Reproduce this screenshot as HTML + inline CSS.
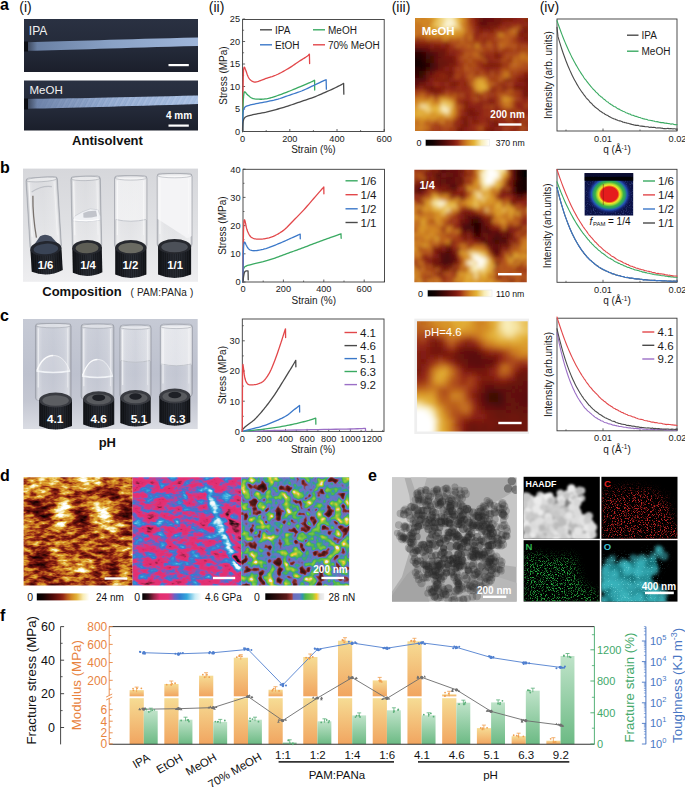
<!DOCTYPE html><html><head><meta charset="utf-8"><style>html,body{margin:0;padding:0;background:#fff;width:685px;height:787px;overflow:hidden}text{font-family:"Liberation Sans",sans-serif}</style></head><body><svg width="685" height="787" viewBox="0 0 685 787" style="display:block;font-family:'Liberation Sans',sans-serif">
<defs><linearGradient id="gOr" x1="0" y1="0" x2="0" y2="1"><stop offset="0" stop-color="#f6dc94"/><stop offset="1" stop-color="#f1a560"/></linearGradient><linearGradient id="gGr" x1="0" y1="0" x2="0" y2="1"><stop offset="0" stop-color="#bfe3c9"/><stop offset="1" stop-color="#6cba84"/></linearGradient><linearGradient id="phbg" x1="0" y1="0" x2="0" y2="1"><stop offset="0" stop-color="#2a3142"/><stop offset="0.6" stop-color="#232938"/><stop offset="1" stop-color="#1b1f2b"/></linearGradient><linearGradient id="fib1" x1="0" y1="0" x2="1" y2="0"><stop offset="0" stop-color="#3a4458"/><stop offset="0.06" stop-color="#6a80a4"/><stop offset="0.5" stop-color="#8aa2c6"/><stop offset="1" stop-color="#9fb6da"/></linearGradient><linearGradient id="fib2" x1="0" y1="0" x2="1" y2="0"><stop offset="0" stop-color="#3a4458"/><stop offset="0.06" stop-color="#6d82a8"/><stop offset="0.5" stop-color="#8ea6cc"/><stop offset="1" stop-color="#a4bce0"/></linearGradient><pattern id="fibtex" width="5" height="9" patternUnits="userSpaceOnUse" patternTransform="rotate(28)"><rect width="5" height="9" fill="none"/><line x1="1" y1="0" x2="1" y2="9" stroke="#dce8ff" stroke-width="0.7" opacity="0.6"/><line x1="3.2" y1="0" x2="3.2" y2="9" stroke="#c8d8f4" stroke-width="0.5" opacity="0.45"/></pattern><linearGradient id="fibmaskg" x1="0" y1="0" x2="1" y2="0"><stop offset="0" stop-color="#fff" stop-opacity="0"/><stop offset="0.2" stop-color="#fff" stop-opacity="0.5"/><stop offset="0.6" stop-color="#fff" stop-opacity="1"/></linearGradient><mask id="fibmask" maskUnits="userSpaceOnUse" x="24" y="90" width="174" height="25"><rect x="30" y="90" width="168" height="25" fill="url(#fibmaskg)"/></mask><linearGradient id="bgB" x1="0" y1="0" x2="0" y2="1"><stop offset="0" stop-color="#d6d7db"/><stop offset="0.5" stop-color="#dfe0e3"/><stop offset="1" stop-color="#eeeef0"/></linearGradient><linearGradient id="bgC" x1="0" y1="0" x2="0" y2="1"><stop offset="0" stop-color="#c6cad5"/><stop offset="0.5" stop-color="#bdc1ce"/><stop offset="0.75" stop-color="#c4c7d2"/><stop offset="1" stop-color="#dadce3"/></linearGradient><linearGradient id="glass" x1="0" y1="0" x2="1" y2="0"><stop offset="0" stop-color="#8c9098" stop-opacity="0.55"/><stop offset="0.08" stop-color="#ffffff" stop-opacity="0.35"/><stop offset="0.2" stop-color="#ffffff" stop-opacity="0.15"/><stop offset="0.5" stop-color="#ffffff" stop-opacity="0.08"/><stop offset="0.8" stop-color="#ffffff" stop-opacity="0.2"/><stop offset="0.93" stop-color="#ffffff" stop-opacity="0.4"/><stop offset="1" stop-color="#80848c" stop-opacity="0.55"/></linearGradient><linearGradient id="cap" x1="0" y1="0" x2="1" y2="0"><stop offset="0" stop-color="#121418"/><stop offset="0.3" stop-color="#22252c"/><stop offset="0.6" stop-color="#2a2e36"/><stop offset="1" stop-color="#15171c"/></linearGradient><pattern id="ribs" width="2.2" height="10" patternUnits="userSpaceOnUse"><rect width="2.2" height="10" fill="none"/><rect x="0" width="0.8" height="10" fill="#000" opacity="0.35"/></pattern><linearGradient id="gel" x1="0" y1="0" x2="1" y2="0"><stop offset="0" stop-color="#f4f4f6" stop-opacity="0.65"/><stop offset="0.5" stop-color="#ffffff" stop-opacity="0.5"/><stop offset="1" stop-color="#f0f0f2" stop-opacity="0.7"/></linearGradient><linearGradient id="gel2" x1="0" y1="0" x2="1" y2="0"><stop offset="0" stop-color="#f4f4f6" stop-opacity="0.35"/><stop offset="0.5" stop-color="#ffffff" stop-opacity="0.2"/><stop offset="1" stop-color="#f0f0f2" stop-opacity="0.4"/></linearGradient><linearGradient id="afmcb" x1="0" y1="0" x2="1" y2="0"><stop offset="0" stop-color="#000000"/><stop offset="0.12" stop-color="#140202"/><stop offset="0.3" stop-color="#4e0a08"/><stop offset="0.44" stop-color="#7d1a10"/><stop offset="0.5" stop-color="#962a16"/><stop offset="0.58" stop-color="#b95c1e"/><stop offset="0.66" stop-color="#d28723"/><stop offset="0.76" stop-color="#e4b237"/><stop offset="0.88" stop-color="#f8ecb4"/><stop offset="1.0" stop-color="#ffffff"/></linearGradient><clipPath id="hc1"><rect x="415" y="18" width="113" height="113"/></clipPath><filter id="hb1" x="-5%" y="-5%" width="110%" height="110%"><feGaussianBlur stdDeviation="2.26"/></filter><clipPath id="hc2"><rect x="414.3" y="169.7" width="112.5" height="112.6"/></clipPath><filter id="hb2" x="-5%" y="-5%" width="110%" height="110%"><feGaussianBlur stdDeviation="2.11"/></filter><clipPath id="hc3"><rect x="417" y="321.2" width="110.7" height="110.2"/></clipPath><filter id="hb3" x="-5%" y="-5%" width="110%" height="110%"><feGaussianBlur stdDeviation="2.54"/></filter><linearGradient id="d2cb" x1="0" y1="0" x2="1" y2="0"><stop offset="0" stop-color="#000000"/><stop offset="0.1" stop-color="#301018"/><stop offset="0.2" stop-color="#962446"/><stop offset="0.3" stop-color="#e22e70"/><stop offset="0.44" stop-color="#e43276"/><stop offset="0.5" stop-color="#b4469c"/><stop offset="0.55" stop-color="#6e60c4"/><stop offset="0.64" stop-color="#327cd0"/><stop offset="0.76" stop-color="#34a8dc"/><stop offset="0.9" stop-color="#c8ecf6"/><stop offset="1.0" stop-color="#fafcfc"/></linearGradient><linearGradient id="d3cb" x1="0" y1="0" x2="1" y2="0"><stop offset="0" stop-color="#000000"/><stop offset="0.2" stop-color="#300e0e"/><stop offset="0.36" stop-color="#5a1a1a"/><stop offset="0.45" stop-color="#a03c3c"/><stop offset="0.48" stop-color="#6e6ebe"/><stop offset="0.58" stop-color="#6878c4"/><stop offset="0.63" stop-color="#3096aa"/><stop offset="0.68" stop-color="#4cb44c"/><stop offset="0.8" stop-color="#8cca3c"/><stop offset="0.87" stop-color="#f2c828"/><stop offset="0.93" stop-color="#e4e4e4"/><stop offset="1.0" stop-color="#f0f0f0"/></linearGradient><clipPath id="hc4"><rect x="23.6" y="477.3" width="109" height="108.3"/></clipPath><filter id="hf4" filterUnits="userSpaceOnUse" x="18.645454545454548" y="472.3772727272727" width="118.9090909090909" height="118.14545454545454" color-interpolation-filters="sRGB"><feGaussianBlur in="SourceGraphic" stdDeviation="2.46" result="b"/><feTurbulence type="fractalNoise" baseFrequency="0.1 0.22" numOctaves="3" seed="11" result="t"/><feColorMatrix in="t" type="matrix" values="1 0 0 0 0 1 0 0 0 0 1 0 0 0 0 0 0 0 0 1" result="tg"/><feComposite in="b" in2="tg" operator="arithmetic" k1="0" k2="1" k3="0.9" k4="-0.45" result="hh"/><feComponentTransfer in="hh"><feFuncR type="table" tableValues="0.000 0.020 0.041 0.061 0.085 0.124 0.164 0.203 0.243 0.282 0.322 0.363 0.405 0.446 0.487 0.537 0.588 0.642 0.695 0.742 0.781 0.819 0.843 0.865 0.887 0.908 0.928 0.949 0.969 0.979 0.986 0.993 1.000"/><feFuncG type="table" tableValues="0.000 0.002 0.004 0.006 0.009 0.014 0.020 0.025 0.031 0.036 0.045 0.059 0.073 0.087 0.101 0.132 0.165 0.241 0.318 0.390 0.456 0.522 0.576 0.628 0.681 0.738 0.798 0.857 0.916 0.942 0.961 0.981 1.000"/><feFuncB type="table" tableValues="0.000 0.002 0.004 0.006 0.008 0.013 0.017 0.021 0.025 0.029 0.034 0.041 0.048 0.055 0.062 0.074 0.086 0.099 0.111 0.121 0.129 0.136 0.159 0.183 0.208 0.302 0.430 0.558 0.685 0.770 0.847 0.923 1.000"/></feComponentTransfer></filter><clipPath id="hc5"><rect x="132.6" y="477.3" width="108.6" height="108.3"/></clipPath><filter id="hf5" filterUnits="userSpaceOnUse" x="125.8125" y="470.53125" width="122.175" height="121.83749999999999" color-interpolation-filters="sRGB"><feGaussianBlur in="SourceGraphic" stdDeviation="1.30" result="b"/><feTurbulence type="fractalNoise" baseFrequency="0.09 0.15" numOctaves="3" seed="21" result="t"/><feColorMatrix in="t" type="matrix" values="1 0 0 0 0 1 0 0 0 0 1 0 0 0 0 0 0 0 0 1" result="tg"/><feComposite in="b" in2="tg" operator="arithmetic" k1="0" k2="1" k3="0.9" k4="-0.45" result="hh"/><feComponentTransfer in="hh"><feFuncR type="table" tableValues="0.000 0.059 0.118 0.176 0.288 0.413 0.538 0.644 0.737 0.830 0.887 0.889 0.890 0.892 0.894 0.804 0.706 0.534 0.399 0.317 0.235 0.197 0.199 0.201 0.203 0.292 0.422 0.551 0.681 0.797 0.858 0.919 0.980"/><feFuncG type="table" tableValues="0.000 0.020 0.039 0.059 0.082 0.107 0.131 0.149 0.161 0.173 0.182 0.185 0.189 0.192 0.196 0.234 0.275 0.338 0.392 0.430 0.468 0.510 0.555 0.600 0.644 0.699 0.759 0.818 0.878 0.929 0.949 0.969 0.988"/><feFuncB type="table" tableValues="0.000 0.029 0.059 0.088 0.139 0.196 0.252 0.305 0.357 0.408 0.441 0.447 0.452 0.457 0.462 0.534 0.612 0.710 0.775 0.792 0.808 0.822 0.834 0.847 0.859 0.878 0.901 0.924 0.946 0.966 0.974 0.981 0.988"/></feComponentTransfer></filter><clipPath id="hc6"><rect x="241.2" y="477.3" width="108" height="108.3"/></clipPath><filter id="hf6" filterUnits="userSpaceOnUse" x="227.7" y="463.7625" width="135.0" height="135.375" color-interpolation-filters="sRGB"><feGaussianBlur in="SourceGraphic" stdDeviation="6.75" result="b"/><feTurbulence type="fractalNoise" baseFrequency="0.12" numOctaves="2" seed="33" result="t"/><feColorMatrix in="t" type="matrix" values="1 0 0 0 0 1 0 0 0 0 1 0 0 0 0 0 0 0 0 1" result="tg"/><feComposite in="b" in2="tg" operator="arithmetic" k1="0" k2="1" k3="1.15" k4="-0.575" result="hh"/><feComponentTransfer in="hh"><feFuncR type="table" tableValues="0.000 0.029 0.059 0.088 0.118 0.147 0.176 0.208 0.240 0.272 0.304 0.336 0.399 0.494 0.589 0.505 0.427 0.419 0.412 0.347 0.210 0.246 0.314 0.379 0.444 0.510 0.620 0.799 0.944 0.916 0.899 0.920 0.941"/><feFuncG type="table" tableValues="0.000 0.009 0.017 0.026 0.034 0.043 0.051 0.060 0.070 0.079 0.088 0.097 0.124 0.170 0.217 0.358 0.439 0.451 0.464 0.503 0.576 0.650 0.711 0.734 0.756 0.779 0.791 0.787 0.793 0.851 0.899 0.920 0.941"/><feFuncB type="table" tableValues="0.000 0.009 0.017 0.026 0.034 0.043 0.051 0.060 0.070 0.079 0.088 0.097 0.124 0.170 0.217 0.554 0.750 0.757 0.765 0.741 0.677 0.473 0.294 0.278 0.261 0.245 0.221 0.186 0.218 0.602 0.899 0.920 0.941"/></feComponentTransfer></filter><clipPath id="temc"><rect x="391.9" y="477.3" width="124.9" height="124.5"/></clipPath><filter id="temblur" x="-10%" y="-10%" width="120%" height="120%"><feGaussianBlur stdDeviation="0.55"/></filter><clipPath id="hdc"><rect x="523.6" y="476.8" width="76.2" height="62.0"/></clipPath><filter id="hdb" x="-10%" y="-10%" width="120%" height="120%"><feGaussianBlur stdDeviation="0.85"/></filter><filter id="spC" filterUnits="userSpaceOnUse" x="520" y="470" width="165" height="140" color-interpolation-filters="sRGB"><feTurbulence type="fractalNoise" baseFrequency="1.3" numOctaves="1" seed="4" result="t"/><feColorMatrix in="t" type="matrix" values="0 0 0 0 0.784 0 0 0 0 0.141 0 0 0 0 0.141 6 0 0 0 -3.1" result="dots"/><feGaussianBlur in="SourceGraphic" stdDeviation="5" result="m"/><feComposite in="dots" in2="m" operator="in"/></filter><clipPath id="cpC"><rect x="601.4" y="476.8" width="76.1" height="62.0"/></clipPath><filter id="spN" filterUnits="userSpaceOnUse" x="520" y="470" width="165" height="140" color-interpolation-filters="sRGB"><feTurbulence type="fractalNoise" baseFrequency="1.3" numOctaves="1" seed="5" result="t"/><feColorMatrix in="t" type="matrix" values="0 0 0 0 0.141 0 0 0 0 0.667 0 0 0 0 0.251 6 0 0 0 -3.1" result="dots"/><feGaussianBlur in="SourceGraphic" stdDeviation="5" result="m"/><feComposite in="dots" in2="m" operator="in"/></filter><clipPath id="cpN"><rect x="523.6" y="540.2" width="76.2" height="61.4"/></clipPath><clipPath id="cpO"><rect x="601.4" y="540.2" width="76.1" height="61.4"/></clipPath><filter id="ob" x="-10%" y="-10%" width="120%" height="120%"><feGaussianBlur stdDeviation="1.6"/></filter><filter id="spO" filterUnits="userSpaceOnUse" x="520" y="470" width="165" height="140" color-interpolation-filters="sRGB"><feTurbulence type="fractalNoise" baseFrequency="1.3" numOctaves="1" seed="8" result="t"/><feColorMatrix in="t" type="matrix" values="0 0 0 0 0.431 0 0 0 0 0.824 0 0 0 0 0.843 5 0 0 0 -3.0" result="dots"/><feGaussianBlur in="SourceGraphic" stdDeviation="4" result="m"/><feComposite in="dots" in2="m" operator="in"/></filter><radialGradient id="saxs" cx="0.5" cy="0.5" r="0.5"><stop offset="0" stop-color="#e51d1d"/><stop offset="0.36" stop-color="#e51d1d"/><stop offset="0.40" stop-color="#f07a18"/><stop offset="0.45" stop-color="#f2e62a"/><stop offset="0.52" stop-color="#a8d834"/><stop offset="0.6" stop-color="#3cb446"/><stop offset="0.68" stop-color="#2a9c6a"/><stop offset="0.76" stop-color="#2456b8"/><stop offset="0.88" stop-color="#142070" stop-opacity="0.6"/><stop offset="1" stop-color="#0b1348" stop-opacity="0"/></radialGradient><clipPath id="saxc"><rect x="584.4" y="173.1" width="49" height="42.6"/></clipPath><filter id="saxn" filterUnits="userSpaceOnUse" x="584" y="173" width="50" height="43"><feTurbulence type="fractalNoise" baseFrequency="0.9" numOctaves="1" seed="4" result="t"/><feColorMatrix in="t" type="matrix" values="0 0 0 0 0.3 0 0 0 0 0.45 0 0 0 0 1 3 0 0 0 -1.5"/></filter></defs>
<style>.hm1 rect{width:4.17px;height:4.17px}.hm2 rect{width:3.92px;height:3.92px}.hm3 rect{width:4.66px;height:4.64px}.hm4 rect{width:5.35px;height:5.32px}.hm5 rect{width:7.19px;height:7.17px}.hm6 rect{width:13.90px;height:13.94px}</style>
<rect width="685" height="787" fill="#fff"/>
<rect x="24" y="19" width="174" height="53" fill="url(#phbg)"/>
<rect x="24" y="80.5" width="174" height="50" fill="url(#phbg)"/>
<path d="M27,42.2 C70,41.5 120,39.3 198,37.6 L198,45.9 C120,47.9 70,49.8 27,50.8 Z" fill="url(#fib1)"/>
<rect x="24" y="41.5" width="4" height="10" fill="#0c0e14"/>
<path d="M27,99 C70,98.6 120,97.6 198,95.6 L198,104 C120,106.5 70,107.8 27,108.8 Z" fill="url(#fib2)"/>
<path d="M30,99 C70,98.6 120,97.6 198,95.6 L198,104 C120,106.5 70,107.8 30,108.8 Z" fill="url(#fibtex)" mask="url(#fibmask)"/>
<rect x="24" y="98.5" width="4" height="11" fill="#0c0e14"/>
<text x="28.8" y="35" font-size="12" fill="#f2f2f2">IPA</text>
<text x="29.5" y="94.2" font-size="11.5" fill="#f2f2f2">MeOH</text>
<rect x="168.5" y="64" width="20.3" height="2.2" fill="#fff"/>
<rect x="168.5" y="124.5" width="20.3" height="2.2" fill="#fff"/>
<text x="179" y="119.3" font-size="10" font-weight="bold" fill="#fff" text-anchor="middle">4 mm</text>
<text x="107.5" y="145.3" font-size="13" font-weight="bold" fill="#111" text-anchor="middle">Antisolvent</text>
<rect x="23" y="168.6" width="175" height="113.2" fill="url(#bgB)"/>
<g transform="rotate(-3.5 44.5 226.1)"><rect x="28.75" y="177.20" width="31.50" height="71.80" rx="3" fill="url(#glass)" stroke="#7e828c" stroke-opacity="0.45" stroke-width="0.8"/><path d="M30.75,247.00 L39.50,236.00 Q44.50,233.00 50.50,237.00 L58.75,247.00 Z" fill="#3c4658" opacity="0.95"/><path d="M34.75,195.20 Q33.25,215.20 35.75,237.20" stroke="#4a4038" stroke-width="1.3" fill="none" opacity="0.7"/><path d="M33.75,191.20 Q44.50,185.20 54.25,187.20" stroke="#a8acb4" stroke-width="1.2" fill="none" opacity="0.6"/><ellipse cx="44.50" cy="179.40" rx="15.35" ry="2.2" fill="#ffffff" fill-opacity="0.35" stroke="#8a8e98" stroke-opacity="0.6" stroke-width="0.7"/><rect x="30.95" y="182.20" width="1.2" height="53.80" fill="#fff" opacity="0.55"/><rect x="56.25" y="182.20" width="1" height="53.80" fill="#fff" opacity="0.4"/><path d="M29.00,248.50 L29.00,271.00 Q44.50,278.00 60.00,271.00 L60.00,248.50 Z" fill="url(#cap)"/><path d="M29.00,248.50 L29.00,271.00 Q44.50,278.00 60.00,271.00 L60.00,248.50 Z" fill="url(#ribs)"/><ellipse cx="44.50" cy="248.50" rx="15.50" ry="7.5" fill="#23262e"/><ellipse cx="44.50" cy="249.00" rx="12.30" ry="5.3" fill="#3a4456"/></g>
<g transform="rotate(-1.2 86.6 226.35)"><rect x="71.85" y="176.20" width="29.50" height="71.80" rx="3" fill="url(#glass)" stroke="#7e828c" stroke-opacity="0.45" stroke-width="0.8"/><path d="M72.65,220.50 L74.85,216.00 Q82.60,211.00 90.60,209.00 L98.35,210.00 L100.55,216.50 L100.55,220.50 Q86.60,223.00 72.65,220.50 Z" fill="#f2f4f7" fill-opacity="0.8" stroke="#a0a4ae" stroke-opacity="0.5" stroke-width="0.6"/><path d="M83.60,213.00 Q88.60,210.50 96.35,211.00 L97.35,216.50 Q88.60,218.50 83.60,217.50 Z" fill="#8a8e98" fill-opacity="0.45"/><path d="M73.85,219.50 Q86.60,222.00 99.35,219.50" stroke="#ffffff" stroke-width="1" fill="none" opacity="0.9"/><ellipse cx="86.60" cy="178.40" rx="14.35" ry="2.2" fill="#ffffff" fill-opacity="0.35" stroke="#8a8e98" stroke-opacity="0.6" stroke-width="0.7"/><rect x="74.05" y="181.20" width="1.2" height="53.80" fill="#fff" opacity="0.55"/><rect x="97.35" y="181.20" width="1" height="53.80" fill="#fff" opacity="0.4"/><path d="M71.85,247.50 L71.85,272.50 Q86.60,279.50 101.35,272.50 L101.35,247.50 Z" fill="url(#cap)"/><path d="M71.85,247.50 L71.85,272.50 Q86.60,279.50 101.35,272.50 L101.35,247.50 Z" fill="url(#ribs)"/><ellipse cx="86.60" cy="247.50" rx="14.75" ry="7.5" fill="#26282e"/><ellipse cx="86.60" cy="248.00" rx="11.55" ry="5.3" fill="#5e5e56"/></g>
<g transform="rotate(0 130.8 227.15)"><rect x="114.55" y="175.70" width="32.50" height="72.30" rx="3" fill="url(#glass)" stroke="#7e828c" stroke-opacity="0.45" stroke-width="0.8"/><path d="M115.15,177.70 L146.45,177.70 L146.45,220.00 Q130.80,223.00 115.15,220.00 Z" fill="url(#gel)"/><path d="M115.55,219.50 Q130.80,223.00 146.05,219.50" stroke="#b8bcc4" stroke-width="0.9" fill="none" opacity="0.9"/><ellipse cx="130.80" cy="177.90" rx="15.85" ry="2.2" fill="#ffffff" fill-opacity="0.35" stroke="#8a8e98" stroke-opacity="0.6" stroke-width="0.7"/><rect x="116.75" y="180.70" width="1.2" height="54.30" fill="#fff" opacity="0.55"/><rect x="143.05" y="180.70" width="1" height="54.30" fill="#fff" opacity="0.4"/><path d="M115.20,247.50 L115.20,274.60 Q130.80,281.60 146.40,274.60 L146.40,247.50 Z" fill="url(#cap)"/><path d="M115.20,247.50 L115.20,274.60 Q130.80,281.60 146.40,274.60 L146.40,247.50 Z" fill="url(#ribs)"/><ellipse cx="130.80" cy="247.50" rx="15.60" ry="7.5" fill="#26282e"/><ellipse cx="130.80" cy="248.00" rx="12.40" ry="5.3" fill="#6a6a62"/></g>
<g transform="rotate(0 174.6 226.0)"><rect x="157.10" y="173.40" width="35.00" height="73.60" rx="3" fill="url(#glass)" stroke="#7e828c" stroke-opacity="0.45" stroke-width="0.8"/><path d="M157.70,175.40 L191.50,175.40 L191.50,236.00 Q187.10,240.00 184.10,236.00 L157.70,219.00 Z" fill="#f4f4f6"/><ellipse cx="174.60" cy="175.60" rx="17.10" ry="2.2" fill="#ffffff" fill-opacity="0.35" stroke="#8a8e98" stroke-opacity="0.6" stroke-width="0.7"/><rect x="159.30" y="178.40" width="1.2" height="55.60" fill="#fff" opacity="0.55"/><rect x="188.10" y="178.40" width="1" height="55.60" fill="#fff" opacity="0.4"/><path d="M158.10,246.50 L158.10,274.60 Q174.60,281.60 191.10,274.60 L191.10,246.50 Z" fill="url(#cap)"/><path d="M158.10,246.50 L158.10,274.60 Q174.60,281.60 191.10,274.60 L191.10,246.50 Z" fill="url(#ribs)"/><ellipse cx="174.60" cy="246.50" rx="16.50" ry="7.5" fill="#26282e"/><ellipse cx="174.60" cy="247.00" rx="13.30" ry="5.3" fill="#4c5058"/></g>
<text x="45.5" y="268.6" font-size="11.3" font-weight="bold" fill="#fff" text-anchor="middle">1/6</text>
<text x="88" y="268.6" font-size="11.3" font-weight="bold" fill="#fff" text-anchor="middle">1/4</text>
<text x="130.4" y="268.6" font-size="11.3" font-weight="bold" fill="#fff" text-anchor="middle">1/2</text>
<text x="175.2" y="268.6" font-size="11.3" font-weight="bold" fill="#fff" text-anchor="middle">1/1</text>
<text x="82" y="296" font-size="13" font-weight="bold" fill="#111" text-anchor="middle">Composition</text>
<text x="162" y="295.5" font-size="10" fill="#222" text-anchor="middle" letter-spacing="0.1">(<tspan dx="3">PAM:PANa</tspan><tspan dx="3">)</tspan></text>
<rect x="23" y="319" width="174.7" height="110" fill="url(#bgC)"/>
<g transform="rotate(0 53.3 376.7)"><rect x="35.45" y="323.40" width="35.70" height="77.10" rx="3" fill="url(#glass)" stroke="#7e828c" stroke-opacity="0.45" stroke-width="0.8"/><path d="M36.45,371.00 C41.45,358.20 47.30,355.00 53.30,355.00 C59.30,355.00 65.15,358.20 70.15,371.00 Q53.30,374.00 36.45,371.00 Z" fill="#ffffff" fill-opacity="0.16"/><path d="M36.95,370.50 C41.45,359.00 47.30,355.50 53.30,355.50" stroke="#ffffff" stroke-width="1.3" fill="none" opacity="0.9"/><path d="M53.30,355.50 C59.30,355.50 65.15,359.00 69.65,370.50" stroke="#ffffff" stroke-width="0.9" fill="none" opacity="0.6"/><path d="M36.45,371.00 Q53.30,374.00 70.15,371.00" stroke="#f4f6fa" stroke-width="1.4" fill="none" opacity="0.9"/><ellipse cx="53.30" cy="325.60" rx="17.45" ry="2.2" fill="#ffffff" fill-opacity="0.35" stroke="#8a8e98" stroke-opacity="0.6" stroke-width="0.7"/><rect x="37.65" y="328.40" width="1.2" height="59.10" fill="#fff" opacity="0.55"/><rect x="67.15" y="328.40" width="1" height="59.10" fill="#fff" opacity="0.4"/><path d="M39.20,400.00 L39.20,426.00 Q55.60,433.00 72.00,426.00 L72.00,400.00 Z" fill="url(#cap)"/><path d="M39.20,400.00 L39.20,426.00 Q55.60,433.00 72.00,426.00 L72.00,400.00 Z" fill="url(#ribs)"/><ellipse cx="55.60" cy="400.00" rx="16.40" ry="7.5" fill="#3a3c42"/><ellipse cx="55.60" cy="400.50" rx="13.20" ry="5.3" fill="#5c5e62"/></g>
<g transform="rotate(0 97.5 376.3)"><rect x="81.00" y="324.00" width="33.00" height="75.20" rx="3" fill="url(#glass)" stroke="#7e828c" stroke-opacity="0.45" stroke-width="0.8"/><path d="M82.00,376.00 C87.00,362.40 91.50,359.00 97.50,359.00 C103.50,359.00 108.00,362.40 113.00,376.00 Q97.50,379.00 82.00,376.00 Z" fill="#ffffff" fill-opacity="0.16"/><path d="M82.50,375.50 C87.00,363.25 91.50,359.50 97.50,359.50" stroke="#ffffff" stroke-width="1.3" fill="none" opacity="0.9"/><path d="M97.50,359.50 C103.50,359.50 108.00,363.25 112.50,375.50" stroke="#ffffff" stroke-width="0.9" fill="none" opacity="0.6"/><path d="M82.00,376.00 Q97.50,379.00 113.00,376.00" stroke="#f4f6fa" stroke-width="1.4" fill="none" opacity="0.9"/><ellipse cx="97.50" cy="326.20" rx="16.10" ry="2.2" fill="#ffffff" fill-opacity="0.35" stroke="#8a8e98" stroke-opacity="0.6" stroke-width="0.7"/><rect x="83.20" y="329.00" width="1.2" height="57.20" fill="#fff" opacity="0.55"/><rect x="110.00" y="329.00" width="1" height="57.20" fill="#fff" opacity="0.4"/><path d="M83.20,398.70 L83.20,424.60 Q98.70,431.60 114.20,424.60 L114.20,398.70 Z" fill="url(#cap)"/><path d="M83.20,398.70 L83.20,424.60 Q98.70,431.60 114.20,424.60 L114.20,398.70 Z" fill="url(#ribs)"/><ellipse cx="98.70" cy="398.70" rx="15.50" ry="7.5" fill="#3a3c42"/><ellipse cx="98.70" cy="399.20" rx="12.30" ry="5.3" fill="#585a5e"/><ellipse cx="98.70" cy="397.70" rx="6.50" ry="3.3" fill="#1e2026"/></g>
<g transform="rotate(0 135.5 376.0)"><rect x="119.85" y="325.00" width="31.30" height="73.00" rx="3" fill="url(#glass)" stroke="#7e828c" stroke-opacity="0.45" stroke-width="0.8"/><path d="M120.45,327.00 L150.55,327.00 L150.55,361.00 Q135.50,364.00 120.45,361.00 Z" fill="url(#gel2)"/><path d="M120.85,360.50 Q135.50,364.00 150.15,360.50" stroke="#b8bcc4" stroke-width="0.9" fill="none" opacity="0.9"/><ellipse cx="135.50" cy="327.20" rx="15.25" ry="2.2" fill="#ffffff" fill-opacity="0.35" stroke="#8a8e98" stroke-opacity="0.6" stroke-width="0.7"/><rect x="122.05" y="330.00" width="1.2" height="55.00" fill="#fff" opacity="0.55"/><rect x="147.15" y="330.00" width="1" height="55.00" fill="#fff" opacity="0.4"/><path d="M120.30,397.50 L120.30,423.00 Q135.50,430.00 150.70,423.00 L150.70,397.50 Z" fill="url(#cap)"/><path d="M120.30,397.50 L120.30,423.00 Q135.50,430.00 150.70,423.00 L150.70,397.50 Z" fill="url(#ribs)"/><ellipse cx="135.50" cy="397.50" rx="15.20" ry="7.5" fill="#3a3c42"/><ellipse cx="135.50" cy="398.00" rx="12.00" ry="5.3" fill="#585a5e"/><ellipse cx="135.50" cy="396.50" rx="6.20" ry="3.3" fill="#1e2026"/></g>
<g transform="rotate(0 176.3 375.25)"><rect x="160.25" y="324.20" width="32.10" height="72.30" rx="3" fill="url(#glass)" stroke="#7e828c" stroke-opacity="0.45" stroke-width="0.8"/><path d="M160.85,326.20 L191.75,326.20 L191.75,364.50 Q176.30,367.50 160.85,364.50 Z" fill="url(#gel)"/><path d="M161.25,364.00 Q176.30,367.50 191.35,364.00" stroke="#b8bcc4" stroke-width="0.9" fill="none" opacity="0.9"/><ellipse cx="176.30" cy="326.40" rx="15.65" ry="2.2" fill="#ffffff" fill-opacity="0.35" stroke="#8a8e98" stroke-opacity="0.6" stroke-width="0.7"/><rect x="162.45" y="329.20" width="1.2" height="54.30" fill="#fff" opacity="0.55"/><rect x="188.35" y="329.20" width="1" height="54.30" fill="#fff" opacity="0.4"/><path d="M159.30,396.00 L159.30,422.30 Q174.80,429.30 190.30,422.30 L190.30,396.00 Z" fill="url(#cap)"/><path d="M159.30,396.00 L159.30,422.30 Q174.80,429.30 190.30,422.30 L190.30,396.00 Z" fill="url(#ribs)"/><ellipse cx="174.80" cy="396.00" rx="15.50" ry="7.5" fill="#3a3c42"/><ellipse cx="174.80" cy="396.50" rx="12.30" ry="5.3" fill="#585a5e"/><ellipse cx="174.80" cy="395.00" rx="6.50" ry="3.3" fill="#1e2026"/></g>
<text x="55.2" y="422.7" font-size="11.8" font-weight="bold" fill="#fff" text-anchor="middle">4.1</text>
<text x="98.7" y="422.7" font-size="11.8" font-weight="bold" fill="#fff" text-anchor="middle">4.6</text>
<text x="139" y="422.7" font-size="11.8" font-weight="bold" fill="#fff" text-anchor="middle">5.1</text>
<text x="177.4" y="422.7" font-size="11.8" font-weight="bold" fill="#fff" text-anchor="middle">6.3</text>
<text x="107.3" y="447" font-size="13" font-weight="bold" fill="#111" text-anchor="middle">pH</text>
<g clip-path="url(#hc1)"><g class="hm1" filter="url(#hb1)" shape-rendering="crispEdges"><rect x="411.2" y="14.2" fill="#cd7e22"/><rect x="415.0" y="14.2" fill="#d18623"/><rect x="418.8" y="14.2" fill="#cd7f22"/><rect x="422.5" y="14.2" fill="#c0691f"/><rect x="426.3" y="14.2" fill="#db9c2d"/><rect x="430.1" y="14.2" fill="#dea430"/><rect x="433.8" y="14.2" fill="#dfa732"/><rect x="437.6" y="14.2" fill="#eece74"/><rect x="441.4" y="14.2" fill="#f4e09a"/><rect x="445.1" y="14.2" fill="#f8ecb6"/><rect x="448.9" y="14.2" fill="#f7e9ad"/><rect x="452.7" y="14.2" fill="#f4df98"/><rect x="456.4" y="14.2" fill="#e1aa33"/><rect x="460.2" y="14.2" fill="#d69228"/><rect x="464.0" y="14.2" fill="#bf661f"/><rect x="467.7" y="14.2" fill="#b2521c"/><rect x="471.5" y="14.2" fill="#8d2514"/><rect x="475.3" y="14.2" fill="#75170f"/><rect x="479.0" y="14.2" fill="#63110c"/><rect x="482.8" y="14.2" fill="#64120c"/><rect x="486.6" y="14.2" fill="#67120c"/><rect x="490.3" y="14.2" fill="#66120c"/><rect x="494.1" y="14.2" fill="#7f1b10"/><rect x="497.9" y="14.2" fill="#831e11"/><rect x="501.6" y="14.2" fill="#5d0f0b"/><rect x="505.4" y="14.2" fill="#6c140d"/><rect x="509.2" y="14.2" fill="#862012"/><rect x="512.9" y="14.2" fill="#861f12"/><rect x="516.7" y="14.2" fill="#902615"/><rect x="520.5" y="14.2" fill="#912715"/><rect x="524.2" y="14.2" fill="#ae4c1b"/><rect x="528.0" y="14.2" fill="#7e1a10"/><rect x="411.2" y="18.0" fill="#c36d20"/><rect x="415.0" y="18.0" fill="#d8962a"/><rect x="418.8" y="18.0" fill="#cf8222"/><rect x="422.5" y="18.0" fill="#d48b25"/><rect x="426.3" y="18.0" fill="#d18523"/><rect x="430.1" y="18.0" fill="#d08423"/><rect x="433.8" y="18.0" fill="#e5b43b"/><rect x="437.6" y="18.0" fill="#edcd71"/><rect x="441.4" y="18.0" fill="#efd17b"/><rect x="445.1" y="18.0" fill="#f8edb8"/><rect x="448.9" y="18.0" fill="#faf1c9"/><rect x="452.7" y="18.0" fill="#f1d788"/><rect x="456.4" y="18.0" fill="#e8bf53"/><rect x="460.2" y="18.0" fill="#da9a2c"/><rect x="464.0" y="18.0" fill="#c47020"/><rect x="467.7" y="18.0" fill="#9f3718"/><rect x="471.5" y="18.0" fill="#932815"/><rect x="475.3" y="18.0" fill="#811d11"/><rect x="479.0" y="18.0" fill="#6e150d"/><rect x="482.8" y="18.0" fill="#5b0e0a"/><rect x="486.6" y="18.0" fill="#6c140d"/><rect x="490.3" y="18.0" fill="#61100b"/><rect x="494.1" y="18.0" fill="#76180f"/><rect x="497.9" y="18.0" fill="#66120c"/><rect x="501.6" y="18.0" fill="#862012"/><rect x="505.4" y="18.0" fill="#801c11"/><rect x="509.2" y="18.0" fill="#75170f"/><rect x="512.9" y="18.0" fill="#851f12"/><rect x="516.7" y="18.0" fill="#8c2414"/><rect x="520.5" y="18.0" fill="#902615"/><rect x="524.2" y="18.0" fill="#7e1b10"/><rect x="528.0" y="18.0" fill="#7d1a10"/><rect x="411.2" y="21.8" fill="#cc7d22"/><rect x="415.0" y="21.8" fill="#c47020"/><rect x="418.8" y="21.8" fill="#ce7f22"/><rect x="422.5" y="21.8" fill="#d68f27"/><rect x="426.3" y="21.8" fill="#c67321"/><rect x="430.1" y="21.8" fill="#dea330"/><rect x="433.8" y="21.8" fill="#ebc765"/><rect x="437.6" y="21.8" fill="#ecc866"/><rect x="441.4" y="21.8" fill="#f2dc92"/><rect x="445.1" y="21.8" fill="#fcf7df"/><rect x="448.9" y="21.8" fill="#fbf5d9"/><rect x="452.7" y="21.8" fill="#faf2cb"/><rect x="456.4" y="21.8" fill="#e9c157"/><rect x="460.2" y="21.8" fill="#d28623"/><rect x="464.0" y="21.8" fill="#c67221"/><rect x="467.7" y="21.8" fill="#a53f19"/><rect x="471.5" y="21.8" fill="#9b3117"/><rect x="475.3" y="21.8" fill="#7d1a10"/><rect x="479.0" y="21.8" fill="#5c0f0a"/><rect x="482.8" y="21.8" fill="#5b0f0a"/><rect x="486.6" y="21.8" fill="#74170e"/><rect x="490.3" y="21.8" fill="#74170f"/><rect x="494.1" y="21.8" fill="#6b140d"/><rect x="497.9" y="21.8" fill="#79190f"/><rect x="501.6" y="21.8" fill="#872012"/><rect x="505.4" y="21.8" fill="#8f2514"/><rect x="509.2" y="21.8" fill="#9b3117"/><rect x="512.9" y="21.8" fill="#942815"/><rect x="516.7" y="21.8" fill="#8e2514"/><rect x="520.5" y="21.8" fill="#8b2313"/><rect x="524.2" y="21.8" fill="#9f3718"/><rect x="528.0" y="21.8" fill="#71160e"/><rect x="411.2" y="25.5" fill="#cc7d22"/><rect x="415.0" y="25.5" fill="#ce7f22"/><rect x="418.8" y="25.5" fill="#bf661f"/><rect x="422.5" y="25.5" fill="#d48c25"/><rect x="426.3" y="25.5" fill="#d18623"/><rect x="430.1" y="25.5" fill="#e0a933"/><rect x="433.8" y="25.5" fill="#e1aa33"/><rect x="437.6" y="25.5" fill="#edcc6f"/><rect x="441.4" y="25.5" fill="#f8ecb6"/><rect x="445.1" y="25.5" fill="#f9eebd"/><rect x="448.9" y="25.5" fill="#f5e29e"/><rect x="452.7" y="25.5" fill="#ebc661"/><rect x="456.4" y="25.5" fill="#f2db90"/><rect x="460.2" y="25.5" fill="#da992b"/><rect x="464.0" y="25.5" fill="#c26b20"/><rect x="467.7" y="25.5" fill="#b4551d"/><rect x="471.5" y="25.5" fill="#952916"/><rect x="475.3" y="25.5" fill="#902615"/><rect x="479.0" y="25.5" fill="#79190f"/><rect x="482.8" y="25.5" fill="#75170f"/><rect x="486.6" y="25.5" fill="#6d150d"/><rect x="490.3" y="25.5" fill="#801c11"/><rect x="494.1" y="25.5" fill="#74170e"/><rect x="497.9" y="25.5" fill="#942915"/><rect x="501.6" y="25.5" fill="#aa471b"/><rect x="505.4" y="25.5" fill="#882113"/><rect x="509.2" y="25.5" fill="#862012"/><rect x="512.9" y="25.5" fill="#ae4c1b"/><rect x="516.7" y="25.5" fill="#bb601e"/><rect x="520.5" y="25.5" fill="#811d11"/><rect x="524.2" y="25.5" fill="#7d1a10"/><rect x="528.0" y="25.5" fill="#982d16"/><rect x="411.2" y="29.3" fill="#c26c20"/><rect x="415.0" y="29.3" fill="#c67221"/><rect x="418.8" y="29.3" fill="#c87621"/><rect x="422.5" y="29.3" fill="#d38924"/><rect x="426.3" y="29.3" fill="#cd7e22"/><rect x="430.1" y="29.3" fill="#d69128"/><rect x="433.8" y="29.3" fill="#d89429"/><rect x="437.6" y="29.3" fill="#d9972a"/><rect x="441.4" y="29.3" fill="#e2ae35"/><rect x="445.1" y="29.3" fill="#e3b036"/><rect x="448.9" y="29.3" fill="#eac45e"/><rect x="452.7" y="29.3" fill="#e0a832"/><rect x="456.4" y="29.3" fill="#d89529"/><rect x="460.2" y="29.3" fill="#dea431"/><rect x="464.0" y="29.3" fill="#c67221"/><rect x="467.7" y="29.3" fill="#b3531d"/><rect x="471.5" y="29.3" fill="#a5401a"/><rect x="475.3" y="29.3" fill="#862012"/><rect x="479.0" y="29.3" fill="#7f1c11"/><rect x="482.8" y="29.3" fill="#862012"/><rect x="486.6" y="29.3" fill="#872112"/><rect x="490.3" y="29.3" fill="#7a1910"/><rect x="494.1" y="29.3" fill="#a13a19"/><rect x="497.9" y="29.3" fill="#962a16"/><rect x="501.6" y="29.3" fill="#982c16"/><rect x="505.4" y="29.3" fill="#a9461a"/><rect x="509.2" y="29.3" fill="#c26c20"/><rect x="512.9" y="29.3" fill="#cb7b22"/><rect x="516.7" y="29.3" fill="#851f12"/><rect x="520.5" y="29.3" fill="#8c2414"/><rect x="524.2" y="29.3" fill="#6c140d"/><rect x="528.0" y="29.3" fill="#882113"/><rect x="411.2" y="33.1" fill="#d18523"/><rect x="415.0" y="33.1" fill="#c46f20"/><rect x="418.8" y="33.1" fill="#c0681f"/><rect x="422.5" y="33.1" fill="#ca7921"/><rect x="426.3" y="33.1" fill="#d08323"/><rect x="430.1" y="33.1" fill="#d18623"/><rect x="433.8" y="33.1" fill="#dc9e2e"/><rect x="437.6" y="33.1" fill="#d38a24"/><rect x="441.4" y="33.1" fill="#d28623"/><rect x="445.1" y="33.1" fill="#d89529"/><rect x="448.9" y="33.1" fill="#da992b"/><rect x="452.7" y="33.1" fill="#da992b"/><rect x="456.4" y="33.1" fill="#d58f27"/><rect x="460.2" y="33.1" fill="#d18623"/><rect x="464.0" y="33.1" fill="#b04f1c"/><rect x="467.7" y="33.1" fill="#c26b20"/><rect x="471.5" y="33.1" fill="#9e3618"/><rect x="475.3" y="33.1" fill="#882113"/><rect x="479.0" y="33.1" fill="#9c3317"/><rect x="482.8" y="33.1" fill="#a6411a"/><rect x="486.6" y="33.1" fill="#9e3618"/><rect x="490.3" y="33.1" fill="#a23b19"/><rect x="494.1" y="33.1" fill="#9d3418"/><rect x="497.9" y="33.1" fill="#d48d26"/><rect x="501.6" y="33.1" fill="#c67221"/><rect x="505.4" y="33.1" fill="#b3531d"/><rect x="509.2" y="33.1" fill="#bc621f"/><rect x="512.9" y="33.1" fill="#b6571d"/><rect x="516.7" y="33.1" fill="#7f1b11"/><rect x="520.5" y="33.1" fill="#8b2313"/><rect x="524.2" y="33.1" fill="#7e1b10"/><rect x="528.0" y="33.1" fill="#992e17"/><rect x="411.2" y="36.8" fill="#be641f"/><rect x="415.0" y="36.8" fill="#882113"/><rect x="418.8" y="36.8" fill="#b1511c"/><rect x="422.5" y="36.8" fill="#982d16"/><rect x="426.3" y="36.8" fill="#bf671f"/><rect x="430.1" y="36.8" fill="#b4551d"/><rect x="433.8" y="36.8" fill="#bb5f1e"/><rect x="437.6" y="36.8" fill="#a5401a"/><rect x="441.4" y="36.8" fill="#ce8022"/><rect x="445.1" y="36.8" fill="#d38924"/><rect x="448.9" y="36.8" fill="#b3531d"/><rect x="452.7" y="36.8" fill="#c77321"/><rect x="456.4" y="36.8" fill="#bc611f"/><rect x="460.2" y="36.8" fill="#c16a20"/><rect x="464.0" y="36.8" fill="#ab481b"/><rect x="467.7" y="36.8" fill="#c97821"/><rect x="471.5" y="36.8" fill="#982d17"/><rect x="475.3" y="36.8" fill="#992e17"/><rect x="479.0" y="36.8" fill="#a03818"/><rect x="482.8" y="36.8" fill="#8f2514"/><rect x="486.6" y="36.8" fill="#9a3017"/><rect x="490.3" y="36.8" fill="#9e3518"/><rect x="494.1" y="36.8" fill="#af4e1c"/><rect x="497.9" y="36.8" fill="#a9451a"/><rect x="501.6" y="36.8" fill="#ba5d1e"/><rect x="505.4" y="36.8" fill="#bb5f1e"/><rect x="509.2" y="36.8" fill="#b04f1c"/><rect x="512.9" y="36.8" fill="#a33d19"/><rect x="516.7" y="36.8" fill="#8a2213"/><rect x="520.5" y="36.8" fill="#8e2514"/><rect x="524.2" y="36.8" fill="#7b1910"/><rect x="528.0" y="36.8" fill="#7f1b11"/><rect x="411.2" y="40.6" fill="#841f12"/><rect x="415.0" y="40.6" fill="#862012"/><rect x="418.8" y="40.6" fill="#7c1a10"/><rect x="422.5" y="40.6" fill="#972b16"/><rect x="426.3" y="40.6" fill="#811c11"/><rect x="430.1" y="40.6" fill="#892213"/><rect x="433.8" y="40.6" fill="#9c3217"/><rect x="437.6" y="40.6" fill="#9f3618"/><rect x="441.4" y="40.6" fill="#952916"/><rect x="445.1" y="40.6" fill="#811d11"/><rect x="448.9" y="40.6" fill="#ab481b"/><rect x="452.7" y="40.6" fill="#b0501c"/><rect x="456.4" y="40.6" fill="#9e3618"/><rect x="460.2" y="40.6" fill="#c16a20"/><rect x="464.0" y="40.6" fill="#ae4d1c"/><rect x="467.7" y="40.6" fill="#a33c19"/><rect x="471.5" y="40.6" fill="#ad4c1b"/><rect x="475.3" y="40.6" fill="#a23b19"/><rect x="479.0" y="40.6" fill="#a33d19"/><rect x="482.8" y="40.6" fill="#882113"/><rect x="486.6" y="40.6" fill="#bd631f"/><rect x="490.3" y="40.6" fill="#a03818"/><rect x="494.1" y="40.6" fill="#992f17"/><rect x="497.9" y="40.6" fill="#bf671f"/><rect x="501.6" y="40.6" fill="#b7591e"/><rect x="505.4" y="40.6" fill="#bd641f"/><rect x="509.2" y="40.6" fill="#ab481b"/><rect x="512.9" y="40.6" fill="#a13a19"/><rect x="516.7" y="40.6" fill="#982d16"/><rect x="520.5" y="40.6" fill="#811c11"/><rect x="524.2" y="40.6" fill="#932815"/><rect x="528.0" y="40.6" fill="#831e12"/><rect x="411.2" y="44.4" fill="#6a140d"/><rect x="415.0" y="44.4" fill="#75170f"/><rect x="418.8" y="44.4" fill="#7a1910"/><rect x="422.5" y="44.4" fill="#75170f"/><rect x="426.3" y="44.4" fill="#73170e"/><rect x="430.1" y="44.4" fill="#8e2514"/><rect x="433.8" y="44.4" fill="#73170e"/><rect x="437.6" y="44.4" fill="#801c11"/><rect x="441.4" y="44.4" fill="#922715"/><rect x="445.1" y="44.4" fill="#811d11"/><rect x="448.9" y="44.4" fill="#9c3317"/><rect x="452.7" y="44.4" fill="#a6411a"/><rect x="456.4" y="44.4" fill="#be651f"/><rect x="460.2" y="44.4" fill="#af4e1c"/><rect x="464.0" y="44.4" fill="#b95c1e"/><rect x="467.7" y="44.4" fill="#c36e20"/><rect x="471.5" y="44.4" fill="#982d17"/><rect x="475.3" y="44.4" fill="#d79328"/><rect x="479.0" y="44.4" fill="#a9451a"/><rect x="482.8" y="44.4" fill="#a6401a"/><rect x="486.6" y="44.4" fill="#bc611f"/><rect x="490.3" y="44.4" fill="#b1511c"/><rect x="494.1" y="44.4" fill="#9b3117"/><rect x="497.9" y="44.4" fill="#c16a20"/><rect x="501.6" y="44.4" fill="#c67221"/><rect x="505.4" y="44.4" fill="#b7591e"/><rect x="509.2" y="44.4" fill="#b6571d"/><rect x="512.9" y="44.4" fill="#bb5f1e"/><rect x="516.7" y="44.4" fill="#9f3718"/><rect x="520.5" y="44.4" fill="#b04f1c"/><rect x="524.2" y="44.4" fill="#ab481b"/><rect x="528.0" y="44.4" fill="#9e3618"/><rect x="411.2" y="48.1" fill="#390706"/><rect x="415.0" y="48.1" fill="#460907"/><rect x="418.8" y="48.1" fill="#400807"/><rect x="422.5" y="48.1" fill="#5c0f0a"/><rect x="426.3" y="48.1" fill="#5b0e0a"/><rect x="430.1" y="48.1" fill="#6d150d"/><rect x="433.8" y="48.1" fill="#6e150e"/><rect x="437.6" y="48.1" fill="#75170f"/><rect x="441.4" y="48.1" fill="#6c140d"/><rect x="445.1" y="48.1" fill="#811d11"/><rect x="448.9" y="48.1" fill="#992f17"/><rect x="452.7" y="48.1" fill="#872012"/><rect x="456.4" y="48.1" fill="#922715"/><rect x="460.2" y="48.1" fill="#a6411a"/><rect x="464.0" y="48.1" fill="#ab481b"/><rect x="467.7" y="48.1" fill="#aa471b"/><rect x="471.5" y="48.1" fill="#b5571d"/><rect x="475.3" y="48.1" fill="#aa471b"/><rect x="479.0" y="48.1" fill="#bd631f"/><rect x="482.8" y="48.1" fill="#a33c19"/><rect x="486.6" y="48.1" fill="#a33c19"/><rect x="490.3" y="48.1" fill="#aa461b"/><rect x="494.1" y="48.1" fill="#972b16"/><rect x="497.9" y="48.1" fill="#b4551d"/><rect x="501.6" y="48.1" fill="#982d16"/><rect x="505.4" y="48.1" fill="#992f17"/><rect x="509.2" y="48.1" fill="#a33d19"/><rect x="512.9" y="48.1" fill="#a9461a"/><rect x="516.7" y="48.1" fill="#972c16"/><rect x="520.5" y="48.1" fill="#ad4b1b"/><rect x="524.2" y="48.1" fill="#942916"/><rect x="528.0" y="48.1" fill="#c0681f"/><rect x="411.2" y="51.9" fill="#2f0605"/><rect x="415.0" y="51.9" fill="#270504"/><rect x="418.8" y="51.9" fill="#260504"/><rect x="422.5" y="51.9" fill="#350605"/><rect x="426.3" y="51.9" fill="#430907"/><rect x="430.1" y="51.9" fill="#480907"/><rect x="433.8" y="51.9" fill="#560d09"/><rect x="437.6" y="51.9" fill="#67120c"/><rect x="441.4" y="51.9" fill="#67130c"/><rect x="445.1" y="51.9" fill="#7d1a10"/><rect x="448.9" y="51.9" fill="#882113"/><rect x="452.7" y="51.9" fill="#851f12"/><rect x="456.4" y="51.9" fill="#9d3418"/><rect x="460.2" y="51.9" fill="#922715"/><rect x="464.0" y="51.9" fill="#ba5e1e"/><rect x="467.7" y="51.9" fill="#b5571d"/><rect x="471.5" y="51.9" fill="#bc611f"/><rect x="475.3" y="51.9" fill="#c47020"/><rect x="479.0" y="51.9" fill="#872012"/><rect x="482.8" y="51.9" fill="#a43e19"/><rect x="486.6" y="51.9" fill="#882113"/><rect x="490.3" y="51.9" fill="#9c3317"/><rect x="494.1" y="51.9" fill="#7f1b10"/><rect x="497.9" y="51.9" fill="#8d2414"/><rect x="501.6" y="51.9" fill="#9d3418"/><rect x="505.4" y="51.9" fill="#ab481b"/><rect x="509.2" y="51.9" fill="#ab491b"/><rect x="512.9" y="51.9" fill="#a7421a"/><rect x="516.7" y="51.9" fill="#b1511c"/><rect x="520.5" y="51.9" fill="#c67321"/><rect x="524.2" y="51.9" fill="#bd631f"/><rect x="528.0" y="51.9" fill="#a53f19"/><rect x="411.2" y="55.7" fill="#270504"/><rect x="415.0" y="55.7" fill="#210403"/><rect x="418.8" y="55.7" fill="#290504"/><rect x="422.5" y="55.7" fill="#250404"/><rect x="426.3" y="55.7" fill="#420807"/><rect x="430.1" y="55.7" fill="#3e0806"/><rect x="433.8" y="55.7" fill="#60100b"/><rect x="437.6" y="55.7" fill="#5e0f0b"/><rect x="441.4" y="55.7" fill="#71160e"/><rect x="445.1" y="55.7" fill="#7a1910"/><rect x="448.9" y="55.7" fill="#6d150d"/><rect x="452.7" y="55.7" fill="#821d11"/><rect x="456.4" y="55.7" fill="#942915"/><rect x="460.2" y="55.7" fill="#b5571d"/><rect x="464.0" y="55.7" fill="#b95d1e"/><rect x="467.7" y="55.7" fill="#a13a18"/><rect x="471.5" y="55.7" fill="#ba5d1e"/><rect x="475.3" y="55.7" fill="#b95b1e"/><rect x="479.0" y="55.7" fill="#c16a20"/><rect x="482.8" y="55.7" fill="#811d11"/><rect x="486.6" y="55.7" fill="#892213"/><rect x="490.3" y="55.7" fill="#9f3718"/><rect x="494.1" y="55.7" fill="#79190f"/><rect x="497.9" y="55.7" fill="#7f1c11"/><rect x="501.6" y="55.7" fill="#a23b19"/><rect x="505.4" y="55.7" fill="#b4551d"/><rect x="509.2" y="55.7" fill="#a53f19"/><rect x="512.9" y="55.7" fill="#bf661f"/><rect x="516.7" y="55.7" fill="#bf671f"/><rect x="520.5" y="55.7" fill="#d28723"/><rect x="524.2" y="55.7" fill="#c26c20"/><rect x="528.0" y="55.7" fill="#cd7e22"/><rect x="411.2" y="59.4" fill="#100202"/><rect x="415.0" y="59.4" fill="#140202"/><rect x="418.8" y="59.4" fill="#170202"/><rect x="422.5" y="59.4" fill="#300605"/><rect x="426.3" y="59.4" fill="#3b0706"/><rect x="430.1" y="59.4" fill="#3f0806"/><rect x="433.8" y="59.4" fill="#61100b"/><rect x="437.6" y="59.4" fill="#6e150d"/><rect x="441.4" y="59.4" fill="#6b140d"/><rect x="445.1" y="59.4" fill="#6f150e"/><rect x="448.9" y="59.4" fill="#77180f"/><rect x="452.7" y="59.4" fill="#71160e"/><rect x="456.4" y="59.4" fill="#992e17"/><rect x="460.2" y="59.4" fill="#a8441a"/><rect x="464.0" y="59.4" fill="#a23b19"/><rect x="467.7" y="59.4" fill="#bd631f"/><rect x="471.5" y="59.4" fill="#9d3418"/><rect x="475.3" y="59.4" fill="#a43e19"/><rect x="479.0" y="59.4" fill="#9b3117"/><rect x="482.8" y="59.4" fill="#b5571d"/><rect x="486.6" y="59.4" fill="#78180f"/><rect x="490.3" y="59.4" fill="#922715"/><rect x="494.1" y="59.4" fill="#9a3017"/><rect x="497.9" y="59.4" fill="#9c3217"/><rect x="501.6" y="59.4" fill="#b5561d"/><rect x="505.4" y="59.4" fill="#9f3718"/><rect x="509.2" y="59.4" fill="#952a16"/><rect x="512.9" y="59.4" fill="#c67221"/><rect x="516.7" y="59.4" fill="#b2521c"/><rect x="520.5" y="59.4" fill="#bf671f"/><rect x="524.2" y="59.4" fill="#b6571d"/><rect x="528.0" y="59.4" fill="#cf8122"/><rect x="411.2" y="63.2" fill="#160202"/><rect x="415.0" y="63.2" fill="#0b0101"/><rect x="418.8" y="63.2" fill="#180302"/><rect x="422.5" y="63.2" fill="#1a0303"/><rect x="426.3" y="63.2" fill="#290504"/><rect x="430.1" y="63.2" fill="#400807"/><rect x="433.8" y="63.2" fill="#4f0a08"/><rect x="437.6" y="63.2" fill="#65120c"/><rect x="441.4" y="63.2" fill="#69130d"/><rect x="445.1" y="63.2" fill="#67130c"/><rect x="448.9" y="63.2" fill="#7e1b10"/><rect x="452.7" y="63.2" fill="#74170f"/><rect x="456.4" y="63.2" fill="#8d2414"/><rect x="460.2" y="63.2" fill="#9c3317"/><rect x="464.0" y="63.2" fill="#b6571d"/><rect x="467.7" y="63.2" fill="#9c3217"/><rect x="471.5" y="63.2" fill="#bc611f"/><rect x="475.3" y="63.2" fill="#9f3718"/><rect x="479.0" y="63.2" fill="#902615"/><rect x="482.8" y="63.2" fill="#7e1b10"/><rect x="486.6" y="63.2" fill="#872112"/><rect x="490.3" y="63.2" fill="#7c1a10"/><rect x="494.1" y="63.2" fill="#74170e"/><rect x="497.9" y="63.2" fill="#7f1b11"/><rect x="501.6" y="63.2" fill="#962b16"/><rect x="505.4" y="63.2" fill="#9f3618"/><rect x="509.2" y="63.2" fill="#bd631f"/><rect x="512.9" y="63.2" fill="#c26b20"/><rect x="516.7" y="63.2" fill="#bc621f"/><rect x="520.5" y="63.2" fill="#b6581d"/><rect x="524.2" y="63.2" fill="#aa471b"/><rect x="528.0" y="63.2" fill="#b1511c"/><rect x="411.2" y="67.0" fill="#220403"/><rect x="415.0" y="67.0" fill="#2e0605"/><rect x="418.8" y="67.0" fill="#240404"/><rect x="422.5" y="67.0" fill="#220403"/><rect x="426.3" y="67.0" fill="#390706"/><rect x="430.1" y="67.0" fill="#480907"/><rect x="433.8" y="67.0" fill="#570d09"/><rect x="437.6" y="67.0" fill="#6a130d"/><rect x="441.4" y="67.0" fill="#74170f"/><rect x="445.1" y="67.0" fill="#8f2514"/><rect x="448.9" y="67.0" fill="#7b1910"/><rect x="452.7" y="67.0" fill="#972c16"/><rect x="456.4" y="67.0" fill="#a9461a"/><rect x="460.2" y="67.0" fill="#9b3217"/><rect x="464.0" y="67.0" fill="#bb601e"/><rect x="467.7" y="67.0" fill="#b4551d"/><rect x="471.5" y="67.0" fill="#a43e19"/><rect x="475.3" y="67.0" fill="#ab471b"/><rect x="479.0" y="67.0" fill="#9e3618"/><rect x="482.8" y="67.0" fill="#902614"/><rect x="486.6" y="67.0" fill="#872012"/><rect x="490.3" y="67.0" fill="#892213"/><rect x="494.1" y="67.0" fill="#972b16"/><rect x="497.9" y="67.0" fill="#982e17"/><rect x="501.6" y="67.0" fill="#b85a1e"/><rect x="505.4" y="67.0" fill="#a23b19"/><rect x="509.2" y="67.0" fill="#b6581d"/><rect x="512.9" y="67.0" fill="#b6581d"/><rect x="516.7" y="67.0" fill="#ac4a1b"/><rect x="520.5" y="67.0" fill="#ac491b"/><rect x="524.2" y="67.0" fill="#b04f1c"/><rect x="528.0" y="67.0" fill="#9d3418"/><rect x="411.2" y="70.7" fill="#250404"/><rect x="415.0" y="70.7" fill="#2c0504"/><rect x="418.8" y="70.7" fill="#350705"/><rect x="422.5" y="70.7" fill="#3a0706"/><rect x="426.3" y="70.7" fill="#67120c"/><rect x="430.1" y="70.7" fill="#5d0f0b"/><rect x="433.8" y="70.7" fill="#7c1a10"/><rect x="437.6" y="70.7" fill="#8c2414"/><rect x="441.4" y="70.7" fill="#7c1a10"/><rect x="445.1" y="70.7" fill="#75170f"/><rect x="448.9" y="70.7" fill="#72160e"/><rect x="452.7" y="70.7" fill="#892213"/><rect x="456.4" y="70.7" fill="#a03918"/><rect x="460.2" y="70.7" fill="#9f3618"/><rect x="464.0" y="70.7" fill="#a8431a"/><rect x="467.7" y="70.7" fill="#a7431a"/><rect x="471.5" y="70.7" fill="#ba5e1e"/><rect x="475.3" y="70.7" fill="#932815"/><rect x="479.0" y="70.7" fill="#b1511c"/><rect x="482.8" y="70.7" fill="#a43e19"/><rect x="486.6" y="70.7" fill="#851f12"/><rect x="490.3" y="70.7" fill="#b6571d"/><rect x="494.1" y="70.7" fill="#8b2313"/><rect x="497.9" y="70.7" fill="#ab481b"/><rect x="501.6" y="70.7" fill="#bb5f1e"/><rect x="505.4" y="70.7" fill="#cb7b22"/><rect x="509.2" y="70.7" fill="#9e3618"/><rect x="512.9" y="70.7" fill="#aa461b"/><rect x="516.7" y="70.7" fill="#a33c19"/><rect x="520.5" y="70.7" fill="#9b3017"/><rect x="524.2" y="70.7" fill="#831e11"/><rect x="528.0" y="70.7" fill="#8d2414"/><rect x="411.2" y="74.5" fill="#500b08"/><rect x="415.0" y="74.5" fill="#2d0505"/><rect x="418.8" y="74.5" fill="#350705"/><rect x="422.5" y="74.5" fill="#490907"/><rect x="426.3" y="74.5" fill="#67130c"/><rect x="430.1" y="74.5" fill="#75170f"/><rect x="433.8" y="74.5" fill="#8e2514"/><rect x="437.6" y="74.5" fill="#7d1a10"/><rect x="441.4" y="74.5" fill="#9a3017"/><rect x="445.1" y="74.5" fill="#912715"/><rect x="448.9" y="74.5" fill="#72160e"/><rect x="452.7" y="74.5" fill="#a13a18"/><rect x="456.4" y="74.5" fill="#b4541d"/><rect x="460.2" y="74.5" fill="#8f2614"/><rect x="464.0" y="74.5" fill="#a8431a"/><rect x="467.7" y="74.5" fill="#c46f20"/><rect x="471.5" y="74.5" fill="#a8431a"/><rect x="475.3" y="74.5" fill="#a9451a"/><rect x="479.0" y="74.5" fill="#b3541d"/><rect x="482.8" y="74.5" fill="#b2521c"/><rect x="486.6" y="74.5" fill="#a33c19"/><rect x="490.3" y="74.5" fill="#ac4a1b"/><rect x="494.1" y="74.5" fill="#ad4b1b"/><rect x="497.9" y="74.5" fill="#ac491b"/><rect x="501.6" y="74.5" fill="#cc7c22"/><rect x="505.4" y="74.5" fill="#cd7f22"/><rect x="509.2" y="74.5" fill="#b2521c"/><rect x="512.9" y="74.5" fill="#a03918"/><rect x="516.7" y="74.5" fill="#8b2313"/><rect x="520.5" y="74.5" fill="#962a16"/><rect x="524.2" y="74.5" fill="#79190f"/><rect x="528.0" y="74.5" fill="#922715"/><rect x="411.2" y="78.3" fill="#4b0a08"/><rect x="415.0" y="78.3" fill="#570d0a"/><rect x="418.8" y="78.3" fill="#530c09"/><rect x="422.5" y="78.3" fill="#4b0a08"/><rect x="426.3" y="78.3" fill="#69130d"/><rect x="430.1" y="78.3" fill="#892213"/><rect x="433.8" y="78.3" fill="#77180f"/><rect x="437.6" y="78.3" fill="#841f12"/><rect x="441.4" y="78.3" fill="#7f1b10"/><rect x="445.1" y="78.3" fill="#72160e"/><rect x="448.9" y="78.3" fill="#8f2514"/><rect x="452.7" y="78.3" fill="#942916"/><rect x="456.4" y="78.3" fill="#922815"/><rect x="460.2" y="78.3" fill="#932815"/><rect x="464.0" y="78.3" fill="#9b3117"/><rect x="467.7" y="78.3" fill="#af4e1c"/><rect x="471.5" y="78.3" fill="#b7581d"/><rect x="475.3" y="78.3" fill="#d8962a"/><rect x="479.0" y="78.3" fill="#dda230"/><rect x="482.8" y="78.3" fill="#d38a25"/><rect x="486.6" y="78.3" fill="#ab481b"/><rect x="490.3" y="78.3" fill="#a33c19"/><rect x="494.1" y="78.3" fill="#9b3217"/><rect x="497.9" y="78.3" fill="#be641f"/><rect x="501.6" y="78.3" fill="#a8441a"/><rect x="505.4" y="78.3" fill="#7d1a10"/><rect x="509.2" y="78.3" fill="#8d2514"/><rect x="512.9" y="78.3" fill="#982d16"/><rect x="516.7" y="78.3" fill="#801c11"/><rect x="520.5" y="78.3" fill="#7f1b10"/><rect x="524.2" y="78.3" fill="#73170e"/><rect x="528.0" y="78.3" fill="#5c0f0a"/><rect x="411.2" y="82.0" fill="#570d09"/><rect x="415.0" y="82.0" fill="#5c0f0a"/><rect x="418.8" y="82.0" fill="#6b140d"/><rect x="422.5" y="82.0" fill="#77180f"/><rect x="426.3" y="82.0" fill="#872113"/><rect x="430.1" y="82.0" fill="#851f12"/><rect x="433.8" y="82.0" fill="#a23b19"/><rect x="437.6" y="82.0" fill="#932815"/><rect x="441.4" y="82.0" fill="#8a2213"/><rect x="445.1" y="82.0" fill="#9d3418"/><rect x="448.9" y="82.0" fill="#801c11"/><rect x="452.7" y="82.0" fill="#6b140d"/><rect x="456.4" y="82.0" fill="#831e11"/><rect x="460.2" y="82.0" fill="#9c3317"/><rect x="464.0" y="82.0" fill="#7a190f"/><rect x="467.7" y="82.0" fill="#b3531d"/><rect x="471.5" y="82.0" fill="#cc7c22"/><rect x="475.3" y="82.0" fill="#dc9e2e"/><rect x="479.0" y="82.0" fill="#e4b237"/><rect x="482.8" y="82.0" fill="#db9e2d"/><rect x="486.6" y="82.0" fill="#bf661f"/><rect x="490.3" y="82.0" fill="#c0681f"/><rect x="494.1" y="82.0" fill="#ad4b1b"/><rect x="497.9" y="82.0" fill="#8e2514"/><rect x="501.6" y="82.0" fill="#962a16"/><rect x="505.4" y="82.0" fill="#a7421a"/><rect x="509.2" y="82.0" fill="#ae4c1c"/><rect x="512.9" y="82.0" fill="#8d2414"/><rect x="516.7" y="82.0" fill="#841f12"/><rect x="520.5" y="82.0" fill="#962a16"/><rect x="524.2" y="82.0" fill="#7a190f"/><rect x="528.0" y="82.0" fill="#77180f"/><rect x="411.2" y="85.8" fill="#65120c"/><rect x="415.0" y="85.8" fill="#70160e"/><rect x="418.8" y="85.8" fill="#942916"/><rect x="422.5" y="85.8" fill="#67120c"/><rect x="426.3" y="85.8" fill="#7a190f"/><rect x="430.1" y="85.8" fill="#6b140d"/><rect x="433.8" y="85.8" fill="#801c11"/><rect x="437.6" y="85.8" fill="#8d2414"/><rect x="441.4" y="85.8" fill="#7d1a10"/><rect x="445.1" y="85.8" fill="#8b2313"/><rect x="448.9" y="85.8" fill="#8c2314"/><rect x="452.7" y="85.8" fill="#892213"/><rect x="456.4" y="85.8" fill="#9f3718"/><rect x="460.2" y="85.8" fill="#972b16"/><rect x="464.0" y="85.8" fill="#902614"/><rect x="467.7" y="85.8" fill="#982d17"/><rect x="471.5" y="85.8" fill="#b4551d"/><rect x="475.3" y="85.8" fill="#dda230"/><rect x="479.0" y="85.8" fill="#e1aa33"/><rect x="482.8" y="85.8" fill="#e5b53d"/><rect x="486.6" y="85.8" fill="#c87521"/><rect x="490.3" y="85.8" fill="#982c16"/><rect x="494.1" y="85.8" fill="#912715"/><rect x="497.9" y="85.8" fill="#b1501c"/><rect x="501.6" y="85.8" fill="#7c1a10"/><rect x="505.4" y="85.8" fill="#8e2514"/><rect x="509.2" y="85.8" fill="#9b3117"/><rect x="512.9" y="85.8" fill="#77180f"/><rect x="516.7" y="85.8" fill="#74170e"/><rect x="520.5" y="85.8" fill="#70160e"/><rect x="524.2" y="85.8" fill="#7b1910"/><rect x="528.0" y="85.8" fill="#75170f"/><rect x="411.2" y="89.6" fill="#a33c19"/><rect x="415.0" y="89.6" fill="#a7421a"/><rect x="418.8" y="89.6" fill="#9d3418"/><rect x="422.5" y="89.6" fill="#a9451a"/><rect x="426.3" y="89.6" fill="#872012"/><rect x="430.1" y="89.6" fill="#77180f"/><rect x="433.8" y="89.6" fill="#71160e"/><rect x="437.6" y="89.6" fill="#75170f"/><rect x="441.4" y="89.6" fill="#892213"/><rect x="445.1" y="89.6" fill="#a6411a"/><rect x="448.9" y="89.6" fill="#9b3217"/><rect x="452.7" y="89.6" fill="#902615"/><rect x="456.4" y="89.6" fill="#892213"/><rect x="460.2" y="89.6" fill="#932815"/><rect x="464.0" y="89.6" fill="#992e17"/><rect x="467.7" y="89.6" fill="#9f3718"/><rect x="471.5" y="89.6" fill="#a33c19"/><rect x="475.3" y="89.6" fill="#c57020"/><rect x="479.0" y="89.6" fill="#d89429"/><rect x="482.8" y="89.6" fill="#a43e19"/><rect x="486.6" y="89.6" fill="#a8441a"/><rect x="490.3" y="89.6" fill="#821d11"/><rect x="494.1" y="89.6" fill="#a6411a"/><rect x="497.9" y="89.6" fill="#9f3718"/><rect x="501.6" y="89.6" fill="#922815"/><rect x="505.4" y="89.6" fill="#b5561d"/><rect x="509.2" y="89.6" fill="#c36d20"/><rect x="512.9" y="89.6" fill="#a13918"/><rect x="516.7" y="89.6" fill="#a53f19"/><rect x="520.5" y="89.6" fill="#8b2313"/><rect x="524.2" y="89.6" fill="#6e150d"/><rect x="528.0" y="89.6" fill="#922715"/><rect x="411.2" y="93.3" fill="#af4e1c"/><rect x="415.0" y="93.3" fill="#a23b19"/><rect x="418.8" y="93.3" fill="#c16a20"/><rect x="422.5" y="93.3" fill="#b7591e"/><rect x="426.3" y="93.3" fill="#a13918"/><rect x="430.1" y="93.3" fill="#a7421a"/><rect x="433.8" y="93.3" fill="#862012"/><rect x="437.6" y="93.3" fill="#a43e19"/><rect x="441.4" y="93.3" fill="#982e17"/><rect x="445.1" y="93.3" fill="#b75a1e"/><rect x="448.9" y="93.3" fill="#9e3618"/><rect x="452.7" y="93.3" fill="#bd641f"/><rect x="456.4" y="93.3" fill="#a43f19"/><rect x="460.2" y="93.3" fill="#b1511c"/><rect x="464.0" y="93.3" fill="#8e2514"/><rect x="467.7" y="93.3" fill="#962a16"/><rect x="471.5" y="93.3" fill="#b1501c"/><rect x="475.3" y="93.3" fill="#821d11"/><rect x="479.0" y="93.3" fill="#9c3217"/><rect x="482.8" y="93.3" fill="#b3541d"/><rect x="486.6" y="93.3" fill="#a23b19"/><rect x="490.3" y="93.3" fill="#a8441a"/><rect x="494.1" y="93.3" fill="#9d3418"/><rect x="497.9" y="93.3" fill="#ba5e1e"/><rect x="501.6" y="93.3" fill="#b95c1e"/><rect x="505.4" y="93.3" fill="#b3531d"/><rect x="509.2" y="93.3" fill="#a13918"/><rect x="512.9" y="93.3" fill="#a33c19"/><rect x="516.7" y="93.3" fill="#962a16"/><rect x="520.5" y="93.3" fill="#8c2414"/><rect x="524.2" y="93.3" fill="#65120c"/><rect x="528.0" y="93.3" fill="#78180f"/><rect x="411.2" y="97.1" fill="#c0691f"/><rect x="415.0" y="97.1" fill="#cf8122"/><rect x="418.8" y="97.1" fill="#ca7921"/><rect x="422.5" y="97.1" fill="#cc7d22"/><rect x="426.3" y="97.1" fill="#bc621f"/><rect x="430.1" y="97.1" fill="#d69027"/><rect x="433.8" y="97.1" fill="#a5401a"/><rect x="437.6" y="97.1" fill="#d38924"/><rect x="441.4" y="97.1" fill="#da9b2c"/><rect x="445.1" y="97.1" fill="#d58f27"/><rect x="448.9" y="97.1" fill="#c77521"/><rect x="452.7" y="97.1" fill="#c0681f"/><rect x="456.4" y="97.1" fill="#9a2f17"/><rect x="460.2" y="97.1" fill="#9f3718"/><rect x="464.0" y="97.1" fill="#942915"/><rect x="467.7" y="97.1" fill="#9c3217"/><rect x="471.5" y="97.1" fill="#a6411a"/><rect x="475.3" y="97.1" fill="#b6581d"/><rect x="479.0" y="97.1" fill="#962a16"/><rect x="482.8" y="97.1" fill="#a8441a"/><rect x="486.6" y="97.1" fill="#892213"/><rect x="490.3" y="97.1" fill="#892213"/><rect x="494.1" y="97.1" fill="#982d16"/><rect x="497.9" y="97.1" fill="#ab491b"/><rect x="501.6" y="97.1" fill="#d8962a"/><rect x="505.4" y="97.1" fill="#da9a2c"/><rect x="509.2" y="97.1" fill="#d08423"/><rect x="512.9" y="97.1" fill="#af4e1c"/><rect x="516.7" y="97.1" fill="#a6421a"/><rect x="520.5" y="97.1" fill="#922715"/><rect x="524.2" y="97.1" fill="#872112"/><rect x="528.0" y="97.1" fill="#a03918"/><rect x="411.2" y="100.9" fill="#d18523"/><rect x="415.0" y="100.9" fill="#cd7e22"/><rect x="418.8" y="100.9" fill="#e2ac34"/><rect x="422.5" y="100.9" fill="#da9b2c"/><rect x="426.3" y="100.9" fill="#e6b741"/><rect x="430.1" y="100.9" fill="#d58e26"/><rect x="433.8" y="100.9" fill="#cc7d22"/><rect x="437.6" y="100.9" fill="#d48d26"/><rect x="441.4" y="100.9" fill="#ebc764"/><rect x="445.1" y="100.9" fill="#eac45d"/><rect x="448.9" y="100.9" fill="#e5b43c"/><rect x="452.7" y="100.9" fill="#cc7c22"/><rect x="456.4" y="100.9" fill="#992e17"/><rect x="460.2" y="100.9" fill="#8c2414"/><rect x="464.0" y="100.9" fill="#75170f"/><rect x="467.7" y="100.9" fill="#8a2213"/><rect x="471.5" y="100.9" fill="#992f17"/><rect x="475.3" y="100.9" fill="#922715"/><rect x="479.0" y="100.9" fill="#872012"/><rect x="482.8" y="100.9" fill="#892213"/><rect x="486.6" y="100.9" fill="#902614"/><rect x="490.3" y="100.9" fill="#7a190f"/><rect x="494.1" y="100.9" fill="#992f17"/><rect x="497.9" y="100.9" fill="#b3531d"/><rect x="501.6" y="100.9" fill="#c67221"/><rect x="505.4" y="100.9" fill="#ca7a21"/><rect x="509.2" y="100.9" fill="#bb601e"/><rect x="512.9" y="100.9" fill="#962a16"/><rect x="516.7" y="100.9" fill="#8b2313"/><rect x="520.5" y="100.9" fill="#9d3518"/><rect x="524.2" y="100.9" fill="#932815"/><rect x="528.0" y="100.9" fill="#aa471b"/><rect x="411.2" y="104.6" fill="#d48d26"/><rect x="415.0" y="104.6" fill="#d9972a"/><rect x="418.8" y="104.6" fill="#f4e19d"/><rect x="422.5" y="104.6" fill="#f9eebd"/><rect x="426.3" y="104.6" fill="#ecca6b"/><rect x="430.1" y="104.6" fill="#dda22f"/><rect x="433.8" y="104.6" fill="#e5b43b"/><rect x="437.6" y="104.6" fill="#e5b53e"/><rect x="441.4" y="104.6" fill="#f7ebb1"/><rect x="445.1" y="104.6" fill="#ecca6c"/><rect x="448.9" y="104.6" fill="#ebc866"/><rect x="452.7" y="104.6" fill="#c77421"/><rect x="456.4" y="104.6" fill="#ba5e1e"/><rect x="460.2" y="104.6" fill="#b2531d"/><rect x="464.0" y="104.6" fill="#862012"/><rect x="467.7" y="104.6" fill="#932815"/><rect x="471.5" y="104.6" fill="#851f12"/><rect x="475.3" y="104.6" fill="#8a2213"/><rect x="479.0" y="104.6" fill="#862012"/><rect x="482.8" y="104.6" fill="#ac491b"/><rect x="486.6" y="104.6" fill="#9a2f17"/><rect x="490.3" y="104.6" fill="#b3541d"/><rect x="494.1" y="104.6" fill="#8d2414"/><rect x="497.9" y="104.6" fill="#a9451a"/><rect x="501.6" y="104.6" fill="#be641f"/><rect x="505.4" y="104.6" fill="#ce8022"/><rect x="509.2" y="104.6" fill="#c87621"/><rect x="512.9" y="104.6" fill="#9c3217"/><rect x="516.7" y="104.6" fill="#8e2514"/><rect x="520.5" y="104.6" fill="#821d11"/><rect x="524.2" y="104.6" fill="#ae4d1c"/><rect x="528.0" y="104.6" fill="#992f17"/><rect x="411.2" y="108.4" fill="#d48d26"/><rect x="415.0" y="108.4" fill="#e1ac34"/><rect x="418.8" y="108.4" fill="#dda230"/><rect x="422.5" y="108.4" fill="#e7bb4b"/><rect x="426.3" y="108.4" fill="#f1d788"/><rect x="430.1" y="108.4" fill="#e6b843"/><rect x="433.8" y="108.4" fill="#e5b53f"/><rect x="437.6" y="108.4" fill="#e8bd4f"/><rect x="441.4" y="108.4" fill="#f9edba"/><rect x="445.1" y="108.4" fill="#fbf3d0"/><rect x="448.9" y="108.4" fill="#e1ac34"/><rect x="452.7" y="108.4" fill="#d58e26"/><rect x="456.4" y="108.4" fill="#ac491b"/><rect x="460.2" y="108.4" fill="#942815"/><rect x="464.0" y="108.4" fill="#7c1a10"/><rect x="467.7" y="108.4" fill="#7a190f"/><rect x="471.5" y="108.4" fill="#78180f"/><rect x="475.3" y="108.4" fill="#8e2514"/><rect x="479.0" y="108.4" fill="#8b2313"/><rect x="482.8" y="108.4" fill="#932815"/><rect x="486.6" y="108.4" fill="#922715"/><rect x="490.3" y="108.4" fill="#9a3017"/><rect x="494.1" y="108.4" fill="#892213"/><rect x="497.9" y="108.4" fill="#912715"/><rect x="501.6" y="108.4" fill="#ac491b"/><rect x="505.4" y="108.4" fill="#992f17"/><rect x="509.2" y="108.4" fill="#952916"/><rect x="512.9" y="108.4" fill="#a23c19"/><rect x="516.7" y="108.4" fill="#962a16"/><rect x="520.5" y="108.4" fill="#912715"/><rect x="524.2" y="108.4" fill="#932815"/><rect x="528.0" y="108.4" fill="#7e1a10"/><rect x="411.2" y="112.2" fill="#d8962a"/><rect x="415.0" y="112.2" fill="#e4b237"/><rect x="418.8" y="112.2" fill="#e6b946"/><rect x="422.5" y="112.2" fill="#dc9e2e"/><rect x="426.3" y="112.2" fill="#e3ae35"/><rect x="430.1" y="112.2" fill="#d58f27"/><rect x="433.8" y="112.2" fill="#da9a2c"/><rect x="437.6" y="112.2" fill="#e3b036"/><rect x="441.4" y="112.2" fill="#e1aa33"/><rect x="445.1" y="112.2" fill="#efd27b"/><rect x="448.9" y="112.2" fill="#dda12f"/><rect x="452.7" y="112.2" fill="#d28723"/><rect x="456.4" y="112.2" fill="#b1501c"/><rect x="460.2" y="112.2" fill="#9b3117"/><rect x="464.0" y="112.2" fill="#892213"/><rect x="467.7" y="112.2" fill="#68130c"/><rect x="471.5" y="112.2" fill="#821d11"/><rect x="475.3" y="112.2" fill="#71160e"/><rect x="479.0" y="112.2" fill="#8c2414"/><rect x="482.8" y="112.2" fill="#9d3418"/><rect x="486.6" y="112.2" fill="#9d3418"/><rect x="490.3" y="112.2" fill="#9f3718"/><rect x="494.1" y="112.2" fill="#862012"/><rect x="497.9" y="112.2" fill="#922815"/><rect x="501.6" y="112.2" fill="#922715"/><rect x="505.4" y="112.2" fill="#a5401a"/><rect x="509.2" y="112.2" fill="#aa471b"/><rect x="512.9" y="112.2" fill="#8b2313"/><rect x="516.7" y="112.2" fill="#c46f20"/><rect x="520.5" y="112.2" fill="#8e2514"/><rect x="524.2" y="112.2" fill="#882113"/><rect x="528.0" y="112.2" fill="#972b16"/><rect x="411.2" y="115.9" fill="#d79329"/><rect x="415.0" y="115.9" fill="#d8962a"/><rect x="418.8" y="115.9" fill="#d48b25"/><rect x="422.5" y="115.9" fill="#e1aa33"/><rect x="426.3" y="115.9" fill="#d48c25"/><rect x="430.1" y="115.9" fill="#d9992b"/><rect x="433.8" y="115.9" fill="#d8952a"/><rect x="437.6" y="115.9" fill="#c57120"/><rect x="441.4" y="115.9" fill="#cf8122"/><rect x="445.1" y="115.9" fill="#ce8022"/><rect x="448.9" y="115.9" fill="#d18523"/><rect x="452.7" y="115.9" fill="#ba5f1e"/><rect x="456.4" y="115.9" fill="#a03818"/><rect x="460.2" y="115.9" fill="#78180f"/><rect x="464.0" y="115.9" fill="#7e1b10"/><rect x="467.7" y="115.9" fill="#8f2514"/><rect x="471.5" y="115.9" fill="#73170e"/><rect x="475.3" y="115.9" fill="#8c2314"/><rect x="479.0" y="115.9" fill="#972b16"/><rect x="482.8" y="115.9" fill="#8f2614"/><rect x="486.6" y="115.9" fill="#892213"/><rect x="490.3" y="115.9" fill="#a33c19"/><rect x="494.1" y="115.9" fill="#9b3117"/><rect x="497.9" y="115.9" fill="#972b16"/><rect x="501.6" y="115.9" fill="#831e11"/><rect x="505.4" y="115.9" fill="#b3541d"/><rect x="509.2" y="115.9" fill="#982c16"/><rect x="512.9" y="115.9" fill="#892213"/><rect x="516.7" y="115.9" fill="#8c2314"/><rect x="520.5" y="115.9" fill="#892113"/><rect x="524.2" y="115.9" fill="#b04e1c"/><rect x="528.0" y="115.9" fill="#932815"/><rect x="411.2" y="119.7" fill="#ce8022"/><rect x="415.0" y="119.7" fill="#b7591e"/><rect x="418.8" y="119.7" fill="#d58e26"/><rect x="422.5" y="119.7" fill="#c0681f"/><rect x="426.3" y="119.7" fill="#b85a1e"/><rect x="430.1" y="119.7" fill="#c46f20"/><rect x="433.8" y="119.7" fill="#ad4a1b"/><rect x="437.6" y="119.7" fill="#c47020"/><rect x="441.4" y="119.7" fill="#cb7b22"/><rect x="445.1" y="119.7" fill="#a6411a"/><rect x="448.9" y="119.7" fill="#b7591e"/><rect x="452.7" y="119.7" fill="#8f2514"/><rect x="456.4" y="119.7" fill="#902614"/><rect x="460.2" y="119.7" fill="#8d2414"/><rect x="464.0" y="119.7" fill="#69130d"/><rect x="467.7" y="119.7" fill="#972b16"/><rect x="471.5" y="119.7" fill="#821d11"/><rect x="475.3" y="119.7" fill="#7e1b10"/><rect x="479.0" y="119.7" fill="#912715"/><rect x="482.8" y="119.7" fill="#9a3017"/><rect x="486.6" y="119.7" fill="#76180f"/><rect x="490.3" y="119.7" fill="#841e12"/><rect x="494.1" y="119.7" fill="#72160e"/><rect x="497.9" y="119.7" fill="#9a2f17"/><rect x="501.6" y="119.7" fill="#902614"/><rect x="505.4" y="119.7" fill="#8c2313"/><rect x="509.2" y="119.7" fill="#a33d19"/><rect x="512.9" y="119.7" fill="#801c11"/><rect x="516.7" y="119.7" fill="#8c2414"/><rect x="520.5" y="119.7" fill="#ad4b1b"/><rect x="524.2" y="119.7" fill="#8f2514"/><rect x="528.0" y="119.7" fill="#a54019"/><rect x="411.2" y="123.5" fill="#d08323"/><rect x="415.0" y="123.5" fill="#c77421"/><rect x="418.8" y="123.5" fill="#cb7a22"/><rect x="422.5" y="123.5" fill="#c97721"/><rect x="426.3" y="123.5" fill="#bb5f1e"/><rect x="430.1" y="123.5" fill="#a9451a"/><rect x="433.8" y="123.5" fill="#a23b19"/><rect x="437.6" y="123.5" fill="#962a16"/><rect x="441.4" y="123.5" fill="#b2521c"/><rect x="445.1" y="123.5" fill="#b75a1e"/><rect x="448.9" y="123.5" fill="#b85a1e"/><rect x="452.7" y="123.5" fill="#841f12"/><rect x="456.4" y="123.5" fill="#9a3017"/><rect x="460.2" y="123.5" fill="#811d11"/><rect x="464.0" y="123.5" fill="#6c140d"/><rect x="467.7" y="123.5" fill="#841e12"/><rect x="471.5" y="123.5" fill="#982d17"/><rect x="475.3" y="123.5" fill="#9d3418"/><rect x="479.0" y="123.5" fill="#a23b19"/><rect x="482.8" y="123.5" fill="#a03818"/><rect x="486.6" y="123.5" fill="#972c16"/><rect x="490.3" y="123.5" fill="#851f12"/><rect x="494.1" y="123.5" fill="#6c140d"/><rect x="497.9" y="123.5" fill="#801c11"/><rect x="501.6" y="123.5" fill="#972b16"/><rect x="505.4" y="123.5" fill="#902615"/><rect x="509.2" y="123.5" fill="#a43e19"/><rect x="512.9" y="123.5" fill="#a54019"/><rect x="516.7" y="123.5" fill="#982d17"/><rect x="520.5" y="123.5" fill="#b3541d"/><rect x="524.2" y="123.5" fill="#882113"/><rect x="528.0" y="123.5" fill="#a43f19"/><rect x="411.2" y="127.2" fill="#ca7921"/><rect x="415.0" y="127.2" fill="#c77521"/><rect x="418.8" y="127.2" fill="#d48b25"/><rect x="422.5" y="127.2" fill="#c26b20"/><rect x="426.3" y="127.2" fill="#c97721"/><rect x="430.1" y="127.2" fill="#a33d19"/><rect x="433.8" y="127.2" fill="#ad4b1b"/><rect x="437.6" y="127.2" fill="#9e3518"/><rect x="441.4" y="127.2" fill="#a9461a"/><rect x="445.1" y="127.2" fill="#a9451a"/><rect x="448.9" y="127.2" fill="#992f17"/><rect x="452.7" y="127.2" fill="#a9451a"/><rect x="456.4" y="127.2" fill="#7e1a10"/><rect x="460.2" y="127.2" fill="#77180f"/><rect x="464.0" y="127.2" fill="#8d2414"/><rect x="467.7" y="127.2" fill="#942916"/><rect x="471.5" y="127.2" fill="#9a2f17"/><rect x="475.3" y="127.2" fill="#9d3518"/><rect x="479.0" y="127.2" fill="#bb601e"/><rect x="482.8" y="127.2" fill="#821d11"/><rect x="486.6" y="127.2" fill="#821d11"/><rect x="490.3" y="127.2" fill="#7a190f"/><rect x="494.1" y="127.2" fill="#952a16"/><rect x="497.9" y="127.2" fill="#922715"/><rect x="501.6" y="127.2" fill="#a6411a"/><rect x="505.4" y="127.2" fill="#aa461a"/><rect x="509.2" y="127.2" fill="#9a2f17"/><rect x="512.9" y="127.2" fill="#912715"/><rect x="516.7" y="127.2" fill="#8d2414"/><rect x="520.5" y="127.2" fill="#bb5f1e"/><rect x="524.2" y="127.2" fill="#a8441a"/><rect x="528.0" y="127.2" fill="#a33c19"/><rect x="411.2" y="131.0" fill="#c16a20"/><rect x="415.0" y="131.0" fill="#c36e20"/><rect x="418.8" y="131.0" fill="#c0681f"/><rect x="422.5" y="131.0" fill="#bb5f1e"/><rect x="426.3" y="131.0" fill="#8f2614"/><rect x="430.1" y="131.0" fill="#a7421a"/><rect x="433.8" y="131.0" fill="#992f17"/><rect x="437.6" y="131.0" fill="#a23b19"/><rect x="441.4" y="131.0" fill="#a33d19"/><rect x="445.1" y="131.0" fill="#af4e1c"/><rect x="448.9" y="131.0" fill="#9d3418"/><rect x="452.7" y="131.0" fill="#9d3418"/><rect x="456.4" y="131.0" fill="#63110c"/><rect x="460.2" y="131.0" fill="#6a140d"/><rect x="464.0" y="131.0" fill="#8b2313"/><rect x="467.7" y="131.0" fill="#6a140d"/><rect x="471.5" y="131.0" fill="#7d1a10"/><rect x="475.3" y="131.0" fill="#942915"/><rect x="479.0" y="131.0" fill="#7e1b10"/><rect x="482.8" y="131.0" fill="#902615"/><rect x="486.6" y="131.0" fill="#6d150d"/><rect x="490.3" y="131.0" fill="#64110c"/><rect x="494.1" y="131.0" fill="#6b140d"/><rect x="497.9" y="131.0" fill="#6b140d"/><rect x="501.6" y="131.0" fill="#862012"/><rect x="505.4" y="131.0" fill="#872112"/><rect x="509.2" y="131.0" fill="#932815"/><rect x="512.9" y="131.0" fill="#7f1b10"/><rect x="516.7" y="131.0" fill="#b3531d"/><rect x="520.5" y="131.0" fill="#8a2213"/><rect x="524.2" y="131.0" fill="#8a2213"/><rect x="528.0" y="131.0" fill="#922715"/></g></g>
<text x="421.7" y="34.9" font-size="11.4" font-weight="bold" fill="#fff">MeOH</text>
<text x="507.6" y="118.2" font-size="10" font-weight="bold" fill="#fff" text-anchor="middle">200 nm</text>
<rect x="498.5" y="123.3" width="23" height="2.4" fill="#fff"/>
<rect x="425.3" y="139.5" width="64" height="6.5" fill="url(#afmcb)" stroke="#e8e8e8" stroke-width="0.6"/>
<text x="419" y="146.3" font-size="9" text-anchor="middle" fill="#111">0</text>
<text x="495.7" y="146.3" font-size="8.7" fill="#111">370 nm</text>
<g clip-path="url(#hc2)"><g class="hm2" filter="url(#hb2)" shape-rendering="crispEdges"><rect x="410.8" y="166.2" fill="#a23b19"/><rect x="414.3" y="166.2" fill="#902615"/><rect x="417.8" y="166.2" fill="#912715"/><rect x="421.3" y="166.2" fill="#5f100b"/><rect x="424.8" y="166.2" fill="#b95b1e"/><rect x="428.4" y="166.2" fill="#992f17"/><rect x="431.9" y="166.2" fill="#6b140d"/><rect x="435.4" y="166.2" fill="#79180f"/><rect x="438.9" y="166.2" fill="#68130c"/><rect x="442.4" y="166.2" fill="#540c09"/><rect x="445.9" y="166.2" fill="#72160e"/><rect x="449.5" y="166.2" fill="#5a0e0a"/><rect x="453.0" y="166.2" fill="#5e0f0b"/><rect x="456.5" y="166.2" fill="#5b0e0a"/><rect x="460.0" y="166.2" fill="#7d1a10"/><rect x="463.5" y="166.2" fill="#7e1b10"/><rect x="467.0" y="166.2" fill="#a03918"/><rect x="470.6" y="166.2" fill="#992f17"/><rect x="474.1" y="166.2" fill="#c67221"/><rect x="477.6" y="166.2" fill="#cd7f22"/><rect x="481.1" y="166.2" fill="#f2dc91"/><rect x="484.6" y="166.2" fill="#f9efbe"/><rect x="488.1" y="166.2" fill="#fdf9e9"/><rect x="491.6" y="166.2" fill="#fefdf6"/><rect x="495.2" y="166.2" fill="#f7e9ae"/><rect x="498.7" y="166.2" fill="#faf2cc"/><rect x="502.2" y="166.2" fill="#f9efbe"/><rect x="505.7" y="166.2" fill="#a6411a"/><rect x="509.2" y="166.2" fill="#65120c"/><rect x="512.7" y="166.2" fill="#330605"/><rect x="516.3" y="166.2" fill="#350705"/><rect x="519.8" y="166.2" fill="#100202"/><rect x="523.3" y="166.2" fill="#180302"/><rect x="526.8" y="166.2" fill="#150202"/><rect x="410.8" y="169.7" fill="#a43e19"/><rect x="414.3" y="169.7" fill="#a7431a"/><rect x="417.8" y="169.7" fill="#992f17"/><rect x="421.3" y="169.7" fill="#ad4b1b"/><rect x="424.8" y="169.7" fill="#71160e"/><rect x="428.4" y="169.7" fill="#74170f"/><rect x="431.9" y="169.7" fill="#77180f"/><rect x="435.4" y="169.7" fill="#912715"/><rect x="438.9" y="169.7" fill="#530c09"/><rect x="442.4" y="169.7" fill="#4a0908"/><rect x="445.9" y="169.7" fill="#530c09"/><rect x="449.5" y="169.7" fill="#74170e"/><rect x="453.0" y="169.7" fill="#60100b"/><rect x="456.5" y="169.7" fill="#882113"/><rect x="460.0" y="169.7" fill="#4e0a08"/><rect x="463.5" y="169.7" fill="#9c3317"/><rect x="467.0" y="169.7" fill="#ac4a1b"/><rect x="470.6" y="169.7" fill="#851f12"/><rect x="474.1" y="169.7" fill="#c87621"/><rect x="477.6" y="169.7" fill="#e9c157"/><rect x="481.1" y="169.7" fill="#f1d888"/><rect x="484.6" y="169.7" fill="#fffefc"/><rect x="488.1" y="169.7" fill="#ffffff"/><rect x="491.6" y="169.7" fill="#ffffff"/><rect x="495.2" y="169.7" fill="#fcf7df"/><rect x="498.7" y="169.7" fill="#f2db8f"/><rect x="502.2" y="169.7" fill="#efd17a"/><rect x="505.7" y="169.7" fill="#c97821"/><rect x="509.2" y="169.7" fill="#882113"/><rect x="512.7" y="169.7" fill="#500b08"/><rect x="516.3" y="169.7" fill="#310605"/><rect x="519.8" y="169.7" fill="#040000"/><rect x="523.3" y="169.7" fill="#000000"/><rect x="526.8" y="169.7" fill="#000000"/><rect x="410.8" y="173.2" fill="#ba5e1e"/><rect x="414.3" y="173.2" fill="#9e3618"/><rect x="417.8" y="173.2" fill="#c0671f"/><rect x="421.3" y="173.2" fill="#942915"/><rect x="424.8" y="173.2" fill="#78180f"/><rect x="428.4" y="173.2" fill="#882113"/><rect x="431.9" y="173.2" fill="#70160e"/><rect x="435.4" y="173.2" fill="#500b08"/><rect x="438.9" y="173.2" fill="#510b09"/><rect x="442.4" y="173.2" fill="#841e12"/><rect x="445.9" y="173.2" fill="#65120c"/><rect x="449.5" y="173.2" fill="#68130c"/><rect x="453.0" y="173.2" fill="#5e100b"/><rect x="456.5" y="173.2" fill="#5d0f0b"/><rect x="460.0" y="173.2" fill="#882113"/><rect x="463.5" y="173.2" fill="#7e1b10"/><rect x="467.0" y="173.2" fill="#801c11"/><rect x="470.6" y="173.2" fill="#a9451a"/><rect x="474.1" y="173.2" fill="#b85a1e"/><rect x="477.6" y="173.2" fill="#e3af35"/><rect x="481.1" y="173.2" fill="#fbf5d7"/><rect x="484.6" y="173.2" fill="#fbf4d4"/><rect x="488.1" y="173.2" fill="#ffffff"/><rect x="491.6" y="173.2" fill="#fffefd"/><rect x="495.2" y="173.2" fill="#fefdf7"/><rect x="498.7" y="173.2" fill="#f1d788"/><rect x="502.2" y="173.2" fill="#e4b338"/><rect x="505.7" y="173.2" fill="#ca7a21"/><rect x="509.2" y="173.2" fill="#7e1b10"/><rect x="512.7" y="173.2" fill="#420807"/><rect x="516.3" y="173.2" fill="#170202"/><rect x="519.8" y="173.2" fill="#070101"/><rect x="523.3" y="173.2" fill="#000000"/><rect x="526.8" y="173.2" fill="#0b0101"/><rect x="410.8" y="176.7" fill="#9a3017"/><rect x="414.3" y="176.7" fill="#a8441a"/><rect x="417.8" y="176.7" fill="#a03918"/><rect x="421.3" y="176.7" fill="#c67321"/><rect x="424.8" y="176.7" fill="#8c2414"/><rect x="428.4" y="176.7" fill="#72160e"/><rect x="431.9" y="176.7" fill="#a03818"/><rect x="435.4" y="176.7" fill="#560d09"/><rect x="438.9" y="176.7" fill="#77180f"/><rect x="442.4" y="176.7" fill="#4b0a08"/><rect x="445.9" y="176.7" fill="#62110b"/><rect x="449.5" y="176.7" fill="#360705"/><rect x="453.0" y="176.7" fill="#73170e"/><rect x="456.5" y="176.7" fill="#67120c"/><rect x="460.0" y="176.7" fill="#62110b"/><rect x="463.5" y="176.7" fill="#af4e1c"/><rect x="467.0" y="176.7" fill="#ad4b1b"/><rect x="470.6" y="176.7" fill="#b5561d"/><rect x="474.1" y="176.7" fill="#c0691f"/><rect x="477.6" y="176.7" fill="#e3af36"/><rect x="481.1" y="176.7" fill="#f7e8ac"/><rect x="484.6" y="176.7" fill="#ffffff"/><rect x="488.1" y="176.7" fill="#ffffff"/><rect x="491.6" y="176.7" fill="#fefbf0"/><rect x="495.2" y="176.7" fill="#faf1c6"/><rect x="498.7" y="176.7" fill="#ecca6b"/><rect x="502.2" y="176.7" fill="#cd7f22"/><rect x="505.7" y="176.7" fill="#ae4c1b"/><rect x="509.2" y="176.7" fill="#7a190f"/><rect x="512.7" y="176.7" fill="#570d0a"/><rect x="516.3" y="176.7" fill="#3b0706"/><rect x="519.8" y="176.7" fill="#070101"/><rect x="523.3" y="176.7" fill="#110202"/><rect x="526.8" y="176.7" fill="#090101"/><rect x="410.8" y="180.3" fill="#b5561d"/><rect x="414.3" y="180.3" fill="#7e1b10"/><rect x="417.8" y="180.3" fill="#8c2314"/><rect x="421.3" y="180.3" fill="#6b140d"/><rect x="424.8" y="180.3" fill="#6d140d"/><rect x="428.4" y="180.3" fill="#7f1b11"/><rect x="431.9" y="180.3" fill="#6e150e"/><rect x="435.4" y="180.3" fill="#76180f"/><rect x="438.9" y="180.3" fill="#470907"/><rect x="442.4" y="180.3" fill="#6b140d"/><rect x="445.9" y="180.3" fill="#470907"/><rect x="449.5" y="180.3" fill="#7b1910"/><rect x="453.0" y="180.3" fill="#590e0a"/><rect x="456.5" y="180.3" fill="#801c11"/><rect x="460.0" y="180.3" fill="#5b0e0a"/><rect x="463.5" y="180.3" fill="#952916"/><rect x="467.0" y="180.3" fill="#8b2313"/><rect x="470.6" y="180.3" fill="#b0501c"/><rect x="474.1" y="180.3" fill="#d38a24"/><rect x="477.6" y="180.3" fill="#e0a933"/><rect x="481.1" y="180.3" fill="#f8ebb1"/><rect x="484.6" y="180.3" fill="#fefdf7"/><rect x="488.1" y="180.3" fill="#ffffff"/><rect x="491.6" y="180.3" fill="#fbf4d3"/><rect x="495.2" y="180.3" fill="#e6b845"/><rect x="498.7" y="180.3" fill="#da9b2c"/><rect x="502.2" y="180.3" fill="#ca7821"/><rect x="505.7" y="180.3" fill="#6d150d"/><rect x="509.2" y="180.3" fill="#7a1910"/><rect x="512.7" y="180.3" fill="#3c0706"/><rect x="516.3" y="180.3" fill="#1a0303"/><rect x="519.8" y="180.3" fill="#1d0303"/><rect x="523.3" y="180.3" fill="#130202"/><rect x="526.8" y="180.3" fill="#100202"/><rect x="410.8" y="183.8" fill="#5e0f0b"/><rect x="414.3" y="183.8" fill="#77180f"/><rect x="417.8" y="183.8" fill="#79190f"/><rect x="421.3" y="183.8" fill="#63110c"/><rect x="424.8" y="183.8" fill="#922815"/><rect x="428.4" y="183.8" fill="#892213"/><rect x="431.9" y="183.8" fill="#550c09"/><rect x="435.4" y="183.8" fill="#7a1910"/><rect x="438.9" y="183.8" fill="#540c09"/><rect x="442.4" y="183.8" fill="#7a190f"/><rect x="445.9" y="183.8" fill="#6b140d"/><rect x="449.5" y="183.8" fill="#430907"/><rect x="453.0" y="183.8" fill="#4d0a08"/><rect x="456.5" y="183.8" fill="#6d150d"/><rect x="460.0" y="183.8" fill="#76180f"/><rect x="463.5" y="183.8" fill="#ba5d1e"/><rect x="467.0" y="183.8" fill="#be651f"/><rect x="470.6" y="183.8" fill="#bf661f"/><rect x="474.1" y="183.8" fill="#dc9f2e"/><rect x="477.6" y="183.8" fill="#c97721"/><rect x="481.1" y="183.8" fill="#f1d888"/><rect x="484.6" y="183.8" fill="#faf2cb"/><rect x="488.1" y="183.8" fill="#f4e19c"/><rect x="491.6" y="183.8" fill="#e7bc4d"/><rect x="495.2" y="183.8" fill="#e7bc4c"/><rect x="498.7" y="183.8" fill="#e6b843"/><rect x="502.2" y="183.8" fill="#b4551d"/><rect x="505.7" y="183.8" fill="#6a130d"/><rect x="509.2" y="183.8" fill="#78180f"/><rect x="512.7" y="183.8" fill="#150202"/><rect x="516.3" y="183.8" fill="#290504"/><rect x="519.8" y="183.8" fill="#0c0101"/><rect x="523.3" y="183.8" fill="#1d0303"/><rect x="526.8" y="183.8" fill="#080101"/><rect x="410.8" y="187.3" fill="#872012"/><rect x="414.3" y="187.3" fill="#6f150e"/><rect x="417.8" y="187.3" fill="#490907"/><rect x="421.3" y="187.3" fill="#4a0908"/><rect x="424.8" y="187.3" fill="#74170f"/><rect x="428.4" y="187.3" fill="#a8431a"/><rect x="431.9" y="187.3" fill="#912715"/><rect x="435.4" y="187.3" fill="#8d2414"/><rect x="438.9" y="187.3" fill="#7a1910"/><rect x="442.4" y="187.3" fill="#821d11"/><rect x="445.9" y="187.3" fill="#6f150e"/><rect x="449.5" y="187.3" fill="#69130d"/><rect x="453.0" y="187.3" fill="#530c09"/><rect x="456.5" y="187.3" fill="#8d2414"/><rect x="460.0" y="187.3" fill="#a6411a"/><rect x="463.5" y="187.3" fill="#7b1910"/><rect x="467.0" y="187.3" fill="#dc9f2e"/><rect x="470.6" y="187.3" fill="#d69128"/><rect x="474.1" y="187.3" fill="#d48b25"/><rect x="477.6" y="187.3" fill="#ca7821"/><rect x="481.1" y="187.3" fill="#eecf75"/><rect x="484.6" y="187.3" fill="#efd17a"/><rect x="488.1" y="187.3" fill="#e0a832"/><rect x="491.6" y="187.3" fill="#c46f20"/><rect x="495.2" y="187.3" fill="#dda12f"/><rect x="498.7" y="187.3" fill="#a6411a"/><rect x="502.2" y="187.3" fill="#862012"/><rect x="505.7" y="187.3" fill="#b6581d"/><rect x="509.2" y="187.3" fill="#7f1b10"/><rect x="512.7" y="187.3" fill="#4d0a08"/><rect x="516.3" y="187.3" fill="#1e0303"/><rect x="519.8" y="187.3" fill="#270504"/><rect x="523.3" y="187.3" fill="#000000"/><rect x="526.8" y="187.3" fill="#1c0303"/><rect x="410.8" y="190.8" fill="#5e100b"/><rect x="414.3" y="190.8" fill="#530c09"/><rect x="417.8" y="190.8" fill="#4f0a08"/><rect x="421.3" y="190.8" fill="#831e12"/><rect x="424.8" y="190.8" fill="#8a2213"/><rect x="428.4" y="190.8" fill="#a03818"/><rect x="431.9" y="190.8" fill="#bf671f"/><rect x="435.4" y="190.8" fill="#992e17"/><rect x="438.9" y="190.8" fill="#862012"/><rect x="442.4" y="190.8" fill="#6c140d"/><rect x="445.9" y="190.8" fill="#7c1a10"/><rect x="449.5" y="190.8" fill="#8e2514"/><rect x="453.0" y="190.8" fill="#78180f"/><rect x="456.5" y="190.8" fill="#912715"/><rect x="460.0" y="190.8" fill="#74170f"/><rect x="463.5" y="190.8" fill="#9a3017"/><rect x="467.0" y="190.8" fill="#af4d1c"/><rect x="470.6" y="190.8" fill="#bd631f"/><rect x="474.1" y="190.8" fill="#f0d481"/><rect x="477.6" y="190.8" fill="#ebc663"/><rect x="481.1" y="190.8" fill="#dc9f2e"/><rect x="484.6" y="190.8" fill="#da992b"/><rect x="488.1" y="190.8" fill="#db9d2d"/><rect x="491.6" y="190.8" fill="#b85b1e"/><rect x="495.2" y="190.8" fill="#c97721"/><rect x="498.7" y="190.8" fill="#862012"/><rect x="502.2" y="190.8" fill="#801c11"/><rect x="505.7" y="190.8" fill="#5c0f0a"/><rect x="509.2" y="190.8" fill="#500b08"/><rect x="512.7" y="190.8" fill="#2d0505"/><rect x="516.3" y="190.8" fill="#1a0303"/><rect x="519.8" y="190.8" fill="#1e0303"/><rect x="523.3" y="190.8" fill="#210403"/><rect x="526.8" y="190.8" fill="#2a0504"/><rect x="410.8" y="194.3" fill="#7e1a10"/><rect x="414.3" y="194.3" fill="#a13a19"/><rect x="417.8" y="194.3" fill="#922815"/><rect x="421.3" y="194.3" fill="#851f12"/><rect x="424.8" y="194.3" fill="#b4551d"/><rect x="428.4" y="194.3" fill="#ab481b"/><rect x="431.9" y="194.3" fill="#dfa631"/><rect x="435.4" y="194.3" fill="#da992b"/><rect x="438.9" y="194.3" fill="#b7591e"/><rect x="442.4" y="194.3" fill="#d38924"/><rect x="445.9" y="194.3" fill="#c77521"/><rect x="449.5" y="194.3" fill="#69130d"/><rect x="453.0" y="194.3" fill="#8b2313"/><rect x="456.5" y="194.3" fill="#8f2514"/><rect x="460.0" y="194.3" fill="#72160e"/><rect x="463.5" y="194.3" fill="#962a16"/><rect x="467.0" y="194.3" fill="#b6581d"/><rect x="470.6" y="194.3" fill="#dfa531"/><rect x="474.1" y="194.3" fill="#e5b43c"/><rect x="477.6" y="194.3" fill="#faf2ce"/><rect x="481.1" y="194.3" fill="#dfa732"/><rect x="484.6" y="194.3" fill="#ebc765"/><rect x="488.1" y="194.3" fill="#da9a2c"/><rect x="491.6" y="194.3" fill="#d48b25"/><rect x="495.2" y="194.3" fill="#a5401a"/><rect x="498.7" y="194.3" fill="#7d1a10"/><rect x="502.2" y="194.3" fill="#841e12"/><rect x="505.7" y="194.3" fill="#942915"/><rect x="509.2" y="194.3" fill="#932815"/><rect x="512.7" y="194.3" fill="#6c140d"/><rect x="516.3" y="194.3" fill="#5f100b"/><rect x="519.8" y="194.3" fill="#3e0806"/><rect x="523.3" y="194.3" fill="#6b140d"/><rect x="526.8" y="194.3" fill="#68130c"/><rect x="410.8" y="197.8" fill="#882113"/><rect x="414.3" y="197.8" fill="#932815"/><rect x="417.8" y="197.8" fill="#7f1b10"/><rect x="421.3" y="197.8" fill="#c77421"/><rect x="424.8" y="197.8" fill="#c57120"/><rect x="428.4" y="197.8" fill="#d28823"/><rect x="431.9" y="197.8" fill="#e4b33a"/><rect x="435.4" y="197.8" fill="#ecc866"/><rect x="438.9" y="197.8" fill="#e3af36"/><rect x="442.4" y="197.8" fill="#d48c25"/><rect x="445.9" y="197.8" fill="#c77421"/><rect x="449.5" y="197.8" fill="#ab481b"/><rect x="453.0" y="197.8" fill="#ca7921"/><rect x="456.5" y="197.8" fill="#da9a2c"/><rect x="460.0" y="197.8" fill="#841e12"/><rect x="463.5" y="197.8" fill="#be641f"/><rect x="467.0" y="197.8" fill="#d79228"/><rect x="470.6" y="197.8" fill="#d69027"/><rect x="474.1" y="197.8" fill="#e9c054"/><rect x="477.6" y="197.8" fill="#da9b2c"/><rect x="481.1" y="197.8" fill="#efd37d"/><rect x="484.6" y="197.8" fill="#d9972a"/><rect x="488.1" y="197.8" fill="#da9b2c"/><rect x="491.6" y="197.8" fill="#db9c2d"/><rect x="495.2" y="197.8" fill="#c16b20"/><rect x="498.7" y="197.8" fill="#922815"/><rect x="502.2" y="197.8" fill="#a33d19"/><rect x="505.7" y="197.8" fill="#b4551d"/><rect x="509.2" y="197.8" fill="#8c2414"/><rect x="512.7" y="197.8" fill="#851f12"/><rect x="516.3" y="197.8" fill="#5f100b"/><rect x="519.8" y="197.8" fill="#72160e"/><rect x="523.3" y="197.8" fill="#7c1a10"/><rect x="526.8" y="197.8" fill="#6f150e"/><rect x="410.8" y="201.4" fill="#d58d26"/><rect x="414.3" y="201.4" fill="#aa471b"/><rect x="417.8" y="201.4" fill="#982d16"/><rect x="421.3" y="201.4" fill="#962a16"/><rect x="424.8" y="201.4" fill="#dda02f"/><rect x="428.4" y="201.4" fill="#dda12f"/><rect x="431.9" y="201.4" fill="#f4e29e"/><rect x="435.4" y="201.4" fill="#f7eaaf"/><rect x="438.9" y="201.4" fill="#fcf8e3"/><rect x="442.4" y="201.4" fill="#faf1c7"/><rect x="445.9" y="201.4" fill="#e6b742"/><rect x="449.5" y="201.4" fill="#e3af36"/><rect x="453.0" y="201.4" fill="#e0a933"/><rect x="456.5" y="201.4" fill="#a7421a"/><rect x="460.0" y="201.4" fill="#d38824"/><rect x="463.5" y="201.4" fill="#d38824"/><rect x="467.0" y="201.4" fill="#dda12f"/><rect x="470.6" y="201.4" fill="#dfa531"/><rect x="474.1" y="201.4" fill="#e9c055"/><rect x="477.6" y="201.4" fill="#d79329"/><rect x="481.1" y="201.4" fill="#e0aa33"/><rect x="484.6" y="201.4" fill="#d79228"/><rect x="488.1" y="201.4" fill="#db9c2d"/><rect x="491.6" y="201.4" fill="#d18523"/><rect x="495.2" y="201.4" fill="#d79228"/><rect x="498.7" y="201.4" fill="#dda12f"/><rect x="502.2" y="201.4" fill="#ac491b"/><rect x="505.7" y="201.4" fill="#d08423"/><rect x="509.2" y="201.4" fill="#7f1b10"/><rect x="512.7" y="201.4" fill="#6f150e"/><rect x="516.3" y="201.4" fill="#932815"/><rect x="519.8" y="201.4" fill="#8f2514"/><rect x="523.3" y="201.4" fill="#982c16"/><rect x="526.8" y="201.4" fill="#69130d"/><rect x="410.8" y="204.9" fill="#c16a20"/><rect x="414.3" y="204.9" fill="#c46f20"/><rect x="417.8" y="204.9" fill="#d79429"/><rect x="421.3" y="204.9" fill="#c87621"/><rect x="424.8" y="204.9" fill="#db9b2d"/><rect x="428.4" y="204.9" fill="#d58e26"/><rect x="431.9" y="204.9" fill="#e8bf52"/><rect x="435.4" y="204.9" fill="#eece73"/><rect x="438.9" y="204.9" fill="#f9f0c3"/><rect x="442.4" y="204.9" fill="#e9c158"/><rect x="445.9" y="204.9" fill="#e5b640"/><rect x="449.5" y="204.9" fill="#ebc560"/><rect x="453.0" y="204.9" fill="#ebc662"/><rect x="456.5" y="204.9" fill="#cd7e22"/><rect x="460.0" y="204.9" fill="#ba5e1e"/><rect x="463.5" y="204.9" fill="#a6411a"/><rect x="467.0" y="204.9" fill="#d48b25"/><rect x="470.6" y="204.9" fill="#d9972a"/><rect x="474.1" y="204.9" fill="#eac35b"/><rect x="477.6" y="204.9" fill="#db9c2d"/><rect x="481.1" y="204.9" fill="#c87621"/><rect x="484.6" y="204.9" fill="#d08423"/><rect x="488.1" y="204.9" fill="#c97821"/><rect x="491.6" y="204.9" fill="#c57020"/><rect x="495.2" y="204.9" fill="#e6b741"/><rect x="498.7" y="204.9" fill="#e0a933"/><rect x="502.2" y="204.9" fill="#c16920"/><rect x="505.7" y="204.9" fill="#e4b339"/><rect x="509.2" y="204.9" fill="#cb7a22"/><rect x="512.7" y="204.9" fill="#a23b19"/><rect x="516.3" y="204.9" fill="#b75a1e"/><rect x="519.8" y="204.9" fill="#a33d19"/><rect x="523.3" y="204.9" fill="#8e2514"/><rect x="526.8" y="204.9" fill="#75170f"/><rect x="410.8" y="208.4" fill="#cc7d22"/><rect x="414.3" y="208.4" fill="#d18523"/><rect x="417.8" y="208.4" fill="#912715"/><rect x="421.3" y="208.4" fill="#d69228"/><rect x="424.8" y="208.4" fill="#db9c2d"/><rect x="428.4" y="208.4" fill="#d58e26"/><rect x="431.9" y="208.4" fill="#e2ae35"/><rect x="435.4" y="208.4" fill="#e4b33a"/><rect x="438.9" y="208.4" fill="#e2ad35"/><rect x="442.4" y="208.4" fill="#e7bb4a"/><rect x="445.9" y="208.4" fill="#f5e3a0"/><rect x="449.5" y="208.4" fill="#ce8122"/><rect x="453.0" y="208.4" fill="#d69027"/><rect x="456.5" y="208.4" fill="#c16920"/><rect x="460.0" y="208.4" fill="#912715"/><rect x="463.5" y="208.4" fill="#8b2313"/><rect x="467.0" y="208.4" fill="#78180f"/><rect x="470.6" y="208.4" fill="#912715"/><rect x="474.1" y="208.4" fill="#b3531d"/><rect x="477.6" y="208.4" fill="#c0681f"/><rect x="481.1" y="208.4" fill="#ad4b1b"/><rect x="484.6" y="208.4" fill="#edcd71"/><rect x="488.1" y="208.4" fill="#c77421"/><rect x="491.6" y="208.4" fill="#d79329"/><rect x="495.2" y="208.4" fill="#d79228"/><rect x="498.7" y="208.4" fill="#d69128"/><rect x="502.2" y="208.4" fill="#e8bc4e"/><rect x="505.7" y="208.4" fill="#d08423"/><rect x="509.2" y="208.4" fill="#dea430"/><rect x="512.7" y="208.4" fill="#d58e26"/><rect x="516.3" y="208.4" fill="#9a3017"/><rect x="519.8" y="208.4" fill="#c36d20"/><rect x="523.3" y="208.4" fill="#982d16"/><rect x="526.8" y="208.4" fill="#db9d2d"/><rect x="410.8" y="211.9" fill="#c87621"/><rect x="414.3" y="211.9" fill="#be651f"/><rect x="417.8" y="211.9" fill="#a8431a"/><rect x="421.3" y="211.9" fill="#b85a1e"/><rect x="424.8" y="211.9" fill="#c67221"/><rect x="428.4" y="211.9" fill="#c0681f"/><rect x="431.9" y="211.9" fill="#c0681f"/><rect x="435.4" y="211.9" fill="#d08323"/><rect x="438.9" y="211.9" fill="#d9982b"/><rect x="442.4" y="211.9" fill="#ecc866"/><rect x="445.9" y="211.9" fill="#c16a20"/><rect x="449.5" y="211.9" fill="#cc7d22"/><rect x="453.0" y="211.9" fill="#b04e1c"/><rect x="456.5" y="211.9" fill="#841e12"/><rect x="460.0" y="211.9" fill="#72160e"/><rect x="463.5" y="211.9" fill="#6a140d"/><rect x="467.0" y="211.9" fill="#872012"/><rect x="470.6" y="211.9" fill="#74170e"/><rect x="474.1" y="211.9" fill="#73160e"/><rect x="477.6" y="211.9" fill="#9a2f17"/><rect x="481.1" y="211.9" fill="#a43d19"/><rect x="484.6" y="211.9" fill="#ac491b"/><rect x="488.1" y="211.9" fill="#ca7921"/><rect x="491.6" y="211.9" fill="#c0691f"/><rect x="495.2" y="211.9" fill="#dda22f"/><rect x="498.7" y="211.9" fill="#dfa531"/><rect x="502.2" y="211.9" fill="#d58e26"/><rect x="505.7" y="211.9" fill="#c26c20"/><rect x="509.2" y="211.9" fill="#e0a832"/><rect x="512.7" y="211.9" fill="#c26c20"/><rect x="516.3" y="211.9" fill="#e2ad35"/><rect x="519.8" y="211.9" fill="#972c16"/><rect x="523.3" y="211.9" fill="#bb5f1e"/><rect x="526.8" y="211.9" fill="#9c3217"/><rect x="410.8" y="215.4" fill="#d48b25"/><rect x="414.3" y="215.4" fill="#db9c2d"/><rect x="417.8" y="215.4" fill="#c46f20"/><rect x="421.3" y="215.4" fill="#d08423"/><rect x="424.8" y="215.4" fill="#d08423"/><rect x="428.4" y="215.4" fill="#ca7a21"/><rect x="431.9" y="215.4" fill="#d18623"/><rect x="435.4" y="215.4" fill="#d79328"/><rect x="438.9" y="215.4" fill="#d79228"/><rect x="442.4" y="215.4" fill="#d18523"/><rect x="445.9" y="215.4" fill="#c46e20"/><rect x="449.5" y="215.4" fill="#a8431a"/><rect x="453.0" y="215.4" fill="#9d3418"/><rect x="456.5" y="215.4" fill="#892213"/><rect x="460.0" y="215.4" fill="#8e2514"/><rect x="463.5" y="215.4" fill="#64120c"/><rect x="467.0" y="215.4" fill="#460907"/><rect x="470.6" y="215.4" fill="#66120c"/><rect x="474.1" y="215.4" fill="#4b0a08"/><rect x="477.6" y="215.4" fill="#560d09"/><rect x="481.1" y="215.4" fill="#73170e"/><rect x="484.6" y="215.4" fill="#9e3518"/><rect x="488.1" y="215.4" fill="#73170e"/><rect x="491.6" y="215.4" fill="#a9451a"/><rect x="495.2" y="215.4" fill="#d28723"/><rect x="498.7" y="215.4" fill="#cf8222"/><rect x="502.2" y="215.4" fill="#c67321"/><rect x="505.7" y="215.4" fill="#c77321"/><rect x="509.2" y="215.4" fill="#da9a2c"/><rect x="512.7" y="215.4" fill="#ad4c1b"/><rect x="516.3" y="215.4" fill="#bb601e"/><rect x="519.8" y="215.4" fill="#b4561d"/><rect x="523.3" y="215.4" fill="#912715"/><rect x="526.8" y="215.4" fill="#aa471b"/><rect x="410.8" y="219.0" fill="#c67221"/><rect x="414.3" y="219.0" fill="#c77421"/><rect x="417.8" y="219.0" fill="#c36d20"/><rect x="421.3" y="219.0" fill="#e0a933"/><rect x="424.8" y="219.0" fill="#cb7b22"/><rect x="428.4" y="219.0" fill="#bd621f"/><rect x="431.9" y="219.0" fill="#a53f19"/><rect x="435.4" y="219.0" fill="#da9a2c"/><rect x="438.9" y="219.0" fill="#cc7c22"/><rect x="442.4" y="219.0" fill="#bb601e"/><rect x="445.9" y="219.0" fill="#aa461b"/><rect x="449.5" y="219.0" fill="#8a2213"/><rect x="453.0" y="219.0" fill="#a7431a"/><rect x="456.5" y="219.0" fill="#912715"/><rect x="460.0" y="219.0" fill="#570d0a"/><rect x="463.5" y="219.0" fill="#78180f"/><rect x="467.0" y="219.0" fill="#5f100b"/><rect x="470.6" y="219.0" fill="#320605"/><rect x="474.1" y="219.0" fill="#370706"/><rect x="477.6" y="219.0" fill="#420807"/><rect x="481.1" y="219.0" fill="#61100b"/><rect x="484.6" y="219.0" fill="#74170e"/><rect x="488.1" y="219.0" fill="#6f150e"/><rect x="491.6" y="219.0" fill="#cd7f22"/><rect x="495.2" y="219.0" fill="#c57020"/><rect x="498.7" y="219.0" fill="#d8962a"/><rect x="502.2" y="219.0" fill="#d9972a"/><rect x="505.7" y="219.0" fill="#be641f"/><rect x="509.2" y="219.0" fill="#c0671f"/><rect x="512.7" y="219.0" fill="#bd631f"/><rect x="516.3" y="219.0" fill="#b3541d"/><rect x="519.8" y="219.0" fill="#932815"/><rect x="523.3" y="219.0" fill="#862012"/><rect x="526.8" y="219.0" fill="#972c16"/><rect x="410.8" y="222.5" fill="#bc621f"/><rect x="414.3" y="222.5" fill="#c77521"/><rect x="417.8" y="222.5" fill="#b75a1e"/><rect x="421.3" y="222.5" fill="#dea330"/><rect x="424.8" y="222.5" fill="#c97721"/><rect x="428.4" y="222.5" fill="#c26b20"/><rect x="431.9" y="222.5" fill="#c26b20"/><rect x="435.4" y="222.5" fill="#c57020"/><rect x="438.9" y="222.5" fill="#da9b2c"/><rect x="442.4" y="222.5" fill="#be651f"/><rect x="445.9" y="222.5" fill="#902614"/><rect x="449.5" y="222.5" fill="#ad4b1b"/><rect x="453.0" y="222.5" fill="#8a2313"/><rect x="456.5" y="222.5" fill="#902615"/><rect x="460.0" y="222.5" fill="#64110c"/><rect x="463.5" y="222.5" fill="#4f0a08"/><rect x="467.0" y="222.5" fill="#400807"/><rect x="470.6" y="222.5" fill="#2e0605"/><rect x="474.1" y="222.5" fill="#120202"/><rect x="477.6" y="222.5" fill="#2d0505"/><rect x="481.1" y="222.5" fill="#4b0a08"/><rect x="484.6" y="222.5" fill="#7c1a10"/><rect x="488.1" y="222.5" fill="#76180f"/><rect x="491.6" y="222.5" fill="#8b2313"/><rect x="495.2" y="222.5" fill="#b3531d"/><rect x="498.7" y="222.5" fill="#b95c1e"/><rect x="502.2" y="222.5" fill="#ce8022"/><rect x="505.7" y="222.5" fill="#b85b1e"/><rect x="509.2" y="222.5" fill="#a33c19"/><rect x="512.7" y="222.5" fill="#bd641f"/><rect x="516.3" y="222.5" fill="#bd621f"/><rect x="519.8" y="222.5" fill="#862012"/><rect x="523.3" y="222.5" fill="#952a16"/><rect x="526.8" y="222.5" fill="#6c140d"/><rect x="410.8" y="226.0" fill="#c16920"/><rect x="414.3" y="226.0" fill="#bd631f"/><rect x="417.8" y="226.0" fill="#d58d26"/><rect x="421.3" y="226.0" fill="#d79328"/><rect x="424.8" y="226.0" fill="#d79228"/><rect x="428.4" y="226.0" fill="#cf8122"/><rect x="431.9" y="226.0" fill="#d28723"/><rect x="435.4" y="226.0" fill="#ca7821"/><rect x="438.9" y="226.0" fill="#b6581d"/><rect x="442.4" y="226.0" fill="#9c3317"/><rect x="445.9" y="226.0" fill="#cd7e22"/><rect x="449.5" y="226.0" fill="#c87621"/><rect x="453.0" y="226.0" fill="#8e2514"/><rect x="456.5" y="226.0" fill="#962b16"/><rect x="460.0" y="226.0" fill="#570d09"/><rect x="463.5" y="226.0" fill="#420807"/><rect x="467.0" y="226.0" fill="#460907"/><rect x="470.6" y="226.0" fill="#570d0a"/><rect x="474.1" y="226.0" fill="#1c0303"/><rect x="477.6" y="226.0" fill="#230404"/><rect x="481.1" y="226.0" fill="#61100b"/><rect x="484.6" y="226.0" fill="#310605"/><rect x="488.1" y="226.0" fill="#78180f"/><rect x="491.6" y="226.0" fill="#872012"/><rect x="495.2" y="226.0" fill="#811c11"/><rect x="498.7" y="226.0" fill="#8f2614"/><rect x="502.2" y="226.0" fill="#ca7921"/><rect x="505.7" y="226.0" fill="#73170e"/><rect x="509.2" y="226.0" fill="#862012"/><rect x="512.7" y="226.0" fill="#892213"/><rect x="516.3" y="226.0" fill="#7f1b10"/><rect x="519.8" y="226.0" fill="#72160e"/><rect x="523.3" y="226.0" fill="#ba5e1e"/><rect x="526.8" y="226.0" fill="#972b16"/><rect x="410.8" y="229.5" fill="#9c3217"/><rect x="414.3" y="229.5" fill="#bb5f1e"/><rect x="417.8" y="229.5" fill="#d58e26"/><rect x="421.3" y="229.5" fill="#d9972a"/><rect x="424.8" y="229.5" fill="#ba5e1e"/><rect x="428.4" y="229.5" fill="#cf8222"/><rect x="431.9" y="229.5" fill="#d28823"/><rect x="435.4" y="229.5" fill="#d28723"/><rect x="438.9" y="229.5" fill="#cd7f22"/><rect x="442.4" y="229.5" fill="#922715"/><rect x="445.9" y="229.5" fill="#d69128"/><rect x="449.5" y="229.5" fill="#af4e1c"/><rect x="453.0" y="229.5" fill="#c77421"/><rect x="456.5" y="229.5" fill="#d08423"/><rect x="460.0" y="229.5" fill="#7a190f"/><rect x="463.5" y="229.5" fill="#520b09"/><rect x="467.0" y="229.5" fill="#67130c"/><rect x="470.6" y="229.5" fill="#400807"/><rect x="474.1" y="229.5" fill="#2f0605"/><rect x="477.6" y="229.5" fill="#220403"/><rect x="481.1" y="229.5" fill="#60100b"/><rect x="484.6" y="229.5" fill="#450907"/><rect x="488.1" y="229.5" fill="#420807"/><rect x="491.6" y="229.5" fill="#60100b"/><rect x="495.2" y="229.5" fill="#570d0a"/><rect x="498.7" y="229.5" fill="#74170f"/><rect x="502.2" y="229.5" fill="#6b140d"/><rect x="505.7" y="229.5" fill="#62110b"/><rect x="509.2" y="229.5" fill="#8d2414"/><rect x="512.7" y="229.5" fill="#78180f"/><rect x="516.3" y="229.5" fill="#a13a19"/><rect x="519.8" y="229.5" fill="#b5561d"/><rect x="523.3" y="229.5" fill="#8c2414"/><rect x="526.8" y="229.5" fill="#841e12"/><rect x="410.8" y="233.0" fill="#ca7921"/><rect x="414.3" y="233.0" fill="#d58e26"/><rect x="417.8" y="233.0" fill="#c97821"/><rect x="421.3" y="233.0" fill="#cf8222"/><rect x="424.8" y="233.0" fill="#ce8022"/><rect x="428.4" y="233.0" fill="#d38b25"/><rect x="431.9" y="233.0" fill="#d79228"/><rect x="435.4" y="233.0" fill="#be641f"/><rect x="438.9" y="233.0" fill="#bc611f"/><rect x="442.4" y="233.0" fill="#bd641f"/><rect x="445.9" y="233.0" fill="#a13a18"/><rect x="449.5" y="233.0" fill="#ac491b"/><rect x="453.0" y="233.0" fill="#ae4c1b"/><rect x="456.5" y="233.0" fill="#962a16"/><rect x="460.0" y="233.0" fill="#7c1a10"/><rect x="463.5" y="233.0" fill="#6a140d"/><rect x="467.0" y="233.0" fill="#8f2614"/><rect x="470.6" y="233.0" fill="#69130d"/><rect x="474.1" y="233.0" fill="#340605"/><rect x="477.6" y="233.0" fill="#340605"/><rect x="481.1" y="233.0" fill="#6c140d"/><rect x="484.6" y="233.0" fill="#6b140d"/><rect x="488.1" y="233.0" fill="#570d0a"/><rect x="491.6" y="233.0" fill="#72160e"/><rect x="495.2" y="233.0" fill="#410807"/><rect x="498.7" y="233.0" fill="#61110b"/><rect x="502.2" y="233.0" fill="#75170f"/><rect x="505.7" y="233.0" fill="#480907"/><rect x="509.2" y="233.0" fill="#69130d"/><rect x="512.7" y="233.0" fill="#9a3017"/><rect x="516.3" y="233.0" fill="#b0501c"/><rect x="519.8" y="233.0" fill="#8c2314"/><rect x="523.3" y="233.0" fill="#a53f19"/><rect x="526.8" y="233.0" fill="#c26b20"/><rect x="410.8" y="236.6" fill="#c36d20"/><rect x="414.3" y="236.6" fill="#ae4c1b"/><rect x="417.8" y="236.6" fill="#c97821"/><rect x="421.3" y="236.6" fill="#c46f20"/><rect x="424.8" y="236.6" fill="#dda02f"/><rect x="428.4" y="236.6" fill="#ce8122"/><rect x="431.9" y="236.6" fill="#ba5e1e"/><rect x="435.4" y="236.6" fill="#e4b237"/><rect x="438.9" y="236.6" fill="#b1501c"/><rect x="442.4" y="236.6" fill="#bd631f"/><rect x="445.9" y="236.6" fill="#ba5d1e"/><rect x="449.5" y="236.6" fill="#b6581d"/><rect x="453.0" y="236.6" fill="#a43e19"/><rect x="456.5" y="236.6" fill="#ad4b1b"/><rect x="460.0" y="236.6" fill="#972c16"/><rect x="463.5" y="236.6" fill="#70150e"/><rect x="467.0" y="236.6" fill="#7c1a10"/><rect x="470.6" y="236.6" fill="#6f150e"/><rect x="474.1" y="236.6" fill="#63110c"/><rect x="477.6" y="236.6" fill="#5f100b"/><rect x="481.1" y="236.6" fill="#4a0908"/><rect x="484.6" y="236.6" fill="#6d150d"/><rect x="488.1" y="236.6" fill="#71160e"/><rect x="491.6" y="236.6" fill="#270504"/><rect x="495.2" y="236.6" fill="#550c09"/><rect x="498.7" y="236.6" fill="#4b0a08"/><rect x="502.2" y="236.6" fill="#2e0605"/><rect x="505.7" y="236.6" fill="#75170f"/><rect x="509.2" y="236.6" fill="#6f150e"/><rect x="512.7" y="236.6" fill="#831e12"/><rect x="516.3" y="236.6" fill="#8b2313"/><rect x="519.8" y="236.6" fill="#bf671f"/><rect x="523.3" y="236.6" fill="#c46f20"/><rect x="526.8" y="236.6" fill="#ae4c1b"/><rect x="410.8" y="240.1" fill="#d79429"/><rect x="414.3" y="240.1" fill="#cc7d22"/><rect x="417.8" y="240.1" fill="#d18523"/><rect x="421.3" y="240.1" fill="#bf661f"/><rect x="424.8" y="240.1" fill="#cb7a22"/><rect x="428.4" y="240.1" fill="#b85b1e"/><rect x="431.9" y="240.1" fill="#c77421"/><rect x="435.4" y="240.1" fill="#c87521"/><rect x="438.9" y="240.1" fill="#b3541d"/><rect x="442.4" y="240.1" fill="#bd631f"/><rect x="445.9" y="240.1" fill="#d38924"/><rect x="449.5" y="240.1" fill="#67120c"/><rect x="453.0" y="240.1" fill="#9b3117"/><rect x="456.5" y="240.1" fill="#932815"/><rect x="460.0" y="240.1" fill="#9c3217"/><rect x="463.5" y="240.1" fill="#862012"/><rect x="467.0" y="240.1" fill="#a6401a"/><rect x="470.6" y="240.1" fill="#942815"/><rect x="474.1" y="240.1" fill="#7d1a10"/><rect x="477.6" y="240.1" fill="#77180f"/><rect x="481.1" y="240.1" fill="#61110b"/><rect x="484.6" y="240.1" fill="#310605"/><rect x="488.1" y="240.1" fill="#6a140d"/><rect x="491.6" y="240.1" fill="#4a0908"/><rect x="495.2" y="240.1" fill="#3f0806"/><rect x="498.7" y="240.1" fill="#5f100b"/><rect x="502.2" y="240.1" fill="#570d0a"/><rect x="505.7" y="240.1" fill="#470907"/><rect x="509.2" y="240.1" fill="#9b3117"/><rect x="512.7" y="240.1" fill="#71160e"/><rect x="516.3" y="240.1" fill="#a33c19"/><rect x="519.8" y="240.1" fill="#b5561d"/><rect x="523.3" y="240.1" fill="#cf8222"/><rect x="526.8" y="240.1" fill="#cb7b22"/><rect x="410.8" y="243.6" fill="#d38924"/><rect x="414.3" y="243.6" fill="#c36c20"/><rect x="417.8" y="243.6" fill="#c87621"/><rect x="421.3" y="243.6" fill="#da9b2c"/><rect x="424.8" y="243.6" fill="#dea431"/><rect x="428.4" y="243.6" fill="#c87521"/><rect x="431.9" y="243.6" fill="#a03918"/><rect x="435.4" y="243.6" fill="#bc611f"/><rect x="438.9" y="243.6" fill="#8a2213"/><rect x="442.4" y="243.6" fill="#7f1b10"/><rect x="445.9" y="243.6" fill="#7d1a10"/><rect x="449.5" y="243.6" fill="#962a16"/><rect x="453.0" y="243.6" fill="#992e17"/><rect x="456.5" y="243.6" fill="#bb601e"/><rect x="460.0" y="243.6" fill="#cd7e22"/><rect x="463.5" y="243.6" fill="#c77521"/><rect x="467.0" y="243.6" fill="#8a2213"/><rect x="470.6" y="243.6" fill="#9a3017"/><rect x="474.1" y="243.6" fill="#bf671f"/><rect x="477.6" y="243.6" fill="#a8441a"/><rect x="481.1" y="243.6" fill="#c26c20"/><rect x="484.6" y="243.6" fill="#72160e"/><rect x="488.1" y="243.6" fill="#5c0f0a"/><rect x="491.6" y="243.6" fill="#68130c"/><rect x="495.2" y="243.6" fill="#6b140d"/><rect x="498.7" y="243.6" fill="#5a0e0a"/><rect x="502.2" y="243.6" fill="#76180f"/><rect x="505.7" y="243.6" fill="#66120c"/><rect x="509.2" y="243.6" fill="#7b1910"/><rect x="512.7" y="243.6" fill="#c26c20"/><rect x="516.3" y="243.6" fill="#902615"/><rect x="519.8" y="243.6" fill="#ce8022"/><rect x="523.3" y="243.6" fill="#cb7b22"/><rect x="526.8" y="243.6" fill="#cc7c22"/><rect x="410.8" y="247.1" fill="#d9982b"/><rect x="414.3" y="247.1" fill="#d69127"/><rect x="417.8" y="247.1" fill="#9d3418"/><rect x="421.3" y="247.1" fill="#b3541d"/><rect x="424.8" y="247.1" fill="#b1501c"/><rect x="428.4" y="247.1" fill="#c46e20"/><rect x="431.9" y="247.1" fill="#811c11"/><rect x="435.4" y="247.1" fill="#7a190f"/><rect x="438.9" y="247.1" fill="#74170e"/><rect x="442.4" y="247.1" fill="#912715"/><rect x="445.9" y="247.1" fill="#530c09"/><rect x="449.5" y="247.1" fill="#5a0e0a"/><rect x="453.0" y="247.1" fill="#942916"/><rect x="456.5" y="247.1" fill="#6b140d"/><rect x="460.0" y="247.1" fill="#be641f"/><rect x="463.5" y="247.1" fill="#c16a20"/><rect x="467.0" y="247.1" fill="#ba5e1e"/><rect x="470.6" y="247.1" fill="#d69027"/><rect x="474.1" y="247.1" fill="#ce8122"/><rect x="477.6" y="247.1" fill="#d69027"/><rect x="481.1" y="247.1" fill="#c46e20"/><rect x="484.6" y="247.1" fill="#ba5d1e"/><rect x="488.1" y="247.1" fill="#71160e"/><rect x="491.6" y="247.1" fill="#62110b"/><rect x="495.2" y="247.1" fill="#540c09"/><rect x="498.7" y="247.1" fill="#68130c"/><rect x="502.2" y="247.1" fill="#912715"/><rect x="505.7" y="247.1" fill="#62110b"/><rect x="509.2" y="247.1" fill="#b1511c"/><rect x="512.7" y="247.1" fill="#a43e19"/><rect x="516.3" y="247.1" fill="#bf661f"/><rect x="519.8" y="247.1" fill="#c97821"/><rect x="523.3" y="247.1" fill="#d38b25"/><rect x="526.8" y="247.1" fill="#c87621"/><rect x="410.8" y="250.6" fill="#bf661f"/><rect x="414.3" y="250.6" fill="#cd7f22"/><rect x="417.8" y="250.6" fill="#c67221"/><rect x="421.3" y="250.6" fill="#bb601e"/><rect x="424.8" y="250.6" fill="#b85b1e"/><rect x="428.4" y="250.6" fill="#b6581d"/><rect x="431.9" y="250.6" fill="#8d2514"/><rect x="435.4" y="250.6" fill="#7a1910"/><rect x="438.9" y="250.6" fill="#4f0a08"/><rect x="442.4" y="250.6" fill="#5d0f0b"/><rect x="445.9" y="250.6" fill="#390706"/><rect x="449.5" y="250.6" fill="#74170e"/><rect x="453.0" y="250.6" fill="#64110c"/><rect x="456.5" y="250.6" fill="#b4551d"/><rect x="460.0" y="250.6" fill="#e3af35"/><rect x="463.5" y="250.6" fill="#c97821"/><rect x="467.0" y="250.6" fill="#edcb6d"/><rect x="470.6" y="250.6" fill="#eece73"/><rect x="474.1" y="250.6" fill="#eac35d"/><rect x="477.6" y="250.6" fill="#e5b43c"/><rect x="481.1" y="250.6" fill="#e5b53e"/><rect x="484.6" y="250.6" fill="#d79429"/><rect x="488.1" y="250.6" fill="#982d16"/><rect x="491.6" y="250.6" fill="#540c09"/><rect x="495.2" y="250.6" fill="#590e0a"/><rect x="498.7" y="250.6" fill="#72160e"/><rect x="502.2" y="250.6" fill="#aa461a"/><rect x="505.7" y="250.6" fill="#a23b19"/><rect x="509.2" y="250.6" fill="#b5571d"/><rect x="512.7" y="250.6" fill="#d28623"/><rect x="516.3" y="250.6" fill="#bf661f"/><rect x="519.8" y="250.6" fill="#c57120"/><rect x="523.3" y="250.6" fill="#c57120"/><rect x="526.8" y="250.6" fill="#9f3718"/><rect x="410.8" y="254.1" fill="#c67321"/><rect x="414.3" y="254.1" fill="#c77321"/><rect x="417.8" y="254.1" fill="#cf8222"/><rect x="421.3" y="254.1" fill="#962a16"/><rect x="424.8" y="254.1" fill="#902615"/><rect x="428.4" y="254.1" fill="#a9451a"/><rect x="431.9" y="254.1" fill="#831e12"/><rect x="435.4" y="254.1" fill="#882113"/><rect x="438.9" y="254.1" fill="#4a0908"/><rect x="442.4" y="254.1" fill="#560d09"/><rect x="445.9" y="254.1" fill="#430807"/><rect x="449.5" y="254.1" fill="#5f100b"/><rect x="453.0" y="254.1" fill="#62110b"/><rect x="456.5" y="254.1" fill="#972c16"/><rect x="460.0" y="254.1" fill="#c97721"/><rect x="463.5" y="254.1" fill="#db9c2d"/><rect x="467.0" y="254.1" fill="#d28723"/><rect x="470.6" y="254.1" fill="#faf2cd"/><rect x="474.1" y="254.1" fill="#fdfaea"/><rect x="477.6" y="254.1" fill="#f9efbe"/><rect x="481.1" y="254.1" fill="#f0d37f"/><rect x="484.6" y="254.1" fill="#dfa631"/><rect x="488.1" y="254.1" fill="#c16a20"/><rect x="491.6" y="254.1" fill="#801c11"/><rect x="495.2" y="254.1" fill="#5f100b"/><rect x="498.7" y="254.1" fill="#8e2514"/><rect x="502.2" y="254.1" fill="#9b3117"/><rect x="505.7" y="254.1" fill="#d79328"/><rect x="509.2" y="254.1" fill="#952916"/><rect x="512.7" y="254.1" fill="#e3af35"/><rect x="516.3" y="254.1" fill="#dea330"/><rect x="519.8" y="254.1" fill="#ce8122"/><rect x="523.3" y="254.1" fill="#dfa632"/><rect x="526.8" y="254.1" fill="#cb7b22"/><rect x="410.8" y="257.7" fill="#c97821"/><rect x="414.3" y="257.7" fill="#a43e19"/><rect x="417.8" y="257.7" fill="#b7591e"/><rect x="421.3" y="257.7" fill="#922715"/><rect x="424.8" y="257.7" fill="#76180f"/><rect x="428.4" y="257.7" fill="#821d11"/><rect x="431.9" y="257.7" fill="#69130d"/><rect x="435.4" y="257.7" fill="#70160e"/><rect x="438.9" y="257.7" fill="#70150e"/><rect x="442.4" y="257.7" fill="#490908"/><rect x="445.9" y="257.7" fill="#4c0a08"/><rect x="449.5" y="257.7" fill="#580d0a"/><rect x="453.0" y="257.7" fill="#470907"/><rect x="456.5" y="257.7" fill="#8d2414"/><rect x="460.0" y="257.7" fill="#b2521c"/><rect x="463.5" y="257.7" fill="#d48c25"/><rect x="467.0" y="257.7" fill="#dda230"/><rect x="470.6" y="257.7" fill="#e8be50"/><rect x="474.1" y="257.7" fill="#fefdf8"/><rect x="477.6" y="257.7" fill="#ffffff"/><rect x="481.1" y="257.7" fill="#ffffff"/><rect x="484.6" y="257.7" fill="#f8edb7"/><rect x="488.1" y="257.7" fill="#dfa631"/><rect x="491.6" y="257.7" fill="#ae4c1b"/><rect x="495.2" y="257.7" fill="#b2531c"/><rect x="498.7" y="257.7" fill="#922815"/><rect x="502.2" y="257.7" fill="#b5561d"/><rect x="505.7" y="257.7" fill="#c57120"/><rect x="509.2" y="257.7" fill="#e2ad35"/><rect x="512.7" y="257.7" fill="#c67221"/><rect x="516.3" y="257.7" fill="#a9451a"/><rect x="519.8" y="257.7" fill="#db9c2d"/><rect x="523.3" y="257.7" fill="#b95d1e"/><rect x="526.8" y="257.7" fill="#c77421"/><rect x="410.8" y="261.2" fill="#ab491b"/><rect x="414.3" y="261.2" fill="#9d3418"/><rect x="417.8" y="261.2" fill="#cd7f22"/><rect x="421.3" y="261.2" fill="#ba5d1e"/><rect x="424.8" y="261.2" fill="#8d2414"/><rect x="428.4" y="261.2" fill="#8d2414"/><rect x="431.9" y="261.2" fill="#70160e"/><rect x="435.4" y="261.2" fill="#76180f"/><rect x="438.9" y="261.2" fill="#550c09"/><rect x="442.4" y="261.2" fill="#450907"/><rect x="445.9" y="261.2" fill="#470907"/><rect x="449.5" y="261.2" fill="#540c09"/><rect x="453.0" y="261.2" fill="#75170f"/><rect x="456.5" y="261.2" fill="#77180f"/><rect x="460.0" y="261.2" fill="#b4551d"/><rect x="463.5" y="261.2" fill="#da9b2c"/><rect x="467.0" y="261.2" fill="#fbf4d4"/><rect x="470.6" y="261.2" fill="#fcf7e0"/><rect x="474.1" y="261.2" fill="#edcc6f"/><rect x="477.6" y="261.2" fill="#ffffff"/><rect x="481.1" y="261.2" fill="#fcf7de"/><rect x="484.6" y="261.2" fill="#f3dd93"/><rect x="488.1" y="261.2" fill="#e5b63f"/><rect x="491.6" y="261.2" fill="#c46f20"/><rect x="495.2" y="261.2" fill="#6e150d"/><rect x="498.7" y="261.2" fill="#ad4b1b"/><rect x="502.2" y="261.2" fill="#b04f1c"/><rect x="505.7" y="261.2" fill="#bf661f"/><rect x="509.2" y="261.2" fill="#d48c25"/><rect x="512.7" y="261.2" fill="#a6421a"/><rect x="516.3" y="261.2" fill="#d58f27"/><rect x="519.8" y="261.2" fill="#9d3418"/><rect x="523.3" y="261.2" fill="#c57120"/><rect x="526.8" y="261.2" fill="#cb7c22"/><rect x="410.8" y="264.7" fill="#dc9e2e"/><rect x="414.3" y="264.7" fill="#a6421a"/><rect x="417.8" y="264.7" fill="#8b2313"/><rect x="421.3" y="264.7" fill="#c0671f"/><rect x="424.8" y="264.7" fill="#932815"/><rect x="428.4" y="264.7" fill="#bd631f"/><rect x="431.9" y="264.7" fill="#76180f"/><rect x="435.4" y="264.7" fill="#67120c"/><rect x="438.9" y="264.7" fill="#8a2213"/><rect x="442.4" y="264.7" fill="#6a130d"/><rect x="445.9" y="264.7" fill="#7c1a10"/><rect x="449.5" y="264.7" fill="#530c09"/><rect x="453.0" y="264.7" fill="#ab481b"/><rect x="456.5" y="264.7" fill="#8e2514"/><rect x="460.0" y="264.7" fill="#ce8022"/><rect x="463.5" y="264.7" fill="#c77521"/><rect x="467.0" y="264.7" fill="#d69128"/><rect x="470.6" y="264.7" fill="#f2dc91"/><rect x="474.1" y="264.7" fill="#fbf5d8"/><rect x="477.6" y="264.7" fill="#ffffff"/><rect x="481.1" y="264.7" fill="#faf1c9"/><rect x="484.6" y="264.7" fill="#efd37d"/><rect x="488.1" y="264.7" fill="#db9c2d"/><rect x="491.6" y="264.7" fill="#e7ba48"/><rect x="495.2" y="264.7" fill="#992e17"/><rect x="498.7" y="264.7" fill="#c87521"/><rect x="502.2" y="264.7" fill="#ad4b1b"/><rect x="505.7" y="264.7" fill="#bc611f"/><rect x="509.2" y="264.7" fill="#ac4a1b"/><rect x="512.7" y="264.7" fill="#d28723"/><rect x="516.3" y="264.7" fill="#9f3718"/><rect x="519.8" y="264.7" fill="#9e3618"/><rect x="523.3" y="264.7" fill="#bb601e"/><rect x="526.8" y="264.7" fill="#a33c19"/><rect x="410.8" y="268.2" fill="#cb7c22"/><rect x="414.3" y="268.2" fill="#d08423"/><rect x="417.8" y="268.2" fill="#ac491b"/><rect x="421.3" y="268.2" fill="#c97721"/><rect x="424.8" y="268.2" fill="#9f3818"/><rect x="428.4" y="268.2" fill="#a43e19"/><rect x="431.9" y="268.2" fill="#992e17"/><rect x="435.4" y="268.2" fill="#bd631f"/><rect x="438.9" y="268.2" fill="#861f12"/><rect x="442.4" y="268.2" fill="#6e150d"/><rect x="445.9" y="268.2" fill="#6f150e"/><rect x="449.5" y="268.2" fill="#aa471b"/><rect x="453.0" y="268.2" fill="#74170e"/><rect x="456.5" y="268.2" fill="#a6411a"/><rect x="460.0" y="268.2" fill="#c0691f"/><rect x="463.5" y="268.2" fill="#aa471b"/><rect x="467.0" y="268.2" fill="#dfa631"/><rect x="470.6" y="268.2" fill="#f7eab0"/><rect x="474.1" y="268.2" fill="#f6e5a5"/><rect x="477.6" y="268.2" fill="#eac45e"/><rect x="481.1" y="268.2" fill="#f3dd93"/><rect x="484.6" y="268.2" fill="#e5b43b"/><rect x="488.1" y="268.2" fill="#e7ba47"/><rect x="491.6" y="268.2" fill="#ad4c1b"/><rect x="495.2" y="268.2" fill="#ab471b"/><rect x="498.7" y="268.2" fill="#b2521c"/><rect x="502.2" y="268.2" fill="#ae4c1b"/><rect x="505.7" y="268.2" fill="#b6581d"/><rect x="509.2" y="268.2" fill="#b3531d"/><rect x="512.7" y="268.2" fill="#a53f19"/><rect x="516.3" y="268.2" fill="#8f2514"/><rect x="519.8" y="268.2" fill="#aa471b"/><rect x="523.3" y="268.2" fill="#952916"/><rect x="526.8" y="268.2" fill="#9d3518"/><rect x="410.8" y="271.7" fill="#ba5e1e"/><rect x="414.3" y="271.7" fill="#ce8122"/><rect x="417.8" y="271.7" fill="#d38a24"/><rect x="421.3" y="271.7" fill="#a9451a"/><rect x="424.8" y="271.7" fill="#c16b20"/><rect x="428.4" y="271.7" fill="#c47020"/><rect x="431.9" y="271.7" fill="#aa471b"/><rect x="435.4" y="271.7" fill="#7b1910"/><rect x="438.9" y="271.7" fill="#6c140d"/><rect x="442.4" y="271.7" fill="#b2521c"/><rect x="445.9" y="271.7" fill="#b85b1e"/><rect x="449.5" y="271.7" fill="#af4e1c"/><rect x="453.0" y="271.7" fill="#992f17"/><rect x="456.5" y="271.7" fill="#d8962a"/><rect x="460.0" y="271.7" fill="#dea330"/><rect x="463.5" y="271.7" fill="#d8962a"/><rect x="467.0" y="271.7" fill="#dea431"/><rect x="470.6" y="271.7" fill="#d28623"/><rect x="474.1" y="271.7" fill="#f1d889"/><rect x="477.6" y="271.7" fill="#d79328"/><rect x="481.1" y="271.7" fill="#e9c055"/><rect x="484.6" y="271.7" fill="#e0a933"/><rect x="488.1" y="271.7" fill="#ce8122"/><rect x="491.6" y="271.7" fill="#d8972a"/><rect x="495.2" y="271.7" fill="#af4e1c"/><rect x="498.7" y="271.7" fill="#bf661f"/><rect x="502.2" y="271.7" fill="#c16b20"/><rect x="505.7" y="271.7" fill="#b6581d"/><rect x="509.2" y="271.7" fill="#a53f19"/><rect x="512.7" y="271.7" fill="#ca7921"/><rect x="516.3" y="271.7" fill="#bb601e"/><rect x="519.8" y="271.7" fill="#ac4a1b"/><rect x="523.3" y="271.7" fill="#ad4b1b"/><rect x="526.8" y="271.7" fill="#b5561d"/><rect x="410.8" y="275.3" fill="#e5b43c"/><rect x="414.3" y="275.3" fill="#cb7a22"/><rect x="417.8" y="275.3" fill="#c36e20"/><rect x="421.3" y="275.3" fill="#ae4d1c"/><rect x="424.8" y="275.3" fill="#a43e19"/><rect x="428.4" y="275.3" fill="#8c2314"/><rect x="431.9" y="275.3" fill="#bc601f"/><rect x="435.4" y="275.3" fill="#b2521c"/><rect x="438.9" y="275.3" fill="#942916"/><rect x="442.4" y="275.3" fill="#892213"/><rect x="445.9" y="275.3" fill="#aa471b"/><rect x="449.5" y="275.3" fill="#ac4a1b"/><rect x="453.0" y="275.3" fill="#a13a19"/><rect x="456.5" y="275.3" fill="#d08423"/><rect x="460.0" y="275.3" fill="#d58e26"/><rect x="463.5" y="275.3" fill="#d9982b"/><rect x="467.0" y="275.3" fill="#e7bb4a"/><rect x="470.6" y="275.3" fill="#dc9f2e"/><rect x="474.1" y="275.3" fill="#f2da8e"/><rect x="477.6" y="275.3" fill="#d79429"/><rect x="481.1" y="275.3" fill="#e2ae35"/><rect x="484.6" y="275.3" fill="#dca02f"/><rect x="488.1" y="275.3" fill="#c67321"/><rect x="491.6" y="275.3" fill="#c77421"/><rect x="495.2" y="275.3" fill="#972c16"/><rect x="498.7" y="275.3" fill="#8b2313"/><rect x="502.2" y="275.3" fill="#a9461a"/><rect x="505.7" y="275.3" fill="#9a2f17"/><rect x="509.2" y="275.3" fill="#bb5f1e"/><rect x="512.7" y="275.3" fill="#ad4b1b"/><rect x="516.3" y="275.3" fill="#bc601f"/><rect x="519.8" y="275.3" fill="#b5561d"/><rect x="523.3" y="275.3" fill="#b2521c"/><rect x="526.8" y="275.3" fill="#af4e1c"/><rect x="410.8" y="278.8" fill="#c26c20"/><rect x="414.3" y="278.8" fill="#c16920"/><rect x="417.8" y="278.8" fill="#e3af36"/><rect x="421.3" y="278.8" fill="#9e3518"/><rect x="424.8" y="278.8" fill="#bf661f"/><rect x="428.4" y="278.8" fill="#d18523"/><rect x="431.9" y="278.8" fill="#c16a20"/><rect x="435.4" y="278.8" fill="#d18523"/><rect x="438.9" y="278.8" fill="#bf671f"/><rect x="442.4" y="278.8" fill="#932815"/><rect x="445.9" y="278.8" fill="#af4e1c"/><rect x="449.5" y="278.8" fill="#9a3017"/><rect x="453.0" y="278.8" fill="#d58e26"/><rect x="456.5" y="278.8" fill="#dfa531"/><rect x="460.0" y="278.8" fill="#ce7f22"/><rect x="463.5" y="278.8" fill="#dfa732"/><rect x="467.0" y="278.8" fill="#da9a2c"/><rect x="470.6" y="278.8" fill="#d28723"/><rect x="474.1" y="278.8" fill="#dea330"/><rect x="477.6" y="278.8" fill="#ce7f22"/><rect x="481.1" y="278.8" fill="#d58f27"/><rect x="484.6" y="278.8" fill="#d79328"/><rect x="488.1" y="278.8" fill="#d68f27"/><rect x="491.6" y="278.8" fill="#d69027"/><rect x="495.2" y="278.8" fill="#b0501c"/><rect x="498.7" y="278.8" fill="#b85b1e"/><rect x="502.2" y="278.8" fill="#b95c1e"/><rect x="505.7" y="278.8" fill="#ba5e1e"/><rect x="509.2" y="278.8" fill="#68130c"/><rect x="512.7" y="278.8" fill="#962a16"/><rect x="516.3" y="278.8" fill="#be641f"/><rect x="519.8" y="278.8" fill="#8e2514"/><rect x="523.3" y="278.8" fill="#b2521c"/><rect x="526.8" y="278.8" fill="#bf661f"/><rect x="410.8" y="282.3" fill="#9c3317"/><rect x="414.3" y="282.3" fill="#c57020"/><rect x="417.8" y="282.3" fill="#cc7d22"/><rect x="421.3" y="282.3" fill="#c57120"/><rect x="424.8" y="282.3" fill="#9c3317"/><rect x="428.4" y="282.3" fill="#c36d20"/><rect x="431.9" y="282.3" fill="#a8441a"/><rect x="435.4" y="282.3" fill="#c46e20"/><rect x="438.9" y="282.3" fill="#bb5f1e"/><rect x="442.4" y="282.3" fill="#a23b19"/><rect x="445.9" y="282.3" fill="#b95c1e"/><rect x="449.5" y="282.3" fill="#a9451a"/><rect x="453.0" y="282.3" fill="#b3541d"/><rect x="456.5" y="282.3" fill="#a8441a"/><rect x="460.0" y="282.3" fill="#d08423"/><rect x="463.5" y="282.3" fill="#e2ad35"/><rect x="467.0" y="282.3" fill="#e0a732"/><rect x="470.6" y="282.3" fill="#e2ad34"/><rect x="474.1" y="282.3" fill="#dca02e"/><rect x="477.6" y="282.3" fill="#db9d2d"/><rect x="481.1" y="282.3" fill="#e4b137"/><rect x="484.6" y="282.3" fill="#ba5e1e"/><rect x="488.1" y="282.3" fill="#e4b136"/><rect x="491.6" y="282.3" fill="#be651f"/><rect x="495.2" y="282.3" fill="#da9b2c"/><rect x="498.7" y="282.3" fill="#c97821"/><rect x="502.2" y="282.3" fill="#a23b19"/><rect x="505.7" y="282.3" fill="#bd621f"/><rect x="509.2" y="282.3" fill="#b1501c"/><rect x="512.7" y="282.3" fill="#b6581d"/><rect x="516.3" y="282.3" fill="#bd631f"/><rect x="519.8" y="282.3" fill="#9c3317"/><rect x="523.3" y="282.3" fill="#9a3017"/><rect x="526.8" y="282.3" fill="#9f3718"/></g></g>
<text x="419.5" y="189.2" font-size="11" font-weight="bold" fill="#fff">1/4</text>
<rect x="498" y="273" width="23.6" height="2.4" fill="#fff"/>
<rect x="427.4" y="290" width="64.6" height="6.8" fill="url(#afmcb)" stroke="#e8e8e8" stroke-width="0.6"/>
<text x="420.6" y="297" font-size="9" text-anchor="middle" fill="#111">0</text>
<text x="496" y="297" font-size="8.7" fill="#111">110 nm</text>
<rect x="414.3" y="318.6" width="114.7" height="115.4" fill="#efefef"/>
<g clip-path="url(#hc3)"><g class="hm3" filter="url(#hb3)" shape-rendering="crispEdges"><rect x="412.7" y="317.0" fill="#c97821"/><rect x="417.0" y="317.0" fill="#b7581d"/><rect x="421.3" y="317.0" fill="#c46f20"/><rect x="425.5" y="317.0" fill="#c57020"/><rect x="429.8" y="317.0" fill="#cb7b22"/><rect x="434.0" y="317.0" fill="#d28823"/><rect x="438.3" y="317.0" fill="#d18523"/><rect x="442.5" y="317.0" fill="#d79429"/><rect x="446.8" y="317.0" fill="#d8962a"/><rect x="451.1" y="317.0" fill="#e4b338"/><rect x="455.3" y="317.0" fill="#e1ab34"/><rect x="459.6" y="317.0" fill="#e2ae35"/><rect x="463.8" y="317.0" fill="#e1ac34"/><rect x="468.1" y="317.0" fill="#db9e2d"/><rect x="472.4" y="317.0" fill="#d48c25"/><rect x="476.6" y="317.0" fill="#d08323"/><rect x="480.9" y="317.0" fill="#d28823"/><rect x="485.1" y="317.0" fill="#d58d26"/><rect x="489.4" y="317.0" fill="#dea330"/><rect x="493.6" y="317.0" fill="#e4b237"/><rect x="497.9" y="317.0" fill="#edcb6e"/><rect x="502.2" y="317.0" fill="#f7e8ac"/><rect x="506.4" y="317.0" fill="#f8ebb2"/><rect x="510.7" y="317.0" fill="#f4df99"/><rect x="514.9" y="317.0" fill="#efd37d"/><rect x="519.2" y="317.0" fill="#ecc968"/><rect x="523.4" y="317.0" fill="#ecca6a"/><rect x="527.7" y="317.0" fill="#e8bc4d"/><rect x="412.7" y="321.2" fill="#c16a20"/><rect x="417.0" y="321.2" fill="#c57120"/><rect x="421.3" y="321.2" fill="#c0681f"/><rect x="425.5" y="321.2" fill="#c77421"/><rect x="429.8" y="321.2" fill="#d28723"/><rect x="434.0" y="321.2" fill="#d58f27"/><rect x="438.3" y="321.2" fill="#d79329"/><rect x="442.5" y="321.2" fill="#da9a2c"/><rect x="446.8" y="321.2" fill="#d48d26"/><rect x="451.1" y="321.2" fill="#e0a832"/><rect x="455.3" y="321.2" fill="#dfa732"/><rect x="459.6" y="321.2" fill="#e0aa33"/><rect x="463.8" y="321.2" fill="#e4b237"/><rect x="468.1" y="321.2" fill="#dfa732"/><rect x="472.4" y="321.2" fill="#d69127"/><rect x="476.6" y="321.2" fill="#cd7f22"/><rect x="480.9" y="321.2" fill="#d08423"/><rect x="485.1" y="321.2" fill="#d58d26"/><rect x="489.4" y="321.2" fill="#dfa531"/><rect x="493.6" y="321.2" fill="#e6b844"/><rect x="497.9" y="321.2" fill="#eed077"/><rect x="502.2" y="321.2" fill="#f8ecb5"/><rect x="506.4" y="321.2" fill="#f9edba"/><rect x="510.7" y="321.2" fill="#f6e7a9"/><rect x="514.9" y="321.2" fill="#f3df97"/><rect x="519.2" y="321.2" fill="#edcd72"/><rect x="523.4" y="321.2" fill="#e9c054"/><rect x="527.7" y="321.2" fill="#e7ba49"/><rect x="412.7" y="325.4" fill="#c16a20"/><rect x="417.0" y="325.4" fill="#b5571d"/><rect x="421.3" y="325.4" fill="#c36e20"/><rect x="425.5" y="325.4" fill="#c67321"/><rect x="429.8" y="325.4" fill="#c46f20"/><rect x="434.0" y="325.4" fill="#d08423"/><rect x="438.3" y="325.4" fill="#d28723"/><rect x="442.5" y="325.4" fill="#d8962a"/><rect x="446.8" y="325.4" fill="#d58e26"/><rect x="451.1" y="325.4" fill="#da9b2c"/><rect x="455.3" y="325.4" fill="#e1aa34"/><rect x="459.6" y="325.4" fill="#e4b137"/><rect x="463.8" y="325.4" fill="#db9d2d"/><rect x="468.1" y="325.4" fill="#da9a2c"/><rect x="472.4" y="325.4" fill="#d69128"/><rect x="476.6" y="325.4" fill="#cf8222"/><rect x="480.9" y="325.4" fill="#d58f26"/><rect x="485.1" y="325.4" fill="#d38a24"/><rect x="489.4" y="325.4" fill="#dda230"/><rect x="493.6" y="325.4" fill="#e3b036"/><rect x="497.9" y="325.4" fill="#f1d88a"/><rect x="502.2" y="325.4" fill="#f7e8ab"/><rect x="506.4" y="325.4" fill="#f9eebb"/><rect x="510.7" y="325.4" fill="#f5e4a3"/><rect x="514.9" y="325.4" fill="#f6e6a8"/><rect x="519.2" y="325.4" fill="#eecf75"/><rect x="523.4" y="325.4" fill="#eac55f"/><rect x="527.7" y="325.4" fill="#eac45f"/><rect x="412.7" y="329.7" fill="#bb5f1e"/><rect x="417.0" y="329.7" fill="#b6581d"/><rect x="421.3" y="329.7" fill="#b6571d"/><rect x="425.5" y="329.7" fill="#b6581d"/><rect x="429.8" y="329.7" fill="#c16920"/><rect x="434.0" y="329.7" fill="#ba5d1e"/><rect x="438.3" y="329.7" fill="#c46e20"/><rect x="442.5" y="329.7" fill="#cd7f22"/><rect x="446.8" y="329.7" fill="#d58f27"/><rect x="451.1" y="329.7" fill="#d9982b"/><rect x="455.3" y="329.7" fill="#d69027"/><rect x="459.6" y="329.7" fill="#d48c25"/><rect x="463.8" y="329.7" fill="#d58f27"/><rect x="468.1" y="329.7" fill="#d58f27"/><rect x="472.4" y="329.7" fill="#d28823"/><rect x="476.6" y="329.7" fill="#d18423"/><rect x="480.9" y="329.7" fill="#d38924"/><rect x="485.1" y="329.7" fill="#d9992b"/><rect x="489.4" y="329.7" fill="#dfa631"/><rect x="493.6" y="329.7" fill="#e8bf53"/><rect x="497.9" y="329.7" fill="#ecca6c"/><rect x="502.2" y="329.7" fill="#f4e29e"/><rect x="506.4" y="329.7" fill="#f7e9ad"/><rect x="510.7" y="329.7" fill="#f6e7a9"/><rect x="514.9" y="329.7" fill="#f0d583"/><rect x="519.2" y="329.7" fill="#efd37e"/><rect x="523.4" y="329.7" fill="#eac45e"/><rect x="527.7" y="329.7" fill="#eac259"/><rect x="412.7" y="333.9" fill="#a23b19"/><rect x="417.0" y="333.9" fill="#ac491b"/><rect x="421.3" y="333.9" fill="#a8441a"/><rect x="425.5" y="333.9" fill="#a9451a"/><rect x="429.8" y="333.9" fill="#952916"/><rect x="434.0" y="333.9" fill="#a7421a"/><rect x="438.3" y="333.9" fill="#b2521c"/><rect x="442.5" y="333.9" fill="#b95c1e"/><rect x="446.8" y="333.9" fill="#c77521"/><rect x="451.1" y="333.9" fill="#cd7e22"/><rect x="455.3" y="333.9" fill="#cc7c22"/><rect x="459.6" y="333.9" fill="#c67221"/><rect x="463.8" y="333.9" fill="#c57120"/><rect x="468.1" y="333.9" fill="#bd621f"/><rect x="472.4" y="333.9" fill="#c57120"/><rect x="476.6" y="333.9" fill="#cb7b22"/><rect x="480.9" y="333.9" fill="#d89429"/><rect x="485.1" y="333.9" fill="#dc9f2e"/><rect x="489.4" y="333.9" fill="#e4b237"/><rect x="493.6" y="333.9" fill="#e4b339"/><rect x="497.9" y="333.9" fill="#ebc560"/><rect x="502.2" y="333.9" fill="#edcc6e"/><rect x="506.4" y="333.9" fill="#f3dc93"/><rect x="510.7" y="333.9" fill="#efd37d"/><rect x="514.9" y="333.9" fill="#eac25a"/><rect x="519.2" y="333.9" fill="#e6b640"/><rect x="523.4" y="333.9" fill="#e5b640"/><rect x="527.7" y="333.9" fill="#e2ae35"/><rect x="412.7" y="338.2" fill="#9a2f17"/><rect x="417.0" y="338.2" fill="#a23c19"/><rect x="421.3" y="338.2" fill="#a9451a"/><rect x="425.5" y="338.2" fill="#902615"/><rect x="429.8" y="338.2" fill="#841e12"/><rect x="434.0" y="338.2" fill="#7d1a10"/><rect x="438.3" y="338.2" fill="#882113"/><rect x="442.5" y="338.2" fill="#ab481b"/><rect x="446.8" y="338.2" fill="#c16a20"/><rect x="451.1" y="338.2" fill="#c26c20"/><rect x="455.3" y="338.2" fill="#b85b1e"/><rect x="459.6" y="338.2" fill="#a43e19"/><rect x="463.8" y="338.2" fill="#992e17"/><rect x="468.1" y="338.2" fill="#942916"/><rect x="472.4" y="338.2" fill="#a9451a"/><rect x="476.6" y="338.2" fill="#be651f"/><rect x="480.9" y="338.2" fill="#ca7921"/><rect x="485.1" y="338.2" fill="#d69027"/><rect x="489.4" y="338.2" fill="#db9d2d"/><rect x="493.6" y="338.2" fill="#e0aa33"/><rect x="497.9" y="338.2" fill="#e6b741"/><rect x="502.2" y="338.2" fill="#e4b33a"/><rect x="506.4" y="338.2" fill="#e5b640"/><rect x="510.7" y="338.2" fill="#e7ba48"/><rect x="514.9" y="338.2" fill="#e5b43c"/><rect x="519.2" y="338.2" fill="#e5b640"/><rect x="523.4" y="338.2" fill="#dca02f"/><rect x="527.7" y="338.2" fill="#e3af35"/><rect x="412.7" y="342.4" fill="#902615"/><rect x="417.0" y="342.4" fill="#952916"/><rect x="421.3" y="342.4" fill="#942916"/><rect x="425.5" y="342.4" fill="#8a2213"/><rect x="429.8" y="342.4" fill="#7c1a10"/><rect x="434.0" y="342.4" fill="#73170e"/><rect x="438.3" y="342.4" fill="#831e11"/><rect x="442.5" y="342.4" fill="#942916"/><rect x="446.8" y="342.4" fill="#af4e1c"/><rect x="451.1" y="342.4" fill="#b6571d"/><rect x="455.3" y="342.4" fill="#992e17"/><rect x="459.6" y="342.4" fill="#8f2614"/><rect x="463.8" y="342.4" fill="#7e1a10"/><rect x="468.1" y="342.4" fill="#872112"/><rect x="472.4" y="342.4" fill="#8b2313"/><rect x="476.6" y="342.4" fill="#9f3718"/><rect x="480.9" y="342.4" fill="#b95c1e"/><rect x="485.1" y="342.4" fill="#c97721"/><rect x="489.4" y="342.4" fill="#cd7e22"/><rect x="493.6" y="342.4" fill="#d58d26"/><rect x="497.9" y="342.4" fill="#d69027"/><rect x="502.2" y="342.4" fill="#db9d2d"/><rect x="506.4" y="342.4" fill="#d89529"/><rect x="510.7" y="342.4" fill="#dda230"/><rect x="514.9" y="342.4" fill="#db9d2d"/><rect x="519.2" y="342.4" fill="#db9d2d"/><rect x="523.4" y="342.4" fill="#dc9f2e"/><rect x="527.7" y="342.4" fill="#db9c2d"/><rect x="412.7" y="346.6" fill="#8b2313"/><rect x="417.0" y="346.6" fill="#912715"/><rect x="421.3" y="346.6" fill="#892213"/><rect x="425.5" y="346.6" fill="#821d11"/><rect x="429.8" y="346.6" fill="#7b1910"/><rect x="434.0" y="346.6" fill="#70160e"/><rect x="438.3" y="346.6" fill="#75170f"/><rect x="442.5" y="346.6" fill="#862012"/><rect x="446.8" y="346.6" fill="#932815"/><rect x="451.1" y="346.6" fill="#9d3418"/><rect x="455.3" y="346.6" fill="#7b1910"/><rect x="459.6" y="346.6" fill="#73170e"/><rect x="463.8" y="346.6" fill="#68130c"/><rect x="468.1" y="346.6" fill="#6d140d"/><rect x="472.4" y="346.6" fill="#70150e"/><rect x="476.6" y="346.6" fill="#7b1910"/><rect x="480.9" y="346.6" fill="#972b16"/><rect x="485.1" y="346.6" fill="#a33d19"/><rect x="489.4" y="346.6" fill="#ad4a1b"/><rect x="493.6" y="346.6" fill="#b3541d"/><rect x="497.9" y="346.6" fill="#ba5d1e"/><rect x="502.2" y="346.6" fill="#c0681f"/><rect x="506.4" y="346.6" fill="#c57020"/><rect x="510.7" y="346.6" fill="#d08323"/><rect x="514.9" y="346.6" fill="#d08423"/><rect x="519.2" y="346.6" fill="#d8962a"/><rect x="523.4" y="346.6" fill="#d79329"/><rect x="527.7" y="346.6" fill="#dc9e2e"/><rect x="412.7" y="350.9" fill="#8a2313"/><rect x="417.0" y="350.9" fill="#7b1910"/><rect x="421.3" y="350.9" fill="#841e12"/><rect x="425.5" y="350.9" fill="#7d1a10"/><rect x="429.8" y="350.9" fill="#74170e"/><rect x="434.0" y="350.9" fill="#76180f"/><rect x="438.3" y="350.9" fill="#73170e"/><rect x="442.5" y="350.9" fill="#75170f"/><rect x="446.8" y="350.9" fill="#831e11"/><rect x="451.1" y="350.9" fill="#7e1b10"/><rect x="455.3" y="350.9" fill="#72160e"/><rect x="459.6" y="350.9" fill="#61100b"/><rect x="463.8" y="350.9" fill="#61100b"/><rect x="468.1" y="350.9" fill="#5e0f0b"/><rect x="472.4" y="350.9" fill="#580d0a"/><rect x="476.6" y="350.9" fill="#64120c"/><rect x="480.9" y="350.9" fill="#78180f"/><rect x="485.1" y="350.9" fill="#831e11"/><rect x="489.4" y="350.9" fill="#8f2614"/><rect x="493.6" y="350.9" fill="#8b2313"/><rect x="497.9" y="350.9" fill="#902615"/><rect x="502.2" y="350.9" fill="#a03818"/><rect x="506.4" y="350.9" fill="#b4541d"/><rect x="510.7" y="350.9" fill="#ca7921"/><rect x="514.9" y="350.9" fill="#cb7b22"/><rect x="519.2" y="350.9" fill="#d38824"/><rect x="523.4" y="350.9" fill="#d58d26"/><rect x="527.7" y="350.9" fill="#d38924"/><rect x="412.7" y="355.1" fill="#8b2313"/><rect x="417.0" y="355.1" fill="#7d1a10"/><rect x="421.3" y="355.1" fill="#841e12"/><rect x="425.5" y="355.1" fill="#821d11"/><rect x="429.8" y="355.1" fill="#851f12"/><rect x="434.0" y="355.1" fill="#7d1a10"/><rect x="438.3" y="355.1" fill="#8c2313"/><rect x="442.5" y="355.1" fill="#821d11"/><rect x="446.8" y="355.1" fill="#7f1b10"/><rect x="451.1" y="355.1" fill="#73170e"/><rect x="455.3" y="355.1" fill="#6a140d"/><rect x="459.6" y="355.1" fill="#66120c"/><rect x="463.8" y="355.1" fill="#61100b"/><rect x="468.1" y="355.1" fill="#5a0e0a"/><rect x="472.4" y="355.1" fill="#590e0a"/><rect x="476.6" y="355.1" fill="#5c0f0a"/><rect x="480.9" y="355.1" fill="#65120c"/><rect x="485.1" y="355.1" fill="#71160e"/><rect x="489.4" y="355.1" fill="#72160e"/><rect x="493.6" y="355.1" fill="#75170f"/><rect x="497.9" y="355.1" fill="#882113"/><rect x="502.2" y="355.1" fill="#9e3518"/><rect x="506.4" y="355.1" fill="#a9451a"/><rect x="510.7" y="355.1" fill="#b3541d"/><rect x="514.9" y="355.1" fill="#c16920"/><rect x="519.2" y="355.1" fill="#ca7921"/><rect x="523.4" y="355.1" fill="#c36e20"/><rect x="527.7" y="355.1" fill="#c36d20"/><rect x="412.7" y="359.3" fill="#7c1a10"/><rect x="417.0" y="359.3" fill="#821d11"/><rect x="421.3" y="359.3" fill="#77180f"/><rect x="425.5" y="359.3" fill="#882113"/><rect x="429.8" y="359.3" fill="#982d16"/><rect x="434.0" y="359.3" fill="#992e17"/><rect x="438.3" y="359.3" fill="#ab481b"/><rect x="442.5" y="359.3" fill="#a33d19"/><rect x="446.8" y="359.3" fill="#932815"/><rect x="451.1" y="359.3" fill="#882113"/><rect x="455.3" y="359.3" fill="#72160e"/><rect x="459.6" y="359.3" fill="#6a130d"/><rect x="463.8" y="359.3" fill="#6a130d"/><rect x="468.1" y="359.3" fill="#580d0a"/><rect x="472.4" y="359.3" fill="#5f100b"/><rect x="476.6" y="359.3" fill="#580d0a"/><rect x="480.9" y="359.3" fill="#62110b"/><rect x="485.1" y="359.3" fill="#64110c"/><rect x="489.4" y="359.3" fill="#61110b"/><rect x="493.6" y="359.3" fill="#76170f"/><rect x="497.9" y="359.3" fill="#8f2514"/><rect x="502.2" y="359.3" fill="#9c3317"/><rect x="506.4" y="359.3" fill="#a5401a"/><rect x="510.7" y="359.3" fill="#af4e1c"/><rect x="514.9" y="359.3" fill="#a8441a"/><rect x="519.2" y="359.3" fill="#a13a19"/><rect x="523.4" y="359.3" fill="#a6411a"/><rect x="527.7" y="359.3" fill="#ae4d1c"/><rect x="412.7" y="363.6" fill="#7a190f"/><rect x="417.0" y="363.6" fill="#7f1c11"/><rect x="421.3" y="363.6" fill="#882113"/><rect x="425.5" y="363.6" fill="#8f2614"/><rect x="429.8" y="363.6" fill="#a13918"/><rect x="434.0" y="363.6" fill="#b85b1e"/><rect x="438.3" y="363.6" fill="#c77521"/><rect x="442.5" y="363.6" fill="#ca7a21"/><rect x="446.8" y="363.6" fill="#bd641f"/><rect x="451.1" y="363.6" fill="#aa461a"/><rect x="455.3" y="363.6" fill="#8c2313"/><rect x="459.6" y="363.6" fill="#7a1910"/><rect x="463.8" y="363.6" fill="#6a140d"/><rect x="468.1" y="363.6" fill="#64110c"/><rect x="472.4" y="363.6" fill="#5d0f0b"/><rect x="476.6" y="363.6" fill="#5d0f0a"/><rect x="480.9" y="363.6" fill="#63110c"/><rect x="485.1" y="363.6" fill="#65120c"/><rect x="489.4" y="363.6" fill="#6f150e"/><rect x="493.6" y="363.6" fill="#8c2314"/><rect x="497.9" y="363.6" fill="#a53f19"/><rect x="502.2" y="363.6" fill="#c46f20"/><rect x="506.4" y="363.6" fill="#bc611f"/><rect x="510.7" y="363.6" fill="#a6411a"/><rect x="514.9" y="363.6" fill="#9d3418"/><rect x="519.2" y="363.6" fill="#902615"/><rect x="523.4" y="363.6" fill="#882113"/><rect x="527.7" y="363.6" fill="#912715"/><rect x="412.7" y="367.8" fill="#7a190f"/><rect x="417.0" y="367.8" fill="#70160e"/><rect x="421.3" y="367.8" fill="#882113"/><rect x="425.5" y="367.8" fill="#972b16"/><rect x="429.8" y="367.8" fill="#c0691f"/><rect x="434.0" y="367.8" fill="#d18523"/><rect x="438.3" y="367.8" fill="#d9972a"/><rect x="442.5" y="367.8" fill="#dea430"/><rect x="446.8" y="367.8" fill="#cf8222"/><rect x="451.1" y="367.8" fill="#bf651f"/><rect x="455.3" y="367.8" fill="#a8441a"/><rect x="459.6" y="367.8" fill="#882113"/><rect x="463.8" y="367.8" fill="#78180f"/><rect x="468.1" y="367.8" fill="#73160e"/><rect x="472.4" y="367.8" fill="#74170e"/><rect x="476.6" y="367.8" fill="#6d150d"/><rect x="480.9" y="367.8" fill="#74170e"/><rect x="485.1" y="367.8" fill="#77180f"/><rect x="489.4" y="367.8" fill="#8c2313"/><rect x="493.6" y="367.8" fill="#962b16"/><rect x="497.9" y="367.8" fill="#b1511c"/><rect x="502.2" y="367.8" fill="#c57020"/><rect x="506.4" y="367.8" fill="#b95d1e"/><rect x="510.7" y="367.8" fill="#a33c19"/><rect x="514.9" y="367.8" fill="#892213"/><rect x="519.2" y="367.8" fill="#7e1b10"/><rect x="523.4" y="367.8" fill="#73170e"/><rect x="527.7" y="367.8" fill="#76180f"/><rect x="412.7" y="372.1" fill="#77180f"/><rect x="417.0" y="372.1" fill="#7e1a10"/><rect x="421.3" y="372.1" fill="#932815"/><rect x="425.5" y="372.1" fill="#a03918"/><rect x="429.8" y="372.1" fill="#c26c20"/><rect x="434.0" y="372.1" fill="#d79329"/><rect x="438.3" y="372.1" fill="#e3b036"/><rect x="442.5" y="372.1" fill="#e0a832"/><rect x="446.8" y="372.1" fill="#d38824"/><rect x="451.1" y="372.1" fill="#c36e20"/><rect x="455.3" y="372.1" fill="#a9451a"/><rect x="459.6" y="372.1" fill="#962a16"/><rect x="463.8" y="372.1" fill="#841f12"/><rect x="468.1" y="372.1" fill="#8d2414"/><rect x="472.4" y="372.1" fill="#821d11"/><rect x="476.6" y="372.1" fill="#7a1910"/><rect x="480.9" y="372.1" fill="#77180f"/><rect x="485.1" y="372.1" fill="#7a1910"/><rect x="489.4" y="372.1" fill="#892213"/><rect x="493.6" y="372.1" fill="#962a16"/><rect x="497.9" y="372.1" fill="#b3541d"/><rect x="502.2" y="372.1" fill="#b95d1e"/><rect x="506.4" y="372.1" fill="#b1511c"/><rect x="510.7" y="372.1" fill="#952916"/><rect x="514.9" y="372.1" fill="#7a1910"/><rect x="519.2" y="372.1" fill="#67130c"/><rect x="523.4" y="372.1" fill="#6c140d"/><rect x="527.7" y="372.1" fill="#70150e"/><rect x="412.7" y="376.3" fill="#8e2514"/><rect x="417.0" y="376.3" fill="#8f2514"/><rect x="421.3" y="376.3" fill="#922715"/><rect x="425.5" y="376.3" fill="#aa461b"/><rect x="429.8" y="376.3" fill="#c57020"/><rect x="434.0" y="376.3" fill="#dca02e"/><rect x="438.3" y="376.3" fill="#dfa632"/><rect x="442.5" y="376.3" fill="#d9982b"/><rect x="446.8" y="376.3" fill="#c87621"/><rect x="451.1" y="376.3" fill="#b85b1e"/><rect x="455.3" y="376.3" fill="#ad4a1b"/><rect x="459.6" y="376.3" fill="#9c3317"/><rect x="463.8" y="376.3" fill="#952a16"/><rect x="468.1" y="376.3" fill="#a53f19"/><rect x="472.4" y="376.3" fill="#9d3418"/><rect x="476.6" y="376.3" fill="#892213"/><rect x="480.9" y="376.3" fill="#7d1a10"/><rect x="485.1" y="376.3" fill="#7f1b10"/><rect x="489.4" y="376.3" fill="#811d11"/><rect x="493.6" y="376.3" fill="#8c2414"/><rect x="497.9" y="376.3" fill="#8f2514"/><rect x="502.2" y="376.3" fill="#9d3418"/><rect x="506.4" y="376.3" fill="#8d2414"/><rect x="510.7" y="376.3" fill="#862012"/><rect x="514.9" y="376.3" fill="#68130c"/><rect x="519.2" y="376.3" fill="#6c140d"/><rect x="523.4" y="376.3" fill="#6b140d"/><rect x="527.7" y="376.3" fill="#66120c"/><rect x="412.7" y="380.5" fill="#9e3618"/><rect x="417.0" y="380.5" fill="#9f3718"/><rect x="421.3" y="380.5" fill="#a53f19"/><rect x="425.5" y="380.5" fill="#b0501c"/><rect x="429.8" y="380.5" fill="#c67221"/><rect x="434.0" y="380.5" fill="#d69027"/><rect x="438.3" y="380.5" fill="#d8952a"/><rect x="442.5" y="380.5" fill="#ce8122"/><rect x="446.8" y="380.5" fill="#be651f"/><rect x="451.1" y="380.5" fill="#af4d1c"/><rect x="455.3" y="380.5" fill="#a9451a"/><rect x="459.6" y="380.5" fill="#9b3117"/><rect x="463.8" y="380.5" fill="#9e3618"/><rect x="468.1" y="380.5" fill="#ac491b"/><rect x="472.4" y="380.5" fill="#9a2f17"/><rect x="476.6" y="380.5" fill="#831e11"/><rect x="480.9" y="380.5" fill="#76180f"/><rect x="485.1" y="380.5" fill="#73170e"/><rect x="489.4" y="380.5" fill="#6d150d"/><rect x="493.6" y="380.5" fill="#77180f"/><rect x="497.9" y="380.5" fill="#6f150e"/><rect x="502.2" y="380.5" fill="#79190f"/><rect x="506.4" y="380.5" fill="#6d150d"/><rect x="510.7" y="380.5" fill="#69130d"/><rect x="514.9" y="380.5" fill="#6c140d"/><rect x="519.2" y="380.5" fill="#64120c"/><rect x="523.4" y="380.5" fill="#62110b"/><rect x="527.7" y="380.5" fill="#63110c"/><rect x="412.7" y="384.8" fill="#b4551d"/><rect x="417.0" y="384.8" fill="#b1511c"/><rect x="421.3" y="384.8" fill="#b5561d"/><rect x="425.5" y="384.8" fill="#c16a20"/><rect x="429.8" y="384.8" fill="#c36d20"/><rect x="434.0" y="384.8" fill="#c77421"/><rect x="438.3" y="384.8" fill="#c36e20"/><rect x="442.5" y="384.8" fill="#c26b20"/><rect x="446.8" y="384.8" fill="#ba5d1e"/><rect x="451.1" y="384.8" fill="#b7591e"/><rect x="455.3" y="384.8" fill="#b04f1c"/><rect x="459.6" y="384.8" fill="#ac491b"/><rect x="463.8" y="384.8" fill="#ac4a1b"/><rect x="468.1" y="384.8" fill="#a13a19"/><rect x="472.4" y="384.8" fill="#982d17"/><rect x="476.6" y="384.8" fill="#801c11"/><rect x="480.9" y="384.8" fill="#6a130d"/><rect x="485.1" y="384.8" fill="#62110b"/><rect x="489.4" y="384.8" fill="#5e0f0b"/><rect x="493.6" y="384.8" fill="#65120c"/><rect x="497.9" y="384.8" fill="#6c140d"/><rect x="502.2" y="384.8" fill="#64120c"/><rect x="506.4" y="384.8" fill="#67120c"/><rect x="510.7" y="384.8" fill="#5d0f0a"/><rect x="514.9" y="384.8" fill="#65120c"/><rect x="519.2" y="384.8" fill="#62110b"/><rect x="523.4" y="384.8" fill="#5e0f0b"/><rect x="527.7" y="384.8" fill="#65120c"/><rect x="412.7" y="389.0" fill="#c16920"/><rect x="417.0" y="389.0" fill="#c77421"/><rect x="421.3" y="389.0" fill="#ca7921"/><rect x="425.5" y="389.0" fill="#c97821"/><rect x="429.8" y="389.0" fill="#d38924"/><rect x="434.0" y="389.0" fill="#cb7b22"/><rect x="438.3" y="389.0" fill="#b4551d"/><rect x="442.5" y="389.0" fill="#ac491b"/><rect x="446.8" y="389.0" fill="#b95c1e"/><rect x="451.1" y="389.0" fill="#bf661f"/><rect x="455.3" y="389.0" fill="#c0691f"/><rect x="459.6" y="389.0" fill="#bd621f"/><rect x="463.8" y="389.0" fill="#ab481b"/><rect x="468.1" y="389.0" fill="#992e17"/><rect x="472.4" y="389.0" fill="#8c2314"/><rect x="476.6" y="389.0" fill="#76180f"/><rect x="480.9" y="389.0" fill="#6a130d"/><rect x="485.1" y="389.0" fill="#590e0a"/><rect x="489.4" y="389.0" fill="#4d0a08"/><rect x="493.6" y="389.0" fill="#4e0a08"/><rect x="497.9" y="389.0" fill="#560d09"/><rect x="502.2" y="389.0" fill="#5d0f0b"/><rect x="506.4" y="389.0" fill="#5c0f0a"/><rect x="510.7" y="389.0" fill="#66120c"/><rect x="514.9" y="389.0" fill="#61110b"/><rect x="519.2" y="389.0" fill="#65120c"/><rect x="523.4" y="389.0" fill="#5f100b"/><rect x="527.7" y="389.0" fill="#61100b"/><rect x="412.7" y="393.3" fill="#d8962a"/><rect x="417.0" y="393.3" fill="#dda02f"/><rect x="421.3" y="393.3" fill="#da9b2c"/><rect x="425.5" y="393.3" fill="#db9d2d"/><rect x="429.8" y="393.3" fill="#db9d2d"/><rect x="434.0" y="393.3" fill="#cc7d22"/><rect x="438.3" y="393.3" fill="#ba5e1e"/><rect x="442.5" y="393.3" fill="#b1511c"/><rect x="446.8" y="393.3" fill="#bc611f"/><rect x="451.1" y="393.3" fill="#d08423"/><rect x="455.3" y="393.3" fill="#cf8322"/><rect x="459.6" y="393.3" fill="#c77421"/><rect x="463.8" y="393.3" fill="#af4e1c"/><rect x="468.1" y="393.3" fill="#9c3217"/><rect x="472.4" y="393.3" fill="#7e1b10"/><rect x="476.6" y="393.3" fill="#6e150e"/><rect x="480.9" y="393.3" fill="#5c0f0a"/><rect x="485.1" y="393.3" fill="#4c0a08"/><rect x="489.4" y="393.3" fill="#3d0806"/><rect x="493.6" y="393.3" fill="#3c0806"/><rect x="497.9" y="393.3" fill="#450907"/><rect x="502.2" y="393.3" fill="#580d0a"/><rect x="506.4" y="393.3" fill="#65120c"/><rect x="510.7" y="393.3" fill="#63110c"/><rect x="514.9" y="393.3" fill="#60100b"/><rect x="519.2" y="393.3" fill="#5f100b"/><rect x="523.4" y="393.3" fill="#580d0a"/><rect x="527.7" y="393.3" fill="#5b0e0a"/><rect x="412.7" y="397.5" fill="#e4b33a"/><rect x="417.0" y="397.5" fill="#e7ba49"/><rect x="421.3" y="397.5" fill="#e6b844"/><rect x="425.5" y="397.5" fill="#e2ae35"/><rect x="429.8" y="397.5" fill="#e2ae35"/><rect x="434.0" y="397.5" fill="#d79228"/><rect x="438.3" y="397.5" fill="#be641f"/><rect x="442.5" y="397.5" fill="#b95c1e"/><rect x="446.8" y="397.5" fill="#bd621f"/><rect x="451.1" y="397.5" fill="#c87721"/><rect x="455.3" y="397.5" fill="#c67221"/><rect x="459.6" y="397.5" fill="#cb7a22"/><rect x="463.8" y="397.5" fill="#b3541d"/><rect x="468.1" y="397.5" fill="#a6411a"/><rect x="472.4" y="397.5" fill="#892213"/><rect x="476.6" y="397.5" fill="#71160e"/><rect x="480.9" y="397.5" fill="#5d0f0b"/><rect x="485.1" y="397.5" fill="#4e0a08"/><rect x="489.4" y="397.5" fill="#3b0706"/><rect x="493.6" y="397.5" fill="#3d0806"/><rect x="497.9" y="397.5" fill="#470907"/><rect x="502.2" y="397.5" fill="#500b08"/><rect x="506.4" y="397.5" fill="#65120c"/><rect x="510.7" y="397.5" fill="#64120c"/><rect x="514.9" y="397.5" fill="#60100b"/><rect x="519.2" y="397.5" fill="#62110b"/><rect x="523.4" y="397.5" fill="#580d0a"/><rect x="527.7" y="397.5" fill="#5c0f0a"/><rect x="412.7" y="401.7" fill="#f6e5a5"/><rect x="417.0" y="401.7" fill="#f5e4a2"/><rect x="421.3" y="401.7" fill="#edcd71"/><rect x="425.5" y="401.7" fill="#e6b945"/><rect x="429.8" y="401.7" fill="#e3af36"/><rect x="434.0" y="401.7" fill="#db9c2d"/><rect x="438.3" y="401.7" fill="#c97721"/><rect x="442.5" y="401.7" fill="#be651f"/><rect x="446.8" y="401.7" fill="#be641f"/><rect x="451.1" y="401.7" fill="#b95c1e"/><rect x="455.3" y="401.7" fill="#c0681f"/><rect x="459.6" y="401.7" fill="#c46f20"/><rect x="463.8" y="401.7" fill="#c16a20"/><rect x="468.1" y="401.7" fill="#b3531d"/><rect x="472.4" y="401.7" fill="#902615"/><rect x="476.6" y="401.7" fill="#7a190f"/><rect x="480.9" y="401.7" fill="#63110c"/><rect x="485.1" y="401.7" fill="#5a0e0a"/><rect x="489.4" y="401.7" fill="#560d09"/><rect x="493.6" y="401.7" fill="#480907"/><rect x="497.9" y="401.7" fill="#490908"/><rect x="502.2" y="401.7" fill="#5a0e0a"/><rect x="506.4" y="401.7" fill="#63110c"/><rect x="510.7" y="401.7" fill="#67130c"/><rect x="514.9" y="401.7" fill="#66120c"/><rect x="519.2" y="401.7" fill="#5c0f0a"/><rect x="523.4" y="401.7" fill="#5b0f0a"/><rect x="527.7" y="401.7" fill="#64120c"/><rect x="412.7" y="406.0" fill="#faf1c9"/><rect x="417.0" y="406.0" fill="#fcf7de"/><rect x="421.3" y="406.0" fill="#faf2cd"/><rect x="425.5" y="406.0" fill="#f9eebc"/><rect x="429.8" y="406.0" fill="#f0d582"/><rect x="434.0" y="406.0" fill="#e4b33a"/><rect x="438.3" y="406.0" fill="#d9972a"/><rect x="442.5" y="406.0" fill="#c67221"/><rect x="446.8" y="406.0" fill="#be651f"/><rect x="451.1" y="406.0" fill="#b6581d"/><rect x="455.3" y="406.0" fill="#b95d1e"/><rect x="459.6" y="406.0" fill="#c57120"/><rect x="463.8" y="406.0" fill="#c67221"/><rect x="468.1" y="406.0" fill="#ba5e1e"/><rect x="472.4" y="406.0" fill="#982d16"/><rect x="476.6" y="406.0" fill="#7c1a10"/><rect x="480.9" y="406.0" fill="#71160e"/><rect x="485.1" y="406.0" fill="#60100b"/><rect x="489.4" y="406.0" fill="#62110b"/><rect x="493.6" y="406.0" fill="#5d0f0b"/><rect x="497.9" y="406.0" fill="#5d0f0b"/><rect x="502.2" y="406.0" fill="#5c0f0a"/><rect x="506.4" y="406.0" fill="#65120c"/><rect x="510.7" y="406.0" fill="#67130c"/><rect x="514.9" y="406.0" fill="#5d0f0a"/><rect x="519.2" y="406.0" fill="#68130c"/><rect x="523.4" y="406.0" fill="#69130d"/><rect x="527.7" y="406.0" fill="#64120c"/><rect x="412.7" y="410.2" fill="#ffffff"/><rect x="417.0" y="410.2" fill="#ffffff"/><rect x="421.3" y="410.2" fill="#ffffff"/><rect x="425.5" y="410.2" fill="#fcf8e2"/><rect x="429.8" y="410.2" fill="#f9eebb"/><rect x="434.0" y="410.2" fill="#ecc969"/><rect x="438.3" y="410.2" fill="#dfa531"/><rect x="442.5" y="410.2" fill="#ca7a21"/><rect x="446.8" y="410.2" fill="#c57020"/><rect x="451.1" y="410.2" fill="#b3531d"/><rect x="455.3" y="410.2" fill="#b3531d"/><rect x="459.6" y="410.2" fill="#b85b1e"/><rect x="463.8" y="410.2" fill="#c16b20"/><rect x="468.1" y="410.2" fill="#b2511c"/><rect x="472.4" y="410.2" fill="#922815"/><rect x="476.6" y="410.2" fill="#851f12"/><rect x="480.9" y="410.2" fill="#801c11"/><rect x="485.1" y="410.2" fill="#71160e"/><rect x="489.4" y="410.2" fill="#71160e"/><rect x="493.6" y="410.2" fill="#6a140d"/><rect x="497.9" y="410.2" fill="#66120c"/><rect x="502.2" y="410.2" fill="#6d150d"/><rect x="506.4" y="410.2" fill="#63110c"/><rect x="510.7" y="410.2" fill="#6b140d"/><rect x="514.9" y="410.2" fill="#65120c"/><rect x="519.2" y="410.2" fill="#69130d"/><rect x="523.4" y="410.2" fill="#62110b"/><rect x="527.7" y="410.2" fill="#64110c"/><rect x="412.7" y="414.4" fill="#ffffff"/><rect x="417.0" y="414.4" fill="#ffffff"/><rect x="421.3" y="414.4" fill="#ffffff"/><rect x="425.5" y="414.4" fill="#ffffff"/><rect x="429.8" y="414.4" fill="#fcf7e0"/><rect x="434.0" y="414.4" fill="#efd27d"/><rect x="438.3" y="414.4" fill="#e1ab34"/><rect x="442.5" y="414.4" fill="#d69228"/><rect x="446.8" y="414.4" fill="#c57120"/><rect x="451.1" y="414.4" fill="#b7591e"/><rect x="455.3" y="414.4" fill="#ac4a1b"/><rect x="459.6" y="414.4" fill="#a54019"/><rect x="463.8" y="414.4" fill="#a03818"/><rect x="468.1" y="414.4" fill="#9e3518"/><rect x="472.4" y="414.4" fill="#8b2313"/><rect x="476.6" y="414.4" fill="#892213"/><rect x="480.9" y="414.4" fill="#872012"/><rect x="485.1" y="414.4" fill="#7b1910"/><rect x="489.4" y="414.4" fill="#6d150d"/><rect x="493.6" y="414.4" fill="#6d150d"/><rect x="497.9" y="414.4" fill="#64120c"/><rect x="502.2" y="414.4" fill="#69130d"/><rect x="506.4" y="414.4" fill="#6d150d"/><rect x="510.7" y="414.4" fill="#70160e"/><rect x="514.9" y="414.4" fill="#6e150d"/><rect x="519.2" y="414.4" fill="#67120c"/><rect x="523.4" y="414.4" fill="#6c140d"/><rect x="527.7" y="414.4" fill="#67130c"/><rect x="412.7" y="418.7" fill="#ffffff"/><rect x="417.0" y="418.7" fill="#ffffff"/><rect x="421.3" y="418.7" fill="#ffffff"/><rect x="425.5" y="418.7" fill="#ffffff"/><rect x="429.8" y="418.7" fill="#fffefc"/><rect x="434.0" y="418.7" fill="#f8edb9"/><rect x="438.3" y="418.7" fill="#e6b641"/><rect x="442.5" y="418.7" fill="#d9972b"/><rect x="446.8" y="418.7" fill="#d38924"/><rect x="451.1" y="418.7" fill="#c57120"/><rect x="455.3" y="418.7" fill="#a7421a"/><rect x="459.6" y="418.7" fill="#962a16"/><rect x="463.8" y="418.7" fill="#7f1c11"/><rect x="468.1" y="418.7" fill="#7b1910"/><rect x="472.4" y="418.7" fill="#7b1910"/><rect x="476.6" y="418.7" fill="#7b1910"/><rect x="480.9" y="418.7" fill="#7f1b11"/><rect x="485.1" y="418.7" fill="#76180f"/><rect x="489.4" y="418.7" fill="#74170f"/><rect x="493.6" y="418.7" fill="#73160e"/><rect x="497.9" y="418.7" fill="#71160e"/><rect x="502.2" y="418.7" fill="#6e150d"/><rect x="506.4" y="418.7" fill="#67130c"/><rect x="510.7" y="418.7" fill="#74170e"/><rect x="514.9" y="418.7" fill="#6c140d"/><rect x="519.2" y="418.7" fill="#6c140d"/><rect x="523.4" y="418.7" fill="#70160e"/><rect x="527.7" y="418.7" fill="#64120c"/><rect x="412.7" y="422.9" fill="#ffffff"/><rect x="417.0" y="422.9" fill="#ffffff"/><rect x="421.3" y="422.9" fill="#ffffff"/><rect x="425.5" y="422.9" fill="#ffffff"/><rect x="429.8" y="422.9" fill="#ffffff"/><rect x="434.0" y="422.9" fill="#f2da8e"/><rect x="438.3" y="422.9" fill="#e5b53d"/><rect x="442.5" y="422.9" fill="#db9e2d"/><rect x="446.8" y="422.9" fill="#d38924"/><rect x="451.1" y="422.9" fill="#bd631f"/><rect x="455.3" y="422.9" fill="#a03918"/><rect x="459.6" y="422.9" fill="#902615"/><rect x="463.8" y="422.9" fill="#7b1910"/><rect x="468.1" y="422.9" fill="#71160e"/><rect x="472.4" y="422.9" fill="#68130c"/><rect x="476.6" y="422.9" fill="#79180f"/><rect x="480.9" y="422.9" fill="#69130d"/><rect x="485.1" y="422.9" fill="#71160e"/><rect x="489.4" y="422.9" fill="#78180f"/><rect x="493.6" y="422.9" fill="#6e150d"/><rect x="497.9" y="422.9" fill="#6f150e"/><rect x="502.2" y="422.9" fill="#6a130d"/><rect x="506.4" y="422.9" fill="#74170e"/><rect x="510.7" y="422.9" fill="#69130d"/><rect x="514.9" y="422.9" fill="#6f150e"/><rect x="519.2" y="422.9" fill="#6f150e"/><rect x="523.4" y="422.9" fill="#6a140d"/><rect x="527.7" y="422.9" fill="#72160e"/><rect x="412.7" y="427.2" fill="#ffffff"/><rect x="417.0" y="427.2" fill="#ffffff"/><rect x="421.3" y="427.2" fill="#ffffff"/><rect x="425.5" y="427.2" fill="#ffffff"/><rect x="429.8" y="427.2" fill="#ffffff"/><rect x="434.0" y="427.2" fill="#f7eaaf"/><rect x="438.3" y="427.2" fill="#e5b53d"/><rect x="442.5" y="427.2" fill="#da9b2c"/><rect x="446.8" y="427.2" fill="#d28823"/><rect x="451.1" y="427.2" fill="#c26b20"/><rect x="455.3" y="427.2" fill="#ad4b1b"/><rect x="459.6" y="427.2" fill="#8a2213"/><rect x="463.8" y="427.2" fill="#78180f"/><rect x="468.1" y="427.2" fill="#6d150d"/><rect x="472.4" y="427.2" fill="#69130d"/><rect x="476.6" y="427.2" fill="#71160e"/><rect x="480.9" y="427.2" fill="#6a140d"/><rect x="485.1" y="427.2" fill="#6e150d"/><rect x="489.4" y="427.2" fill="#74170e"/><rect x="493.6" y="427.2" fill="#69130d"/><rect x="497.9" y="427.2" fill="#6e150d"/><rect x="502.2" y="427.2" fill="#68130c"/><rect x="506.4" y="427.2" fill="#6d150d"/><rect x="510.7" y="427.2" fill="#69130d"/><rect x="514.9" y="427.2" fill="#6d150d"/><rect x="519.2" y="427.2" fill="#6d140d"/><rect x="523.4" y="427.2" fill="#6f150e"/><rect x="527.7" y="427.2" fill="#75170f"/><rect x="412.7" y="431.4" fill="#ffffff"/><rect x="417.0" y="431.4" fill="#ffffff"/><rect x="421.3" y="431.4" fill="#ffffff"/><rect x="425.5" y="431.4" fill="#ffffff"/><rect x="429.8" y="431.4" fill="#fefbf0"/><rect x="434.0" y="431.4" fill="#f1d787"/><rect x="438.3" y="431.4" fill="#e5b640"/><rect x="442.5" y="431.4" fill="#dfa531"/><rect x="446.8" y="431.4" fill="#d48c25"/><rect x="451.1" y="431.4" fill="#c16920"/><rect x="455.3" y="431.4" fill="#b2511c"/><rect x="459.6" y="431.4" fill="#892213"/><rect x="463.8" y="431.4" fill="#75170f"/><rect x="468.1" y="431.4" fill="#6a130d"/><rect x="472.4" y="431.4" fill="#69130d"/><rect x="476.6" y="431.4" fill="#6c140d"/><rect x="480.9" y="431.4" fill="#76180f"/><rect x="485.1" y="431.4" fill="#6d150d"/><rect x="489.4" y="431.4" fill="#6a130d"/><rect x="493.6" y="431.4" fill="#6b140d"/><rect x="497.9" y="431.4" fill="#6d150d"/><rect x="502.2" y="431.4" fill="#68130c"/><rect x="506.4" y="431.4" fill="#6f150e"/><rect x="510.7" y="431.4" fill="#72160e"/><rect x="514.9" y="431.4" fill="#70160e"/><rect x="519.2" y="431.4" fill="#71160e"/><rect x="523.4" y="431.4" fill="#69130d"/><rect x="527.7" y="431.4" fill="#68130c"/></g></g>
<text x="424.6" y="335.8" font-size="11.4" fill="#fff">pH=4.6</text>
<rect x="498.3" y="421.8" width="23.3" height="2.4" fill="#fff"/>
<g clip-path="url(#hc4)"><g class="hm4" filter="url(#hf4)" shape-rendering="crispEdges"><rect x="18.6" y="472.4" fill="#9e9e9e"/><rect x="23.6" y="472.4" fill="#9d9d9d"/><rect x="28.6" y="472.4" fill="#a1a1a1"/><rect x="33.5" y="472.4" fill="#a9a9a9"/><rect x="38.5" y="472.4" fill="#acacac"/><rect x="43.4" y="472.4" fill="#a6a6a6"/><rect x="48.4" y="472.4" fill="#a0a0a0"/><rect x="53.3" y="472.4" fill="#a4a4a4"/><rect x="58.3" y="472.4" fill="#a9a9a9"/><rect x="63.2" y="472.4" fill="#a5a5a5"/><rect x="68.2" y="472.4" fill="#a0a0a0"/><rect x="73.1" y="472.4" fill="#a7a7a7"/><rect x="78.1" y="472.4" fill="#b8b8b8"/><rect x="83.1" y="472.4" fill="#c6c6c6"/><rect x="88.0" y="472.4" fill="#cbcbcb"/><rect x="93.0" y="472.4" fill="#cacaca"/><rect x="97.9" y="472.4" fill="#c5c5c5"/><rect x="102.9" y="472.4" fill="#b6b6b6"/><rect x="107.8" y="472.4" fill="#9a9a9a"/><rect x="112.8" y="472.4" fill="#848484"/><rect x="117.7" y="472.4" fill="#878787"/><rect x="122.7" y="472.4" fill="#999999"/><rect x="127.6" y="472.4" fill="#a3a3a3"/><rect x="132.6" y="472.4" fill="#a1a1a1"/><rect x="18.6" y="477.3" fill="#a1a1a1"/><rect x="23.6" y="477.3" fill="#a0a0a0"/><rect x="28.6" y="477.3" fill="#a6a6a6"/><rect x="33.5" y="477.3" fill="#aeaeae"/><rect x="38.5" y="477.3" fill="#afafaf"/><rect x="43.4" y="477.3" fill="#a9a9a9"/><rect x="48.4" y="477.3" fill="#a5a5a5"/><rect x="53.3" y="477.3" fill="#aaaaaa"/><rect x="58.3" y="477.3" fill="#afafaf"/><rect x="63.2" y="477.3" fill="#ababab"/><rect x="68.2" y="477.3" fill="#a4a4a4"/><rect x="73.1" y="477.3" fill="#ababab"/><rect x="78.1" y="477.3" fill="#bdbdbd"/><rect x="83.1" y="477.3" fill="#cdcdcd"/><rect x="88.0" y="477.3" fill="#d2d2d2"/><rect x="93.0" y="477.3" fill="#d2d2d2"/><rect x="97.9" y="477.3" fill="#cecece"/><rect x="102.9" y="477.3" fill="#bfbfbf"/><rect x="107.8" y="477.3" fill="#a1a1a1"/><rect x="112.8" y="477.3" fill="#8a8a8a"/><rect x="117.7" y="477.3" fill="#8b8b8b"/><rect x="122.7" y="477.3" fill="#9c9c9c"/><rect x="127.6" y="477.3" fill="#a6a6a6"/><rect x="132.6" y="477.3" fill="#a5a5a5"/><rect x="18.6" y="482.2" fill="#b2b2b2"/><rect x="23.6" y="482.2" fill="#b2b2b2"/><rect x="28.6" y="482.2" fill="#c2c2c2"/><rect x="33.5" y="482.2" fill="#d2d2d2"/><rect x="38.5" y="482.2" fill="#cacaca"/><rect x="43.4" y="482.2" fill="#bbbbbb"/><rect x="48.4" y="482.2" fill="#afafaf"/><rect x="53.3" y="482.2" fill="#adadad"/><rect x="58.3" y="482.2" fill="#afafaf"/><rect x="63.2" y="482.2" fill="#aeaeae"/><rect x="68.2" y="482.2" fill="#adadad"/><rect x="73.1" y="482.2" fill="#b4b4b4"/><rect x="78.1" y="482.2" fill="#c1c1c1"/><rect x="83.1" y="482.2" fill="#cacaca"/><rect x="88.0" y="482.2" fill="#cacaca"/><rect x="93.0" y="482.2" fill="#c6c6c6"/><rect x="97.9" y="482.2" fill="#bdbdbd"/><rect x="102.9" y="482.2" fill="#afafaf"/><rect x="107.8" y="482.2" fill="#9b9b9b"/><rect x="112.8" y="482.2" fill="#8e8e8e"/><rect x="117.7" y="482.2" fill="#989898"/><rect x="122.7" y="482.2" fill="#acacac"/><rect x="127.6" y="482.2" fill="#b7b7b7"/><rect x="132.6" y="482.2" fill="#b5b5b5"/><rect x="18.6" y="487.1" fill="#adadad"/><rect x="23.6" y="487.1" fill="#adadad"/><rect x="28.6" y="487.1" fill="#c5c5c5"/><rect x="33.5" y="487.1" fill="#dddddd"/><rect x="38.5" y="487.1" fill="#d1d1d1"/><rect x="43.4" y="487.1" fill="#b9b9b9"/><rect x="48.4" y="487.1" fill="#a0a0a0"/><rect x="53.3" y="487.1" fill="#929292"/><rect x="58.3" y="487.1" fill="#8f8f8f"/><rect x="63.2" y="487.1" fill="#949494"/><rect x="68.2" y="487.1" fill="#9c9c9c"/><rect x="73.1" y="487.1" fill="#a1a1a1"/><rect x="78.1" y="487.1" fill="#a2a2a2"/><rect x="83.1" y="487.1" fill="#9f9f9f"/><rect x="88.0" y="487.1" fill="#989898"/><rect x="93.0" y="487.1" fill="#8d8d8d"/><rect x="97.9" y="487.1" fill="#7d7d7d"/><rect x="102.9" y="487.1" fill="#717171"/><rect x="107.8" y="487.1" fill="#6e6e6e"/><rect x="112.8" y="487.1" fill="#777777"/><rect x="117.7" y="487.1" fill="#8e8e8e"/><rect x="122.7" y="487.1" fill="#a6a6a6"/><rect x="127.6" y="487.1" fill="#b2b2b2"/><rect x="132.6" y="487.1" fill="#b0b0b0"/><rect x="18.6" y="492.1" fill="#929292"/><rect x="23.6" y="492.1" fill="#919191"/><rect x="28.6" y="492.1" fill="#9d9d9d"/><rect x="33.5" y="492.1" fill="#afafaf"/><rect x="38.5" y="492.1" fill="#b0b0b0"/><rect x="43.4" y="492.1" fill="#9e9e9e"/><rect x="48.4" y="492.1" fill="#888888"/><rect x="53.3" y="492.1" fill="#7c7c7c"/><rect x="58.3" y="492.1" fill="#7c7c7c"/><rect x="63.2" y="492.1" fill="#828282"/><rect x="68.2" y="492.1" fill="#888888"/><rect x="73.1" y="492.1" fill="#858585"/><rect x="78.1" y="492.1" fill="#7b7b7b"/><rect x="83.1" y="492.1" fill="#757575"/><rect x="88.0" y="492.1" fill="#737373"/><rect x="93.0" y="492.1" fill="#6c6c6c"/><rect x="97.9" y="492.1" fill="#5a5a5a"/><rect x="102.9" y="492.1" fill="#4f4f4f"/><rect x="107.8" y="492.1" fill="#555555"/><rect x="112.8" y="492.1" fill="#686868"/><rect x="117.7" y="492.1" fill="#7f7f7f"/><rect x="122.7" y="492.1" fill="#919191"/><rect x="127.6" y="492.1" fill="#999999"/><rect x="132.6" y="492.1" fill="#979797"/><rect x="18.6" y="497.0" fill="#888888"/><rect x="23.6" y="497.0" fill="#868686"/><rect x="28.6" y="497.0" fill="#858585"/><rect x="33.5" y="497.0" fill="#868686"/><rect x="38.5" y="497.0" fill="#8a8a8a"/><rect x="43.4" y="497.0" fill="#8c8c8c"/><rect x="48.4" y="497.0" fill="#909090"/><rect x="53.3" y="497.0" fill="#9f9f9f"/><rect x="58.3" y="497.0" fill="#afafaf"/><rect x="63.2" y="497.0" fill="#afafaf"/><rect x="68.2" y="497.0" fill="#a2a2a2"/><rect x="73.1" y="497.0" fill="#8e8e8e"/><rect x="78.1" y="497.0" fill="#7e7e7e"/><rect x="83.1" y="497.0" fill="#828282"/><rect x="88.0" y="497.0" fill="#9c9c9c"/><rect x="93.0" y="497.0" fill="#ababab"/><rect x="97.9" y="497.0" fill="#9f9f9f"/><rect x="102.9" y="497.0" fill="#8f8f8f"/><rect x="107.8" y="497.0" fill="#8d8d8d"/><rect x="112.8" y="497.0" fill="#919191"/><rect x="117.7" y="497.0" fill="#939393"/><rect x="122.7" y="497.0" fill="#919191"/><rect x="127.6" y="497.0" fill="#8f8f8f"/><rect x="132.6" y="497.0" fill="#8f8f8f"/><rect x="18.6" y="501.9" fill="#727272"/><rect x="23.6" y="501.9" fill="#707070"/><rect x="28.6" y="501.9" fill="#606060"/><rect x="33.5" y="501.9" fill="#4d4d4d"/><rect x="38.5" y="501.9" fill="#4f4f4f"/><rect x="43.4" y="501.9" fill="#636363"/><rect x="48.4" y="501.9" fill="#848484"/><rect x="53.3" y="501.9" fill="#bababa"/><rect x="58.3" y="501.9" fill="#e6e6e6"/><rect x="63.2" y="501.9" fill="#d9d9d9"/><rect x="68.2" y="501.9" fill="#afafaf"/><rect x="73.1" y="501.9" fill="#868686"/><rect x="78.1" y="501.9" fill="#717171"/><rect x="83.1" y="501.9" fill="#838383"/><rect x="88.0" y="501.9" fill="#bcbcbc"/><rect x="93.0" y="501.9" fill="#e6e6e6"/><rect x="97.9" y="501.9" fill="#e0e0e0"/><rect x="102.9" y="501.9" fill="#c9c9c9"/><rect x="107.8" y="501.9" fill="#b7b7b7"/><rect x="112.8" y="501.9" fill="#a4a4a4"/><rect x="117.7" y="501.9" fill="#8b8b8b"/><rect x="122.7" y="501.9" fill="#767676"/><rect x="127.6" y="501.9" fill="#6e6e6e"/><rect x="132.6" y="501.9" fill="#707070"/><rect x="18.6" y="506.8" fill="#7e7e7e"/><rect x="23.6" y="506.8" fill="#7b7b7b"/><rect x="28.6" y="506.8" fill="#696969"/><rect x="33.5" y="506.8" fill="#4f4f4f"/><rect x="38.5" y="506.8" fill="#494949"/><rect x="43.4" y="506.8" fill="#565656"/><rect x="48.4" y="506.8" fill="#7a7a7a"/><rect x="53.3" y="506.8" fill="#cbcbcb"/><rect x="58.3" y="506.8" fill="#ffffff"/><rect x="63.2" y="506.8" fill="#fdfdfd"/><rect x="68.2" y="506.8" fill="#bababa"/><rect x="73.1" y="506.8" fill="#7f7f7f"/><rect x="78.1" y="506.8" fill="#646464"/><rect x="83.1" y="506.8" fill="#797979"/><rect x="88.0" y="506.8" fill="#bababa"/><rect x="93.0" y="506.8" fill="#f0f0f0"/><rect x="97.9" y="506.8" fill="#f6f6f6"/><rect x="102.9" y="506.8" fill="#e3e3e3"/><rect x="107.8" y="506.8" fill="#c7c7c7"/><rect x="112.8" y="506.8" fill="#a1a1a1"/><rect x="117.7" y="506.8" fill="#767676"/><rect x="122.7" y="506.8" fill="#5e5e5e"/><rect x="127.6" y="506.8" fill="#5a5a5a"/><rect x="132.6" y="506.8" fill="#5d5d5d"/><rect x="18.6" y="511.8" fill="#858585"/><rect x="23.6" y="511.8" fill="#848484"/><rect x="28.6" y="511.8" fill="#797979"/><rect x="33.5" y="511.8" fill="#676767"/><rect x="38.5" y="511.8" fill="#565656"/><rect x="43.4" y="511.8" fill="#4c4c4c"/><rect x="48.4" y="511.8" fill="#5f5f5f"/><rect x="53.3" y="511.8" fill="#aaaaaa"/><rect x="58.3" y="511.8" fill="#f1f1f1"/><rect x="63.2" y="511.8" fill="#e4e4e4"/><rect x="68.2" y="511.8" fill="#9e9e9e"/><rect x="73.1" y="511.8" fill="#5d5d5d"/><rect x="78.1" y="511.8" fill="#424242"/><rect x="83.1" y="511.8" fill="#545454"/><rect x="88.0" y="511.8" fill="#8c8c8c"/><rect x="93.0" y="511.8" fill="#c0c0c0"/><rect x="97.9" y="511.8" fill="#d2d2d2"/><rect x="102.9" y="511.8" fill="#cbcbcb"/><rect x="107.8" y="511.8" fill="#b1b1b1"/><rect x="112.8" y="511.8" fill="#858585"/><rect x="117.7" y="511.8" fill="#4f4f4f"/><rect x="122.7" y="511.8" fill="#3b3b3b"/><rect x="127.6" y="511.8" fill="#414141"/><rect x="132.6" y="511.8" fill="#474747"/><rect x="18.6" y="516.7" fill="#a7a7a7"/><rect x="23.6" y="516.7" fill="#a8a8a8"/><rect x="28.6" y="516.7" fill="#a3a3a3"/><rect x="33.5" y="516.7" fill="#979797"/><rect x="38.5" y="516.7" fill="#838383"/><rect x="43.4" y="516.7" fill="#6e6e6e"/><rect x="48.4" y="516.7" fill="#747474"/><rect x="53.3" y="516.7" fill="#aeaeae"/><rect x="58.3" y="516.7" fill="#e3e3e3"/><rect x="63.2" y="516.7" fill="#d7d7d7"/><rect x="68.2" y="516.7" fill="#9a9a9a"/><rect x="73.1" y="516.7" fill="#616161"/><rect x="78.1" y="516.7" fill="#4d4d4d"/><rect x="83.1" y="516.7" fill="#606060"/><rect x="88.0" y="516.7" fill="#8f8f8f"/><rect x="93.0" y="516.7" fill="#b9b9b9"/><rect x="97.9" y="516.7" fill="#cccccc"/><rect x="102.9" y="516.7" fill="#cfcfcf"/><rect x="107.8" y="516.7" fill="#c7c7c7"/><rect x="112.8" y="516.7" fill="#ababab"/><rect x="117.7" y="516.7" fill="#7e7e7e"/><rect x="122.7" y="516.7" fill="#646464"/><rect x="127.6" y="516.7" fill="#616161"/><rect x="132.6" y="516.7" fill="#676767"/><rect x="18.6" y="521.6" fill="#b0b0b0"/><rect x="23.6" y="521.6" fill="#b0b0b0"/><rect x="28.6" y="521.6" fill="#adadad"/><rect x="33.5" y="521.6" fill="#a4a4a4"/><rect x="38.5" y="521.6" fill="#939393"/><rect x="43.4" y="521.6" fill="#818181"/><rect x="48.4" y="521.6" fill="#878787"/><rect x="53.3" y="521.6" fill="#c2c2c2"/><rect x="58.3" y="521.6" fill="#e6e6e6"/><rect x="63.2" y="521.6" fill="#c0c0c0"/><rect x="68.2" y="521.6" fill="#8b8b8b"/><rect x="73.1" y="521.6" fill="#626262"/><rect x="78.1" y="521.6" fill="#585858"/><rect x="83.1" y="521.6" fill="#6d6d6d"/><rect x="88.0" y="521.6" fill="#929292"/><rect x="93.0" y="521.6" fill="#b0b0b0"/><rect x="97.9" y="521.6" fill="#bdbdbd"/><rect x="102.9" y="521.6" fill="#cfcfcf"/><rect x="107.8" y="521.6" fill="#dcdcdc"/><rect x="112.8" y="521.6" fill="#cdcdcd"/><rect x="117.7" y="521.6" fill="#acacac"/><rect x="122.7" y="521.6" fill="#8a8a8a"/><rect x="127.6" y="521.6" fill="#7c7c7c"/><rect x="132.6" y="521.6" fill="#7f7f7f"/><rect x="18.6" y="526.5" fill="#adadad"/><rect x="23.6" y="526.5" fill="#adadad"/><rect x="28.6" y="526.5" fill="#aaaaaa"/><rect x="33.5" y="526.5" fill="#a2a2a2"/><rect x="38.5" y="526.5" fill="#969696"/><rect x="43.4" y="526.5" fill="#8b8b8b"/><rect x="48.4" y="526.5" fill="#909090"/><rect x="53.3" y="526.5" fill="#b9b9b9"/><rect x="58.3" y="526.5" fill="#cfcfcf"/><rect x="63.2" y="526.5" fill="#b0b0b0"/><rect x="68.2" y="526.5" fill="#8b8b8b"/><rect x="73.1" y="526.5" fill="#757575"/><rect x="78.1" y="526.5" fill="#747474"/><rect x="83.1" y="526.5" fill="#828282"/><rect x="88.0" y="526.5" fill="#969696"/><rect x="93.0" y="526.5" fill="#a6a6a6"/><rect x="97.9" y="526.5" fill="#b1b1b1"/><rect x="102.9" y="526.5" fill="#c7c7c7"/><rect x="107.8" y="526.5" fill="#d7d7d7"/><rect x="112.8" y="526.5" fill="#c9c9c9"/><rect x="117.7" y="526.5" fill="#b1b1b1"/><rect x="122.7" y="526.5" fill="#979797"/><rect x="127.6" y="526.5" fill="#8a8a8a"/><rect x="132.6" y="526.5" fill="#8c8c8c"/><rect x="18.6" y="531.5" fill="#8e8e8e"/><rect x="23.6" y="531.5" fill="#8f8f8f"/><rect x="28.6" y="531.5" fill="#8b8b8b"/><rect x="33.5" y="531.5" fill="#838383"/><rect x="38.5" y="531.5" fill="#7a7a7a"/><rect x="43.4" y="531.5" fill="#757575"/><rect x="48.4" y="531.5" fill="#797979"/><rect x="53.3" y="531.5" fill="#878787"/><rect x="58.3" y="531.5" fill="#939393"/><rect x="63.2" y="531.5" fill="#8f8f8f"/><rect x="68.2" y="531.5" fill="#838383"/><rect x="73.1" y="531.5" fill="#7e7e7e"/><rect x="78.1" y="531.5" fill="#7f7f7f"/><rect x="83.1" y="531.5" fill="#808080"/><rect x="88.0" y="531.5" fill="#7f7f7f"/><rect x="93.0" y="531.5" fill="#818181"/><rect x="97.9" y="531.5" fill="#8b8b8b"/><rect x="102.9" y="531.5" fill="#989898"/><rect x="107.8" y="531.5" fill="#999999"/><rect x="112.8" y="531.5" fill="#8e8e8e"/><rect x="117.7" y="531.5" fill="#828282"/><rect x="122.7" y="531.5" fill="#7a7a7a"/><rect x="127.6" y="531.5" fill="#777777"/><rect x="132.6" y="531.5" fill="#787878"/><rect x="18.6" y="536.4" fill="#8e8e8e"/><rect x="23.6" y="536.4" fill="#8e8e8e"/><rect x="28.6" y="536.4" fill="#8b8b8b"/><rect x="33.5" y="536.4" fill="#848484"/><rect x="38.5" y="536.4" fill="#7f7f7f"/><rect x="43.4" y="536.4" fill="#7e7e7e"/><rect x="48.4" y="536.4" fill="#818181"/><rect x="53.3" y="536.4" fill="#868686"/><rect x="58.3" y="536.4" fill="#898989"/><rect x="63.2" y="536.4" fill="#8c8c8c"/><rect x="68.2" y="536.4" fill="#8e8e8e"/><rect x="73.1" y="536.4" fill="#919191"/><rect x="78.1" y="536.4" fill="#919191"/><rect x="83.1" y="536.4" fill="#8b8b8b"/><rect x="88.0" y="536.4" fill="#818181"/><rect x="93.0" y="536.4" fill="#7c7c7c"/><rect x="97.9" y="536.4" fill="#838383"/><rect x="102.9" y="536.4" fill="#888888"/><rect x="107.8" y="536.4" fill="#848484"/><rect x="112.8" y="536.4" fill="#7c7c7c"/><rect x="117.7" y="536.4" fill="#7c7c7c"/><rect x="122.7" y="536.4" fill="#818181"/><rect x="127.6" y="536.4" fill="#848484"/><rect x="132.6" y="536.4" fill="#838383"/><rect x="18.6" y="541.3" fill="#929292"/><rect x="23.6" y="541.3" fill="#939393"/><rect x="28.6" y="541.3" fill="#8f8f8f"/><rect x="33.5" y="541.3" fill="#888888"/><rect x="38.5" y="541.3" fill="#858585"/><rect x="43.4" y="541.3" fill="#8a8a8a"/><rect x="48.4" y="541.3" fill="#8f8f8f"/><rect x="53.3" y="541.3" fill="#8f8f8f"/><rect x="58.3" y="541.3" fill="#8b8b8b"/><rect x="63.2" y="541.3" fill="#898989"/><rect x="68.2" y="541.3" fill="#8a8a8a"/><rect x="73.1" y="541.3" fill="#8a8a8a"/><rect x="78.1" y="541.3" fill="#898989"/><rect x="83.1" y="541.3" fill="#878787"/><rect x="88.0" y="541.3" fill="#828282"/><rect x="93.0" y="541.3" fill="#7d7d7d"/><rect x="97.9" y="541.3" fill="#7b7b7b"/><rect x="102.9" y="541.3" fill="#7b7b7b"/><rect x="107.8" y="541.3" fill="#7e7e7e"/><rect x="112.8" y="541.3" fill="#848484"/><rect x="117.7" y="541.3" fill="#8c8c8c"/><rect x="122.7" y="541.3" fill="#939393"/><rect x="127.6" y="541.3" fill="#969696"/><rect x="132.6" y="541.3" fill="#969696"/><rect x="18.6" y="546.2" fill="#b6b6b6"/><rect x="23.6" y="546.2" fill="#b6b6b6"/><rect x="28.6" y="546.2" fill="#afafaf"/><rect x="33.5" y="546.2" fill="#a1a1a1"/><rect x="38.5" y="546.2" fill="#9e9e9e"/><rect x="43.4" y="546.2" fill="#acacac"/><rect x="48.4" y="546.2" fill="#bbbbbb"/><rect x="53.3" y="546.2" fill="#bfbfbf"/><rect x="58.3" y="546.2" fill="#b9b9b9"/><rect x="63.2" y="546.2" fill="#b0b0b0"/><rect x="68.2" y="546.2" fill="#a7a7a7"/><rect x="73.1" y="546.2" fill="#a3a3a3"/><rect x="78.1" y="546.2" fill="#a4a4a4"/><rect x="83.1" y="546.2" fill="#a7a7a7"/><rect x="88.0" y="546.2" fill="#aaaaaa"/><rect x="93.0" y="546.2" fill="#a5a5a5"/><rect x="97.9" y="546.2" fill="#9a9a9a"/><rect x="102.9" y="546.2" fill="#959595"/><rect x="107.8" y="546.2" fill="#a1a1a1"/><rect x="112.8" y="546.2" fill="#b4b4b4"/><rect x="117.7" y="546.2" fill="#c0c0c0"/><rect x="122.7" y="546.2" fill="#c5c5c5"/><rect x="127.6" y="546.2" fill="#c6c6c6"/><rect x="132.6" y="546.2" fill="#c6c6c6"/><rect x="18.6" y="551.1" fill="#808080"/><rect x="23.6" y="551.1" fill="#818181"/><rect x="28.6" y="551.1" fill="#717171"/><rect x="33.5" y="551.1" fill="#535353"/><rect x="38.5" y="551.1" fill="#494949"/><rect x="43.4" y="551.1" fill="#666666"/><rect x="48.4" y="551.1" fill="#8a8a8a"/><rect x="53.3" y="551.1" fill="#9b9b9b"/><rect x="58.3" y="551.1" fill="#9b9b9b"/><rect x="63.2" y="551.1" fill="#8d8d8d"/><rect x="68.2" y="551.1" fill="#7d7d7d"/><rect x="73.1" y="551.1" fill="#787878"/><rect x="78.1" y="551.1" fill="#7d7d7d"/><rect x="83.1" y="551.1" fill="#848484"/><rect x="88.0" y="551.1" fill="#868686"/><rect x="93.0" y="551.1" fill="#7d7d7d"/><rect x="97.9" y="551.1" fill="#6d6d6d"/><rect x="102.9" y="551.1" fill="#666666"/><rect x="107.8" y="551.1" fill="#737373"/><rect x="112.8" y="551.1" fill="#898989"/><rect x="117.7" y="551.1" fill="#959595"/><rect x="122.7" y="551.1" fill="#999999"/><rect x="127.6" y="551.1" fill="#999999"/><rect x="132.6" y="551.1" fill="#999999"/><rect x="18.6" y="556.1" fill="#828282"/><rect x="23.6" y="556.1" fill="#848484"/><rect x="28.6" y="556.1" fill="#6e6e6e"/><rect x="33.5" y="556.1" fill="#444444"/><rect x="38.5" y="556.1" fill="#343434"/><rect x="43.4" y="556.1" fill="#5a5a5a"/><rect x="48.4" y="556.1" fill="#8a8a8a"/><rect x="53.3" y="556.1" fill="#a7a7a7"/><rect x="58.3" y="556.1" fill="#aeaeae"/><rect x="63.2" y="556.1" fill="#a3a3a3"/><rect x="68.2" y="556.1" fill="#939393"/><rect x="73.1" y="556.1" fill="#8f8f8f"/><rect x="78.1" y="556.1" fill="#9b9b9b"/><rect x="83.1" y="556.1" fill="#a1a1a1"/><rect x="88.0" y="556.1" fill="#9a9a9a"/><rect x="93.0" y="556.1" fill="#8b8b8b"/><rect x="97.9" y="556.1" fill="#797979"/><rect x="102.9" y="556.1" fill="#707070"/><rect x="107.8" y="556.1" fill="#797979"/><rect x="112.8" y="556.1" fill="#8b8b8b"/><rect x="117.7" y="556.1" fill="#989898"/><rect x="122.7" y="556.1" fill="#9d9d9d"/><rect x="127.6" y="556.1" fill="#9e9e9e"/><rect x="132.6" y="556.1" fill="#9e9e9e"/><rect x="18.6" y="561.0" fill="#7f7f7f"/><rect x="23.6" y="561.0" fill="#808080"/><rect x="28.6" y="561.0" fill="#6f6f6f"/><rect x="33.5" y="561.0" fill="#4b4b4b"/><rect x="38.5" y="561.0" fill="#3c3c3c"/><rect x="43.4" y="561.0" fill="#575757"/><rect x="48.4" y="561.0" fill="#7d7d7d"/><rect x="53.3" y="561.0" fill="#979797"/><rect x="58.3" y="561.0" fill="#a3a3a3"/><rect x="63.2" y="561.0" fill="#a4a4a4"/><rect x="68.2" y="561.0" fill="#a9a9a9"/><rect x="73.1" y="561.0" fill="#a6a6a6"/><rect x="78.1" y="561.0" fill="#bdbdbd"/><rect x="83.1" y="561.0" fill="#c3c3c3"/><rect x="88.0" y="561.0" fill="#9d9d9d"/><rect x="93.0" y="561.0" fill="#858585"/><rect x="97.9" y="561.0" fill="#727272"/><rect x="102.9" y="561.0" fill="#686868"/><rect x="107.8" y="561.0" fill="#6c6c6c"/><rect x="112.8" y="561.0" fill="#787878"/><rect x="117.7" y="561.0" fill="#878787"/><rect x="122.7" y="561.0" fill="#939393"/><rect x="127.6" y="561.0" fill="#989898"/><rect x="132.6" y="561.0" fill="#979797"/><rect x="18.6" y="565.9" fill="#8e8e8e"/><rect x="23.6" y="565.9" fill="#8f8f8f"/><rect x="28.6" y="565.9" fill="#858585"/><rect x="33.5" y="565.9" fill="#707070"/><rect x="38.5" y="565.9" fill="#646464"/><rect x="43.4" y="565.9" fill="#6c6c6c"/><rect x="48.4" y="565.9" fill="#7e7e7e"/><rect x="53.3" y="565.9" fill="#909090"/><rect x="58.3" y="565.9" fill="#9d9d9d"/><rect x="63.2" y="565.9" fill="#aaaaaa"/><rect x="68.2" y="565.9" fill="#c4c4c4"/><rect x="73.1" y="565.9" fill="#c1c1c1"/><rect x="78.1" y="565.9" fill="#d3d3d3"/><rect x="83.1" y="565.9" fill="#d4d4d4"/><rect x="88.0" y="565.9" fill="#a6a6a6"/><rect x="93.0" y="565.9" fill="#898989"/><rect x="97.9" y="565.9" fill="#777777"/><rect x="102.9" y="565.9" fill="#6e6e6e"/><rect x="107.8" y="565.9" fill="#707070"/><rect x="112.8" y="565.9" fill="#7a7a7a"/><rect x="117.7" y="565.9" fill="#8a8a8a"/><rect x="122.7" y="565.9" fill="#999999"/><rect x="127.6" y="565.9" fill="#9f9f9f"/><rect x="132.6" y="565.9" fill="#9e9e9e"/><rect x="18.6" y="570.8" fill="#969696"/><rect x="23.6" y="570.8" fill="#979797"/><rect x="28.6" y="570.8" fill="#929292"/><rect x="33.5" y="570.8" fill="#868686"/><rect x="38.5" y="570.8" fill="#7c7c7c"/><rect x="43.4" y="570.8" fill="#797979"/><rect x="48.4" y="570.8" fill="#7d7d7d"/><rect x="53.3" y="570.8" fill="#878787"/><rect x="58.3" y="570.8" fill="#939393"/><rect x="63.2" y="570.8" fill="#9e9e9e"/><rect x="68.2" y="570.8" fill="#ababab"/><rect x="73.1" y="570.8" fill="#b3b3b3"/><rect x="78.1" y="570.8" fill="#bcbcbc"/><rect x="83.1" y="570.8" fill="#b8b8b8"/><rect x="88.0" y="570.8" fill="#a1a1a1"/><rect x="93.0" y="570.8" fill="#898989"/><rect x="97.9" y="570.8" fill="#797979"/><rect x="102.9" y="570.8" fill="#747474"/><rect x="107.8" y="570.8" fill="#7c7c7c"/><rect x="112.8" y="570.8" fill="#8a8a8a"/><rect x="117.7" y="570.8" fill="#959595"/><rect x="122.7" y="570.8" fill="#9c9c9c"/><rect x="127.6" y="570.8" fill="#9e9e9e"/><rect x="132.6" y="570.8" fill="#9e9e9e"/><rect x="18.6" y="575.8" fill="#929292"/><rect x="23.6" y="575.8" fill="#939393"/><rect x="28.6" y="575.8" fill="#909090"/><rect x="33.5" y="575.8" fill="#898989"/><rect x="38.5" y="575.8" fill="#7f7f7f"/><rect x="43.4" y="575.8" fill="#777777"/><rect x="48.4" y="575.8" fill="#747474"/><rect x="53.3" y="575.8" fill="#7a7a7a"/><rect x="58.3" y="575.8" fill="#848484"/><rect x="63.2" y="575.8" fill="#8c8c8c"/><rect x="68.2" y="575.8" fill="#939393"/><rect x="73.1" y="575.8" fill="#9d9d9d"/><rect x="78.1" y="575.8" fill="#a5a5a5"/><rect x="83.1" y="575.8" fill="#a3a3a3"/><rect x="88.0" y="575.8" fill="#939393"/><rect x="93.0" y="575.8" fill="#808080"/><rect x="97.9" y="575.8" fill="#727272"/><rect x="102.9" y="575.8" fill="#727272"/><rect x="107.8" y="575.8" fill="#858585"/><rect x="112.8" y="575.8" fill="#999999"/><rect x="117.7" y="575.8" fill="#9d9d9d"/><rect x="122.7" y="575.8" fill="#969696"/><rect x="127.6" y="575.8" fill="#919191"/><rect x="132.6" y="575.8" fill="#929292"/><rect x="18.6" y="580.7" fill="#979797"/><rect x="23.6" y="580.7" fill="#989898"/><rect x="28.6" y="580.7" fill="#959595"/><rect x="33.5" y="580.7" fill="#909090"/><rect x="38.5" y="580.7" fill="#868686"/><rect x="43.4" y="580.7" fill="#7d7d7d"/><rect x="48.4" y="580.7" fill="#787878"/><rect x="53.3" y="580.7" fill="#7c7c7c"/><rect x="58.3" y="580.7" fill="#848484"/><rect x="63.2" y="580.7" fill="#8b8b8b"/><rect x="68.2" y="580.7" fill="#919191"/><rect x="73.1" y="580.7" fill="#999999"/><rect x="78.1" y="580.7" fill="#a2a2a2"/><rect x="83.1" y="580.7" fill="#a1a1a1"/><rect x="88.0" y="580.7" fill="#949494"/><rect x="93.0" y="580.7" fill="#838383"/><rect x="97.9" y="580.7" fill="#767676"/><rect x="102.9" y="580.7" fill="#797979"/><rect x="107.8" y="580.7" fill="#909090"/><rect x="112.8" y="580.7" fill="#a8a8a8"/><rect x="117.7" y="580.7" fill="#a9a9a9"/><rect x="122.7" y="580.7" fill="#9b9b9b"/><rect x="127.6" y="580.7" fill="#929292"/><rect x="132.6" y="580.7" fill="#949494"/><rect x="18.6" y="585.6" fill="#949494"/><rect x="23.6" y="585.6" fill="#959595"/><rect x="28.6" y="585.6" fill="#929292"/><rect x="33.5" y="585.6" fill="#8c8c8c"/><rect x="38.5" y="585.6" fill="#838383"/><rect x="43.4" y="585.6" fill="#797979"/><rect x="48.4" y="585.6" fill="#757575"/><rect x="53.3" y="585.6" fill="#797979"/><rect x="58.3" y="585.6" fill="#828282"/><rect x="63.2" y="585.6" fill="#888888"/><rect x="68.2" y="585.6" fill="#8f8f8f"/><rect x="73.1" y="585.6" fill="#989898"/><rect x="78.1" y="585.6" fill="#a0a0a0"/><rect x="83.1" y="585.6" fill="#9f9f9f"/><rect x="88.0" y="585.6" fill="#929292"/><rect x="93.0" y="585.6" fill="#808080"/><rect x="97.9" y="585.6" fill="#737373"/><rect x="102.9" y="585.6" fill="#757575"/><rect x="107.8" y="585.6" fill="#8c8c8c"/><rect x="112.8" y="585.6" fill="#a3a3a3"/><rect x="117.7" y="585.6" fill="#a4a4a4"/><rect x="122.7" y="585.6" fill="#989898"/><rect x="127.6" y="585.6" fill="#909090"/><rect x="132.6" y="585.6" fill="#919191"/></g></g>
<rect x="104.6" y="577.3" width="22.6" height="2.4" fill="#fff"/>
<g clip-path="url(#hc5)"><g class="hm5" filter="url(#hf5)" shape-rendering="crispEdges"><rect x="125.8" y="470.5" fill="#737373"/><rect x="132.6" y="470.5" fill="#737373"/><rect x="139.4" y="470.5" fill="#757575"/><rect x="146.2" y="470.5" fill="#787878"/><rect x="153.0" y="470.5" fill="#7c7c7c"/><rect x="159.8" y="470.5" fill="#7e7e7e"/><rect x="166.5" y="470.5" fill="#7d7d7d"/><rect x="173.3" y="470.5" fill="#787878"/><rect x="180.1" y="470.5" fill="#787878"/><rect x="186.9" y="470.5" fill="#7d7d7d"/><rect x="193.7" y="470.5" fill="#818181"/><rect x="200.5" y="470.5" fill="#838383"/><rect x="207.3" y="470.5" fill="#828282"/><rect x="214.0" y="470.5" fill="#7d7d7d"/><rect x="220.8" y="470.5" fill="#7c7c7c"/><rect x="227.6" y="470.5" fill="#7e7e7e"/><rect x="234.4" y="470.5" fill="#808080"/><rect x="241.2" y="470.5" fill="#808080"/><rect x="125.8" y="477.3" fill="#737373"/><rect x="132.6" y="477.3" fill="#737373"/><rect x="139.4" y="477.3" fill="#757575"/><rect x="146.2" y="477.3" fill="#787878"/><rect x="153.0" y="477.3" fill="#7c7c7c"/><rect x="159.8" y="477.3" fill="#7e7e7e"/><rect x="166.5" y="477.3" fill="#7d7d7d"/><rect x="173.3" y="477.3" fill="#787878"/><rect x="180.1" y="477.3" fill="#787878"/><rect x="186.9" y="477.3" fill="#7d7d7d"/><rect x="193.7" y="477.3" fill="#818181"/><rect x="200.5" y="477.3" fill="#838383"/><rect x="207.3" y="477.3" fill="#828282"/><rect x="214.0" y="477.3" fill="#7d7d7d"/><rect x="220.8" y="477.3" fill="#7c7c7c"/><rect x="227.6" y="477.3" fill="#7e7e7e"/><rect x="234.4" y="477.3" fill="#808080"/><rect x="241.2" y="477.3" fill="#808080"/><rect x="125.8" y="484.1" fill="#767676"/><rect x="132.6" y="484.1" fill="#767676"/><rect x="139.4" y="484.1" fill="#777777"/><rect x="146.2" y="484.1" fill="#787878"/><rect x="153.0" y="484.1" fill="#7b7b7b"/><rect x="159.8" y="484.1" fill="#7e7e7e"/><rect x="166.5" y="484.1" fill="#7e7e7e"/><rect x="173.3" y="484.1" fill="#7b7b7b"/><rect x="180.1" y="484.1" fill="#7a7a7a"/><rect x="186.9" y="484.1" fill="#7c7c7c"/><rect x="193.7" y="484.1" fill="#7f7f7f"/><rect x="200.5" y="484.1" fill="#828282"/><rect x="207.3" y="484.1" fill="#828282"/><rect x="214.0" y="484.1" fill="#808080"/><rect x="220.8" y="484.1" fill="#7f7f7f"/><rect x="227.6" y="484.1" fill="#7e7e7e"/><rect x="234.4" y="484.1" fill="#7e7e7e"/><rect x="241.2" y="484.1" fill="#7e7e7e"/><rect x="125.8" y="490.8" fill="#7c7c7c"/><rect x="132.6" y="490.8" fill="#7c7c7c"/><rect x="139.4" y="490.8" fill="#7b7b7b"/><rect x="146.2" y="490.8" fill="#787878"/><rect x="153.0" y="490.8" fill="#797979"/><rect x="159.8" y="490.8" fill="#7d7d7d"/><rect x="166.5" y="490.8" fill="#808080"/><rect x="173.3" y="490.8" fill="#808080"/><rect x="180.1" y="490.8" fill="#7f7f7f"/><rect x="186.9" y="490.8" fill="#7a7a7a"/><rect x="193.7" y="490.8" fill="#7a7a7a"/><rect x="200.5" y="490.8" fill="#7f7f7f"/><rect x="207.3" y="490.8" fill="#838383"/><rect x="214.0" y="490.8" fill="#868686"/><rect x="220.8" y="490.8" fill="#858585"/><rect x="227.6" y="490.8" fill="#7f7f7f"/><rect x="234.4" y="490.8" fill="#7c7c7c"/><rect x="241.2" y="490.8" fill="#7c7c7c"/><rect x="125.8" y="497.6" fill="#818181"/><rect x="132.6" y="497.6" fill="#818181"/><rect x="139.4" y="497.6" fill="#7e7e7e"/><rect x="146.2" y="497.6" fill="#777777"/><rect x="153.0" y="497.6" fill="#777777"/><rect x="159.8" y="497.6" fill="#7c7c7c"/><rect x="166.5" y="497.6" fill="#808080"/><rect x="173.3" y="497.6" fill="#848484"/><rect x="180.1" y="497.6" fill="#838383"/><rect x="186.9" y="497.6" fill="#7b7b7b"/><rect x="193.7" y="497.6" fill="#797979"/><rect x="200.5" y="497.6" fill="#7d7d7d"/><rect x="207.3" y="497.6" fill="#848484"/><rect x="214.0" y="497.6" fill="#8c8c8c"/><rect x="220.8" y="497.6" fill="#8a8a8a"/><rect x="227.6" y="497.6" fill="#7d7d7d"/><rect x="234.4" y="497.6" fill="#777777"/><rect x="241.2" y="497.6" fill="#777777"/><rect x="125.8" y="504.4" fill="#838383"/><rect x="132.6" y="504.4" fill="#838383"/><rect x="139.4" y="504.4" fill="#7f7f7f"/><rect x="146.2" y="504.4" fill="#767676"/><rect x="153.0" y="504.4" fill="#747474"/><rect x="159.8" y="504.4" fill="#797979"/><rect x="166.5" y="504.4" fill="#7f7f7f"/><rect x="173.3" y="504.4" fill="#878787"/><rect x="180.1" y="504.4" fill="#868686"/><rect x="186.9" y="504.4" fill="#7d7d7d"/><rect x="193.7" y="504.4" fill="#7b7b7b"/><rect x="200.5" y="504.4" fill="#7e7e7e"/><rect x="207.3" y="504.4" fill="#868686"/><rect x="214.0" y="504.4" fill="#939393"/><rect x="220.8" y="504.4" fill="#8f8f8f"/><rect x="227.6" y="504.4" fill="#7a7a7a"/><rect x="234.4" y="504.4" fill="#6f6f6f"/><rect x="241.2" y="504.4" fill="#6f6f6f"/><rect x="125.8" y="511.1" fill="#838383"/><rect x="132.6" y="511.1" fill="#838383"/><rect x="139.4" y="511.1" fill="#7f7f7f"/><rect x="146.2" y="511.1" fill="#757575"/><rect x="153.0" y="511.1" fill="#747474"/><rect x="159.8" y="511.1" fill="#7a7a7a"/><rect x="166.5" y="511.1" fill="#808080"/><rect x="173.3" y="511.1" fill="#858585"/><rect x="180.1" y="511.1" fill="#858585"/><rect x="186.9" y="511.1" fill="#7f7f7f"/><rect x="193.7" y="511.1" fill="#7c7c7c"/><rect x="200.5" y="511.1" fill="#7e7e7e"/><rect x="207.3" y="511.1" fill="#868686"/><rect x="214.0" y="511.1" fill="#969696"/><rect x="220.8" y="511.1" fill="#919191"/><rect x="227.6" y="511.1" fill="#777777"/><rect x="234.4" y="511.1" fill="#6a6a6a"/><rect x="241.2" y="511.1" fill="#6a6a6a"/><rect x="125.8" y="517.9" fill="#818181"/><rect x="132.6" y="517.9" fill="#818181"/><rect x="139.4" y="517.9" fill="#7d7d7d"/><rect x="146.2" y="517.9" fill="#767676"/><rect x="153.0" y="517.9" fill="#767676"/><rect x="159.8" y="517.9" fill="#7e7e7e"/><rect x="166.5" y="517.9" fill="#818181"/><rect x="173.3" y="517.9" fill="#808080"/><rect x="180.1" y="517.9" fill="#7f7f7f"/><rect x="186.9" y="517.9" fill="#7e7e7e"/><rect x="193.7" y="517.9" fill="#7e7e7e"/><rect x="200.5" y="517.9" fill="#7c7c7c"/><rect x="207.3" y="517.9" fill="#848484"/><rect x="214.0" y="517.9" fill="#959595"/><rect x="220.8" y="517.9" fill="#909090"/><rect x="227.6" y="517.9" fill="#757575"/><rect x="234.4" y="517.9" fill="#676767"/><rect x="241.2" y="517.9" fill="#676767"/><rect x="125.8" y="524.7" fill="#818181"/><rect x="132.6" y="524.7" fill="#818181"/><rect x="139.4" y="524.7" fill="#7e7e7e"/><rect x="146.2" y="524.7" fill="#787878"/><rect x="153.0" y="524.7" fill="#787878"/><rect x="159.8" y="524.7" fill="#808080"/><rect x="166.5" y="524.7" fill="#828282"/><rect x="173.3" y="524.7" fill="#7f7f7f"/><rect x="180.1" y="524.7" fill="#7d7d7d"/><rect x="186.9" y="524.7" fill="#7e7e7e"/><rect x="193.7" y="524.7" fill="#7e7e7e"/><rect x="200.5" y="524.7" fill="#7c7c7c"/><rect x="207.3" y="524.7" fill="#848484"/><rect x="214.0" y="524.7" fill="#959595"/><rect x="220.8" y="524.7" fill="#8f8f8f"/><rect x="227.6" y="524.7" fill="#757575"/><rect x="234.4" y="524.7" fill="#676767"/><rect x="241.2" y="524.7" fill="#676767"/><rect x="125.8" y="531.5" fill="#838383"/><rect x="132.6" y="531.5" fill="#838383"/><rect x="139.4" y="531.5" fill="#818181"/><rect x="146.2" y="531.5" fill="#7b7b7b"/><rect x="153.0" y="531.5" fill="#7b7b7b"/><rect x="159.8" y="531.5" fill="#7f7f7f"/><rect x="166.5" y="531.5" fill="#818181"/><rect x="173.3" y="531.5" fill="#828282"/><rect x="180.1" y="531.5" fill="#808080"/><rect x="186.9" y="531.5" fill="#7d7d7d"/><rect x="193.7" y="531.5" fill="#7c7c7c"/><rect x="200.5" y="531.5" fill="#7e7e7e"/><rect x="207.3" y="531.5" fill="#858585"/><rect x="214.0" y="531.5" fill="#939393"/><rect x="220.8" y="531.5" fill="#8e8e8e"/><rect x="227.6" y="531.5" fill="#767676"/><rect x="234.4" y="531.5" fill="#6a6a6a"/><rect x="241.2" y="531.5" fill="#6a6a6a"/><rect x="125.8" y="538.2" fill="#828282"/><rect x="132.6" y="538.2" fill="#828282"/><rect x="139.4" y="538.2" fill="#808080"/><rect x="146.2" y="538.2" fill="#7b7b7b"/><rect x="153.0" y="538.2" fill="#7a7a7a"/><rect x="159.8" y="538.2" fill="#7e7e7e"/><rect x="166.5" y="538.2" fill="#808080"/><rect x="173.3" y="538.2" fill="#828282"/><rect x="180.1" y="538.2" fill="#828282"/><rect x="186.9" y="538.2" fill="#7f7f7f"/><rect x="193.7" y="538.2" fill="#7d7d7d"/><rect x="200.5" y="538.2" fill="#7e7e7e"/><rect x="207.3" y="538.2" fill="#848484"/><rect x="214.0" y="538.2" fill="#8e8e8e"/><rect x="220.8" y="538.2" fill="#8b8b8b"/><rect x="227.6" y="538.2" fill="#797979"/><rect x="234.4" y="538.2" fill="#707070"/><rect x="241.2" y="538.2" fill="#707070"/><rect x="125.8" y="545.0" fill="#7d7d7d"/><rect x="132.6" y="545.0" fill="#7d7d7d"/><rect x="139.4" y="545.0" fill="#7b7b7b"/><rect x="146.2" y="545.0" fill="#777777"/><rect x="153.0" y="545.0" fill="#777777"/><rect x="159.8" y="545.0" fill="#7d7d7d"/><rect x="166.5" y="545.0" fill="#808080"/><rect x="173.3" y="545.0" fill="#808080"/><rect x="180.1" y="545.0" fill="#818181"/><rect x="186.9" y="545.0" fill="#828282"/><rect x="193.7" y="545.0" fill="#808080"/><rect x="200.5" y="545.0" fill="#7d7d7d"/><rect x="207.3" y="545.0" fill="#7f7f7f"/><rect x="214.0" y="545.0" fill="#868686"/><rect x="220.8" y="545.0" fill="#868686"/><rect x="227.6" y="545.0" fill="#7e7e7e"/><rect x="234.4" y="545.0" fill="#7a7a7a"/><rect x="241.2" y="545.0" fill="#7a7a7a"/><rect x="125.8" y="551.8" fill="#7c7c7c"/><rect x="132.6" y="551.8" fill="#7c7c7c"/><rect x="139.4" y="551.8" fill="#7a7a7a"/><rect x="146.2" y="551.8" fill="#757575"/><rect x="153.0" y="551.8" fill="#767676"/><rect x="159.8" y="551.8" fill="#7c7c7c"/><rect x="166.5" y="551.8" fill="#7f7f7f"/><rect x="173.3" y="551.8" fill="#808080"/><rect x="180.1" y="551.8" fill="#818181"/><rect x="186.9" y="551.8" fill="#838383"/><rect x="193.7" y="551.8" fill="#818181"/><rect x="200.5" y="551.8" fill="#7d7d7d"/><rect x="207.3" y="551.8" fill="#7d7d7d"/><rect x="214.0" y="551.8" fill="#818181"/><rect x="220.8" y="551.8" fill="#828282"/><rect x="227.6" y="551.8" fill="#808080"/><rect x="234.4" y="551.8" fill="#7e7e7e"/><rect x="241.2" y="551.8" fill="#7e7e7e"/><rect x="125.8" y="558.5" fill="#7e7e7e"/><rect x="132.6" y="558.5" fill="#7e7e7e"/><rect x="139.4" y="558.5" fill="#7c7c7c"/><rect x="146.2" y="558.5" fill="#777777"/><rect x="153.0" y="558.5" fill="#767676"/><rect x="159.8" y="558.5" fill="#7a7a7a"/><rect x="166.5" y="558.5" fill="#7e7e7e"/><rect x="173.3" y="558.5" fill="#818181"/><rect x="180.1" y="558.5" fill="#838383"/><rect x="186.9" y="558.5" fill="#818181"/><rect x="193.7" y="558.5" fill="#7f7f7f"/><rect x="200.5" y="558.5" fill="#7c7c7c"/><rect x="207.3" y="558.5" fill="#7c7c7c"/><rect x="214.0" y="558.5" fill="#7f7f7f"/><rect x="220.8" y="558.5" fill="#808080"/><rect x="227.6" y="558.5" fill="#7d7d7d"/><rect x="234.4" y="558.5" fill="#7c7c7c"/><rect x="241.2" y="558.5" fill="#7c7c7c"/><rect x="125.8" y="565.3" fill="#7e7e7e"/><rect x="132.6" y="565.3" fill="#7e7e7e"/><rect x="139.4" y="565.3" fill="#7d7d7d"/><rect x="146.2" y="565.3" fill="#797979"/><rect x="153.0" y="565.3" fill="#797979"/><rect x="159.8" y="565.3" fill="#7c7c7c"/><rect x="166.5" y="565.3" fill="#7e7e7e"/><rect x="173.3" y="565.3" fill="#818181"/><rect x="180.1" y="565.3" fill="#818181"/><rect x="186.9" y="565.3" fill="#808080"/><rect x="193.7" y="565.3" fill="#7f7f7f"/><rect x="200.5" y="565.3" fill="#7d7d7d"/><rect x="207.3" y="565.3" fill="#7c7c7c"/><rect x="214.0" y="565.3" fill="#7e7e7e"/><rect x="220.8" y="565.3" fill="#7e7e7e"/><rect x="227.6" y="565.3" fill="#7c7c7c"/><rect x="234.4" y="565.3" fill="#7c7c7c"/><rect x="241.2" y="565.3" fill="#7c7c7c"/><rect x="125.8" y="572.1" fill="#7c7c7c"/><rect x="132.6" y="572.1" fill="#7c7c7c"/><rect x="139.4" y="572.1" fill="#7c7c7c"/><rect x="146.2" y="572.1" fill="#7d7d7d"/><rect x="153.0" y="572.1" fill="#7e7e7e"/><rect x="159.8" y="572.1" fill="#818181"/><rect x="166.5" y="572.1" fill="#818181"/><rect x="173.3" y="572.1" fill="#7e7e7e"/><rect x="180.1" y="572.1" fill="#7e7e7e"/><rect x="186.9" y="572.1" fill="#7f7f7f"/><rect x="193.7" y="572.1" fill="#7f7f7f"/><rect x="200.5" y="572.1" fill="#7f7f7f"/><rect x="207.3" y="572.1" fill="#7e7e7e"/><rect x="214.0" y="572.1" fill="#7c7c7c"/><rect x="220.8" y="572.1" fill="#7c7c7c"/><rect x="227.6" y="572.1" fill="#7e7e7e"/><rect x="234.4" y="572.1" fill="#7e7e7e"/><rect x="241.2" y="572.1" fill="#7e7e7e"/><rect x="125.8" y="578.8" fill="#7a7a7a"/><rect x="132.6" y="578.8" fill="#7a7a7a"/><rect x="139.4" y="578.8" fill="#7c7c7c"/><rect x="146.2" y="578.8" fill="#7e7e7e"/><rect x="153.0" y="578.8" fill="#818181"/><rect x="159.8" y="578.8" fill="#838383"/><rect x="166.5" y="578.8" fill="#828282"/><rect x="173.3" y="578.8" fill="#7d7d7d"/><rect x="180.1" y="578.8" fill="#7c7c7c"/><rect x="186.9" y="578.8" fill="#7e7e7e"/><rect x="193.7" y="578.8" fill="#808080"/><rect x="200.5" y="578.8" fill="#808080"/><rect x="207.3" y="578.8" fill="#7e7e7e"/><rect x="214.0" y="578.8" fill="#7c7c7c"/><rect x="220.8" y="578.8" fill="#7c7c7c"/><rect x="227.6" y="578.8" fill="#7e7e7e"/><rect x="234.4" y="578.8" fill="#808080"/><rect x="241.2" y="578.8" fill="#808080"/><rect x="125.8" y="585.6" fill="#7a7a7a"/><rect x="132.6" y="585.6" fill="#7a7a7a"/><rect x="139.4" y="585.6" fill="#7c7c7c"/><rect x="146.2" y="585.6" fill="#7e7e7e"/><rect x="153.0" y="585.6" fill="#818181"/><rect x="159.8" y="585.6" fill="#838383"/><rect x="166.5" y="585.6" fill="#828282"/><rect x="173.3" y="585.6" fill="#7d7d7d"/><rect x="180.1" y="585.6" fill="#7c7c7c"/><rect x="186.9" y="585.6" fill="#7e7e7e"/><rect x="193.7" y="585.6" fill="#808080"/><rect x="200.5" y="585.6" fill="#808080"/><rect x="207.3" y="585.6" fill="#7e7e7e"/><rect x="214.0" y="585.6" fill="#7c7c7c"/><rect x="220.8" y="585.6" fill="#7c7c7c"/><rect x="227.6" y="585.6" fill="#7e7e7e"/><rect x="234.4" y="585.6" fill="#808080"/><rect x="241.2" y="585.6" fill="#808080"/><path d="M207,488 C211,500 214,512 219,522 C224,533 226,545 231,553 C234,560 237,566 240,572" stroke="#b0b0b0" stroke-width="8" fill="none"/><path d="M208,492 C212,502 215,513 220,523 C225,534 227,545 232,554 C235,560 237,566 240,572" stroke="#e8e8e8" stroke-width="4" fill="none"/><path d="M183,490 l3,9 M201,489 l2,5 M176,519 l3,6 M160,480 l2,8" stroke="#c8c8c8" stroke-width="2.5" fill="none"/><path d="M226,512 C231,522 235,532 241,540 M233,555 l8,10" stroke="#303030" stroke-width="4" fill="none"/></g></g>
<rect x="213" y="576.8" width="22.2" height="2.4" fill="#fff"/>
<g clip-path="url(#hc6)"><g class="hm6" filter="url(#hf6)" shape-rendering="crispEdges"><rect x="227.7" y="463.8" fill="#999999"/><rect x="241.2" y="463.8" fill="#999999"/><rect x="254.7" y="463.8" fill="#999999"/><rect x="268.2" y="463.8" fill="#999999"/><rect x="281.7" y="463.8" fill="#999999"/><rect x="295.2" y="463.8" fill="#999999"/><rect x="308.7" y="463.8" fill="#999999"/><rect x="322.2" y="463.8" fill="#999999"/><rect x="335.7" y="463.8" fill="#999999"/><rect x="349.2" y="463.8" fill="#999999"/><rect x="227.7" y="477.3" fill="#999999"/><rect x="241.2" y="477.3" fill="#999999"/><rect x="254.7" y="477.3" fill="#999999"/><rect x="268.2" y="477.3" fill="#999999"/><rect x="281.7" y="477.3" fill="#999999"/><rect x="295.2" y="477.3" fill="#999999"/><rect x="308.7" y="477.3" fill="#999999"/><rect x="322.2" y="477.3" fill="#999999"/><rect x="335.7" y="477.3" fill="#999999"/><rect x="349.2" y="477.3" fill="#999999"/><rect x="227.7" y="490.8" fill="#999999"/><rect x="241.2" y="490.8" fill="#999999"/><rect x="254.7" y="490.8" fill="#999999"/><rect x="268.2" y="490.8" fill="#999999"/><rect x="281.7" y="490.8" fill="#999999"/><rect x="295.2" y="490.8" fill="#999999"/><rect x="308.7" y="490.8" fill="#999999"/><rect x="322.2" y="490.8" fill="#999999"/><rect x="335.7" y="490.8" fill="#999999"/><rect x="349.2" y="490.8" fill="#999999"/><rect x="227.7" y="504.4" fill="#999999"/><rect x="241.2" y="504.4" fill="#999999"/><rect x="254.7" y="504.4" fill="#999999"/><rect x="268.2" y="504.4" fill="#999999"/><rect x="281.7" y="504.4" fill="#999999"/><rect x="295.2" y="504.4" fill="#999999"/><rect x="308.7" y="504.4" fill="#999999"/><rect x="322.2" y="504.4" fill="#999999"/><rect x="335.7" y="504.4" fill="#999999"/><rect x="349.2" y="504.4" fill="#999999"/><rect x="227.7" y="517.9" fill="#999999"/><rect x="241.2" y="517.9" fill="#999999"/><rect x="254.7" y="517.9" fill="#999999"/><rect x="268.2" y="517.9" fill="#999999"/><rect x="281.7" y="517.9" fill="#999999"/><rect x="295.2" y="517.9" fill="#999999"/><rect x="308.7" y="517.9" fill="#999999"/><rect x="322.2" y="517.9" fill="#999999"/><rect x="335.7" y="517.9" fill="#999999"/><rect x="349.2" y="517.9" fill="#999999"/><rect x="227.7" y="531.5" fill="#999999"/><rect x="241.2" y="531.5" fill="#999999"/><rect x="254.7" y="531.5" fill="#999999"/><rect x="268.2" y="531.5" fill="#999999"/><rect x="281.7" y="531.5" fill="#999999"/><rect x="295.2" y="531.5" fill="#999999"/><rect x="308.7" y="531.5" fill="#999999"/><rect x="322.2" y="531.5" fill="#999999"/><rect x="335.7" y="531.5" fill="#999999"/><rect x="349.2" y="531.5" fill="#999999"/><rect x="227.7" y="545.0" fill="#999999"/><rect x="241.2" y="545.0" fill="#999999"/><rect x="254.7" y="545.0" fill="#999999"/><rect x="268.2" y="545.0" fill="#999999"/><rect x="281.7" y="545.0" fill="#999999"/><rect x="295.2" y="545.0" fill="#999999"/><rect x="308.7" y="545.0" fill="#999999"/><rect x="322.2" y="545.0" fill="#999999"/><rect x="335.7" y="545.0" fill="#999999"/><rect x="349.2" y="545.0" fill="#999999"/><rect x="227.7" y="558.5" fill="#999999"/><rect x="241.2" y="558.5" fill="#999999"/><rect x="254.7" y="558.5" fill="#999999"/><rect x="268.2" y="558.5" fill="#999999"/><rect x="281.7" y="558.5" fill="#999999"/><rect x="295.2" y="558.5" fill="#999999"/><rect x="308.7" y="558.5" fill="#999999"/><rect x="322.2" y="558.5" fill="#999999"/><rect x="335.7" y="558.5" fill="#999999"/><rect x="349.2" y="558.5" fill="#999999"/><rect x="227.7" y="572.1" fill="#999999"/><rect x="241.2" y="572.1" fill="#999999"/><rect x="254.7" y="572.1" fill="#999999"/><rect x="268.2" y="572.1" fill="#999999"/><rect x="281.7" y="572.1" fill="#999999"/><rect x="295.2" y="572.1" fill="#999999"/><rect x="308.7" y="572.1" fill="#999999"/><rect x="322.2" y="572.1" fill="#999999"/><rect x="335.7" y="572.1" fill="#999999"/><rect x="349.2" y="572.1" fill="#999999"/><rect x="227.7" y="585.6" fill="#999999"/><rect x="241.2" y="585.6" fill="#999999"/><rect x="254.7" y="585.6" fill="#999999"/><rect x="268.2" y="585.6" fill="#999999"/><rect x="281.7" y="585.6" fill="#999999"/><rect x="295.2" y="585.6" fill="#999999"/><rect x="308.7" y="585.6" fill="#999999"/><rect x="322.2" y="585.6" fill="#999999"/><rect x="335.7" y="585.6" fill="#999999"/><rect x="349.2" y="585.6" fill="#999999"/></g></g>
<rect x="321.4" y="576.8" width="22.6" height="2.4" fill="#fff"/>
<text x="330.5" y="573.2" font-size="10" font-weight="bold" fill="#fff" text-anchor="middle">200 nm</text>
<rect x="36.8" y="593.4" width="52.5" height="7" fill="url(#afmcb)"/>
<text x="30.2" y="601" font-size="10.5" text-anchor="middle" fill="#111">0</text>
<text x="96" y="600.8" font-size="10" fill="#111">24 nm</text>
<rect x="142.3" y="593.3" width="58.6" height="6.6" fill="url(#d2cb)"/>
<text x="137.2" y="601" font-size="10.5" text-anchor="middle" fill="#111">0</text>
<text x="205" y="600.8" font-size="10" fill="#111">4.6 GPa</text>
<rect x="265.3" y="593.3" width="58.9" height="6.6" fill="url(#d3cb)"/>
<text x="256.8" y="601" font-size="10.5" text-anchor="middle" fill="#111">0</text>
<text x="328.5" y="600.8" font-size="10" fill="#111">28 nN</text>
<g clip-path="url(#temc)"><rect x="391.9" y="477.3" width="124.9" height="124.5" fill="#aeaeae"/><path d="M391.9,477.3 L404.4,477.3 L409.4,496.0 L411.9,520.9 L409.4,552.0 L401.9,576.9 L391.9,591.8 Z" fill="#cbcbcb"/><path d="M426.9,477.3 L410.6,477.3 L415.6,492.2 L418.1,508.4 Z" fill="#c2c2c2"/><path d="M516.8,489.8 L504.3,497.2 L485.6,507.2 L473.1,519.6 L469.3,539.5 L479.3,552.0 L498.1,564.5 L516.8,566.9 Z" fill="#c6c6c6"/><path d="M391.9,595.6 L406.9,574.4 L416.9,564.5 L423.1,583.1 L429.4,601.8 L391.9,601.8 Z" fill="#a4a4a4"/><path d="M460.6,601.8 L479.3,583.1 L498.1,576.9 L516.8,583.1 L516.8,601.8 Z" fill="#b8b8b8"/><g fill="#2a2a2a" filter="url(#temblur)"><circle cx="415.5" cy="499.6" r="3.7" fill-opacity="0.26"/><circle cx="420.7" cy="560.8" r="3.5" fill-opacity="0.34"/><circle cx="405.2" cy="509.4" r="3.8" fill-opacity="0.26"/><circle cx="448.6" cy="535.6" r="4.3" fill-opacity="0.42"/><circle cx="424.2" cy="500.7" r="4.1" fill-opacity="0.26"/><circle cx="500.8" cy="528.1" r="3.6" fill-opacity="0.26"/><circle cx="490.9" cy="559.7" r="4.2" fill-opacity="0.26"/><circle cx="417.0" cy="494.0" r="4.2" fill-opacity="0.26"/><circle cx="444.2" cy="517.6" r="3.6" fill-opacity="0.42"/><circle cx="482.9" cy="552.0" r="4.1" fill-opacity="0.34"/><circle cx="458.9" cy="546.8" r="4.3" fill-opacity="0.42"/><circle cx="427.2" cy="505.0" r="4.3" fill-opacity="0.26"/><circle cx="491.9" cy="569.8" r="4.3" fill-opacity="0.26"/><circle cx="454.4" cy="533.2" r="4.1" fill-opacity="0.42"/><circle cx="468.9" cy="531.6" r="3.7" fill-opacity="0.42"/><circle cx="404.7" cy="527.7" r="4.2" fill-opacity="0.26"/><circle cx="418.2" cy="500.8" r="3.5" fill-opacity="0.26"/><circle cx="477.8" cy="515.9" r="4.1" fill-opacity="0.34"/><circle cx="478.8" cy="574.7" r="4.0" fill-opacity="0.34"/><circle cx="449.1" cy="501.3" r="4.3" fill-opacity="0.34"/><circle cx="410.1" cy="542.2" r="3.5" fill-opacity="0.34"/><circle cx="502.9" cy="534.7" r="4.2" fill-opacity="0.26"/><circle cx="499.3" cy="544.0" r="4.2" fill-opacity="0.26"/><circle cx="428.5" cy="496.0" r="3.6" fill-opacity="0.26"/><circle cx="489.0" cy="562.1" r="3.9" fill-opacity="0.34"/><circle cx="452.5" cy="563.8" r="3.6" fill-opacity="0.42"/><circle cx="478.8" cy="527.7" r="3.4" fill-opacity="0.34"/><circle cx="495.4" cy="537.7" r="4.3" fill-opacity="0.26"/><circle cx="454.9" cy="487.1" r="3.5" fill-opacity="0.26"/><circle cx="490.5" cy="505.0" r="3.6" fill-opacity="0.26"/><circle cx="443.0" cy="509.9" r="3.7" fill-opacity="0.34"/><circle cx="491.0" cy="535.7" r="4.4" fill-opacity="0.34"/><circle cx="404.2" cy="514.0" r="4.3" fill-opacity="0.26"/><circle cx="446.3" cy="573.1" r="3.8" fill-opacity="0.34"/><circle cx="442.6" cy="587.6" r="3.7" fill-opacity="0.26"/><circle cx="460.2" cy="547.6" r="3.4" fill-opacity="0.42"/><circle cx="464.2" cy="519.9" r="3.8" fill-opacity="0.42"/><circle cx="473.5" cy="563.4" r="3.6" fill-opacity="0.34"/><circle cx="428.8" cy="499.7" r="4.0" fill-opacity="0.26"/><circle cx="438.0" cy="493.5" r="3.7" fill-opacity="0.26"/><circle cx="468.1" cy="536.9" r="3.9" fill-opacity="0.42"/><circle cx="463.8" cy="599.4" r="3.8" fill-opacity="0.26"/><circle cx="467.2" cy="509.3" r="4.2" fill-opacity="0.34"/><circle cx="492.6" cy="559.7" r="4.4" fill-opacity="0.26"/><circle cx="415.5" cy="572.6" r="3.7" fill-opacity="0.26"/><circle cx="416.8" cy="509.6" r="4.3" fill-opacity="0.26"/><circle cx="451.7" cy="531.5" r="4.3" fill-opacity="0.42"/><circle cx="477.6" cy="589.7" r="4.2" fill-opacity="0.26"/><circle cx="435.6" cy="512.6" r="3.7" fill-opacity="0.34"/><circle cx="435.2" cy="575.3" r="3.9" fill-opacity="0.34"/><circle cx="453.7" cy="575.0" r="3.6" fill-opacity="0.34"/><circle cx="500.1" cy="569.5" r="3.5" fill-opacity="0.26"/><circle cx="444.9" cy="591.4" r="3.7" fill-opacity="0.26"/><circle cx="459.7" cy="490.0" r="3.5" fill-opacity="0.26"/><circle cx="461.6" cy="562.0" r="3.5" fill-opacity="0.42"/><circle cx="477.0" cy="537.1" r="4.2" fill-opacity="0.42"/><circle cx="494.9" cy="512.9" r="3.6" fill-opacity="0.26"/><circle cx="443.4" cy="593.7" r="4.1" fill-opacity="0.26"/><circle cx="485.2" cy="577.4" r="4.2" fill-opacity="0.26"/><circle cx="490.7" cy="580.3" r="4.2" fill-opacity="0.26"/><circle cx="482.0" cy="565.5" r="3.9" fill-opacity="0.34"/><circle cx="429.7" cy="544.4" r="3.6" fill-opacity="0.42"/><circle cx="441.1" cy="554.9" r="4.1" fill-opacity="0.42"/><circle cx="459.8" cy="588.0" r="4.3" fill-opacity="0.26"/><circle cx="464.3" cy="541.6" r="3.4" fill-opacity="0.42"/><circle cx="432.4" cy="531.0" r="4.0" fill-opacity="0.42"/><circle cx="450.6" cy="560.2" r="3.8" fill-opacity="0.42"/><circle cx="467.3" cy="528.1" r="4.4" fill-opacity="0.42"/><circle cx="429.6" cy="589.1" r="3.7" fill-opacity="0.26"/><circle cx="462.3" cy="515.2" r="3.8" fill-opacity="0.34"/><circle cx="407.8" cy="512.1" r="3.9" fill-opacity="0.26"/><circle cx="457.1" cy="535.9" r="4.3" fill-opacity="0.42"/><circle cx="418.6" cy="574.8" r="4.3" fill-opacity="0.26"/><circle cx="494.3" cy="568.1" r="3.9" fill-opacity="0.26"/><circle cx="482.7" cy="558.0" r="3.8" fill-opacity="0.34"/><circle cx="430.4" cy="538.8" r="4.4" fill-opacity="0.42"/><circle cx="440.7" cy="597.3" r="3.7" fill-opacity="0.26"/><circle cx="418.5" cy="550.6" r="3.7" fill-opacity="0.34"/><circle cx="437.1" cy="583.8" r="3.7" fill-opacity="0.26"/><circle cx="425.6" cy="550.9" r="3.6" fill-opacity="0.34"/><circle cx="407.0" cy="538.6" r="4.0" fill-opacity="0.26"/><circle cx="456.8" cy="562.8" r="3.7" fill-opacity="0.42"/><circle cx="503.4" cy="520.2" r="3.4" fill-opacity="0.26"/><circle cx="418.2" cy="495.3" r="4.0" fill-opacity="0.26"/><circle cx="411.8" cy="534.0" r="3.7" fill-opacity="0.34"/><circle cx="491.2" cy="513.4" r="3.6" fill-opacity="0.26"/><circle cx="427.9" cy="501.0" r="4.1" fill-opacity="0.26"/><circle cx="457.2" cy="563.9" r="3.5" fill-opacity="0.42"/><circle cx="492.0" cy="544.9" r="4.4" fill-opacity="0.34"/><circle cx="467.1" cy="508.9" r="4.1" fill-opacity="0.34"/><circle cx="409.0" cy="547.9" r="4.2" fill-opacity="0.26"/><circle cx="463.0" cy="514.9" r="4.1" fill-opacity="0.34"/><circle cx="405.6" cy="526.4" r="3.8" fill-opacity="0.26"/><circle cx="440.9" cy="595.4" r="3.6" fill-opacity="0.26"/><circle cx="452.1" cy="510.8" r="3.9" fill-opacity="0.34"/><circle cx="478.4" cy="517.4" r="3.5" fill-opacity="0.34"/><circle cx="485.3" cy="530.7" r="4.2" fill-opacity="0.34"/><circle cx="433.7" cy="574.5" r="3.5" fill-opacity="0.34"/><circle cx="436.1" cy="517.4" r="3.8" fill-opacity="0.34"/><circle cx="419.0" cy="513.8" r="4.4" fill-opacity="0.26"/><circle cx="402.1" cy="539.0" r="4.3" fill-opacity="0.26"/><circle cx="449.7" cy="532.8" r="3.9" fill-opacity="0.42"/><circle cx="479.5" cy="551.8" r="3.6" fill-opacity="0.34"/><circle cx="452.0" cy="600.1" r="3.6" fill-opacity="0.26"/><circle cx="459.5" cy="497.4" r="3.9" fill-opacity="0.26"/><circle cx="489.9" cy="559.5" r="4.2" fill-opacity="0.34"/><circle cx="459.0" cy="590.5" r="4.2" fill-opacity="0.26"/><circle cx="472.1" cy="551.2" r="4.2" fill-opacity="0.42"/><circle cx="413.3" cy="523.3" r="4.0" fill-opacity="0.26"/><circle cx="457.2" cy="498.0" r="3.7" fill-opacity="0.26"/><circle cx="414.6" cy="558.0" r="3.6" fill-opacity="0.34"/><circle cx="436.9" cy="581.5" r="4.3" fill-opacity="0.34"/><circle cx="459.1" cy="584.9" r="4.1" fill-opacity="0.26"/><circle cx="423.8" cy="510.9" r="4.2" fill-opacity="0.34"/><circle cx="433.1" cy="523.1" r="3.8" fill-opacity="0.42"/><circle cx="411.6" cy="542.7" r="4.1" fill-opacity="0.34"/><circle cx="444.1" cy="589.5" r="3.5" fill-opacity="0.26"/><circle cx="444.7" cy="521.1" r="3.5" fill-opacity="0.42"/><circle cx="452.5" cy="511.5" r="4.4" fill-opacity="0.34"/><circle cx="481.2" cy="520.3" r="4.2" fill-opacity="0.34"/><circle cx="502.8" cy="509.0" r="4.0" fill-opacity="0.26"/><circle cx="421.5" cy="583.0" r="4.2" fill-opacity="0.26"/><circle cx="468.4" cy="569.8" r="4.1" fill-opacity="0.34"/><circle cx="468.9" cy="571.7" r="3.9" fill-opacity="0.34"/><circle cx="414.3" cy="527.7" r="3.6" fill-opacity="0.34"/><circle cx="501.6" cy="561.9" r="4.0" fill-opacity="0.26"/><circle cx="438.4" cy="568.8" r="3.8" fill-opacity="0.34"/><circle cx="491.4" cy="570.7" r="3.7" fill-opacity="0.26"/><circle cx="441.5" cy="516.7" r="3.8" fill-opacity="0.42"/><circle cx="440.0" cy="542.7" r="3.5" fill-opacity="0.42"/><circle cx="403.7" cy="510.5" r="3.5" fill-opacity="0.26"/><circle cx="503.2" cy="514.8" r="4.4" fill-opacity="0.26"/><circle cx="410.4" cy="549.1" r="4.1" fill-opacity="0.34"/><circle cx="454.1" cy="577.4" r="3.8" fill-opacity="0.34"/><circle cx="489.4" cy="576.7" r="4.2" fill-opacity="0.26"/><circle cx="402.2" cy="536.4" r="4.2" fill-opacity="0.26"/><circle cx="483.2" cy="507.6" r="3.7" fill-opacity="0.26"/><circle cx="459.4" cy="524.8" r="3.5" fill-opacity="0.42"/><circle cx="426.3" cy="569.7" r="3.9" fill-opacity="0.34"/><circle cx="455.6" cy="492.2" r="3.4" fill-opacity="0.26"/><circle cx="453.4" cy="558.6" r="4.1" fill-opacity="0.42"/><circle cx="447.9" cy="489.8" r="3.4" fill-opacity="0.26"/><circle cx="485.0" cy="579.4" r="3.5" fill-opacity="0.26"/><circle cx="501.8" cy="540.0" r="3.9" fill-opacity="0.26"/><circle cx="458.1" cy="583.0" r="3.8" fill-opacity="0.34"/><circle cx="427.3" cy="577.3" r="4.2" fill-opacity="0.26"/><circle cx="468.7" cy="511.4" r="4.4" fill-opacity="0.34"/><circle cx="473.3" cy="549.6" r="3.4" fill-opacity="0.42"/><circle cx="476.3" cy="556.8" r="4.3" fill-opacity="0.34"/><circle cx="428.1" cy="549.0" r="4.1" fill-opacity="0.42"/><circle cx="467.0" cy="584.3" r="3.8" fill-opacity="0.26"/><circle cx="441.1" cy="522.8" r="4.1" fill-opacity="0.42"/><circle cx="473.1" cy="591.0" r="3.6" fill-opacity="0.26"/><circle cx="507.0" cy="536.3" r="3.7" fill-opacity="0.26"/><circle cx="440.3" cy="504.0" r="3.7" fill-opacity="0.34"/><circle cx="487.6" cy="522.1" r="4.3" fill-opacity="0.34"/><circle cx="475.2" cy="527.5" r="3.8" fill-opacity="0.34"/><circle cx="464.7" cy="552.5" r="3.7" fill-opacity="0.42"/><circle cx="432.3" cy="573.9" r="4.3" fill-opacity="0.34"/><circle cx="435.0" cy="522.0" r="4.4" fill-opacity="0.42"/><circle cx="490.5" cy="574.8" r="3.6" fill-opacity="0.26"/><circle cx="450.5" cy="507.6" r="4.1" fill-opacity="0.34"/><circle cx="490.8" cy="528.8" r="4.2" fill-opacity="0.34"/><circle cx="478.6" cy="512.0" r="4.1" fill-opacity="0.34"/><circle cx="406.1" cy="539.7" r="3.9" fill-opacity="0.26"/><circle cx="485.0" cy="571.8" r="4.0" fill-opacity="0.26"/><circle cx="469.3" cy="585.5" r="3.5" fill-opacity="0.26"/><circle cx="491.6" cy="539.9" r="4.1" fill-opacity="0.34"/><circle cx="417.9" cy="526.3" r="3.9" fill-opacity="0.34"/><circle cx="421.9" cy="510.5" r="3.6" fill-opacity="0.26"/><circle cx="417.8" cy="548.6" r="4.0" fill-opacity="0.34"/><circle cx="423.6" cy="564.3" r="3.5" fill-opacity="0.34"/><circle cx="450.0" cy="523.7" r="4.1" fill-opacity="0.42"/><circle cx="426.3" cy="490.4" r="3.7" fill-opacity="0.26"/><circle cx="434.7" cy="588.2" r="3.9" fill-opacity="0.26"/><circle cx="414.3" cy="507.3" r="3.8" fill-opacity="0.26"/><circle cx="400.0" cy="536.2" r="3.9" fill-opacity="0.26"/><circle cx="502.4" cy="539.6" r="4.0" fill-opacity="0.26"/><circle cx="497.0" cy="544.6" r="4.4" fill-opacity="0.26"/><circle cx="502.7" cy="526.0" r="4.1" fill-opacity="0.26"/><circle cx="412.0" cy="506.8" r="4.3" fill-opacity="0.26"/><circle cx="427.9" cy="593.2" r="3.6" fill-opacity="0.26"/><circle cx="451.9" cy="500.5" r="4.1" fill-opacity="0.34"/><circle cx="475.8" cy="515.7" r="3.6" fill-opacity="0.34"/><circle cx="467.2" cy="565.5" r="3.4" fill-opacity="0.34"/><circle cx="435.2" cy="570.4" r="4.3" fill-opacity="0.34"/><circle cx="502.4" cy="513.2" r="4.2" fill-opacity="0.26"/><circle cx="482.5" cy="528.5" r="4.2" fill-opacity="0.34"/><circle cx="445.7" cy="498.2" r="4.0" fill-opacity="0.26"/><circle cx="403.8" cy="514.7" r="3.8" fill-opacity="0.26"/><circle cx="406.2" cy="527.7" r="3.9" fill-opacity="0.26"/><circle cx="454.5" cy="514.6" r="4.2" fill-opacity="0.34"/><circle cx="455.6" cy="591.4" r="4.0" fill-opacity="0.26"/><circle cx="415.7" cy="550.3" r="3.9" fill-opacity="0.34"/><circle cx="492.1" cy="574.1" r="3.7" fill-opacity="0.26"/><circle cx="428.4" cy="528.9" r="4.0" fill-opacity="0.42"/><circle cx="467.6" cy="588.4" r="3.7" fill-opacity="0.26"/><circle cx="431.9" cy="556.2" r="3.6" fill-opacity="0.42"/><circle cx="494.6" cy="519.3" r="4.1" fill-opacity="0.26"/><circle cx="483.3" cy="505.9" r="3.7" fill-opacity="0.26"/><circle cx="443.6" cy="548.6" r="3.5" fill-opacity="0.42"/><circle cx="424.6" cy="519.0" r="4.1" fill-opacity="0.34"/><circle cx="428.8" cy="569.1" r="3.9" fill-opacity="0.34"/><circle cx="485.5" cy="571.0" r="3.6" fill-opacity="0.26"/><circle cx="490.1" cy="527.4" r="4.2" fill-opacity="0.34"/><circle cx="457.9" cy="577.6" r="3.9" fill-opacity="0.34"/><circle cx="403.7" cy="537.4" r="3.5" fill-opacity="0.26"/><circle cx="489.3" cy="581.9" r="3.5" fill-opacity="0.26"/><circle cx="487.2" cy="534.3" r="4.1" fill-opacity="0.34"/><circle cx="473.2" cy="512.6" r="4.2" fill-opacity="0.34"/><circle cx="445.8" cy="594.3" r="3.6" fill-opacity="0.26"/><circle cx="500.3" cy="508.9" r="4.3" fill-opacity="0.26"/><circle cx="484.9" cy="589.2" r="4.1" fill-opacity="0.26"/><circle cx="476.2" cy="573.4" r="4.3" fill-opacity="0.34"/><circle cx="429.0" cy="519.8" r="3.5" fill-opacity="0.34"/><circle cx="498.0" cy="507.2" r="4.1" fill-opacity="0.26"/><circle cx="473.7" cy="569.4" r="3.9" fill-opacity="0.34"/><circle cx="492.8" cy="533.3" r="4.1" fill-opacity="0.34"/><circle cx="398.8" cy="525.1" r="3.8" fill-opacity="0.26"/><circle cx="490.3" cy="533.4" r="3.7" fill-opacity="0.34"/><circle cx="435.3" cy="596.1" r="3.4" fill-opacity="0.26"/><circle cx="400.4" cy="513.6" r="3.8" fill-opacity="0.26"/><circle cx="485.9" cy="509.0" r="3.8" fill-opacity="0.26"/><circle cx="494.3" cy="505.7" r="3.6" fill-opacity="0.26"/><circle cx="496.0" cy="568.0" r="4.4" fill-opacity="0.26"/><circle cx="495.4" cy="561.8" r="3.5" fill-opacity="0.26"/><circle cx="489.6" cy="519.5" r="3.5" fill-opacity="0.26"/><circle cx="482.0" cy="515.5" r="3.5" fill-opacity="0.34"/><circle cx="484.2" cy="541.4" r="4.3" fill-opacity="0.34"/><circle cx="435.3" cy="587.0" r="4.0" fill-opacity="0.26"/><circle cx="432.1" cy="561.4" r="3.8" fill-opacity="0.34"/><circle cx="438.8" cy="505.1" r="4.0" fill-opacity="0.34"/><circle cx="445.1" cy="523.9" r="3.4" fill-opacity="0.42"/><circle cx="505.5" cy="510.8" r="4.4" fill-opacity="0.26"/><circle cx="488.8" cy="528.1" r="3.4" fill-opacity="0.34"/><circle cx="446.8" cy="488.3" r="3.7" fill-opacity="0.26"/><circle cx="439.1" cy="497.3" r="4.2" fill-opacity="0.26"/><circle cx="492.7" cy="540.0" r="4.1" fill-opacity="0.34"/><circle cx="458.8" cy="584.0" r="3.5" fill-opacity="0.26"/><circle cx="488.9" cy="513.6" r="3.6" fill-opacity="0.26"/><circle cx="410.2" cy="536.0" r="4.0" fill-opacity="0.34"/><circle cx="428.8" cy="543.2" r="3.5" fill-opacity="0.42"/><circle cx="469.7" cy="534.8" r="3.5" fill-opacity="0.42"/><circle cx="458.7" cy="554.2" r="3.8" fill-opacity="0.42"/><circle cx="456.4" cy="546.3" r="3.9" fill-opacity="0.42"/><circle cx="437.7" cy="560.9" r="4.2" fill-opacity="0.42"/><circle cx="456.5" cy="539.5" r="4.1" fill-opacity="0.42"/><circle cx="431.6" cy="592.5" r="3.9" fill-opacity="0.26"/><circle cx="433.2" cy="591.4" r="3.7" fill-opacity="0.26"/><circle cx="467.2" cy="519.9" r="4.3" fill-opacity="0.42"/><circle cx="461.7" cy="559.5" r="4.1" fill-opacity="0.42"/><circle cx="490.1" cy="545.3" r="4.1" fill-opacity="0.34"/><circle cx="470.4" cy="590.2" r="3.8" fill-opacity="0.26"/><circle cx="443.5" cy="547.8" r="3.5" fill-opacity="0.42"/><circle cx="484.3" cy="554.0" r="3.7" fill-opacity="0.34"/><circle cx="470.4" cy="585.7" r="4.2" fill-opacity="0.26"/><circle cx="497.4" cy="538.8" r="4.4" fill-opacity="0.26"/><circle cx="413.9" cy="553.0" r="4.3" fill-opacity="0.34"/><circle cx="411.3" cy="544.2" r="3.4" fill-opacity="0.34"/><circle cx="441.5" cy="572.1" r="4.2" fill-opacity="0.34"/><circle cx="488.6" cy="545.5" r="3.4" fill-opacity="0.34"/><circle cx="477.8" cy="571.8" r="3.8" fill-opacity="0.34"/><circle cx="458.0" cy="554.5" r="4.1" fill-opacity="0.42"/><circle cx="495.1" cy="561.2" r="3.6" fill-opacity="0.26"/><circle cx="434.5" cy="527.2" r="3.7" fill-opacity="0.42"/><circle cx="416.8" cy="551.1" r="3.7" fill-opacity="0.34"/><circle cx="432.8" cy="543.8" r="4.2" fill-opacity="0.42"/><circle cx="497.5" cy="542.3" r="4.3" fill-opacity="0.26"/><circle cx="439.0" cy="498.1" r="4.0" fill-opacity="0.26"/><circle cx="461.1" cy="494.4" r="4.1" fill-opacity="0.26"/><circle cx="483.8" cy="555.5" r="4.3" fill-opacity="0.34"/><circle cx="481.4" cy="539.4" r="3.8" fill-opacity="0.34"/><circle cx="427.6" cy="574.5" r="3.5" fill-opacity="0.34"/><circle cx="450.1" cy="519.4" r="3.9" fill-opacity="0.42"/><circle cx="446.8" cy="512.0" r="3.6" fill-opacity="0.34"/><circle cx="433.4" cy="493.3" r="3.6" fill-opacity="0.26"/><circle cx="460.0" cy="511.3" r="3.6" fill-opacity="0.34"/><circle cx="492.7" cy="532.7" r="4.1" fill-opacity="0.34"/><circle cx="461.7" cy="521.5" r="4.3" fill-opacity="0.42"/><circle cx="397.3" cy="533.1" r="3.4" fill-opacity="0.26"/><circle cx="488.6" cy="550.5" r="4.1" fill-opacity="0.34"/><circle cx="483.5" cy="520.3" r="4.0" fill-opacity="0.34"/><circle cx="446.1" cy="567.8" r="4.2" fill-opacity="0.42"/><circle cx="427.2" cy="526.1" r="3.9" fill-opacity="0.34"/><circle cx="414.8" cy="507.7" r="3.9" fill-opacity="0.26"/><circle cx="478.9" cy="516.6" r="4.0" fill-opacity="0.34"/><circle cx="420.9" cy="490.9" r="3.8" fill-opacity="0.26"/><circle cx="438.9" cy="565.6" r="3.5" fill-opacity="0.42"/><circle cx="461.6" cy="547.5" r="4.4" fill-opacity="0.42"/><circle cx="429.0" cy="572.5" r="4.2" fill-opacity="0.34"/><circle cx="485.0" cy="512.4" r="4.2" fill-opacity="0.26"/><circle cx="488.9" cy="567.2" r="3.9" fill-opacity="0.26"/><circle cx="472.8" cy="543.2" r="4.3" fill-opacity="0.42"/><circle cx="410.0" cy="528.6" r="4.4" fill-opacity="0.26"/><circle cx="415.2" cy="563.0" r="3.4" fill-opacity="0.34"/><circle cx="418.3" cy="526.7" r="3.9" fill-opacity="0.34"/><circle cx="475.2" cy="550.0" r="3.6" fill-opacity="0.42"/><circle cx="435.8" cy="555.1" r="3.7" fill-opacity="0.42"/><circle cx="439.6" cy="521.6" r="4.2" fill-opacity="0.42"/><circle cx="488.8" cy="536.2" r="3.6" fill-opacity="0.34"/><circle cx="458.6" cy="580.8" r="4.0" fill-opacity="0.34"/><circle cx="449.1" cy="592.4" r="3.5" fill-opacity="0.26"/><circle cx="502.4" cy="513.7" r="4.1" fill-opacity="0.26"/><circle cx="475.6" cy="551.1" r="3.8" fill-opacity="0.42"/><circle cx="478.8" cy="554.7" r="4.1" fill-opacity="0.34"/><circle cx="435.4" cy="545.5" r="4.2" fill-opacity="0.42"/><circle cx="431.9" cy="589.2" r="3.6" fill-opacity="0.26"/><circle cx="501.5" cy="565.0" r="3.6" fill-opacity="0.26"/><circle cx="424.3" cy="515.9" r="3.7" fill-opacity="0.34"/><circle cx="450.0" cy="507.9" r="4.1" fill-opacity="0.34"/><circle cx="491.0" cy="558.4" r="3.9" fill-opacity="0.34"/><circle cx="409.7" cy="532.7" r="3.5" fill-opacity="0.26"/><circle cx="461.1" cy="555.0" r="4.0" fill-opacity="0.42"/><circle cx="444.2" cy="552.2" r="3.5" fill-opacity="0.42"/><circle cx="470.4" cy="556.6" r="3.6" fill-opacity="0.42"/><circle cx="462.7" cy="599.7" r="4.3" fill-opacity="0.26"/><circle cx="426.4" cy="565.9" r="4.0" fill-opacity="0.34"/><circle cx="437.6" cy="566.2" r="3.6" fill-opacity="0.34"/><circle cx="421.2" cy="519.1" r="4.2" fill-opacity="0.34"/><circle cx="430.2" cy="496.6" r="4.2" fill-opacity="0.26"/><circle cx="410.9" cy="507.2" r="4.3" fill-opacity="0.26"/><circle cx="471.6" cy="533.4" r="3.8" fill-opacity="0.42"/><circle cx="436.0" cy="575.9" r="3.6" fill-opacity="0.34"/><circle cx="484.5" cy="526.4" r="3.8" fill-opacity="0.34"/><circle cx="438.1" cy="588.7" r="4.1" fill-opacity="0.26"/><circle cx="457.1" cy="573.7" r="3.6" fill-opacity="0.34"/><circle cx="498.4" cy="512.5" r="3.6" fill-opacity="0.26"/><circle cx="425.5" cy="489.8" r="3.7" fill-opacity="0.26"/><circle cx="458.1" cy="505.1" r="3.8" fill-opacity="0.34"/><circle cx="485.2" cy="517.9" r="4.1" fill-opacity="0.34"/><circle cx="438.1" cy="532.8" r="3.9" fill-opacity="0.42"/><circle cx="504.4" cy="525.1" r="4.0" fill-opacity="0.26"/><circle cx="489.2" cy="502.5" r="3.9" fill-opacity="0.26"/><circle cx="435.4" cy="504.1" r="3.7" fill-opacity="0.34"/><circle cx="488.2" cy="546.9" r="4.4" fill-opacity="0.34"/><circle cx="467.4" cy="542.1" r="3.6" fill-opacity="0.42"/><circle cx="450.6" cy="499.1" r="4.0" fill-opacity="0.26"/><circle cx="418.6" cy="579.7" r="3.6" fill-opacity="0.26"/><circle cx="440.0" cy="543.2" r="3.7" fill-opacity="0.42"/><circle cx="455.3" cy="568.2" r="3.9" fill-opacity="0.42"/><circle cx="476.8" cy="525.3" r="3.9" fill-opacity="0.34"/><circle cx="423.8" cy="544.7" r="3.8" fill-opacity="0.34"/><circle cx="479.5" cy="577.0" r="3.5" fill-opacity="0.26"/><circle cx="432.9" cy="565.9" r="3.8" fill-opacity="0.34"/><circle cx="432.8" cy="511.6" r="3.9" fill-opacity="0.34"/><circle cx="448.5" cy="532.4" r="4.0" fill-opacity="0.42"/><circle cx="498.4" cy="546.0" r="3.5" fill-opacity="0.26"/><circle cx="486.5" cy="533.3" r="4.2" fill-opacity="0.34"/><circle cx="439.1" cy="563.9" r="4.0" fill-opacity="0.42"/><circle cx="489.2" cy="524.3" r="3.7" fill-opacity="0.34"/><circle cx="412.5" cy="536.6" r="3.9" fill-opacity="0.34"/><circle cx="437.1" cy="566.6" r="4.3" fill-opacity="0.34"/><circle cx="476.9" cy="596.1" r="4.2" fill-opacity="0.26"/><circle cx="431.8" cy="521.9" r="4.1" fill-opacity="0.34"/><circle cx="455.9" cy="558.3" r="3.7" fill-opacity="0.42"/><circle cx="443.2" cy="490.4" r="4.2" fill-opacity="0.26"/><circle cx="427.3" cy="510.4" r="4.3" fill-opacity="0.34"/><circle cx="462.5" cy="589.1" r="3.6" fill-opacity="0.26"/><circle cx="459.8" cy="566.7" r="3.9" fill-opacity="0.42"/><circle cx="493.7" cy="557.5" r="4.0" fill-opacity="0.26"/><circle cx="472.5" cy="526.1" r="4.2" fill-opacity="0.42"/><circle cx="482.8" cy="586.6" r="4.0" fill-opacity="0.26"/><circle cx="505.9" cy="536.0" r="3.7" fill-opacity="0.26"/><circle cx="423.1" cy="577.7" r="4.3" fill-opacity="0.26"/><circle cx="448.3" cy="565.4" r="3.9" fill-opacity="0.42"/><circle cx="438.4" cy="577.1" r="3.6" fill-opacity="0.34"/><circle cx="464.8" cy="575.5" r="3.7" fill-opacity="0.34"/><circle cx="503.4" cy="514.7" r="3.8" fill-opacity="0.26"/><circle cx="410.6" cy="518.2" r="4.3" fill-opacity="0.26"/><circle cx="453.2" cy="536.7" r="4.0" fill-opacity="0.42"/><circle cx="442.5" cy="552.6" r="4.1" fill-opacity="0.42"/><circle cx="417.1" cy="536.7" r="3.6" fill-opacity="0.34"/><circle cx="451.2" cy="504.1" r="4.3" fill-opacity="0.34"/><circle cx="461.7" cy="586.7" r="3.7" fill-opacity="0.26"/><circle cx="474.8" cy="574.8" r="4.1" fill-opacity="0.34"/><circle cx="434.5" cy="596.4" r="4.1" fill-opacity="0.26"/><circle cx="420.0" cy="501.6" r="4.2" fill-opacity="0.26"/><circle cx="418.1" cy="510.4" r="3.9" fill-opacity="0.26"/><circle cx="420.7" cy="499.6" r="3.8" fill-opacity="0.26"/><circle cx="431.1" cy="517.6" r="4.2" fill-opacity="0.34"/><circle cx="401.4" cy="533.1" r="4.2" fill-opacity="0.26"/><circle cx="476.2" cy="553.7" r="3.7" fill-opacity="0.42"/><circle cx="435.1" cy="528.3" r="3.8" fill-opacity="0.42"/><circle cx="484.8" cy="506.2" r="3.8" fill-opacity="0.26"/><circle cx="479.2" cy="545.4" r="3.7" fill-opacity="0.34"/><circle cx="501.4" cy="546.0" r="3.5" fill-opacity="0.26"/><circle cx="405.0" cy="538.2" r="3.5" fill-opacity="0.26"/><circle cx="498.1" cy="539.5" r="4.4" fill-opacity="0.26"/><circle cx="506.1" cy="534.9" r="3.7" fill-opacity="0.26"/><circle cx="434.8" cy="596.5" r="4.2" fill-opacity="0.26"/><circle cx="451.1" cy="572.4" r="4.2" fill-opacity="0.34"/><circle cx="453.5" cy="495.4" r="4.3" fill-opacity="0.26"/><circle cx="456.3" cy="566.9" r="3.6" fill-opacity="0.42"/><circle cx="454.2" cy="516.3" r="3.6" fill-opacity="0.42"/><circle cx="492.4" cy="524.4" r="4.4" fill-opacity="0.26"/><circle cx="426.0" cy="522.3" r="4.2" fill-opacity="0.34"/><circle cx="437.3" cy="589.2" r="3.6" fill-opacity="0.26"/><circle cx="475.5" cy="541.7" r="4.4" fill-opacity="0.42"/><circle cx="416.1" cy="515.5" r="4.2" fill-opacity="0.26"/><circle cx="500.9" cy="570.7" r="3.9" fill-opacity="0.26"/><circle cx="473.4" cy="517.7" r="3.6" fill-opacity="0.34"/><circle cx="442.0" cy="563.8" r="4.1" fill-opacity="0.42"/><circle cx="490.1" cy="514.6" r="4.2" fill-opacity="0.26"/><circle cx="438.8" cy="538.9" r="4.1" fill-opacity="0.42"/><circle cx="430.2" cy="567.9" r="3.4" fill-opacity="0.34"/><circle cx="448.3" cy="600.2" r="4.0" fill-opacity="0.26"/><circle cx="413.1" cy="520.1" r="3.6" fill-opacity="0.26"/><circle cx="480.7" cy="585.8" r="3.7" fill-opacity="0.26"/><circle cx="489.3" cy="561.5" r="4.1" fill-opacity="0.34"/><circle cx="448.5" cy="588.1" r="4.2" fill-opacity="0.26"/><circle cx="452.6" cy="514.7" r="3.6" fill-opacity="0.42"/><circle cx="474.3" cy="583.8" r="3.7" fill-opacity="0.26"/><circle cx="440.7" cy="503.2" r="3.5" fill-opacity="0.34"/><circle cx="428.4" cy="566.9" r="3.8" fill-opacity="0.34"/><circle cx="443.4" cy="576.2" r="4.0" fill-opacity="0.34"/><circle cx="479.8" cy="540.6" r="3.4" fill-opacity="0.34"/><circle cx="480.7" cy="511.4" r="4.2" fill-opacity="0.34"/><circle cx="460.2" cy="519.0" r="3.9" fill-opacity="0.42"/><circle cx="453.8" cy="596.6" r="3.5" fill-opacity="0.26"/><circle cx="421.2" cy="545.0" r="3.6" fill-opacity="0.34"/><circle cx="460.6" cy="511.0" r="3.4" fill-opacity="0.34"/><circle cx="494.1" cy="509.1" r="3.7" fill-opacity="0.26"/><circle cx="490.1" cy="564.0" r="4.2" fill-opacity="0.26"/><circle cx="460.6" cy="504.6" r="4.2" fill-opacity="0.34"/><circle cx="459.4" cy="601.1" r="4.3" fill-opacity="0.26"/><circle cx="432.4" cy="592.0" r="4.2" fill-opacity="0.26"/><circle cx="482.8" cy="525.3" r="4.2" fill-opacity="0.34"/><circle cx="480.2" cy="526.2" r="3.8" fill-opacity="0.34"/><circle cx="472.8" cy="524.7" r="4.1" fill-opacity="0.42"/><circle cx="421.0" cy="493.1" r="3.5" fill-opacity="0.26"/><circle cx="458.0" cy="523.7" r="4.1" fill-opacity="0.42"/><circle cx="437.6" cy="584.5" r="4.3" fill-opacity="0.26"/><circle cx="472.3" cy="586.5" r="4.0" fill-opacity="0.26"/><circle cx="472.1" cy="565.5" r="3.5" fill-opacity="0.34"/><circle cx="449.8" cy="523.2" r="3.7" fill-opacity="0.42"/><circle cx="424.5" cy="547.2" r="3.6" fill-opacity="0.34"/><circle cx="501.4" cy="534.7" r="3.7" fill-opacity="0.26"/><circle cx="472.4" cy="596.7" r="3.9" fill-opacity="0.26"/><circle cx="487.1" cy="500.6" r="3.5" fill-opacity="0.26"/><circle cx="448.4" cy="554.9" r="4.1" fill-opacity="0.42"/><circle cx="437.7" cy="501.6" r="4.3" fill-opacity="0.26"/><circle cx="481.8" cy="531.0" r="4.1" fill-opacity="0.34"/><circle cx="445.7" cy="594.7" r="4.0" fill-opacity="0.26"/><circle cx="499.7" cy="560.8" r="4.0" fill-opacity="0.26"/><circle cx="480.3" cy="508.7" r="3.8" fill-opacity="0.26"/><circle cx="478.7" cy="517.8" r="3.8" fill-opacity="0.34"/><circle cx="485.3" cy="558.1" r="4.1" fill-opacity="0.34"/><circle cx="481.9" cy="554.7" r="3.8" fill-opacity="0.34"/><circle cx="452.0" cy="572.1" r="3.5" fill-opacity="0.34"/><circle cx="456.6" cy="534.4" r="3.6" fill-opacity="0.42"/><circle cx="472.2" cy="578.6" r="3.9" fill-opacity="0.34"/><circle cx="485.8" cy="582.4" r="4.3" fill-opacity="0.26"/><circle cx="480.7" cy="545.0" r="3.5" fill-opacity="0.34"/><circle cx="428.2" cy="502.2" r="4.1" fill-opacity="0.26"/><circle cx="480.0" cy="567.2" r="4.3" fill-opacity="0.34"/><circle cx="483.0" cy="512.8" r="3.8" fill-opacity="0.26"/><circle cx="443.8" cy="558.8" r="3.6" fill-opacity="0.42"/><circle cx="473.5" cy="556.6" r="3.9" fill-opacity="0.42"/><circle cx="485.7" cy="551.9" r="4.1" fill-opacity="0.34"/><circle cx="504.7" cy="516.1" r="4.0" fill-opacity="0.26"/><circle cx="436.7" cy="491.1" r="3.8" fill-opacity="0.26"/><circle cx="479.2" cy="523.7" r="3.8" fill-opacity="0.34"/><circle cx="464.5" cy="490.9" r="3.8" fill-opacity="0.26"/><circle cx="471.9" cy="537.2" r="3.5" fill-opacity="0.42"/><circle cx="409.7" cy="515.4" r="4.0" fill-opacity="0.26"/><circle cx="498.6" cy="569.2" r="3.7" fill-opacity="0.26"/><circle cx="402.8" cy="538.3" r="3.6" fill-opacity="0.26"/><circle cx="496.2" cy="573.2" r="3.9" fill-opacity="0.26"/><circle cx="447.2" cy="505.4" r="4.3" fill-opacity="0.34"/><circle cx="502.3" cy="504.2" r="3.8" fill-opacity="0.26"/><circle cx="487.9" cy="566.7" r="4.1" fill-opacity="0.26"/><circle cx="426.0" cy="493.0" r="4.2" fill-opacity="0.26"/><circle cx="468.1" cy="537.4" r="3.4" fill-opacity="0.42"/><circle cx="447.5" cy="514.7" r="4.2" fill-opacity="0.34"/><circle cx="487.4" cy="564.5" r="4.1" fill-opacity="0.34"/><circle cx="490.1" cy="503.7" r="3.6" fill-opacity="0.26"/><circle cx="496.8" cy="532.5" r="3.8" fill-opacity="0.26"/><circle cx="436.1" cy="535.9" r="3.9" fill-opacity="0.42"/><circle cx="425.1" cy="577.7" r="3.8" fill-opacity="0.26"/><circle cx="432.2" cy="563.6" r="3.4" fill-opacity="0.34"/><circle cx="460.9" cy="517.2" r="4.1" fill-opacity="0.42"/><circle cx="424.3" cy="564.2" r="4.4" fill-opacity="0.34"/><circle cx="444.4" cy="558.4" r="3.7" fill-opacity="0.42"/><circle cx="416.6" cy="564.0" r="3.8" fill-opacity="0.34"/><circle cx="476.1" cy="584.4" r="3.7" fill-opacity="0.26"/><circle cx="479.2" cy="582.2" r="3.8" fill-opacity="0.26"/><circle cx="418.8" cy="499.7" r="3.6" fill-opacity="0.26"/><circle cx="437.0" cy="489.6" r="3.5" fill-opacity="0.26"/><circle cx="456.5" cy="581.3" r="3.8" fill-opacity="0.34"/><circle cx="432.9" cy="517.1" r="3.4" fill-opacity="0.34"/><circle cx="454.7" cy="504.1" r="3.6" fill-opacity="0.34"/><circle cx="434.7" cy="580.8" r="3.6" fill-opacity="0.26"/><circle cx="461.4" cy="524.4" r="4.1" fill-opacity="0.42"/><circle cx="415.2" cy="523.1" r="3.5" fill-opacity="0.34"/><circle cx="485.9" cy="514.9" r="3.7" fill-opacity="0.26"/><circle cx="486.8" cy="578.5" r="4.2" fill-opacity="0.26"/><circle cx="457.8" cy="584.9" r="3.6" fill-opacity="0.26"/><circle cx="422.6" cy="499.1" r="3.8" fill-opacity="0.26"/><circle cx="449.2" cy="511.6" r="3.8" fill-opacity="0.34"/><circle cx="409.1" cy="511.0" r="3.8" fill-opacity="0.26"/><circle cx="421.1" cy="525.7" r="3.4" fill-opacity="0.34"/><circle cx="446.4" cy="572.5" r="3.5" fill-opacity="0.34"/><circle cx="445.5" cy="521.8" r="3.5" fill-opacity="0.42"/><circle cx="436.9" cy="489.4" r="3.9" fill-opacity="0.26"/><circle cx="483.0" cy="516.2" r="3.4" fill-opacity="0.34"/><circle cx="453.2" cy="528.1" r="3.8" fill-opacity="0.42"/><circle cx="440.4" cy="577.9" r="4.1" fill-opacity="0.34"/><circle cx="490.7" cy="528.8" r="4.3" fill-opacity="0.34"/><circle cx="463.3" cy="528.6" r="4.4" fill-opacity="0.42"/><circle cx="447.7" cy="564.0" r="4.0" fill-opacity="0.42"/><circle cx="418.3" cy="497.8" r="4.0" fill-opacity="0.26"/><circle cx="491.5" cy="545.3" r="4.3" fill-opacity="0.34"/><circle cx="493.1" cy="562.9" r="4.4" fill-opacity="0.26"/><circle cx="465.7" cy="493.9" r="4.1" fill-opacity="0.26"/><circle cx="458.4" cy="561.2" r="4.0" fill-opacity="0.42"/><circle cx="495.9" cy="526.7" r="3.9" fill-opacity="0.26"/><circle cx="504.2" cy="506.4" r="4.1" fill-opacity="0.26"/><circle cx="434.2" cy="590.8" r="4.4" fill-opacity="0.26"/><circle cx="441.3" cy="579.8" r="4.0" fill-opacity="0.34"/><circle cx="445.6" cy="488.3" r="3.6" fill-opacity="0.26"/><circle cx="433.9" cy="491.5" r="4.1" fill-opacity="0.26"/><circle cx="437.3" cy="584.5" r="4.3" fill-opacity="0.26"/><circle cx="481.6" cy="522.8" r="4.2" fill-opacity="0.34"/><circle cx="492.5" cy="566.6" r="3.8" fill-opacity="0.26"/><circle cx="442.2" cy="501.8" r="4.0" fill-opacity="0.34"/><circle cx="439.6" cy="527.5" r="3.7" fill-opacity="0.42"/><circle cx="425.2" cy="556.4" r="3.8" fill-opacity="0.34"/><circle cx="463.8" cy="542.9" r="4.0" fill-opacity="0.42"/><circle cx="489.2" cy="529.0" r="3.6" fill-opacity="0.34"/><circle cx="432.0" cy="515.0" r="3.8" fill-opacity="0.34"/><circle cx="413.6" cy="542.1" r="3.7" fill-opacity="0.34"/><circle cx="445.8" cy="540.7" r="4.0" fill-opacity="0.42"/><circle cx="496.2" cy="556.6" r="4.2" fill-opacity="0.26"/><circle cx="447.7" cy="538.1" r="3.8" fill-opacity="0.42"/><circle cx="460.1" cy="538.7" r="3.6" fill-opacity="0.42"/><circle cx="457.4" cy="589.9" r="4.4" fill-opacity="0.26"/><circle cx="440.3" cy="502.1" r="3.4" fill-opacity="0.34"/><circle cx="457.2" cy="589.7" r="3.6" fill-opacity="0.26"/><circle cx="472.2" cy="555.2" r="4.3" fill-opacity="0.42"/><circle cx="468.2" cy="570.3" r="3.4" fill-opacity="0.34"/><circle cx="473.8" cy="522.9" r="4.3" fill-opacity="0.34"/><circle cx="463.6" cy="539.8" r="3.6" fill-opacity="0.42"/><circle cx="430.5" cy="505.9" r="3.5" fill-opacity="0.34"/><circle cx="439.6" cy="573.5" r="4.2" fill-opacity="0.34"/><circle cx="439.1" cy="591.2" r="3.5" fill-opacity="0.26"/><circle cx="507.2" cy="531.1" r="3.8" fill-opacity="0.26"/><circle cx="467.4" cy="598.5" r="3.6" fill-opacity="0.26"/><circle cx="474.6" cy="588.0" r="4.2" fill-opacity="0.26"/><circle cx="426.4" cy="564.7" r="4.1" fill-opacity="0.34"/><circle cx="491.9" cy="578.0" r="3.5" fill-opacity="0.26"/><circle cx="466.3" cy="578.9" r="4.3" fill-opacity="0.34"/><circle cx="464.7" cy="509.7" r="4.3" fill-opacity="0.34"/><circle cx="444.1" cy="496.7" r="3.5" fill-opacity="0.26"/><circle cx="423.1" cy="552.3" r="3.7" fill-opacity="0.34"/><circle cx="419.1" cy="524.2" r="3.6" fill-opacity="0.34"/><circle cx="453.8" cy="563.2" r="3.7" fill-opacity="0.42"/><circle cx="462.4" cy="560.8" r="4.1" fill-opacity="0.42"/><circle cx="437.7" cy="597.9" r="4.4" fill-opacity="0.26"/><circle cx="448.4" cy="522.2" r="4.3" fill-opacity="0.42"/><circle cx="449.5" cy="560.2" r="4.1" fill-opacity="0.42"/><circle cx="422.6" cy="544.8" r="4.0" fill-opacity="0.34"/><circle cx="440.0" cy="565.6" r="4.3" fill-opacity="0.42"/><circle cx="416.6" cy="531.0" r="3.5" fill-opacity="0.34"/><circle cx="452.8" cy="558.9" r="3.6" fill-opacity="0.42"/><circle cx="416.7" cy="576.1" r="3.4" fill-opacity="0.26"/><circle cx="465.4" cy="539.8" r="3.4" fill-opacity="0.42"/><circle cx="425.8" cy="505.3" r="3.9" fill-opacity="0.26"/><circle cx="443.0" cy="593.8" r="3.4" fill-opacity="0.26"/><circle cx="458.2" cy="536.2" r="3.9" fill-opacity="0.42"/><circle cx="403.8" cy="537.2" r="3.8" fill-opacity="0.26"/><circle cx="459.7" cy="565.0" r="4.3" fill-opacity="0.42"/><circle cx="457.4" cy="520.8" r="4.2" fill-opacity="0.42"/><circle cx="413.3" cy="532.4" r="3.8" fill-opacity="0.34"/><circle cx="473.4" cy="557.7" r="3.5" fill-opacity="0.42"/><circle cx="483.3" cy="541.3" r="3.9" fill-opacity="0.34"/><circle cx="417.9" cy="492.6" r="3.8" fill-opacity="0.26"/><circle cx="433.0" cy="571.4" r="3.9" fill-opacity="0.34"/><circle cx="446.9" cy="493.4" r="3.9" fill-opacity="0.26"/><circle cx="450.4" cy="546.4" r="4.4" fill-opacity="0.42"/><circle cx="431.7" cy="509.9" r="3.8" fill-opacity="0.34"/><circle cx="448.4" cy="588.7" r="4.0" fill-opacity="0.26"/><circle cx="431.9" cy="534.8" r="3.8" fill-opacity="0.42"/><circle cx="443.7" cy="538.8" r="4.0" fill-opacity="0.42"/><circle cx="429.6" cy="550.5" r="3.4" fill-opacity="0.42"/><circle cx="417.8" cy="569.6" r="3.7" fill-opacity="0.26"/><circle cx="503.0" cy="544.5" r="4.1" fill-opacity="0.26"/><circle cx="473.9" cy="525.2" r="3.9" fill-opacity="0.34"/><circle cx="421.3" cy="510.8" r="3.7" fill-opacity="0.26"/><circle cx="413.1" cy="560.7" r="3.5" fill-opacity="0.26"/><circle cx="469.1" cy="522.6" r="3.9" fill-opacity="0.42"/><circle cx="422.0" cy="515.0" r="3.4" fill-opacity="0.34"/><circle cx="420.0" cy="520.2" r="3.6" fill-opacity="0.34"/><circle cx="428.9" cy="523.4" r="4.2" fill-opacity="0.34"/><circle cx="461.7" cy="498.3" r="4.3" fill-opacity="0.26"/><circle cx="466.5" cy="540.6" r="3.5" fill-opacity="0.42"/><circle cx="490.4" cy="552.6" r="4.3" fill-opacity="0.34"/><circle cx="417.7" cy="516.4" r="4.0" fill-opacity="0.26"/><circle cx="417.5" cy="561.1" r="3.8" fill-opacity="0.34"/><circle cx="411.9" cy="538.7" r="3.8" fill-opacity="0.34"/><circle cx="478.0" cy="554.9" r="3.4" fill-opacity="0.34"/><circle cx="417.7" cy="514.3" r="3.7" fill-opacity="0.26"/><circle cx="456.7" cy="560.6" r="3.6" fill-opacity="0.42"/><circle cx="463.8" cy="566.1" r="3.5" fill-opacity="0.42"/><circle cx="486.5" cy="524.4" r="3.6" fill-opacity="0.34"/><circle cx="502.4" cy="503.2" r="4.3" fill-opacity="0.26"/><circle cx="467.6" cy="546.9" r="4.1" fill-opacity="0.42"/><circle cx="474.5" cy="545.5" r="3.5" fill-opacity="0.42"/><circle cx="435.8" cy="571.6" r="4.1" fill-opacity="0.34"/><circle cx="478.5" cy="555.9" r="4.4" fill-opacity="0.34"/><circle cx="494.8" cy="511.9" r="4.2" fill-opacity="0.26"/><circle cx="462.9" cy="506.8" r="4.2" fill-opacity="0.34"/><circle cx="457.8" cy="567.1" r="4.1" fill-opacity="0.42"/><circle cx="454.2" cy="600.0" r="3.9" fill-opacity="0.26"/><circle cx="441.1" cy="521.3" r="3.9" fill-opacity="0.42"/><circle cx="454.8" cy="490.9" r="3.7" fill-opacity="0.26"/><circle cx="450.5" cy="506.0" r="3.9" fill-opacity="0.34"/><circle cx="506.7" cy="528.0" r="3.6" fill-opacity="0.26"/><circle cx="488.4" cy="545.4" r="3.7" fill-opacity="0.34"/><circle cx="404.3" cy="526.1" r="3.9" fill-opacity="0.26"/><circle cx="457.2" cy="545.7" r="3.9" fill-opacity="0.42"/><circle cx="511.8" cy="481.0" r="4.2" fill-opacity="0.45"/><circle cx="508.1" cy="488.5" r="4.2" fill-opacity="0.45"/><circle cx="515.6" cy="489.8" r="4.2" fill-opacity="0.45"/></g></g>
<text x="494.2" y="594" font-size="10" font-weight="bold" fill="#fff" text-anchor="middle">200 nm</text>
<rect x="483" y="595.6" width="23.3" height="2.4" fill="#fff"/>
<rect x="523.6" y="476.8" width="76.2" height="62.0" fill="#000"/>
<rect x="601.4" y="476.8" width="76.1" height="62.0" fill="#000"/>
<rect x="523.6" y="540.2" width="76.2" height="61.4" fill="#000"/>
<rect x="601.4" y="540.2" width="76.1" height="61.4" fill="#000"/>
<g clip-path="url(#hdc)"><path d="M525.1,500.4 L546.5,497.9 L565.5,495.4 L575.4,489.2 L578.5,501.6 L575.4,510.9 L588.4,520.2 L592.2,538.8 L525.1,538.8 Z" fill="#7a7a7a" filter="url(#hdb)"/><g filter="url(#hdb)"><circle cx="537.4" cy="527.0" r="3.8" fill="#dfdfdf"/><circle cx="553.5" cy="523.9" r="3.4" fill="#c9c9c9"/><circle cx="555.1" cy="509.5" r="3.3" fill="#e5e5e5"/><circle cx="530.7" cy="498.4" r="3.3" fill="#d2d2d2"/><circle cx="575.4" cy="510.8" r="3.7" fill="#bababa"/><circle cx="545.3" cy="522.0" r="3.4" fill="#bebebe"/><circle cx="576.5" cy="533.5" r="4.1" fill="#c5c5c5"/><circle cx="531.0" cy="499.4" r="3.7" fill="#d9d9d9"/><circle cx="579.6" cy="539.4" r="3.2" fill="#bfbfbf"/><circle cx="545.7" cy="530.5" r="3.2" fill="#d7d7d7"/><circle cx="525.2" cy="537.7" r="3.7" fill="#c6c6c6"/><circle cx="564.0" cy="523.1" r="3.4" fill="#e7e7e7"/><circle cx="527.8" cy="533.7" r="3.6" fill="#c0c0c0"/><circle cx="557.9" cy="511.2" r="4.1" fill="#d8d8d8"/><circle cx="575.7" cy="494.6" r="3.2" fill="#c5c5c5"/><circle cx="555.7" cy="539.8" r="3.9" fill="#eeeeee"/><circle cx="547.7" cy="521.7" r="3.8" fill="#bdbdbd"/><circle cx="590.8" cy="534.1" r="3.1" fill="#e8e8e8"/><circle cx="561.1" cy="535.2" r="3.1" fill="#cccccc"/><circle cx="564.6" cy="510.6" r="3.8" fill="#e7e7e7"/><circle cx="525.6" cy="516.1" r="4.2" fill="#eeeeee"/><circle cx="567.0" cy="523.0" r="3.9" fill="#e3e3e3"/><circle cx="546.1" cy="515.2" r="3.6" fill="#dfdfdf"/><circle cx="576.6" cy="508.4" r="3.2" fill="#e6e6e6"/><circle cx="533.2" cy="527.0" r="3.3" fill="#e6e6e6"/><circle cx="588.0" cy="526.9" r="3.7" fill="#c4c4c4"/><circle cx="588.1" cy="525.7" r="4.1" fill="#e1e1e1"/><circle cx="552.7" cy="527.6" r="4.1" fill="#ececec"/><circle cx="567.1" cy="494.5" r="4.2" fill="#e8e8e8"/><circle cx="549.9" cy="507.6" r="3.2" fill="#d6d6d6"/><circle cx="564.7" cy="530.7" r="4.3" fill="#bcbcbc"/><circle cx="531.6" cy="528.0" r="3.2" fill="#c5c5c5"/><circle cx="524.0" cy="527.8" r="3.8" fill="#e7e7e7"/><circle cx="551.7" cy="532.2" r="3.8" fill="#eeeeee"/><circle cx="566.5" cy="517.8" r="4.2" fill="#d9d9d9"/><circle cx="537.6" cy="498.7" r="3.2" fill="#dcdcdc"/><circle cx="538.0" cy="502.8" r="3.8" fill="#c2c2c2"/><circle cx="559.1" cy="541.4" r="4.0" fill="#dddddd"/><circle cx="560.7" cy="540.4" r="3.1" fill="#d6d6d6"/><circle cx="533.0" cy="526.7" r="3.3" fill="#dcdcdc"/><circle cx="573.8" cy="510.2" r="3.6" fill="#bfbfbf"/><circle cx="546.9" cy="529.6" r="3.6" fill="#cccccc"/><circle cx="549.1" cy="498.0" r="3.8" fill="#cdcdcd"/><circle cx="525.6" cy="496.0" r="3.6" fill="#d3d3d3"/><circle cx="566.7" cy="495.8" r="3.2" fill="#cacaca"/><circle cx="535.1" cy="513.5" r="4.0" fill="#eeeeee"/><circle cx="526.1" cy="528.5" r="3.4" fill="#ededed"/><circle cx="560.6" cy="532.3" r="3.2" fill="#ebebeb"/><circle cx="566.4" cy="525.7" r="4.0" fill="#e1e1e1"/><circle cx="550.4" cy="497.9" r="3.1" fill="#bfbfbf"/><circle cx="557.4" cy="506.9" r="3.9" fill="#c9c9c9"/><circle cx="588.8" cy="516.1" r="4.2" fill="#bfbfbf"/><circle cx="576.1" cy="502.9" r="3.4" fill="#e4e4e4"/><circle cx="572.5" cy="496.6" r="4.1" fill="#dddddd"/><circle cx="575.4" cy="499.8" r="3.1" fill="#dfdfdf"/><circle cx="532.1" cy="515.2" r="3.8" fill="#e0e0e0"/><circle cx="574.0" cy="532.4" r="3.1" fill="#c6c6c6"/><circle cx="532.5" cy="503.7" r="3.5" fill="#d2d2d2"/><circle cx="531.1" cy="535.2" r="4.1" fill="#bebebe"/><circle cx="586.3" cy="521.5" r="4.0" fill="#c0c0c0"/><circle cx="556.5" cy="531.5" r="4.0" fill="#eeeeee"/><circle cx="567.6" cy="539.1" r="3.9" fill="#d1d1d1"/><circle cx="529.0" cy="508.3" r="3.9" fill="#e2e2e2"/><circle cx="578.7" cy="527.7" r="3.3" fill="#eaeaea"/><circle cx="525.4" cy="496.7" r="4.2" fill="#c0c0c0"/><circle cx="544.3" cy="502.5" r="4.2" fill="#bdbdbd"/><circle cx="540.0" cy="519.4" r="4.0" fill="#e9e9e9"/><circle cx="524.8" cy="502.8" r="3.6" fill="#c9c9c9"/><circle cx="574.9" cy="537.2" r="3.2" fill="#b9b9b9"/><circle cx="557.8" cy="529.3" r="3.8" fill="#dedede"/><circle cx="535.4" cy="521.0" r="3.4" fill="#e3e3e3"/><circle cx="580.1" cy="524.3" r="3.9" fill="#c6c6c6"/><circle cx="534.3" cy="507.6" r="3.2" fill="#dddddd"/><circle cx="578.7" cy="538.6" r="4.2" fill="#b9b9b9"/><circle cx="540.5" cy="508.5" r="3.2" fill="#d4d4d4"/><circle cx="526.9" cy="515.3" r="4.1" fill="#e5e5e5"/><circle cx="547.4" cy="528.4" r="3.1" fill="#c5c5c5"/><circle cx="573.2" cy="516.8" r="3.9" fill="#c8c8c8"/><circle cx="540.1" cy="495.1" r="3.7" fill="#bababa"/><circle cx="537.7" cy="514.5" r="3.6" fill="#cacaca"/><circle cx="543.8" cy="517.0" r="3.3" fill="#d8d8d8"/><circle cx="564.5" cy="531.0" r="3.8" fill="#dcdcdc"/><circle cx="568.3" cy="524.5" r="3.1" fill="#e3e3e3"/><circle cx="545.2" cy="507.2" r="3.6" fill="#d5d5d5"/><circle cx="574.3" cy="510.9" r="3.5" fill="#d0d0d0"/><circle cx="534.9" cy="525.8" r="3.9" fill="#e2e2e2"/><circle cx="581.5" cy="524.0" r="4.2" fill="#cacaca"/><circle cx="528.9" cy="506.5" r="3.8" fill="#c6c6c6"/><circle cx="533.8" cy="535.5" r="3.3" fill="#e1e1e1"/><circle cx="586.5" cy="523.6" r="3.4" fill="#d4d4d4"/><circle cx="540.6" cy="499.7" r="3.3" fill="#eeeeee"/><circle cx="524.8" cy="511.8" r="3.1" fill="#d6d6d6"/><circle cx="566.2" cy="510.4" r="3.8" fill="#bcbcbc"/><circle cx="555.6" cy="541.5" r="3.5" fill="#e1e1e1"/><circle cx="540.9" cy="518.6" r="3.4" fill="#e1e1e1"/><circle cx="572.8" cy="527.5" r="3.5" fill="#efefef"/><circle cx="538.5" cy="534.5" r="3.5" fill="#c5c5c5"/><circle cx="578.4" cy="515.3" r="3.8" fill="#e1e1e1"/><circle cx="547.8" cy="524.6" r="4.0" fill="#c7c7c7"/><circle cx="558.7" cy="540.1" r="3.7" fill="#e0e0e0"/><circle cx="562.8" cy="537.5" r="3.7" fill="#cccccc"/><circle cx="575.1" cy="535.6" r="3.7" fill="#e5e5e5"/><circle cx="540.8" cy="514.9" r="3.9" fill="#c6c6c6"/><circle cx="584.9" cy="528.8" r="3.4" fill="#bababa"/><circle cx="545.2" cy="517.0" r="3.3" fill="#e5e5e5"/><circle cx="574.1" cy="519.7" r="3.0" fill="#d8d8d8"/><circle cx="542.7" cy="511.0" r="3.1" fill="#c8c8c8"/><circle cx="542.5" cy="499.8" r="3.1" fill="#bdbdbd"/><circle cx="564.2" cy="537.1" r="3.9" fill="#c9c9c9"/><circle cx="570.7" cy="525.1" r="3.1" fill="#bbbbbb"/><circle cx="527.3" cy="496.6" r="3.9" fill="#c8c8c8"/><circle cx="545.6" cy="507.9" r="3.1" fill="#c3c3c3"/><circle cx="584.8" cy="519.7" r="3.6" fill="#e4e4e4"/><circle cx="580.8" cy="530.6" r="3.0" fill="#d7d7d7"/><circle cx="555.0" cy="523.1" r="3.2" fill="#d5d5d5"/><circle cx="537.8" cy="506.0" r="4.2" fill="#d1d1d1"/><circle cx="535.6" cy="512.3" r="4.2" fill="#cbcbcb"/><circle cx="534.0" cy="515.7" r="4.1" fill="#e2e2e2"/><circle cx="535.0" cy="522.4" r="3.2" fill="#dedede"/><circle cx="532.9" cy="534.1" r="3.2" fill="#eaeaea"/><circle cx="552.5" cy="514.1" r="3.6" fill="#bfbfbf"/><circle cx="584.4" cy="517.8" r="3.9" fill="#c4c4c4"/><circle cx="580.2" cy="537.7" r="3.4" fill="#cdcdcd"/><circle cx="538.7" cy="529.8" r="3.0" fill="#d8d8d8"/><circle cx="527.5" cy="540.9" r="3.3" fill="#bebebe"/><circle cx="529.2" cy="525.0" r="3.6" fill="#eaeaea"/><circle cx="550.1" cy="537.6" r="3.5" fill="#e5e5e5"/><circle cx="544.1" cy="523.1" r="3.5" fill="#cbcbcb"/><circle cx="539.7" cy="504.4" r="3.3" fill="#dfdfdf"/><circle cx="567.6" cy="537.5" r="3.7" fill="#dfdfdf"/><circle cx="592.2" cy="529.2" r="3.8" fill="#e7e7e7"/><circle cx="564.5" cy="540.6" r="4.3" fill="#c3c3c3"/><circle cx="537.7" cy="540.1" r="3.9" fill="#b9b9b9"/><circle cx="539.1" cy="501.8" r="4.0" fill="#d4d4d4"/><circle cx="526.0" cy="518.9" r="3.8" fill="#d3d3d3"/><circle cx="526.1" cy="516.5" r="3.7" fill="#d1d1d1"/><circle cx="593.3" cy="527.2" r="3.8" fill="#cfcfcf"/><circle cx="532.6" cy="515.6" r="3.2" fill="#c7c7c7"/><circle cx="571.4" cy="488.5" r="4.3" fill="#ececec"/><circle cx="576.4" cy="518.8" r="4.1" fill="#c7c7c7"/><circle cx="586.9" cy="527.6" r="3.7" fill="#e9e9e9"/><circle cx="553.7" cy="534.4" r="3.0" fill="#e3e3e3"/><circle cx="554.1" cy="539.8" r="4.2" fill="#c3c3c3"/><circle cx="556.4" cy="510.9" r="3.8" fill="#cbcbcb"/><circle cx="590.2" cy="538.2" r="3.4" fill="#e1e1e1"/><circle cx="581.8" cy="498.3" r="3.4" fill="#b9b9b9"/><circle cx="590.6" cy="523.3" r="3.4" fill="#e3e3e3"/><circle cx="544.7" cy="525.1" r="3.4" fill="#d1d1d1"/><circle cx="540.3" cy="528.4" r="3.1" fill="#e7e7e7"/><circle cx="579.8" cy="540.8" r="3.7" fill="#e3e3e3"/><circle cx="541.2" cy="525.4" r="3.5" fill="#cecece"/><circle cx="573.9" cy="518.3" r="4.3" fill="#e0e0e0"/><circle cx="576.5" cy="518.0" r="3.7" fill="#dcdcdc"/><circle cx="564.7" cy="522.8" r="4.0" fill="#e1e1e1"/><circle cx="548.2" cy="501.4" r="3.6" fill="#e9e9e9"/><circle cx="552.7" cy="527.6" r="3.7" fill="#d8d8d8"/><circle cx="529.6" cy="510.1" r="3.1" fill="#c0c0c0"/><circle cx="542.2" cy="496.4" r="3.2" fill="#e6e6e6"/><circle cx="540.3" cy="531.3" r="3.6" fill="#d5d5d5"/><circle cx="569.0" cy="541.4" r="3.3" fill="#cecece"/><circle cx="543.9" cy="507.4" r="3.9" fill="#cbcbcb"/><circle cx="584.0" cy="521.9" r="3.9" fill="#e4e4e4"/><circle cx="528.2" cy="505.3" r="3.6" fill="#dbdbdb"/><circle cx="573.1" cy="495.2" r="3.8" fill="#c4c4c4"/><circle cx="567.5" cy="517.3" r="3.8" fill="#d4d4d4"/><circle cx="551.4" cy="500.2" r="4.0" fill="#cfcfcf"/><circle cx="572.1" cy="507.1" r="4.0" fill="#e1e1e1"/><circle cx="556.1" cy="540.4" r="4.1" fill="#d3d3d3"/><circle cx="556.9" cy="512.3" r="3.9" fill="#cfcfcf"/><circle cx="577.0" cy="491.8" r="3.8" fill="#e3e3e3"/><circle cx="534.4" cy="530.3" r="3.8" fill="#e1e1e1"/><circle cx="560.5" cy="498.7" r="3.9" fill="#e3e3e3"/><circle cx="587.5" cy="521.0" r="3.8" fill="#cccccc"/><circle cx="558.1" cy="519.3" r="4.0" fill="#dedede"/><circle cx="528.8" cy="508.1" r="4.0" fill="#eaeaea"/><circle cx="548.9" cy="508.1" r="3.5" fill="#c2c2c2"/><circle cx="554.0" cy="523.7" r="3.5" fill="#cccccc"/><circle cx="571.3" cy="514.4" r="4.0" fill="#cdcdcd"/><circle cx="561.2" cy="536.7" r="3.7" fill="#dddddd"/><circle cx="589.8" cy="523.2" r="3.4" fill="#ececec"/><circle cx="581.7" cy="537.4" r="3.9" fill="#b9b9b9"/><circle cx="571.7" cy="498.2" r="3.9" fill="#e9e9e9"/><circle cx="549.8" cy="495.9" r="3.6" fill="#e0e0e0"/><circle cx="546.9" cy="499.9" r="4.2" fill="#e3e3e3"/><circle cx="589.6" cy="537.6" r="3.2" fill="#bdbdbd"/><circle cx="555.9" cy="540.4" r="3.5" fill="#eeeeee"/><circle cx="560.0" cy="518.7" r="3.3" fill="#bababa"/><circle cx="543.6" cy="517.4" r="3.5" fill="#ededed"/><circle cx="574.0" cy="498.3" r="3.0" fill="#c3c3c3"/><circle cx="544.4" cy="500.4" r="3.2" fill="#dddddd"/><circle cx="542.1" cy="528.0" r="3.2" fill="#b9b9b9"/><circle cx="561.5" cy="522.7" r="3.2" fill="#d7d7d7"/><circle cx="538.2" cy="502.2" r="3.8" fill="#ebebeb"/><circle cx="563.2" cy="522.5" r="3.6" fill="#bcbcbc"/><circle cx="548.2" cy="541.9" r="3.6" fill="#d7d7d7"/><circle cx="546.5" cy="499.1" r="3.3" fill="#dadada"/><circle cx="542.5" cy="541.5" r="4.3" fill="#b9b9b9"/><circle cx="551.6" cy="508.8" r="4.2" fill="#c6c6c6"/><circle cx="575.8" cy="522.1" r="4.3" fill="#dddddd"/><circle cx="574.8" cy="527.7" r="4.3" fill="#b9b9b9"/><circle cx="555.2" cy="511.0" r="3.7" fill="#cecece"/><circle cx="589.1" cy="534.2" r="3.7" fill="#dcdcdc"/><circle cx="540.0" cy="499.7" r="3.3" fill="#e6e6e6"/><circle cx="581.5" cy="490.6" r="3.7" fill="#d6d6d6"/><circle cx="545.7" cy="515.9" r="3.9" fill="#c5c5c5"/><circle cx="579.6" cy="490.8" r="4.3" fill="#bababa"/><circle cx="528.5" cy="520.1" r="4.1" fill="#eeeeee"/><circle cx="557.6" cy="526.2" r="4.2" fill="#bbbbbb"/><circle cx="545.0" cy="501.2" r="3.6" fill="#dbdbdb"/><circle cx="548.3" cy="516.7" r="3.7" fill="#e4e4e4"/><circle cx="586.9" cy="536.9" r="4.1" fill="#ebebeb"/><circle cx="542.9" cy="536.9" r="3.1" fill="#cbcbcb"/><circle cx="583.6" cy="537.0" r="4.1" fill="#e1e1e1"/><circle cx="538.9" cy="516.9" r="4.1" fill="#c7c7c7"/><circle cx="547.2" cy="496.4" r="3.4" fill="#efefef"/><circle cx="549.9" cy="535.2" r="3.9" fill="#cdcdcd"/><circle cx="539.8" cy="520.7" r="3.4" fill="#e1e1e1"/><circle cx="577.5" cy="512.6" r="4.0" fill="#dbdbdb"/><circle cx="560.3" cy="493.3" r="3.7" fill="#cecece"/><circle cx="578.7" cy="533.8" r="4.2" fill="#cccccc"/><circle cx="532.2" cy="521.5" r="3.4" fill="#bcbcbc"/><circle cx="562.8" cy="498.4" r="3.5" fill="#e6e6e6"/><circle cx="582.0" cy="519.4" r="4.0" fill="#e2e2e2"/><circle cx="587.9" cy="519.9" r="4.1" fill="#cbcbcb"/><circle cx="574.9" cy="502.5" r="3.6" fill="#e4e4e4"/><circle cx="525.1" cy="517.6" r="3.7" fill="#e2e2e2"/><circle cx="557.4" cy="516.4" r="3.4" fill="#c3c3c3"/><circle cx="526.0" cy="536.0" r="3.2" fill="#d5d5d5"/><circle cx="526.4" cy="528.5" r="3.4" fill="#bababa"/><circle cx="561.0" cy="530.6" r="4.1" fill="#d2d2d2"/><circle cx="532.0" cy="506.2" r="3.5" fill="#d4d4d4"/><circle cx="550.6" cy="505.2" r="3.1" fill="#cfcfcf"/><circle cx="534.2" cy="524.9" r="4.2" fill="#e6e6e6"/><circle cx="562.1" cy="521.0" r="3.2" fill="#bcbcbc"/><circle cx="579.1" cy="536.0" r="4.1" fill="#dedede"/><circle cx="578.8" cy="500.3" r="3.3" fill="#efefef"/><circle cx="525.2" cy="525.1" r="3.6" fill="#e9e9e9"/><circle cx="549.7" cy="520.5" r="4.0" fill="#dcdcdc"/><circle cx="561.7" cy="502.9" r="3.7" fill="#d4d4d4"/><circle cx="536.5" cy="501.0" r="3.6" fill="#e2e2e2"/><circle cx="549.1" cy="537.9" r="3.3" fill="#d3d3d3"/><circle cx="593.0" cy="534.8" r="3.7" fill="#d2d2d2"/><circle cx="529.9" cy="541.8" r="3.0" fill="#d4d4d4"/><circle cx="536.2" cy="508.7" r="3.8" fill="#e9e9e9"/><circle cx="550.6" cy="500.7" r="3.2" fill="#bcbcbc"/><circle cx="528.5" cy="517.5" r="3.4" fill="#cacaca"/><circle cx="540.5" cy="512.5" r="3.1" fill="#ebebeb"/><circle cx="527.2" cy="529.5" r="3.9" fill="#bababa"/><circle cx="561.9" cy="512.7" r="3.8" fill="#d1d1d1"/><circle cx="534.1" cy="525.0" r="4.2" fill="#dbdbdb"/><circle cx="556.4" cy="513.7" r="3.5" fill="#c7c7c7"/><circle cx="569.0" cy="515.6" r="3.6" fill="#e4e4e4"/><circle cx="566.7" cy="495.4" r="3.5" fill="#c3c3c3"/><circle cx="537.8" cy="499.9" r="3.9" fill="#ececec"/><circle cx="537.3" cy="522.3" r="3.0" fill="#e0e0e0"/><circle cx="523.9" cy="504.8" r="4.1" fill="#cacaca"/><circle cx="577.3" cy="502.7" r="4.1" fill="#d7d7d7"/><circle cx="563.3" cy="536.9" r="3.2" fill="#cccccc"/><circle cx="591.9" cy="526.5" r="4.3" fill="#dfdfdf"/><circle cx="577.8" cy="531.1" r="4.0" fill="#e4e4e4"/></g></g>
<text x="525.6" y="486.6" font-size="8.8" font-weight="bold" fill="#fff">HAADF</text>
<g clip-path="url(#cpC)"><path d="M601.4,492.3 L624.2,488.0 L647.1,489.2 L666.1,498.5 L669.9,514.0 L681.3,526.4 L681.3,541.9 L601.4,541.9 Z" fill="#fff" filter="url(#spC)"/></g>
<g clip-path="url(#cpN)"><path d="M523.6,553.7 L538.8,554.9 L557.9,558.6 L573.1,555.6 L576.9,570.9 L580.8,583.2 L596.0,592.4 L603.6,604.7 L523.6,604.7 Z" fill="#fff" filter="url(#spN)"/></g>
<g clip-path="url(#cpO)"><path d="M603.7,564.8 L624.2,562.3 L639.4,561.1 L654.7,555.6 L658.5,567.8 L650.9,577.0 L658.5,589.3 L658.5,604.7 L603.7,604.7 Z" fill="#17757c" filter="url(#ob)"/><g fill="#3bb4bd" filter="url(#ob)"><circle cx="661.8" cy="601.6" r="4.8" fill-opacity="0.53"/><circle cx="641.7" cy="603.2" r="4.1" fill-opacity="0.53"/><circle cx="638.7" cy="592.7" r="4.4" fill-opacity="0.35"/><circle cx="660.6" cy="591.7" r="4.8" fill-opacity="0.42"/><circle cx="628.7" cy="570.5" r="4.8" fill-opacity="0.55"/><circle cx="655.2" cy="570.6" r="4.3" fill-opacity="0.37"/><circle cx="643.0" cy="559.0" r="4.8" fill-opacity="0.59"/><circle cx="619.0" cy="583.8" r="4.3" fill-opacity="0.59"/><circle cx="625.6" cy="566.6" r="4.8" fill-opacity="0.38"/><circle cx="627.9" cy="582.9" r="4.0" fill-opacity="0.42"/><circle cx="606.1" cy="571.7" r="3.8" fill-opacity="0.47"/><circle cx="639.2" cy="566.2" r="4.7" fill-opacity="0.36"/><circle cx="637.8" cy="583.4" r="4.5" fill-opacity="0.57"/><circle cx="626.3" cy="564.4" r="4.6" fill-opacity="0.47"/><circle cx="638.8" cy="574.4" r="4.6" fill-opacity="0.42"/><circle cx="639.6" cy="602.4" r="4.7" fill-opacity="0.51"/><circle cx="629.7" cy="604.1" r="4.5" fill-opacity="0.42"/><circle cx="658.5" cy="554.7" r="3.8" fill-opacity="0.36"/><circle cx="612.4" cy="573.8" r="4.1" fill-opacity="0.35"/><circle cx="653.4" cy="589.6" r="4.1" fill-opacity="0.54"/><circle cx="601.9" cy="587.5" r="4.9" fill-opacity="0.57"/><circle cx="617.4" cy="598.2" r="5.0" fill-opacity="0.40"/><circle cx="626.1" cy="572.3" r="4.1" fill-opacity="0.59"/><circle cx="626.3" cy="601.6" r="4.8" fill-opacity="0.48"/><circle cx="631.7" cy="586.7" r="3.5" fill-opacity="0.38"/><circle cx="616.9" cy="602.1" r="4.9" fill-opacity="0.40"/><circle cx="614.1" cy="584.6" r="4.1" fill-opacity="0.60"/><circle cx="628.6" cy="569.5" r="4.6" fill-opacity="0.42"/><circle cx="646.9" cy="575.0" r="5.0" fill-opacity="0.43"/><circle cx="628.2" cy="567.5" r="4.4" fill-opacity="0.44"/><circle cx="606.6" cy="568.1" r="3.7" fill-opacity="0.36"/><circle cx="602.6" cy="600.6" r="4.5" fill-opacity="0.55"/><circle cx="608.7" cy="583.5" r="4.3" fill-opacity="0.57"/><circle cx="658.2" cy="549.0" r="3.7" fill-opacity="0.56"/><circle cx="658.3" cy="598.7" r="4.8" fill-opacity="0.50"/><circle cx="633.9" cy="599.1" r="3.6" fill-opacity="0.53"/><circle cx="601.7" cy="581.0" r="4.8" fill-opacity="0.59"/><circle cx="605.9" cy="586.1" r="4.3" fill-opacity="0.43"/><circle cx="614.8" cy="584.5" r="4.9" fill-opacity="0.40"/><circle cx="620.0" cy="591.2" r="4.0" fill-opacity="0.43"/><circle cx="623.1" cy="563.4" r="4.9" fill-opacity="0.59"/><circle cx="640.7" cy="596.5" r="3.7" fill-opacity="0.41"/><circle cx="603.1" cy="571.2" r="4.1" fill-opacity="0.36"/><circle cx="626.0" cy="594.9" r="3.7" fill-opacity="0.42"/><circle cx="636.8" cy="569.3" r="3.6" fill-opacity="0.56"/><circle cx="662.6" cy="603.1" r="4.9" fill-opacity="0.55"/><circle cx="610.8" cy="562.4" r="4.5" fill-opacity="0.47"/><circle cx="603.5" cy="575.3" r="3.6" fill-opacity="0.56"/><circle cx="662.1" cy="597.6" r="4.1" fill-opacity="0.47"/><circle cx="659.4" cy="550.4" r="4.4" fill-opacity="0.60"/><circle cx="602.2" cy="601.8" r="4.8" fill-opacity="0.49"/><circle cx="606.8" cy="583.9" r="4.6" fill-opacity="0.39"/><circle cx="633.4" cy="558.1" r="3.8" fill-opacity="0.58"/><circle cx="650.4" cy="602.7" r="4.9" fill-opacity="0.37"/><circle cx="652.9" cy="596.5" r="4.9" fill-opacity="0.39"/><circle cx="652.2" cy="598.7" r="4.5" fill-opacity="0.43"/><circle cx="612.9" cy="575.4" r="4.9" fill-opacity="0.43"/><circle cx="663.5" cy="594.3" r="4.8" fill-opacity="0.53"/><circle cx="637.5" cy="572.0" r="4.0" fill-opacity="0.55"/><circle cx="627.6" cy="600.2" r="4.1" fill-opacity="0.59"/><circle cx="639.9" cy="558.2" r="3.8" fill-opacity="0.39"/><circle cx="625.7" cy="598.3" r="4.2" fill-opacity="0.48"/><circle cx="641.7" cy="585.2" r="4.7" fill-opacity="0.49"/><circle cx="630.9" cy="595.5" r="4.6" fill-opacity="0.35"/><circle cx="652.8" cy="570.6" r="4.9" fill-opacity="0.39"/><circle cx="650.4" cy="597.9" r="4.2" fill-opacity="0.42"/><circle cx="612.5" cy="558.5" r="3.8" fill-opacity="0.48"/><circle cx="626.2" cy="585.9" r="4.9" fill-opacity="0.52"/><circle cx="607.1" cy="561.5" r="3.5" fill-opacity="0.36"/><circle cx="643.8" cy="584.1" r="4.6" fill-opacity="0.37"/><circle cx="661.1" cy="604.1" r="3.7" fill-opacity="0.51"/><circle cx="660.0" cy="603.4" r="3.7" fill-opacity="0.50"/><circle cx="648.6" cy="585.8" r="4.8" fill-opacity="0.58"/><circle cx="657.7" cy="587.5" r="3.7" fill-opacity="0.41"/><circle cx="612.1" cy="583.4" r="4.0" fill-opacity="0.55"/><circle cx="637.3" cy="562.2" r="4.0" fill-opacity="0.50"/><circle cx="620.3" cy="588.0" r="4.3" fill-opacity="0.57"/><circle cx="632.6" cy="588.1" r="4.4" fill-opacity="0.49"/><circle cx="654.2" cy="590.2" r="4.5" fill-opacity="0.59"/><circle cx="622.3" cy="580.7" r="3.8" fill-opacity="0.53"/><circle cx="627.7" cy="594.2" r="3.8" fill-opacity="0.37"/><circle cx="638.3" cy="571.6" r="3.9" fill-opacity="0.50"/><circle cx="642.0" cy="564.0" r="4.0" fill-opacity="0.43"/><circle cx="623.8" cy="592.8" r="4.6" fill-opacity="0.39"/><circle cx="619.9" cy="600.9" r="3.6" fill-opacity="0.52"/><circle cx="639.0" cy="573.2" r="4.4" fill-opacity="0.47"/><circle cx="619.7" cy="604.6" r="4.2" fill-opacity="0.55"/><circle cx="637.9" cy="596.3" r="4.5" fill-opacity="0.38"/><circle cx="646.1" cy="587.3" r="3.5" fill-opacity="0.59"/><circle cx="605.1" cy="570.0" r="4.9" fill-opacity="0.38"/><circle cx="622.3" cy="597.2" r="4.9" fill-opacity="0.51"/><circle cx="615.3" cy="578.5" r="4.6" fill-opacity="0.40"/><circle cx="645.6" cy="570.2" r="4.3" fill-opacity="0.55"/><circle cx="633.9" cy="599.9" r="4.3" fill-opacity="0.46"/><circle cx="616.2" cy="584.2" r="4.4" fill-opacity="0.42"/><circle cx="653.1" cy="556.0" r="4.3" fill-opacity="0.47"/><circle cx="616.1" cy="574.9" r="3.7" fill-opacity="0.35"/><circle cx="663.9" cy="556.0" r="4.5" fill-opacity="0.54"/><circle cx="608.0" cy="578.6" r="4.4" fill-opacity="0.52"/><circle cx="640.5" cy="597.7" r="4.8" fill-opacity="0.46"/><circle cx="635.6" cy="572.7" r="3.6" fill-opacity="0.46"/><circle cx="608.0" cy="583.1" r="4.0" fill-opacity="0.51"/><circle cx="615.1" cy="572.5" r="4.6" fill-opacity="0.44"/><circle cx="622.4" cy="594.5" r="3.6" fill-opacity="0.40"/><circle cx="641.5" cy="565.8" r="3.8" fill-opacity="0.43"/><circle cx="614.0" cy="591.9" r="3.6" fill-opacity="0.41"/><circle cx="624.2" cy="593.1" r="5.0" fill-opacity="0.42"/><circle cx="612.8" cy="595.3" r="4.8" fill-opacity="0.41"/><circle cx="615.5" cy="589.5" r="4.8" fill-opacity="0.36"/><circle cx="601.6" cy="587.0" r="4.0" fill-opacity="0.42"/></g></g>
<g clip-path="url(#cpO)"><path d="M601.4,558.6 L612.8,555.6 L628.0,558.6 L639.4,557.4 L648.6,552.5 L658.5,547.6 L666.1,553.7 L664.6,564.8 L654.7,570.9 L656.2,583.2 L662.3,588.1 L666.1,595.5 L662.3,604.7 L601.4,604.7 Z" fill="#fff" filter="url(#spO)"/></g>
<text x="604" y="487.0" font-size="9.5" font-weight="bold" fill="#e02020">C</text>
<text x="525.4" y="549.9000000000001" font-size="9.5" font-weight="bold" fill="#30b050">N</text>
<text x="603.8" y="549.9000000000001" font-size="9.5" font-weight="bold" fill="#40c0d0">O</text>
<text x="658.9" y="589.7" font-size="10" font-weight="bold" fill="#fff" text-anchor="middle">400 nm</text>
<rect x="645" y="591.6" width="28.8" height="2.6" fill="#fff"/>
<g clip-path="url(#saxc)"><rect x="584.4" y="173.1" width="49" height="42.6" fill="#0b1246"/><rect x="584.4" y="173.1" width="49" height="42.6" fill="#fff" filter="url(#saxn)" opacity="0.35"/><ellipse cx="609.3" cy="194.3" rx="23.5" ry="20.5" fill="url(#saxs)"/><line x1="603.3" y1="184" x2="603.3" y2="205" stroke="#7a1010" stroke-width="0.7" opacity="0.7"/><rect x="584.4" y="173.1" width="49" height="3.6" fill="#0a0d30"/><rect x="584.4" y="176.7" width="49" height="4" fill="#020204"/></g>
<text x="589.5" y="225.2" font-size="10" font-style="italic" fill="#111">f</text><text x="593" y="225.6" font-size="6" fill="#111">PAM</text><text x="608" y="225.3" font-size="10" fill="#111">= 1/4</text>
<text x="0" y="9.6" font-size="16" text-anchor="start" font-weight="bold" fill="#000" >a</text>
<text x="0" y="173" font-size="16" text-anchor="start" font-weight="bold" fill="#000" >b</text>
<text x="0" y="320.5" font-size="16" text-anchor="start" font-weight="bold" fill="#000" >c</text>
<text x="0" y="480.5" font-size="16" text-anchor="start" font-weight="bold" fill="#000" >d</text>
<text x="368" y="480.5" font-size="16" text-anchor="start" font-weight="bold" fill="#000" >e</text>
<text x="0" y="621" font-size="16" text-anchor="start" font-weight="bold" fill="#000" >f</text>
<text x="19.3" y="12" font-size="14" text-anchor="start" fill="#111" >(i)</text>
<text x="208.8" y="12" font-size="14" text-anchor="start" fill="#111" >(ii)</text>
<text x="391.7" y="12" font-size="14" text-anchor="start" fill="#111" >(iii)</text>
<text x="539.7" y="12" font-size="14" text-anchor="start" fill="#111" >(iv)</text>
<rect x="242.6" y="19.5" width="141.6" height="112.0" fill="none" stroke="#3a3a3a" stroke-width="0.9"/>
<line x1="242.6" y1="131.5" x2="242.6" y2="129.0" stroke="#3a3a3a" stroke-width="0.8" />
<text x="242.6" y="141.8" font-size="9.2" text-anchor="middle" fill="#1a1a1a" >0</text>
<line x1="289.8" y1="131.5" x2="289.8" y2="129.0" stroke="#3a3a3a" stroke-width="0.8" />
<text x="289.8" y="141.8" font-size="9.2" text-anchor="middle" fill="#1a1a1a" >200</text>
<line x1="337.0" y1="131.5" x2="337.0" y2="129.0" stroke="#3a3a3a" stroke-width="0.8" />
<text x="337.0" y="141.8" font-size="9.2" text-anchor="middle" fill="#1a1a1a" >400</text>
<line x1="384.2" y1="131.5" x2="384.2" y2="129.0" stroke="#3a3a3a" stroke-width="0.8" />
<text x="384.2" y="141.8" font-size="9.2" text-anchor="middle" fill="#1a1a1a" >600</text>
<line x1="266.2" y1="131.5" x2="266.2" y2="130.0" stroke="#3a3a3a" stroke-width="0.7" />
<line x1="313.4" y1="131.5" x2="313.4" y2="130.0" stroke="#3a3a3a" stroke-width="0.7" />
<line x1="360.6" y1="131.5" x2="360.6" y2="130.0" stroke="#3a3a3a" stroke-width="0.7" />
<line x1="242.6" y1="131.5" x2="245.1" y2="131.5" stroke="#3a3a3a" stroke-width="0.8" />
<text x="240.1" y="134.8" font-size="9.2" text-anchor="end" fill="#1a1a1a" >0</text>
<line x1="242.6" y1="109.0" x2="245.1" y2="109.0" stroke="#3a3a3a" stroke-width="0.8" />
<text x="240.1" y="112.3" font-size="9.2" text-anchor="end" fill="#1a1a1a" >5</text>
<line x1="242.6" y1="86.5" x2="245.1" y2="86.5" stroke="#3a3a3a" stroke-width="0.8" />
<text x="240.1" y="89.8" font-size="9.2" text-anchor="end" fill="#1a1a1a" >10</text>
<line x1="242.6" y1="64.0" x2="245.1" y2="64.0" stroke="#3a3a3a" stroke-width="0.8" />
<text x="240.1" y="67.3" font-size="9.2" text-anchor="end" fill="#1a1a1a" >15</text>
<line x1="242.6" y1="41.5" x2="245.1" y2="41.5" stroke="#3a3a3a" stroke-width="0.8" />
<text x="240.1" y="44.8" font-size="9.2" text-anchor="end" fill="#1a1a1a" >20</text>
<line x1="242.6" y1="19.0" x2="245.1" y2="19.0" stroke="#3a3a3a" stroke-width="0.8" />
<text x="240.1" y="22.3" font-size="9.2" text-anchor="end" fill="#1a1a1a" >25</text>
<line x1="242.6" y1="120.25" x2="244.1" y2="120.25" stroke="#3a3a3a" stroke-width="0.7" />
<line x1="242.6" y1="97.75" x2="244.1" y2="97.75" stroke="#3a3a3a" stroke-width="0.7" />
<line x1="242.6" y1="75.25" x2="244.1" y2="75.25" stroke="#3a3a3a" stroke-width="0.7" />
<line x1="242.6" y1="52.75" x2="244.1" y2="52.75" stroke="#3a3a3a" stroke-width="0.7" />
<line x1="242.6" y1="30.25" x2="244.1" y2="30.25" stroke="#3a3a3a" stroke-width="0.7" />
<text x="313.4" y="153.0" font-size="10" text-anchor="middle" fill="#1a1a1a" >Strain (%)</text>
<text x="226.5" y="75.5" font-size="10" text-anchor="middle" fill="#1a1a1a" transform="rotate(-90 226.5 75.5)" >Stress (MPa)</text>
<polyline points="242.60,131.50 242.62,128.51 242.66,124.33 242.70,119.41 242.74,114.17 242.79,109.05 242.84,104.50 242.89,100.36 242.95,96.25 243.01,92.27 243.07,88.50 243.13,85.05 243.19,82.00 243.24,79.39 243.29,77.13 243.34,75.19 243.40,73.52 243.46,72.05 243.54,70.75 243.64,69.64 243.74,68.77 243.85,68.11 243.97,67.63 244.10,67.32 244.25,67.15 244.40,67.12 244.54,67.25 244.69,67.54 244.88,68.00 245.12,68.62 245.43,69.40 245.83,70.46 246.30,71.83 246.82,73.37 247.37,74.92 247.94,76.34 248.50,77.50 249.06,78.39 249.65,79.13 250.24,79.75 250.84,80.27 251.44,80.71 252.04,81.10 252.60,81.44 253.13,81.70 253.66,81.89 254.23,82.00 254.85,82.04 255.58,82.00 256.44,81.86 257.42,81.60 258.46,81.27 259.51,80.90 260.54,80.53 261.48,80.20 262.31,79.91 263.05,79.62 263.77,79.33 264.50,79.03 265.29,78.73 266.20,78.40 267.24,78.06 268.39,77.72 269.59,77.36 270.83,76.98 272.07,76.58 273.28,76.15 274.43,75.70 275.55,75.25 276.67,74.77 277.83,74.25 279.04,73.67 280.36,73.00 281.80,72.24 283.33,71.40 284.93,70.50 286.57,69.55 288.20,68.58 289.80,67.60 291.40,66.58 293.03,65.50 294.67,64.39 296.27,63.30 297.80,62.26 299.24,61.30 300.60,60.42 301.92,59.60 303.18,58.82 304.34,58.10 305.40,57.42 306.32,56.80 307.10,56.21 307.75,55.67 308.30,55.17 308.74,54.73 309.10,54.37 309.39,54.10 309.62,63.55" fill="none" stroke="#e2474a" stroke-width="1.3" stroke-linejoin="round" stroke-linecap="round" />
<polyline points="242.60,131.50 242.62,129.49 242.65,126.67 242.69,123.34 242.73,119.83 242.78,116.45 242.84,113.50 242.90,110.91 242.97,108.42 243.04,106.05 243.12,103.83 243.21,101.81 243.31,100.00 243.41,98.42 243.52,97.05 243.63,95.87 243.75,94.85 243.88,93.98 244.02,93.25 244.14,92.67 244.26,92.25 244.38,91.98 244.53,91.85 244.72,91.83 244.96,91.90 245.24,92.11 245.55,92.47 245.90,92.94 246.31,93.48 246.77,94.05 247.32,94.60 247.97,95.18 248.72,95.83 249.53,96.51 250.38,97.17 251.23,97.75 252.04,98.20 252.80,98.52 253.53,98.73 254.25,98.87 255.01,98.97 255.84,99.03 256.76,99.10 257.80,99.17 258.95,99.22 260.15,99.24 261.39,99.23 262.63,99.19 263.84,99.10 264.99,98.97 266.11,98.82 267.23,98.62 268.39,98.38 269.60,98.09 270.92,97.75 272.36,97.33 273.89,96.85 275.49,96.32 277.13,95.75 278.76,95.17 280.36,94.60 281.91,94.04 283.42,93.48 284.93,92.91 286.48,92.32 288.09,91.68 289.80,91.00 291.66,90.24 293.65,89.42 295.70,88.55 297.75,87.68 299.74,86.84 301.60,86.05 303.38,85.30 305.14,84.55 306.84,83.83 308.42,83.15 309.84,82.53 311.04,82.00 312.01,81.55 312.79,81.17 313.40,80.85 313.88,80.58 314.26,80.37 314.58,80.20 314.70,90.10" fill="none" stroke="#3aaa62" stroke-width="1.3" stroke-linejoin="round" stroke-linecap="round" />
<polyline points="242.60,131.50 242.62,129.96 242.65,127.77 242.69,125.20 242.73,122.53 242.78,120.04 242.84,118.00 242.89,116.39 242.95,114.98 243.01,113.75 243.09,112.67 243.19,111.69 243.31,110.80 243.44,110.03 243.59,109.40 243.75,108.89 243.95,108.45 244.19,108.05 244.49,107.65 244.82,107.27 245.15,106.95 245.54,106.67 246.00,106.40 246.58,106.13 247.32,105.85 248.20,105.56 249.19,105.27 250.30,104.98 251.53,104.68 252.90,104.38 254.40,104.05 256.09,103.71 257.98,103.35 260.00,102.98 262.09,102.60 264.18,102.21 266.20,101.80 268.17,101.39 270.13,100.98 272.10,100.56 274.07,100.12 276.03,99.63 278.00,99.10 279.97,98.50 281.93,97.85 283.90,97.16 285.87,96.45 287.83,95.74 289.80,95.05 291.77,94.39 293.73,93.75 295.70,93.11 297.67,92.45 299.63,91.75 301.60,91.00 303.59,90.17 305.62,89.27 307.65,88.33 309.64,87.38 311.57,86.46 313.40,85.60 315.18,84.76 316.95,83.92 318.65,83.10 320.24,82.33 321.65,81.66 322.84,81.10 323.78,80.68 324.52,80.37 325.08,80.14 325.51,79.98 325.86,79.86 326.14,79.75 326.38,89.20" fill="none" stroke="#3b78c9" stroke-width="1.3" stroke-linejoin="round" stroke-linecap="round" />
<polyline points="242.60,131.50 242.62,130.73 242.65,129.65 242.69,128.38 242.73,127.05 242.78,125.80 242.84,124.75 242.89,123.90 242.95,123.15 243.01,122.47 243.09,121.85 243.19,121.27 243.31,120.70 243.44,120.16 243.59,119.67 243.75,119.21 243.95,118.78 244.19,118.38 244.49,118.00 244.82,117.65 245.15,117.33 245.54,117.04 246.00,116.77 246.58,116.49 247.32,116.20 248.20,115.91 249.19,115.62 250.30,115.33 251.53,115.03 252.90,114.73 254.40,114.40 256.09,114.06 257.98,113.72 260.00,113.36 262.09,112.98 264.18,112.58 266.20,112.15 268.17,111.68 270.13,111.18 272.10,110.66 274.07,110.12 276.03,109.56 278.00,109.00 279.97,108.43 281.93,107.85 283.90,107.26 285.87,106.65 287.83,106.03 289.80,105.40 291.77,104.75 293.73,104.08 295.70,103.40 297.67,102.72 299.63,102.03 301.60,101.35 303.57,100.69 305.53,100.03 307.50,99.38 309.47,98.72 311.43,98.03 313.40,97.30 315.37,96.53 317.33,95.73 319.30,94.91 321.27,94.07 323.23,93.21 325.20,92.35 327.23,91.46 329.33,90.52 331.42,89.57 333.45,88.63 335.33,87.75 337.00,86.95 338.48,86.20 339.83,85.48 341.04,84.81 342.09,84.22 342.95,83.72 343.61,83.35 343.84,94.15" fill="none" stroke="#4a4a4a" stroke-width="1.3" stroke-linejoin="round" stroke-linecap="round" />
<line x1="260" y1="29.8" x2="272" y2="29.8" stroke="#4a4a4a" stroke-width="1.4" />
<text x="275" y="33.5" font-size="10" text-anchor="start" fill="#1a1a1a" >IPA</text>
<line x1="260" y1="44.8" x2="272" y2="44.8" stroke="#3b78c9" stroke-width="1.4" />
<text x="275" y="48.5" font-size="10" text-anchor="start" fill="#1a1a1a" >EtOH</text>
<line x1="313" y1="29.8" x2="325" y2="29.8" stroke="#3aaa62" stroke-width="1.4" />
<text x="328" y="33.5" font-size="10" text-anchor="start" fill="#1a1a1a" >MeOH</text>
<line x1="313" y1="44.8" x2="325" y2="44.8" stroke="#e2474a" stroke-width="1.4" />
<text x="328" y="48.5" font-size="10" text-anchor="start" fill="#1a1a1a" >70% MeOH</text>
<rect x="243" y="169.3" width="141.5" height="112.69999999999999" fill="none" stroke="#3a3a3a" stroke-width="0.9"/>
<line x1="243.0" y1="282" x2="243.0" y2="279.5" stroke="#3a3a3a" stroke-width="0.8" />
<text x="243.0" y="292.3" font-size="9.2" text-anchor="middle" fill="#1a1a1a" >0</text>
<line x1="283.4" y1="282" x2="283.4" y2="279.5" stroke="#3a3a3a" stroke-width="0.8" />
<text x="283.4" y="292.3" font-size="9.2" text-anchor="middle" fill="#1a1a1a" >200</text>
<line x1="323.8" y1="282" x2="323.8" y2="279.5" stroke="#3a3a3a" stroke-width="0.8" />
<text x="323.8" y="292.3" font-size="9.2" text-anchor="middle" fill="#1a1a1a" >400</text>
<line x1="364.2" y1="282" x2="364.2" y2="279.5" stroke="#3a3a3a" stroke-width="0.8" />
<text x="364.2" y="292.3" font-size="9.2" text-anchor="middle" fill="#1a1a1a" >600</text>
<line x1="263.2" y1="282" x2="263.2" y2="280.5" stroke="#3a3a3a" stroke-width="0.7" />
<line x1="303.6" y1="282" x2="303.6" y2="280.5" stroke="#3a3a3a" stroke-width="0.7" />
<line x1="344.0" y1="282" x2="344.0" y2="280.5" stroke="#3a3a3a" stroke-width="0.7" />
<line x1="384.4" y1="282" x2="384.4" y2="280.5" stroke="#3a3a3a" stroke-width="0.7" />
<line x1="243" y1="282.0" x2="245.5" y2="282.0" stroke="#3a3a3a" stroke-width="0.8" />
<text x="240.5" y="285.3" font-size="9.2" text-anchor="end" fill="#1a1a1a" >0</text>
<line x1="243" y1="253.8" x2="245.5" y2="253.8" stroke="#3a3a3a" stroke-width="0.8" />
<text x="240.5" y="257.1" font-size="9.2" text-anchor="end" fill="#1a1a1a" >10</text>
<line x1="243" y1="225.6" x2="245.5" y2="225.6" stroke="#3a3a3a" stroke-width="0.8" />
<text x="240.5" y="228.9" font-size="9.2" text-anchor="end" fill="#1a1a1a" >20</text>
<line x1="243" y1="197.4" x2="245.5" y2="197.4" stroke="#3a3a3a" stroke-width="0.8" />
<text x="240.5" y="200.70000000000002" font-size="9.2" text-anchor="end" fill="#1a1a1a" >30</text>
<line x1="243" y1="169.2" x2="245.5" y2="169.2" stroke="#3a3a3a" stroke-width="0.8" />
<text x="240.5" y="172.5" font-size="9.2" text-anchor="end" fill="#1a1a1a" >40</text>
<line x1="243" y1="267.9" x2="244.5" y2="267.9" stroke="#3a3a3a" stroke-width="0.7" />
<line x1="243" y1="239.7" x2="244.5" y2="239.7" stroke="#3a3a3a" stroke-width="0.7" />
<line x1="243" y1="211.5" x2="244.5" y2="211.5" stroke="#3a3a3a" stroke-width="0.7" />
<line x1="243" y1="183.3" x2="244.5" y2="183.3" stroke="#3a3a3a" stroke-width="0.7" />
<text x="313.75" y="303.5" font-size="10" text-anchor="middle" fill="#1a1a1a" >Strain (%)</text>
<text x="226.5" y="225.65" font-size="10" text-anchor="middle" fill="#1a1a1a" transform="rotate(-90 226.5 225.65)" >Stress (MPa)</text>
<polyline points="243.00,282.00 243.02,280.67 243.04,278.74 243.08,276.50 243.11,274.23 243.15,272.21 243.20,270.72 243.25,269.81 243.30,269.27 243.35,268.98 243.42,268.82 243.50,268.69 243.61,268.46 243.72,268.18 243.85,267.93 243.98,267.71 244.15,267.49 244.36,267.28 244.62,267.05 244.92,266.82 245.26,266.57 245.64,266.33 246.06,266.09 246.53,265.86 247.04,265.64 247.53,265.46 247.97,265.31 248.45,265.17 249.07,265.01 249.92,264.80 251.08,264.52 252.66,264.15 254.60,263.71 256.76,263.23 259.01,262.72 261.20,262.20 263.20,261.70 265.00,261.20 266.72,260.70 268.38,260.20 270.01,259.68 271.64,259.15 273.30,258.59 274.98,258.02 276.67,257.41 278.35,256.80 280.03,256.17 281.72,255.55 283.40,254.93 285.08,254.32 286.77,253.71 288.45,253.10 290.13,252.48 291.82,251.87 293.50,251.26 295.18,250.65 296.87,250.05 298.55,249.45 300.23,248.84 301.92,248.22 303.60,247.60 305.28,246.95 306.97,246.29 308.65,245.62 310.33,244.95 312.02,244.29 313.70,243.65 315.38,243.02 317.07,242.41 318.75,241.80 320.43,241.19 322.12,240.59 323.80,239.98 325.52,239.36 327.28,238.72 329.04,238.08 330.76,237.45 332.39,236.86 333.90,236.32 335.34,235.80 336.74,235.29 338.07,234.82 339.25,234.39 340.24,234.04 340.97,233.78 341.17,238.29" fill="none" stroke="#3aaa62" stroke-width="1.3" stroke-linejoin="round" stroke-linecap="round" />
<polyline points="243.00,282.00 243.02,278.87 243.05,274.48 243.08,269.31 243.12,263.83 243.16,258.50 243.20,253.80 243.24,249.57 243.29,245.39 243.33,241.37 243.39,237.61 243.44,234.20 243.50,231.24 243.58,228.76 243.65,226.70 243.74,224.98 243.83,223.56 243.92,222.38 244.01,221.37 244.10,220.60 244.20,220.12 244.29,219.87 244.40,219.80 244.50,219.85 244.62,219.96 244.73,220.14 244.84,220.43 244.96,220.84 245.09,221.37 245.24,222.02 245.42,222.78 245.63,223.72 245.85,224.85 246.09,226.09 246.37,227.39 246.68,228.66 247.04,229.83 247.45,230.96 247.91,232.10 248.40,233.21 248.93,234.27 249.49,235.22 250.07,236.03 250.67,236.69 251.30,237.22 251.96,237.66 252.65,238.01 253.37,238.31 254.11,238.57 254.88,238.79 255.68,238.95 256.51,239.05 257.36,239.10 258.25,239.13 259.16,239.14 260.09,239.13 261.03,239.09 262.00,239.03 263.01,238.93 264.08,238.78 265.22,238.57 266.43,238.34 267.69,238.08 269.01,237.78 270.38,237.40 271.81,236.92 273.30,236.32 274.87,235.59 276.52,234.76 278.22,233.83 279.96,232.80 281.69,231.65 283.40,230.39 285.08,228.98 286.77,227.42 288.45,225.74 290.13,224.00 291.82,222.25 293.50,220.52 295.18,218.83 296.87,217.13 298.55,215.41 300.23,213.67 301.92,211.90 303.60,210.09 305.30,208.22 307.00,206.28 308.71,204.31 310.41,202.34 312.08,200.40 313.70,198.53 315.37,196.61 317.10,194.61 318.81,192.64 320.40,190.82 321.75,189.27 322.79,188.09 323.44,187.39 323.76,187.07 323.86,187.02 323.84,187.11 323.78,187.23 323.80,187.25 323.90,193.73" fill="none" stroke="#e2474a" stroke-width="1.3" stroke-linejoin="round" stroke-linecap="round" />
<polyline points="243.00,282.00 243.02,279.43 243.04,275.79 243.08,271.51 243.11,267.06 243.15,262.89 243.20,259.44 243.26,256.66 243.31,254.17 243.38,251.95 243.45,249.99 243.52,248.26 243.61,246.75 243.69,245.51 243.79,244.56 243.88,243.84 243.99,243.30 244.10,242.88 244.21,242.52 244.33,242.24 244.44,242.08 244.55,242.04 244.68,242.11 244.84,242.28 245.02,242.52 245.23,242.89 245.47,243.40 245.73,244.00 246.01,244.65 246.31,245.30 246.64,245.90 246.97,246.49 247.32,247.11 247.70,247.72 248.10,248.31 248.55,248.84 249.06,249.29 249.62,249.66 250.21,249.98 250.85,250.24 251.54,250.45 252.29,250.60 253.10,250.70 253.97,250.73 254.90,250.71 255.88,250.63 256.92,250.50 258.01,250.33 259.16,250.13 260.39,249.90 261.70,249.62 263.07,249.31 264.47,248.95 265.87,248.57 267.24,248.16 268.59,247.71 269.93,247.22 271.28,246.70 272.63,246.15 273.97,245.60 275.32,245.06 276.67,244.51 278.01,243.96 279.36,243.40 280.71,242.83 282.05,242.26 283.40,241.67 284.74,241.08 286.07,240.48 287.40,239.88 288.74,239.26 290.10,238.64 291.48,238.01 292.99,237.32 294.65,236.57 296.33,235.80 297.89,235.09 299.21,234.49 300.17,234.06 300.27,238.85" fill="none" stroke="#3b78c9" stroke-width="1.3" stroke-linejoin="round" stroke-linecap="round" />
<polyline points="243.00,282.00 243.06,281.37 243.14,280.49 243.24,279.44 243.35,278.34 243.47,277.28 243.61,276.36 243.75,275.54 243.90,274.73 244.06,273.96 244.23,273.26 244.42,272.64 244.62,272.13 244.82,271.75 245.03,271.48 245.26,271.30 245.50,271.18 245.75,271.09 246.03,271.00 246.35,270.94 246.73,270.92 247.13,270.93 247.50,270.96 247.82,270.99 248.05,271.00 248.25,279.74" fill="none" stroke="#4a4a4a" stroke-width="1.3" stroke-linejoin="round" stroke-linecap="round" />
<line x1="345.5" y1="180.8" x2="357.7" y2="180.8" stroke="#3aaa62" stroke-width="1.4" />
<text x="360.5" y="185.10000000000002" font-size="11.5" text-anchor="start" fill="#1a1a1a" >1/6</text>
<line x1="345.5" y1="194.7" x2="357.7" y2="194.7" stroke="#e2474a" stroke-width="1.4" />
<text x="360.5" y="199.0" font-size="11.5" text-anchor="start" fill="#1a1a1a" >1/4</text>
<line x1="345.5" y1="208.8" x2="357.7" y2="208.8" stroke="#3b78c9" stroke-width="1.4" />
<text x="360.5" y="213.10000000000002" font-size="11.5" text-anchor="start" fill="#1a1a1a" >1/2</text>
<line x1="345.5" y1="222.5" x2="357.7" y2="222.5" stroke="#4a4a4a" stroke-width="1.4" />
<text x="360.5" y="226.8" font-size="11.5" text-anchor="start" fill="#1a1a1a" >1/1</text>
<rect x="242.3" y="319" width="141.7" height="112.39999999999998" fill="none" stroke="#3a3a3a" stroke-width="0.9"/>
<line x1="242.3" y1="431.4" x2="242.3" y2="428.9" stroke="#3a3a3a" stroke-width="0.8" />
<text x="242.3" y="441.7" font-size="9.2" text-anchor="middle" fill="#1a1a1a" >0</text>
<line x1="263.90000000000003" y1="431.4" x2="263.90000000000003" y2="428.9" stroke="#3a3a3a" stroke-width="0.8" />
<text x="263.90000000000003" y="441.7" font-size="9.2" text-anchor="middle" fill="#1a1a1a" >200</text>
<line x1="285.5" y1="431.4" x2="285.5" y2="428.9" stroke="#3a3a3a" stroke-width="0.8" />
<text x="285.5" y="441.7" font-size="9.2" text-anchor="middle" fill="#1a1a1a" >400</text>
<line x1="307.1" y1="431.4" x2="307.1" y2="428.9" stroke="#3a3a3a" stroke-width="0.8" />
<text x="307.1" y="441.7" font-size="9.2" text-anchor="middle" fill="#1a1a1a" >600</text>
<line x1="328.70000000000005" y1="431.4" x2="328.70000000000005" y2="428.9" stroke="#3a3a3a" stroke-width="0.8" />
<text x="328.70000000000005" y="441.7" font-size="9.2" text-anchor="middle" fill="#1a1a1a" >800</text>
<line x1="350.3" y1="431.4" x2="350.3" y2="428.9" stroke="#3a3a3a" stroke-width="0.8" />
<text x="350.3" y="441.7" font-size="9.2" text-anchor="middle" fill="#1a1a1a" >1000</text>
<line x1="371.9" y1="431.4" x2="371.9" y2="428.9" stroke="#3a3a3a" stroke-width="0.8" />
<text x="371.9" y="441.7" font-size="9.2" text-anchor="middle" fill="#1a1a1a" >1200</text>
<line x1="253.10000000000002" y1="431.4" x2="253.10000000000002" y2="429.9" stroke="#3a3a3a" stroke-width="0.7" />
<line x1="274.7" y1="431.4" x2="274.7" y2="429.9" stroke="#3a3a3a" stroke-width="0.7" />
<line x1="296.3" y1="431.4" x2="296.3" y2="429.9" stroke="#3a3a3a" stroke-width="0.7" />
<line x1="317.9" y1="431.4" x2="317.9" y2="429.9" stroke="#3a3a3a" stroke-width="0.7" />
<line x1="339.5" y1="431.4" x2="339.5" y2="429.9" stroke="#3a3a3a" stroke-width="0.7" />
<line x1="361.1" y1="431.4" x2="361.1" y2="429.9" stroke="#3a3a3a" stroke-width="0.7" />
<line x1="382.70000000000005" y1="431.4" x2="382.70000000000005" y2="429.9" stroke="#3a3a3a" stroke-width="0.7" />
<line x1="242.3" y1="431.4" x2="244.8" y2="431.4" stroke="#3a3a3a" stroke-width="0.8" />
<text x="239.8" y="434.7" font-size="9.2" text-anchor="end" fill="#1a1a1a" >0</text>
<line x1="242.3" y1="401.2" x2="244.8" y2="401.2" stroke="#3a3a3a" stroke-width="0.8" />
<text x="239.8" y="404.5" font-size="9.2" text-anchor="end" fill="#1a1a1a" >10</text>
<line x1="242.3" y1="371.0" x2="244.8" y2="371.0" stroke="#3a3a3a" stroke-width="0.8" />
<text x="239.8" y="374.3" font-size="9.2" text-anchor="end" fill="#1a1a1a" >20</text>
<line x1="242.3" y1="340.79999999999995" x2="244.8" y2="340.79999999999995" stroke="#3a3a3a" stroke-width="0.8" />
<text x="239.8" y="344.09999999999997" font-size="9.2" text-anchor="end" fill="#1a1a1a" >30</text>
<line x1="242.3" y1="416.29999999999995" x2="243.8" y2="416.29999999999995" stroke="#3a3a3a" stroke-width="0.7" />
<line x1="242.3" y1="386.09999999999997" x2="243.8" y2="386.09999999999997" stroke="#3a3a3a" stroke-width="0.7" />
<line x1="242.3" y1="355.9" x2="243.8" y2="355.9" stroke="#3a3a3a" stroke-width="0.7" />
<line x1="242.3" y1="325.7" x2="243.8" y2="325.7" stroke="#3a3a3a" stroke-width="0.7" />
<text x="313.15" y="452.9" font-size="10" text-anchor="middle" fill="#1a1a1a" >Strain (%)</text>
<text x="226.5" y="375.2" font-size="10" text-anchor="middle" fill="#1a1a1a" transform="rotate(-90 226.5 375.2)" >Stress (MPa)</text>
<polyline points="242.30,431.40 245.70,431.30 250.30,431.17 255.80,431.00 261.90,430.83 268.30,430.66 274.70,430.49 281.40,430.34 288.70,430.18 296.30,430.02 303.90,429.87 311.20,429.72 317.90,429.59 324.12,429.47 330.14,429.36 335.85,429.27 341.18,429.17 346.03,429.08 350.30,428.98 354.00,428.88 357.18,428.76 359.88,428.64 362.14,428.54 363.98,428.45 365.42,428.38 365.53,430.95" fill="none" stroke="#9b6fc6" stroke-width="1.3" stroke-linejoin="round" stroke-linecap="round" />
<polyline points="242.30,431.40 243.48,431.29 245.10,431.13 247.03,430.95 249.10,430.75 251.18,430.54 253.10,430.34 254.90,430.15 256.70,429.96 258.50,429.77 260.30,429.57 262.10,429.36 263.90,429.13 265.70,428.90 267.50,428.67 269.30,428.42 271.10,428.16 272.90,427.90 274.70,427.62 276.50,427.35 278.30,427.06 280.10,426.77 281.90,426.46 283.70,426.14 285.50,425.81 287.30,425.47 289.10,425.11 290.90,424.74 292.70,424.35 294.50,423.96 296.30,423.55 298.12,423.12 299.98,422.68 301.84,422.22 303.66,421.75 305.43,421.29 307.10,420.83 308.77,420.35 310.46,419.82 312.10,419.30 313.58,418.82 314.83,418.41 315.74,418.11 315.85,424.15" fill="none" stroke="#3aaa62" stroke-width="1.3" stroke-linejoin="round" stroke-linecap="round" />
<polyline points="242.30,431.40 243.48,431.11 245.10,430.71 247.03,430.23 249.10,429.71 251.18,429.18 253.10,428.68 254.90,428.21 256.70,427.74 258.50,427.27 260.30,426.77 262.10,426.24 263.90,425.66 265.70,425.04 267.50,424.38 269.30,423.68 271.10,422.96 272.90,422.21 274.70,421.43 276.54,420.64 278.42,419.81 280.30,418.96 282.14,418.09 283.89,417.20 285.50,416.30 286.96,415.37 288.30,414.41 289.55,413.43 290.74,412.45 291.90,411.49 293.06,410.56 294.28,409.61 295.54,408.62 296.77,407.64 297.90,406.74 298.85,405.98 299.54,405.43 299.65,412.07" fill="none" stroke="#3b78c9" stroke-width="1.3" stroke-linejoin="round" stroke-linecap="round" />
<polyline points="242.30,429.89 242.60,429.56 242.98,429.12 243.45,428.59 244.02,427.98 244.71,427.30 245.54,426.57 246.58,425.75 247.82,424.82 249.19,423.83 250.58,422.81 251.92,421.80 253.10,420.83 254.12,419.92 255.06,419.03 255.94,418.15 256.78,417.26 257.62,416.35 258.50,415.39 259.40,414.40 260.30,413.37 261.20,412.32 262.10,411.24 263.00,410.15 263.90,409.05 264.80,407.94 265.70,406.80 266.60,405.65 267.50,404.49 268.40,403.31 269.30,402.11 270.20,400.89 271.10,399.67 272.00,398.43 272.90,397.16 273.80,395.87 274.70,394.56 275.60,393.20 276.50,391.82 277.40,390.40 278.30,388.97 279.20,387.54 280.10,386.10 281.00,384.66 281.90,383.20 282.80,381.74 283.70,380.27 284.60,378.81 285.50,377.34 286.41,375.88 287.32,374.40 288.23,372.93 289.14,371.46 290.03,370.01 290.90,368.58 291.80,367.10 292.74,365.52 293.67,363.96 294.52,362.52 295.24,361.31 295.76,360.43 295.87,366.77" fill="none" stroke="#4a4a4a" stroke-width="1.3" stroke-linejoin="round" stroke-linecap="round" />
<polyline points="242.30,431.40 242.32,425.00 242.35,415.74 242.39,404.97 242.43,394.04 242.47,384.28 242.52,377.04 242.56,372.41 242.61,369.34 242.66,367.45 242.71,366.35 242.77,365.65 242.84,364.96 242.91,364.42 242.96,364.37 243.03,364.71 243.11,365.39 243.23,366.30 243.38,367.38 243.58,368.80 243.80,370.66 244.06,372.77 244.34,374.93 244.66,376.92 245.00,378.55 245.37,379.84 245.76,380.95 246.18,381.91 246.64,382.72 247.14,383.41 247.70,383.99 248.30,384.42 248.94,384.70 249.62,384.85 250.36,384.91 251.16,384.92 252.02,384.89 252.99,384.83 254.06,384.71 255.19,384.53 256.34,384.30 257.46,384.01 258.50,383.68 259.46,383.34 260.38,382.98 261.27,382.57 262.14,382.07 263.01,381.45 263.90,380.66 264.80,379.72 265.70,378.66 266.60,377.47 267.50,376.16 268.40,374.70 269.30,373.11 270.20,371.36 271.10,369.46 272.00,367.41 272.90,365.26 273.80,363.03 274.70,360.73 275.61,358.34 276.52,355.81 277.43,353.20 278.34,350.55 279.23,347.91 280.10,345.33 280.99,342.63 281.92,339.75 282.83,336.87 283.68,334.20 284.41,331.92 284.96,330.23 285.31,329.25 285.48,328.84 285.53,328.83 285.52,329.03 285.49,329.26 285.50,329.32 285.61,337.48" fill="none" stroke="#e2474a" stroke-width="1.3" stroke-linejoin="round" stroke-linecap="round" />
<line x1="344.5" y1="332.5" x2="357" y2="332.5" stroke="#e2474a" stroke-width="1.4" />
<text x="360" y="336.8" font-size="11.5" text-anchor="start" fill="#1a1a1a" >4.1</text>
<line x1="344.5" y1="345.6" x2="357" y2="345.6" stroke="#4a4a4a" stroke-width="1.4" />
<text x="360" y="349.90000000000003" font-size="11.5" text-anchor="start" fill="#1a1a1a" >4.6</text>
<line x1="344.5" y1="358.6" x2="357" y2="358.6" stroke="#3b78c9" stroke-width="1.4" />
<text x="360" y="362.90000000000003" font-size="11.5" text-anchor="start" fill="#1a1a1a" >5.1</text>
<line x1="344.5" y1="371.5" x2="357" y2="371.5" stroke="#3aaa62" stroke-width="1.4" />
<text x="360" y="375.8" font-size="11.5" text-anchor="start" fill="#1a1a1a" >6.3</text>
<line x1="344.5" y1="384.6" x2="357" y2="384.6" stroke="#9b6fc6" stroke-width="1.4" />
<text x="360" y="388.90000000000003" font-size="11.5" text-anchor="start" fill="#1a1a1a" >9.2</text>
<rect x="557" y="19" width="120" height="112" fill="none" stroke="#3a3a3a" stroke-width="0.9"/>
<line x1="603" y1="131" x2="603" y2="128.5" stroke="#3a3a3a" stroke-width="0.8" />
<line x1="677" y1="131" x2="677" y2="128.5" stroke="#3a3a3a" stroke-width="0.8" />
<line x1="566" y1="131" x2="566" y2="129.5" stroke="#3a3a3a" stroke-width="0.7" />
<line x1="640" y1="131" x2="640" y2="129.5" stroke="#3a3a3a" stroke-width="0.7" />
<text x="603" y="141.5" font-size="9.2" text-anchor="middle" fill="#1a1a1a" >0.01</text>
<text x="677.5" y="141.5" font-size="9.2" text-anchor="middle" fill="#1a1a1a" >0.02</text>
<text x="617" y="153" font-size="10" text-anchor="middle" fill="#1a1a1a" >q (Å<tspan dy="-3.5" font-size="6.5">-1</tspan><tspan dy="3.5">)</tspan></text>
<text x="551.5" y="75.0" font-size="10" text-anchor="middle" fill="#1a1a1a" transform="rotate(-90 551.5 75.0)" >Intensity (arb. units)</text>
<polyline points="557.00,27.40 558.00,36.63 559.00,40.14 560.00,43.46 561.00,46.65 562.00,49.73 563.00,52.70 564.00,55.55 565.00,58.30 566.00,60.95 567.00,63.50 568.00,65.95 569.00,68.32 570.00,70.60 571.00,72.79 572.00,74.91 573.00,76.94 574.00,78.90 575.00,80.79 576.00,82.61 577.00,84.36 578.00,86.05 579.00,87.67 580.00,89.24 581.00,90.74 582.00,92.20 583.00,93.46 584.00,94.96 585.00,96.17 586.00,97.54 587.00,98.75 588.00,99.63 589.00,100.72 590.00,102.21 591.00,102.95 592.00,103.94 593.00,105.28 594.00,105.94 595.00,107.01 596.00,107.69 597.00,108.60 598.00,109.15 599.00,110.16 600.00,111.01 601.00,111.55 602.00,112.34 603.00,112.97 604.00,113.30 605.00,114.26 606.00,114.76 607.00,115.19 608.00,115.60 609.00,116.54 610.00,116.85 611.00,117.46 612.00,118.01 613.00,118.38 614.00,118.92 615.00,119.08 616.00,119.69 617.00,119.90 618.00,120.52 619.00,120.85 620.00,120.81 621.00,121.16 622.00,121.53 623.00,122.21 624.00,122.25 625.00,122.63 626.00,122.75 627.00,123.12 628.00,123.31 629.00,123.54 630.00,123.90 631.00,124.13 632.00,124.51 633.00,124.61 634.00,124.94 635.00,125.11 636.00,125.36 637.00,125.39 638.00,125.31 639.00,125.83 640.00,126.05 641.00,126.17 642.00,126.16 643.00,126.38 644.00,126.27 645.00,126.71 646.00,126.72 647.00,126.70 648.00,126.71 649.00,127.22 650.00,127.40 651.00,127.06 652.00,127.52 653.00,127.42 654.00,127.39 655.00,127.56 656.00,127.88 657.00,128.02 658.00,127.69 659.00,128.06 660.00,127.85 661.00,128.26 662.00,128.14 663.00,128.48 664.00,128.60 665.00,128.43 666.00,128.74 667.00,128.45 668.00,128.39 669.00,128.71 670.00,128.48 671.00,128.61 672.00,128.77 673.00,128.91 674.00,128.73 675.00,128.72 676.00,129.18 677.00,129.03" fill="none" stroke="#4a4a4a" stroke-width="1.1" stroke-linejoin="round" stroke-linecap="round" />
<polyline points="557.00,20.65 558.00,23.60 559.00,26.48 560.00,29.27 561.00,31.99 562.00,34.63 563.00,37.20 564.00,39.70 565.00,42.13 566.00,44.50 567.00,46.80 568.00,49.03 569.00,51.21 570.00,53.33 571.00,55.38 572.00,57.39 573.00,59.33 574.00,61.23 575.00,63.07 576.00,64.86 577.00,66.60 578.00,68.30 579.00,69.95 580.00,71.55 581.00,73.11 582.00,74.63 583.00,76.01 584.00,77.77 585.00,79.13 586.00,80.23 587.00,81.59 588.00,82.90 589.00,84.21 590.00,85.40 591.00,86.57 592.00,87.75 593.00,89.02 594.00,89.89 595.00,90.91 596.00,92.09 597.00,92.85 598.00,93.85 599.00,95.13 600.00,95.83 601.00,96.73 602.00,97.34 603.00,98.38 604.00,99.29 605.00,99.81 606.00,100.89 607.00,101.65 608.00,102.11 609.00,103.11 610.00,103.72 611.00,104.51 612.00,105.00 613.00,105.82 614.00,106.46 615.00,106.71 616.00,107.32 617.00,108.20 618.00,108.90 619.00,109.09 620.00,109.72 621.00,110.30 622.00,110.66 623.00,111.17 624.00,111.62 625.00,112.11 626.00,112.67 627.00,112.96 628.00,113.42 629.00,114.03 630.00,114.05 631.00,114.71 632.00,115.17 633.00,115.33 634.00,115.64 635.00,116.28 636.00,116.34 637.00,116.64 638.00,117.09 639.00,117.53 640.00,117.54 641.00,117.94 642.00,118.23 643.00,118.76 644.00,118.84 645.00,119.31 646.00,119.22 647.00,119.55 648.00,119.95 649.00,120.31 650.00,120.32 651.00,120.43 652.00,120.60 653.00,121.01 654.00,121.05 655.00,121.55 656.00,121.76 657.00,121.63 658.00,121.86 659.00,122.30 660.00,122.39 661.00,122.64 662.00,122.58 663.00,122.63 664.00,122.87 665.00,123.27 666.00,123.16 667.00,123.34 668.00,123.51 669.00,123.65 670.00,123.77 671.00,124.16 672.00,123.90 673.00,123.95 674.00,124.53 675.00,124.62 676.00,124.78 677.00,124.65" fill="none" stroke="#3aaa62" stroke-width="1.1" stroke-linejoin="round" stroke-linecap="round" />
<line x1="627" y1="35.2" x2="638.5" y2="35.2" stroke="#4a4a4a" stroke-width="1.4" />
<text x="641.5" y="38.900000000000006" font-size="10" text-anchor="start" fill="#1a1a1a" >IPA</text>
<line x1="627" y1="51.2" x2="638.5" y2="51.2" stroke="#3aaa62" stroke-width="1.4" />
<text x="641.5" y="54.900000000000006" font-size="10" text-anchor="start" fill="#1a1a1a" >MeOH</text>
<rect x="557" y="169.3" width="120" height="113.0" fill="none" stroke="#3a3a3a" stroke-width="0.9"/>
<line x1="603" y1="282.3" x2="603" y2="279.8" stroke="#3a3a3a" stroke-width="0.8" />
<line x1="677" y1="282.3" x2="677" y2="279.8" stroke="#3a3a3a" stroke-width="0.8" />
<line x1="566" y1="282.3" x2="566" y2="280.8" stroke="#3a3a3a" stroke-width="0.7" />
<line x1="640" y1="282.3" x2="640" y2="280.8" stroke="#3a3a3a" stroke-width="0.7" />
<text x="603" y="292.8" font-size="9.2" text-anchor="middle" fill="#1a1a1a" >0.01</text>
<text x="677.5" y="292.8" font-size="9.2" text-anchor="middle" fill="#1a1a1a" >0.02</text>
<text x="617" y="304.3" font-size="10" text-anchor="middle" fill="#1a1a1a" >q (Å<tspan dy="-3.5" font-size="6.5">-1</tspan><tspan dy="3.5">)</tspan></text>
<text x="551.5" y="225.8" font-size="10" text-anchor="middle" fill="#1a1a1a" transform="rotate(-90 551.5 225.8)" >Intensity (arb.units)</text>
<polyline points="557.00,187.45 558.00,191.54 559.00,195.44 560.00,199.18 561.00,202.76 562.00,206.18 563.00,209.45 564.00,212.58 565.00,215.57 566.00,218.44 567.00,221.18 568.00,223.80 569.00,226.31 570.00,228.71 571.00,231.01 572.00,233.20 573.00,235.30 574.00,237.31 575.00,239.24 576.00,241.08 577.00,242.84 578.00,244.52 579.00,246.13 580.00,247.67 581.00,249.15 582.00,250.56 583.00,251.87 584.00,253.42 585.00,254.65 586.00,255.47 587.00,256.87 588.00,257.99 589.00,258.94 590.00,259.86 591.00,260.69 592.00,261.62 593.00,262.43 594.00,263.18 595.00,264.23 596.00,264.84 597.00,265.83 598.00,266.14 599.00,267.23 600.00,267.76 601.00,268.49 602.00,269.06 603.00,269.61 604.00,269.98 605.00,270.21 606.00,271.07 607.00,271.24 608.00,271.75 609.00,272.36 610.00,272.70 611.00,273.04 612.00,273.67 613.00,273.87 614.00,274.07 615.00,274.36 616.00,274.97 617.00,275.08 618.00,275.52 619.00,275.58 620.00,275.76 621.00,276.18 622.00,276.56 623.00,276.47 624.00,277.00 625.00,277.27 626.00,277.42 627.00,277.62 628.00,277.39 629.00,277.88 630.00,278.17 631.00,277.92 632.00,278.18 633.00,278.33 634.00,278.60 635.00,278.68 636.00,278.84 637.00,279.11 638.00,278.84 639.00,278.98 640.00,279.13 641.00,279.23 642.00,279.30 643.00,279.85 644.00,279.88 645.00,279.58 646.00,279.87 647.00,279.86 648.00,279.93 649.00,280.02 650.00,280.24 651.00,280.28 652.00,280.23 653.00,280.20 654.00,280.33 655.00,280.28 656.00,280.55 657.00,280.68 658.00,280.57 659.00,280.46 660.00,280.56 661.00,280.70 662.00,280.85 663.00,280.98 664.00,280.82 665.00,281.06 666.00,281.01 667.00,280.94 668.00,280.95 669.00,281.04 670.00,281.17 671.00,281.06 672.00,281.22 673.00,281.13 674.00,281.04 675.00,281.21 676.00,281.31 677.00,281.24" fill="none" stroke="#4a4a4a" stroke-width="1.1" stroke-linejoin="round" stroke-linecap="round" />
<polyline points="557.00,187.45 558.00,191.54 559.00,195.44 560.00,199.18 561.00,202.76 562.00,206.18 563.00,209.45 564.00,212.58 565.00,215.57 566.00,218.44 567.00,221.18 568.00,223.80 569.00,226.31 570.00,228.71 571.00,231.01 572.00,233.20 573.00,235.30 574.00,237.31 575.00,239.24 576.00,241.08 577.00,242.84 578.00,244.52 579.00,246.13 580.00,247.67 581.00,249.15 582.00,250.56 583.00,251.69 584.00,253.16 585.00,254.39 586.00,255.80 587.00,256.96 588.00,257.76 589.00,259.06 590.00,259.99 591.00,260.68 592.00,261.68 593.00,262.38 594.00,263.55 595.00,264.27 596.00,265.14 597.00,265.82 598.00,266.45 599.00,267.15 600.00,267.70 601.00,268.08 602.00,268.90 603.00,269.17 604.00,269.77 605.00,270.59 606.00,270.71 607.00,271.20 608.00,271.65 609.00,272.47 610.00,272.53 611.00,272.84 612.00,273.62 613.00,273.62 614.00,274.32 615.00,274.57 616.00,274.96 617.00,275.32 618.00,275.42 619.00,275.80 620.00,275.68 621.00,276.30 622.00,276.41 623.00,276.74 624.00,276.66 625.00,277.19 626.00,277.48 627.00,277.24 628.00,277.55 629.00,277.85 630.00,278.15 631.00,278.02 632.00,278.14 633.00,278.32 634.00,278.65 635.00,278.85 636.00,278.80 637.00,278.91 638.00,279.04 639.00,279.13 640.00,279.27 641.00,279.21 642.00,279.52 643.00,279.85 644.00,279.66 645.00,279.91 646.00,279.70 647.00,280.05 648.00,280.15 649.00,280.19 650.00,280.18 651.00,280.23 652.00,280.37 653.00,280.56 654.00,280.24 655.00,280.27 656.00,280.65 657.00,280.78 658.00,280.63 659.00,280.64 660.00,280.83 661.00,280.60 662.00,280.68 663.00,280.69 664.00,280.92 665.00,280.82 666.00,280.81 667.00,281.07 668.00,281.24 669.00,280.94 670.00,281.17 671.00,281.05 672.00,281.30 673.00,281.19 674.00,281.05 675.00,281.05 676.00,280.98 677.00,281.24" fill="none" stroke="#3b78c9" stroke-width="1.1" stroke-linejoin="round" stroke-linecap="round" />
<polyline points="557.00,181.82 558.00,184.56 559.00,187.22 560.00,189.81 561.00,192.33 562.00,194.78 563.00,197.16 564.00,199.48 565.00,201.73 566.00,203.92 567.00,206.04 568.00,208.11 569.00,210.12 570.00,212.08 571.00,213.98 572.00,215.83 573.00,217.63 574.00,219.38 575.00,221.08 576.00,222.73 577.00,224.34 578.00,225.90 579.00,227.42 580.00,228.90 581.00,230.34 582.00,231.73 583.00,233.08 584.00,234.35 585.00,235.53 586.00,236.88 587.00,238.07 588.00,239.48 589.00,240.31 590.00,241.85 591.00,242.68 592.00,243.79 593.00,244.75 594.00,245.93 595.00,246.90 596.00,247.71 597.00,248.59 598.00,249.60 599.00,250.53 600.00,251.15 601.00,252.13 602.00,253.04 603.00,253.57 604.00,254.21 605.00,254.94 606.00,255.89 607.00,256.57 608.00,257.38 609.00,257.98 610.00,258.31 611.00,258.91 612.00,259.54 613.00,260.09 614.00,260.92 615.00,261.55 616.00,262.11 617.00,262.31 618.00,263.12 619.00,263.34 620.00,263.88 621.00,264.50 622.00,264.63 623.00,265.07 624.00,265.87 625.00,266.02 626.00,266.46 627.00,266.97 628.00,267.40 629.00,267.44 630.00,267.96 631.00,268.37 632.00,268.74 633.00,268.93 634.00,269.44 635.00,269.94 636.00,269.97 637.00,270.34 638.00,270.42 639.00,270.78 640.00,271.25 641.00,271.24 642.00,271.89 643.00,272.15 644.00,271.99 645.00,272.65 646.00,272.60 647.00,273.02 648.00,273.23 649.00,273.22 650.00,273.61 651.00,273.80 652.00,274.08 653.00,274.00 654.00,274.43 655.00,274.71 656.00,274.74 657.00,274.84 658.00,274.80 659.00,275.15 660.00,275.23 661.00,275.57 662.00,275.70 663.00,275.78 664.00,275.73 665.00,276.10 666.00,276.22 667.00,276.13 668.00,276.61 669.00,276.61 670.00,276.46 671.00,276.98 672.00,276.70 673.00,276.90 674.00,277.20 675.00,277.24 676.00,277.32 677.00,277.39" fill="none" stroke="#3aaa62" stroke-width="1.1" stroke-linejoin="round" stroke-linecap="round" />
<polyline points="557.00,169.48 558.00,172.51 559.00,175.46 560.00,178.33 561.00,181.12 562.00,183.83 563.00,186.47 564.00,189.04 565.00,191.54 566.00,193.96 567.00,196.33 568.00,198.62 569.00,200.86 570.00,203.03 571.00,205.14 572.00,207.20 573.00,209.20 574.00,211.14 575.00,213.03 576.00,214.87 577.00,216.66 578.00,218.40 579.00,220.09 580.00,221.73 581.00,223.33 582.00,224.89 583.00,226.48 584.00,227.86 585.00,229.21 586.00,230.54 587.00,231.84 588.00,233.48 589.00,234.78 590.00,235.92 591.00,237.23 592.00,238.22 593.00,239.32 594.00,240.49 595.00,241.82 596.00,242.46 597.00,243.72 598.00,244.59 599.00,245.82 600.00,246.55 601.00,247.46 602.00,248.39 603.00,249.33 604.00,250.29 605.00,250.90 606.00,251.94 607.00,252.35 608.00,253.19 609.00,253.84 610.00,254.56 611.00,255.59 612.00,256.24 613.00,256.62 614.00,257.26 615.00,258.00 616.00,258.77 617.00,259.39 618.00,259.93 619.00,260.41 620.00,260.73 621.00,261.38 622.00,261.79 623.00,262.45 624.00,262.96 625.00,263.25 626.00,263.73 627.00,264.44 628.00,264.50 629.00,265.30 630.00,265.76 631.00,266.19 632.00,266.29 633.00,266.75 634.00,267.13 635.00,267.52 636.00,268.03 637.00,268.23 638.00,268.36 639.00,268.96 640.00,269.08 641.00,269.44 642.00,269.80 643.00,269.72 644.00,270.38 645.00,270.60 646.00,270.78 647.00,271.05 648.00,271.27 649.00,271.37 650.00,271.78 651.00,271.76 652.00,272.21 653.00,272.50 654.00,272.61 655.00,272.88 656.00,273.27 657.00,273.43 658.00,273.24 659.00,273.75 660.00,273.85 661.00,273.73 662.00,274.06 663.00,274.16 664.00,274.24 665.00,274.63 666.00,274.97 667.00,274.81 668.00,275.23 669.00,275.28 670.00,275.14 671.00,275.63 672.00,275.63 673.00,275.91 674.00,275.93 675.00,276.06 676.00,275.98 677.00,276.16" fill="none" stroke="#e2474a" stroke-width="1.1" stroke-linejoin="round" stroke-linecap="round" />
<line x1="643" y1="181" x2="655" y2="181" stroke="#3aaa62" stroke-width="1.4" />
<text x="658" y="185.3" font-size="11.5" text-anchor="start" fill="#1a1a1a" >1/6</text>
<line x1="643" y1="194.9" x2="655" y2="194.9" stroke="#e2474a" stroke-width="1.4" />
<text x="658" y="199.20000000000002" font-size="11.5" text-anchor="start" fill="#1a1a1a" >1/4</text>
<line x1="643" y1="209" x2="655" y2="209" stroke="#3b78c9" stroke-width="1.4" />
<text x="658" y="213.3" font-size="11.5" text-anchor="start" fill="#1a1a1a" >1/2</text>
<line x1="643" y1="223" x2="655" y2="223" stroke="#4a4a4a" stroke-width="1.4" />
<text x="658" y="227.3" font-size="11.5" text-anchor="start" fill="#1a1a1a" >1/1</text>
<rect x="557" y="318.2" width="120" height="112.60000000000002" fill="none" stroke="#3a3a3a" stroke-width="0.9"/>
<line x1="603" y1="430.8" x2="603" y2="428.3" stroke="#3a3a3a" stroke-width="0.8" />
<line x1="677" y1="430.8" x2="677" y2="428.3" stroke="#3a3a3a" stroke-width="0.8" />
<line x1="566" y1="430.8" x2="566" y2="429.3" stroke="#3a3a3a" stroke-width="0.7" />
<line x1="640" y1="430.8" x2="640" y2="429.3" stroke="#3a3a3a" stroke-width="0.7" />
<text x="603" y="441.3" font-size="9.2" text-anchor="middle" fill="#1a1a1a" >0.01</text>
<text x="677.5" y="441.3" font-size="9.2" text-anchor="middle" fill="#1a1a1a" >0.02</text>
<text x="617" y="452.8" font-size="10" text-anchor="middle" fill="#1a1a1a" >q (Å<tspan dy="-3.5" font-size="6.5">-1</tspan><tspan dy="3.5">)</tspan></text>
<text x="551.5" y="374.5" font-size="10" text-anchor="middle" fill="#1a1a1a" transform="rotate(-90 551.5 374.5)" >Intensity (arb.units)</text>
<polyline points="557.00,332.45 558.00,337.48 559.00,342.24 560.00,346.77 561.00,351.06 562.00,355.13 563.00,358.99 564.00,362.65 565.00,366.12 566.00,369.41 567.00,372.54 568.00,375.50 569.00,378.31 570.00,380.98 571.00,383.51 572.00,385.91 573.00,388.18 574.00,390.34 575.00,392.39 576.00,394.33 577.00,396.17 578.00,397.92 579.00,399.57 580.00,401.14 581.00,402.64 582.00,404.05 583.00,405.54 584.00,406.88 585.00,408.05 586.00,408.98 587.00,410.23 588.00,411.12 589.00,411.91 590.00,412.80 591.00,413.70 592.00,414.59 593.00,415.36 594.00,416.28 595.00,417.10 596.00,417.69 597.00,418.27 598.00,418.99 599.00,419.39 600.00,420.02 601.00,420.69 602.00,421.00 603.00,421.35 604.00,422.16 605.00,422.49 606.00,422.71 607.00,423.09 608.00,423.52 609.00,423.90 610.00,424.03 611.00,424.23 612.00,424.62 613.00,425.18 614.00,425.12 615.00,425.53 616.00,425.63 617.00,425.86 618.00,426.05 619.00,426.37 620.00,426.44 621.00,426.55 622.00,426.76 623.00,426.95 624.00,427.27 625.00,427.20 626.00,427.32 627.00,427.66 628.00,427.76 629.00,428.03 630.00,427.81 631.00,428.10 632.00,428.19 633.00,428.10 634.00,428.66 635.00,428.38 636.00,428.40 637.00,428.66 638.00,428.58 639.00,428.88 640.00,428.81 641.00,428.76 642.00,428.78 643.00,429.18 644.00,429.00 645.00,429.31 646.00,429.20 647.00,429.48 648.00,429.20 649.00,429.22 650.00,429.27 651.00,429.58 652.00,429.52 653.00,429.41 654.00,429.32 655.00,429.64 656.00,429.81 657.00,429.65 658.00,429.38 659.00,429.42 660.00,429.47 661.00,429.53 662.00,429.49 663.00,429.52 664.00,429.84 665.00,429.98 666.00,429.64 667.00,430.05 668.00,429.81 669.00,429.99 670.00,430.06 671.00,430.08 672.00,429.64 673.00,429.79 674.00,429.95 675.00,430.13 676.00,429.71 677.00,429.93" fill="none" stroke="#9b6fc6" stroke-width="1.1" stroke-linejoin="round" stroke-linecap="round" />
<polyline points="557.00,328.70 558.00,333.04 559.00,337.19 560.00,341.17 561.00,344.97 562.00,348.61 563.00,352.10 564.00,355.43 565.00,358.62 566.00,361.68 567.00,364.61 568.00,367.40 569.00,370.08 570.00,372.65 571.00,375.10 572.00,377.45 573.00,379.70 574.00,381.85 575.00,383.91 576.00,385.88 577.00,387.77 578.00,389.58 579.00,391.31 580.00,392.96 581.00,394.54 582.00,396.06 583.00,397.41 584.00,399.07 585.00,400.04 586.00,401.45 587.00,402.63 588.00,403.97 589.00,405.21 590.00,405.90 591.00,407.21 592.00,408.18 593.00,409.17 594.00,409.92 595.00,410.97 596.00,411.51 597.00,412.32 598.00,412.98 599.00,413.97 600.00,414.51 601.00,415.07 602.00,415.65 603.00,416.53 604.00,417.05 605.00,417.65 606.00,418.02 607.00,418.58 608.00,418.90 609.00,419.64 610.00,419.74 611.00,420.39 612.00,420.94 613.00,421.29 614.00,421.37 615.00,421.80 616.00,422.44 617.00,422.67 618.00,423.10 619.00,423.40 620.00,423.47 621.00,423.97 622.00,424.15 623.00,424.20 624.00,424.46 625.00,424.54 626.00,424.93 627.00,425.42 628.00,425.19 629.00,425.62 630.00,425.57 631.00,425.74 632.00,426.19 633.00,426.15 634.00,426.21 635.00,426.41 636.00,426.80 637.00,426.90 638.00,426.75 639.00,426.98 640.00,427.47 641.00,427.21 642.00,427.49 643.00,427.52 644.00,427.80 645.00,427.81 646.00,428.00 647.00,427.96 648.00,427.87 649.00,427.94 650.00,427.97 651.00,428.42 652.00,428.13 653.00,428.15 654.00,428.69 655.00,428.37 656.00,428.77 657.00,428.43 658.00,428.67 659.00,428.60 660.00,428.96 661.00,428.90 662.00,428.95 663.00,429.06 664.00,429.15 665.00,428.93 666.00,429.10 667.00,429.06 668.00,428.92 669.00,429.32 670.00,429.23 671.00,429.37 672.00,429.10 673.00,429.29 674.00,429.28 675.00,429.44 676.00,429.14 677.00,429.37" fill="none" stroke="#4a4a4a" stroke-width="1.1" stroke-linejoin="round" stroke-linecap="round" />
<polyline points="557.00,317.02 558.00,320.29 559.00,323.46 560.00,326.53 561.00,329.52 562.00,332.42 563.00,335.24 564.00,337.97 565.00,340.62 566.00,343.19 567.00,345.69 568.00,348.12 569.00,350.47 570.00,352.76 571.00,354.98 572.00,357.13 573.00,359.23 574.00,361.26 575.00,363.23 576.00,365.14 577.00,367.00 578.00,368.80 579.00,370.55 580.00,372.25 581.00,373.90 582.00,375.50 583.00,376.98 584.00,378.55 585.00,379.81 586.00,381.47 587.00,382.94 588.00,384.13 589.00,385.54 590.00,386.78 591.00,387.81 592.00,389.07 593.00,390.55 594.00,391.34 595.00,392.47 596.00,393.35 597.00,394.45 598.00,395.42 599.00,396.76 600.00,397.60 601.00,398.59 602.00,399.52 603.00,400.20 604.00,401.19 605.00,401.80 606.00,402.53 607.00,403.55 608.00,404.27 609.00,405.01 610.00,405.47 611.00,406.30 612.00,406.77 613.00,407.70 614.00,408.28 615.00,408.57 616.00,409.47 617.00,409.66 618.00,410.17 619.00,411.02 620.00,411.32 621.00,411.93 622.00,412.48 623.00,412.66 624.00,413.47 625.00,413.68 626.00,414.19 627.00,414.57 628.00,415.18 629.00,415.57 630.00,415.73 631.00,416.01 632.00,416.47 633.00,416.88 634.00,417.05 635.00,417.42 636.00,418.05 637.00,418.33 638.00,418.77 639.00,419.07 640.00,419.30 641.00,419.33 642.00,419.49 643.00,419.83 644.00,420.16 645.00,420.44 646.00,420.68 647.00,420.83 648.00,421.30 649.00,421.23 650.00,421.53 651.00,421.95 652.00,422.11 653.00,422.05 654.00,422.21 655.00,422.68 656.00,422.46 657.00,422.69 658.00,423.06 659.00,423.22 660.00,423.20 661.00,423.29 662.00,423.52 663.00,423.95 664.00,423.93 665.00,424.33 666.00,424.36 667.00,424.59 668.00,424.24 669.00,424.43 670.00,424.47 671.00,424.79 672.00,424.85 673.00,424.82 674.00,425.17 675.00,425.04 676.00,425.25 677.00,425.44" fill="none" stroke="#e2474a" stroke-width="1.1" stroke-linejoin="round" stroke-linecap="round" />
<line x1="642.3" y1="332" x2="654.3" y2="332" stroke="#e2474a" stroke-width="1.4" />
<text x="657.6" y="336.3" font-size="11.5" text-anchor="start" fill="#1a1a1a" >4.1</text>
<line x1="642.3" y1="345.3" x2="654.3" y2="345.3" stroke="#4a4a4a" stroke-width="1.4" />
<text x="657.6" y="349.6" font-size="11.5" text-anchor="start" fill="#1a1a1a" >4.6</text>
<line x1="642.3" y1="359" x2="654.3" y2="359" stroke="#9b6fc6" stroke-width="1.4" />
<text x="657.6" y="363.3" font-size="11.5" text-anchor="start" fill="#1a1a1a" >9.2</text>
<rect x="129.60" y="690.1" width="14.2" height="6.20" fill="url(#gOr)"/>
<rect x="129.60" y="698.2" width="14.2" height="46.00" fill="url(#gOr)"/>
<rect x="143.80" y="710.7" width="13.9" height="33.50" fill="url(#gGr)"/>
<rect x="164.33" y="684" width="14.2" height="12.30" fill="url(#gOr)"/>
<rect x="164.33" y="698.2" width="14.2" height="46.00" fill="url(#gOr)"/>
<rect x="178.53" y="719.7" width="13.9" height="24.50" fill="url(#gGr)"/>
<rect x="199.06" y="675.7" width="14.2" height="20.60" fill="url(#gOr)"/>
<rect x="199.06" y="698.2" width="14.2" height="46.00" fill="url(#gOr)"/>
<rect x="213.26" y="721.9" width="13.9" height="22.30" fill="url(#gGr)"/>
<rect x="233.79" y="657.7" width="14.2" height="38.60" fill="url(#gOr)"/>
<rect x="233.79" y="698.2" width="14.2" height="46.00" fill="url(#gOr)"/>
<rect x="247.99" y="719.7" width="13.9" height="24.50" fill="url(#gGr)"/>
<rect x="268.52" y="689.7" width="14.2" height="6.60" fill="url(#gOr)"/>
<rect x="268.52" y="698.2" width="14.2" height="46.00" fill="url(#gOr)"/>
<rect x="282.72" y="742.3" width="13.9" height="1.90" fill="url(#gGr)"/>
<rect x="303.25" y="657" width="14.2" height="39.30" fill="url(#gOr)"/>
<rect x="303.25" y="698.2" width="14.2" height="46.00" fill="url(#gOr)"/>
<rect x="317.45" y="721.3" width="13.9" height="22.90" fill="url(#gGr)"/>
<rect x="337.98" y="640.7" width="14.2" height="55.60" fill="url(#gOr)"/>
<rect x="337.98" y="698.2" width="14.2" height="46.00" fill="url(#gOr)"/>
<rect x="352.18" y="715.4" width="13.9" height="28.80" fill="url(#gGr)"/>
<rect x="372.71" y="680.4" width="14.2" height="15.90" fill="url(#gOr)"/>
<rect x="372.71" y="698.2" width="14.2" height="46.00" fill="url(#gOr)"/>
<rect x="386.91" y="710.3" width="13.9" height="33.90" fill="url(#gGr)"/>
<rect x="407.44" y="641.3" width="14.2" height="55.00" fill="url(#gOr)"/>
<rect x="407.44" y="698.2" width="14.2" height="46.00" fill="url(#gOr)"/>
<rect x="421.64" y="715.3" width="13.9" height="28.90" fill="url(#gGr)"/>
<rect x="442.17" y="694.3" width="14.2" height="2.00" fill="url(#gOr)"/>
<rect x="442.17" y="698.2" width="14.2" height="46.00" fill="url(#gOr)"/>
<rect x="456.37" y="702.7" width="13.9" height="41.50" fill="url(#gGr)"/>
<rect x="476.90" y="728.1" width="14.2" height="16.10" fill="url(#gOr)"/>
<rect x="491.10" y="702.4" width="13.9" height="41.80" fill="url(#gGr)"/>
<rect x="511.63" y="736.2" width="14.2" height="8.00" fill="url(#gOr)"/>
<rect x="525.83" y="690.7" width="13.9" height="53.50" fill="url(#gGr)"/>
<rect x="546.36" y="740.7" width="14.2" height="3.50" fill="url(#gOr)"/>
<rect x="560.56" y="656.0" width="13.9" height="88.20" fill="url(#gGr)"/>
<line x1="109.2" y1="626.6" x2="594.4" y2="626.6" stroke="#333" stroke-width="1" />
<line x1="109.2" y1="744.2" x2="594.4" y2="744.2" stroke="#333" stroke-width="1.1" />
<line x1="60.6" y1="626.6" x2="60.6" y2="744.4" stroke="#333" stroke-width="0.9" />
<line x1="60.6" y1="626.6" x2="64.1" y2="626.6" stroke="#333" stroke-width="0.9" />
<text x="55" y="631.1" font-size="12.5" text-anchor="end" fill="#111" >60</text>
<line x1="60.6" y1="660.2" x2="64.1" y2="660.2" stroke="#333" stroke-width="0.9" />
<text x="55" y="664.7" font-size="12.5" text-anchor="end" fill="#111" >40</text>
<line x1="60.6" y1="693.7" x2="64.1" y2="693.7" stroke="#333" stroke-width="0.9" />
<text x="55" y="698.2" font-size="12.5" text-anchor="end" fill="#111" >20</text>
<line x1="60.6" y1="727.5" x2="64.1" y2="727.5" stroke="#333" stroke-width="0.9" />
<text x="55" y="732.0" font-size="12.5" text-anchor="end" fill="#111" >0</text>
<line x1="60.6" y1="643.3" x2="62.6" y2="643.3" stroke="#333" stroke-width="0.8" />
<line x1="60.6" y1="676.7" x2="62.6" y2="676.7" stroke="#333" stroke-width="0.8" />
<line x1="60.6" y1="710.6" x2="62.6" y2="710.6" stroke="#333" stroke-width="0.8" />
<text x="35.6" y="680.3" font-size="13.3" text-anchor="middle" fill="#111" transform="rotate(-90 35.6 680.3)" >Fracture stress (MPa)</text>
<line x1="109.2" y1="626.6" x2="109.2" y2="695.2" stroke="#e8843f" stroke-width="0.9" />
<line x1="109.2" y1="698.5" x2="109.2" y2="744.2" stroke="#e8843f" stroke-width="0.9" />
<path d="M106.2,697 l6,-3 M106.2,700 l6,-3" stroke="#e8843f" stroke-width="0.9" fill="none"/>
<line x1="109.2" y1="626.6" x2="112.7" y2="626.6" stroke="#e8843f" stroke-width="0.9" />
<text x="107.3" y="630.9" font-size="12" text-anchor="end" fill="#e8843f" >800</text>
<line x1="109.2" y1="644.4" x2="112.7" y2="644.4" stroke="#e8843f" stroke-width="0.9" />
<text x="107.3" y="648.6999999999999" font-size="12" text-anchor="end" fill="#e8843f" >600</text>
<line x1="109.2" y1="662.5" x2="112.7" y2="662.5" stroke="#e8843f" stroke-width="0.9" />
<text x="107.3" y="666.8" font-size="12" text-anchor="end" fill="#e8843f" >400</text>
<line x1="109.2" y1="680.3" x2="112.7" y2="680.3" stroke="#e8843f" stroke-width="0.9" />
<text x="107.3" y="684.5999999999999" font-size="12" text-anchor="end" fill="#e8843f" >200</text>
<line x1="109.2" y1="709.7" x2="112.7" y2="709.7" stroke="#e8843f" stroke-width="0.9" />
<text x="107.3" y="714.0" font-size="12" text-anchor="end" fill="#e8843f" >6</text>
<line x1="109.2" y1="721.2" x2="112.7" y2="721.2" stroke="#e8843f" stroke-width="0.9" />
<text x="107.3" y="725.5" font-size="12" text-anchor="end" fill="#e8843f" >4</text>
<line x1="109.2" y1="732.8" x2="112.7" y2="732.8" stroke="#e8843f" stroke-width="0.9" />
<text x="107.3" y="737.0999999999999" font-size="12" text-anchor="end" fill="#e8843f" >2</text>
<line x1="109.2" y1="743.9" x2="112.7" y2="743.9" stroke="#e8843f" stroke-width="0.9" />
<text x="107.3" y="748.1999999999999" font-size="12" text-anchor="end" fill="#e8843f" >0</text>
<line x1="109.2" y1="635.5" x2="111.2" y2="635.5" stroke="#e8843f" stroke-width="0.8" />
<line x1="109.2" y1="653.6" x2="111.2" y2="653.6" stroke="#e8843f" stroke-width="0.8" />
<line x1="109.2" y1="671.4" x2="111.2" y2="671.4" stroke="#e8843f" stroke-width="0.8" />
<line x1="109.2" y1="689.2" x2="111.2" y2="689.2" stroke="#e8843f" stroke-width="0.8" />
<line x1="109.2" y1="704" x2="111.2" y2="704" stroke="#e8843f" stroke-width="0.8" />
<line x1="109.2" y1="715.4" x2="111.2" y2="715.4" stroke="#e8843f" stroke-width="0.8" />
<line x1="109.2" y1="727" x2="111.2" y2="727" stroke="#e8843f" stroke-width="0.8" />
<line x1="109.2" y1="738.5" x2="111.2" y2="738.5" stroke="#e8843f" stroke-width="0.8" />
<text x="81.2" y="685.2" font-size="13.3" text-anchor="middle" fill="#e8843f" transform="rotate(-90 81.2 685.2)" >Modulus (MPa)</text>
<line x1="594.4" y1="626.6" x2="594.4" y2="744.2" stroke="#43a96a" stroke-width="0.9" />
<line x1="594.4" y1="744" x2="590.4" y2="744" stroke="#43a96a" stroke-width="0.9" />
<text x="597" y="748" font-size="11" text-anchor="start" fill="#43a96a" >0</text>
<line x1="594.4" y1="712.8" x2="590.4" y2="712.8" stroke="#43a96a" stroke-width="0.9" />
<text x="597" y="716.8" font-size="11" text-anchor="start" fill="#43a96a" >400</text>
<line x1="594.4" y1="681" x2="590.4" y2="681" stroke="#43a96a" stroke-width="0.9" />
<text x="597" y="685" font-size="11" text-anchor="start" fill="#43a96a" >800</text>
<line x1="594.4" y1="649.8" x2="590.4" y2="649.8" stroke="#43a96a" stroke-width="0.9" />
<text x="597" y="653.8" font-size="11" text-anchor="start" fill="#43a96a" >1200</text>
<line x1="594.4" y1="728.2" x2="591.9" y2="728.2" stroke="#43a96a" stroke-width="0.8" />
<line x1="594.4" y1="697.3" x2="591.9" y2="697.3" stroke="#43a96a" stroke-width="0.8" />
<line x1="594.4" y1="665.6" x2="591.9" y2="665.6" stroke="#43a96a" stroke-width="0.8" />
<line x1="594.4" y1="634.7" x2="591.9" y2="634.7" stroke="#43a96a" stroke-width="0.8" />
<text x="633.5" y="687.5" font-size="13.3" text-anchor="middle" fill="#43a96a" transform="rotate(-90 633.5 687.5)" >Fracture strain (%)</text>
<line x1="645.9" y1="626.6" x2="645.9" y2="744.2" stroke="#4a77c4" stroke-width="1" />
<line x1="645.9" y1="744.0" x2="641.9" y2="744.0" stroke="#4a77c4" stroke-width="0.9" />
<text x="650" y="748.0" font-size="11" fill="#4a77c4">10<tspan dy="-5" font-size="7.5">0</tspan></text>
<line x1="645.9" y1="723.4" x2="641.9" y2="723.4" stroke="#4a77c4" stroke-width="0.9" />
<text x="650" y="727.4" font-size="11" fill="#4a77c4">10<tspan dy="-5" font-size="7.5">1</tspan></text>
<line x1="645.9" y1="702.8" x2="641.9" y2="702.8" stroke="#4a77c4" stroke-width="0.9" />
<text x="650" y="706.8" font-size="11" fill="#4a77c4">10<tspan dy="-5" font-size="7.5">2</tspan></text>
<line x1="645.9" y1="682.2" x2="641.9" y2="682.2" stroke="#4a77c4" stroke-width="0.9" />
<text x="650" y="686.2" font-size="11" fill="#4a77c4">10<tspan dy="-5" font-size="7.5">3</tspan></text>
<line x1="645.9" y1="661.6" x2="641.9" y2="661.6" stroke="#4a77c4" stroke-width="0.9" />
<text x="650" y="665.6" font-size="11" fill="#4a77c4">10<tspan dy="-5" font-size="7.5">4</tspan></text>
<line x1="645.9" y1="641.0" x2="641.9" y2="641.0" stroke="#4a77c4" stroke-width="0.9" />
<text x="650" y="645.0" font-size="11" fill="#4a77c4">10<tspan dy="-5" font-size="7.5">5</tspan></text>
<line x1="645.9" y1="737.798782089322" x2="643.9" y2="737.798782089322" stroke="#4a77c4" stroke-width="0.6" />
<line x1="645.9" y1="734.171302152775" x2="643.9" y2="734.171302152775" stroke="#4a77c4" stroke-width="0.6" />
<line x1="645.9" y1="731.597564178644" x2="643.9" y2="731.597564178644" stroke="#4a77c4" stroke-width="0.6" />
<line x1="645.9" y1="729.601217910678" x2="643.9" y2="729.601217910678" stroke="#4a77c4" stroke-width="0.6" />
<line x1="645.9" y1="727.970084242097" x2="643.9" y2="727.970084242097" stroke="#4a77c4" stroke-width="0.6" />
<line x1="645.9" y1="726.5909803757063" x2="643.9" y2="726.5909803757063" stroke="#4a77c4" stroke-width="0.6" />
<line x1="645.9" y1="725.396346267966" x2="643.9" y2="725.396346267966" stroke="#4a77c4" stroke-width="0.6" />
<line x1="645.9" y1="724.3426043055499" x2="643.9" y2="724.3426043055499" stroke="#4a77c4" stroke-width="0.6" />
<line x1="645.9" y1="717.198782089322" x2="643.9" y2="717.198782089322" stroke="#4a77c4" stroke-width="0.6" />
<line x1="645.9" y1="713.5713021527749" x2="643.9" y2="713.5713021527749" stroke="#4a77c4" stroke-width="0.6" />
<line x1="645.9" y1="710.997564178644" x2="643.9" y2="710.997564178644" stroke="#4a77c4" stroke-width="0.6" />
<line x1="645.9" y1="709.001217910678" x2="643.9" y2="709.001217910678" stroke="#4a77c4" stroke-width="0.6" />
<line x1="645.9" y1="707.3700842420969" x2="643.9" y2="707.3700842420969" stroke="#4a77c4" stroke-width="0.6" />
<line x1="645.9" y1="705.9909803757063" x2="643.9" y2="705.9909803757063" stroke="#4a77c4" stroke-width="0.6" />
<line x1="645.9" y1="704.796346267966" x2="643.9" y2="704.796346267966" stroke="#4a77c4" stroke-width="0.6" />
<line x1="645.9" y1="703.7426043055499" x2="643.9" y2="703.7426043055499" stroke="#4a77c4" stroke-width="0.6" />
<line x1="645.9" y1="696.598782089322" x2="643.9" y2="696.598782089322" stroke="#4a77c4" stroke-width="0.6" />
<line x1="645.9" y1="692.9713021527749" x2="643.9" y2="692.9713021527749" stroke="#4a77c4" stroke-width="0.6" />
<line x1="645.9" y1="690.397564178644" x2="643.9" y2="690.397564178644" stroke="#4a77c4" stroke-width="0.6" />
<line x1="645.9" y1="688.401217910678" x2="643.9" y2="688.401217910678" stroke="#4a77c4" stroke-width="0.6" />
<line x1="645.9" y1="686.7700842420969" x2="643.9" y2="686.7700842420969" stroke="#4a77c4" stroke-width="0.6" />
<line x1="645.9" y1="685.3909803757062" x2="643.9" y2="685.3909803757062" stroke="#4a77c4" stroke-width="0.6" />
<line x1="645.9" y1="684.196346267966" x2="643.9" y2="684.196346267966" stroke="#4a77c4" stroke-width="0.6" />
<line x1="645.9" y1="683.1426043055499" x2="643.9" y2="683.1426043055499" stroke="#4a77c4" stroke-width="0.6" />
<line x1="645.9" y1="675.9987820893219" x2="643.9" y2="675.9987820893219" stroke="#4a77c4" stroke-width="0.6" />
<line x1="645.9" y1="672.3713021527749" x2="643.9" y2="672.3713021527749" stroke="#4a77c4" stroke-width="0.6" />
<line x1="645.9" y1="669.7975641786439" x2="643.9" y2="669.7975641786439" stroke="#4a77c4" stroke-width="0.6" />
<line x1="645.9" y1="667.801217910678" x2="643.9" y2="667.801217910678" stroke="#4a77c4" stroke-width="0.6" />
<line x1="645.9" y1="666.1700842420969" x2="643.9" y2="666.1700842420969" stroke="#4a77c4" stroke-width="0.6" />
<line x1="645.9" y1="664.7909803757063" x2="643.9" y2="664.7909803757063" stroke="#4a77c4" stroke-width="0.6" />
<line x1="645.9" y1="663.5963462679659" x2="643.9" y2="663.5963462679659" stroke="#4a77c4" stroke-width="0.6" />
<line x1="645.9" y1="662.54260430555" x2="643.9" y2="662.54260430555" stroke="#4a77c4" stroke-width="0.6" />
<line x1="645.9" y1="655.398782089322" x2="643.9" y2="655.398782089322" stroke="#4a77c4" stroke-width="0.6" />
<line x1="645.9" y1="651.771302152775" x2="643.9" y2="651.771302152775" stroke="#4a77c4" stroke-width="0.6" />
<line x1="645.9" y1="649.1975641786439" x2="643.9" y2="649.1975641786439" stroke="#4a77c4" stroke-width="0.6" />
<line x1="645.9" y1="647.201217910678" x2="643.9" y2="647.201217910678" stroke="#4a77c4" stroke-width="0.6" />
<line x1="645.9" y1="645.570084242097" x2="643.9" y2="645.570084242097" stroke="#4a77c4" stroke-width="0.6" />
<line x1="645.9" y1="644.1909803757063" x2="643.9" y2="644.1909803757063" stroke="#4a77c4" stroke-width="0.6" />
<line x1="645.9" y1="642.9963462679659" x2="643.9" y2="642.9963462679659" stroke="#4a77c4" stroke-width="0.6" />
<line x1="645.9" y1="641.9426043055499" x2="643.9" y2="641.9426043055499" stroke="#4a77c4" stroke-width="0.6" />
<line x1="645.9" y1="634.798782089322" x2="643.9" y2="634.798782089322" stroke="#4a77c4" stroke-width="0.6" />
<line x1="645.9" y1="631.171302152775" x2="643.9" y2="631.171302152775" stroke="#4a77c4" stroke-width="0.6" />
<line x1="645.9" y1="628.597564178644" x2="643.9" y2="628.597564178644" stroke="#4a77c4" stroke-width="0.6" />
<line x1="645.9" y1="626.601217910678" x2="643.9" y2="626.601217910678" stroke="#4a77c4" stroke-width="0.6" />
<text x="0" y="0" font-size="13.3" fill="#4a77c4" text-anchor="middle" transform="translate(681.8 685.3) rotate(-90)">Toughness (KJ m<tspan dy="-5" font-size="9">-3</tspan><tspan dy="5">)</tspan></text>
<polyline points="143.80,709.20 178.53,708.70 213.26,707.60 247.99,696.50 282.72,720.60 317.45,698.00 352.18,677.60 386.91,698.40 421.64,677.30 456.37,689.80 491.10,711.40 525.83,720.70 560.56,725.10" fill="none" stroke="#6b6b6b" stroke-width="0.9" stroke-linejoin="round" stroke-linecap="round" />
<polyline points="143.80,652.70 178.53,653.80 213.26,652.70 247.99,649.40 282.72,685.00 317.45,649.30 352.18,643.00 386.91,648.20 421.64,642.80 456.37,647.30 491.10,657.50 525.83,662.90 560.56,667.40" fill="none" stroke="#4f7fcf" stroke-width="0.9" stroke-linejoin="round" stroke-linecap="round" />
<path d="M140.91,709.36 l1.3,-2.2 l1.3,2.2z" fill="#707070"/>
<path d="M143.86,709.17 l1.3,-2.2 l1.3,2.2z" fill="#707070"/>
<path d="M142.82,709.88 l1.3,-2.2 l1.3,2.2z" fill="#707070"/>
<path d="M138.52,710.22 l1.3,-2.2 l1.3,2.2z" fill="#707070"/>
<path d="M138.34,710.04 l1.3,-2.2 l1.3,2.2z" fill="#707070"/>
<circle cx="143.80" cy="709.20" r="1.6" fill="#707070"/>
<circle cx="139.93" cy="651.72" r="1" fill="#4f7fcf"/>
<circle cx="143.12" cy="653.48" r="1" fill="#4f7fcf"/>
<circle cx="140.41" cy="652.04" r="1" fill="#4f7fcf"/>
<circle cx="144.95" cy="653.77" r="1" fill="#4f7fcf"/>
<circle cx="144.49" cy="652.45" r="1" fill="#4f7fcf"/>
<circle cx="143.80" cy="652.70" r="1.6" fill="#4f7fcf"/>
<circle cx="141.36" cy="688.29" r="0.9" fill="#f0a050"/>
<circle cx="154.38" cy="709.86" r="0.9" fill="#5cb07a"/>
<circle cx="133.04" cy="688.57" r="0.9" fill="#f0a050"/>
<circle cx="148.88" cy="711.96" r="0.9" fill="#5cb07a"/>
<circle cx="133.41" cy="690.43" r="0.9" fill="#f0a050"/>
<circle cx="152.19" cy="710.19" r="0.9" fill="#5cb07a"/>
<circle cx="137.08" cy="688.35" r="0.9" fill="#f0a050"/>
<circle cx="146.40" cy="709.52" r="0.9" fill="#5cb07a"/>
<path d="M134.60,687.10 h4 M136.60,687.10 v5" stroke="#f0a050" stroke-width="0.8"/>
<path d="M148.80,708.20 h4 M150.80,708.20 v4" stroke="#5cb07a" stroke-width="0.8"/>
<path d="M178.85,709.53 l1.3,-2.2 l1.3,2.2z" fill="#707070"/>
<path d="M175.56,709.91 l1.3,-2.2 l1.3,2.2z" fill="#707070"/>
<path d="M176.81,709.22 l1.3,-2.2 l1.3,2.2z" fill="#707070"/>
<path d="M179.88,710.18 l1.3,-2.2 l1.3,2.2z" fill="#707070"/>
<path d="M174.93,709.88 l1.3,-2.2 l1.3,2.2z" fill="#707070"/>
<circle cx="178.53" cy="708.70" r="1.6" fill="#707070"/>
<circle cx="178.76" cy="654.70" r="1" fill="#4f7fcf"/>
<circle cx="180.60" cy="653.29" r="1" fill="#4f7fcf"/>
<circle cx="182.85" cy="652.88" r="1" fill="#4f7fcf"/>
<circle cx="177.79" cy="654.42" r="1" fill="#4f7fcf"/>
<circle cx="175.40" cy="653.77" r="1" fill="#4f7fcf"/>
<circle cx="178.53" cy="653.80" r="1.6" fill="#4f7fcf"/>
<circle cx="166.72" cy="684.67" r="0.9" fill="#f0a050"/>
<circle cx="188.18" cy="719.99" r="0.9" fill="#5cb07a"/>
<circle cx="175.08" cy="683.25" r="0.9" fill="#f0a050"/>
<circle cx="187.48" cy="720.08" r="0.9" fill="#5cb07a"/>
<circle cx="172.13" cy="683.82" r="0.9" fill="#f0a050"/>
<circle cx="188.93" cy="721.48" r="0.9" fill="#5cb07a"/>
<circle cx="171.07" cy="684.66" r="0.9" fill="#f0a050"/>
<circle cx="181.14" cy="720.51" r="0.9" fill="#5cb07a"/>
<path d="M169.33,681.00 h4 M171.33,681.00 v5" stroke="#f0a050" stroke-width="0.8"/>
<path d="M183.53,717.20 h4 M185.53,717.20 v4" stroke="#5cb07a" stroke-width="0.8"/>
<path d="M213.28,709.78 l1.3,-2.2 l1.3,2.2z" fill="#707070"/>
<path d="M214.86,708.08 l1.3,-2.2 l1.3,2.2z" fill="#707070"/>
<path d="M210.93,709.00 l1.3,-2.2 l1.3,2.2z" fill="#707070"/>
<path d="M207.66,708.51 l1.3,-2.2 l1.3,2.2z" fill="#707070"/>
<path d="M208.97,707.68 l1.3,-2.2 l1.3,2.2z" fill="#707070"/>
<circle cx="213.26" cy="707.60" r="1.6" fill="#707070"/>
<circle cx="209.29" cy="653.34" r="1" fill="#4f7fcf"/>
<circle cx="209.92" cy="652.09" r="1" fill="#4f7fcf"/>
<circle cx="212.28" cy="653.59" r="1" fill="#4f7fcf"/>
<circle cx="209.49" cy="652.58" r="1" fill="#4f7fcf"/>
<circle cx="213.70" cy="653.62" r="1" fill="#4f7fcf"/>
<circle cx="213.26" cy="652.70" r="1.6" fill="#4f7fcf"/>
<circle cx="209.25" cy="677.16" r="0.9" fill="#f0a050"/>
<circle cx="218.04" cy="721.56" r="0.9" fill="#5cb07a"/>
<circle cx="204.65" cy="677.24" r="0.9" fill="#f0a050"/>
<circle cx="224.84" cy="720.50" r="0.9" fill="#5cb07a"/>
<circle cx="202.82" cy="674.63" r="0.9" fill="#f0a050"/>
<circle cx="217.59" cy="721.84" r="0.9" fill="#5cb07a"/>
<circle cx="206.95" cy="674.75" r="0.9" fill="#f0a050"/>
<circle cx="215.30" cy="721.58" r="0.9" fill="#5cb07a"/>
<path d="M204.06,672.70 h4 M206.06,672.70 v5" stroke="#f0a050" stroke-width="0.8"/>
<path d="M218.26,719.40 h4 M220.26,719.40 v4" stroke="#5cb07a" stroke-width="0.8"/>
<path d="M245.51,697.66 l1.3,-2.2 l1.3,2.2z" fill="#707070"/>
<path d="M250.77,697.96 l1.3,-2.2 l1.3,2.2z" fill="#707070"/>
<path d="M246.83,697.78 l1.3,-2.2 l1.3,2.2z" fill="#707070"/>
<path d="M248.28,696.43 l1.3,-2.2 l1.3,2.2z" fill="#707070"/>
<path d="M250.29,698.17 l1.3,-2.2 l1.3,2.2z" fill="#707070"/>
<circle cx="247.99" cy="696.50" r="1.6" fill="#707070"/>
<circle cx="251.36" cy="650.11" r="1" fill="#4f7fcf"/>
<circle cx="247.02" cy="649.16" r="1" fill="#4f7fcf"/>
<circle cx="244.42" cy="649.72" r="1" fill="#4f7fcf"/>
<circle cx="244.05" cy="648.36" r="1" fill="#4f7fcf"/>
<circle cx="245.37" cy="648.59" r="1" fill="#4f7fcf"/>
<circle cx="247.99" cy="649.40" r="1.6" fill="#4f7fcf"/>
<circle cx="239.19" cy="655.91" r="0.9" fill="#f0a050"/>
<circle cx="249.99" cy="718.31" r="0.9" fill="#5cb07a"/>
<circle cx="236.80" cy="657.15" r="0.9" fill="#f0a050"/>
<circle cx="250.25" cy="721.20" r="0.9" fill="#5cb07a"/>
<circle cx="241.93" cy="656.29" r="0.9" fill="#f0a050"/>
<circle cx="252.51" cy="719.09" r="0.9" fill="#5cb07a"/>
<circle cx="239.43" cy="656.19" r="0.9" fill="#f0a050"/>
<circle cx="258.48" cy="721.67" r="0.9" fill="#5cb07a"/>
<path d="M238.79,654.70 h4 M240.79,654.70 v5" stroke="#f0a050" stroke-width="0.8"/>
<path d="M252.99,717.20 h4 M254.99,717.20 v4" stroke="#5cb07a" stroke-width="0.8"/>
<path d="M281.11,721.56 l1.3,-2.2 l1.3,2.2z" fill="#707070"/>
<path d="M277.69,720.65 l1.3,-2.2 l1.3,2.2z" fill="#707070"/>
<path d="M280.00,721.04 l1.3,-2.2 l1.3,2.2z" fill="#707070"/>
<path d="M284.38,720.79 l1.3,-2.2 l1.3,2.2z" fill="#707070"/>
<path d="M277.13,722.68 l1.3,-2.2 l1.3,2.2z" fill="#707070"/>
<circle cx="282.72" cy="720.60" r="1.6" fill="#707070"/>
<circle cx="282.97" cy="684.15" r="1" fill="#4f7fcf"/>
<circle cx="283.11" cy="683.86" r="1" fill="#4f7fcf"/>
<circle cx="282.97" cy="686.15" r="1" fill="#4f7fcf"/>
<circle cx="285.99" cy="685.47" r="1" fill="#4f7fcf"/>
<circle cx="280.57" cy="684.68" r="1" fill="#4f7fcf"/>
<circle cx="282.72" cy="685.00" r="1.6" fill="#4f7fcf"/>
<circle cx="272.19" cy="690.79" r="0.9" fill="#f0a050"/>
<circle cx="290.05" cy="743.42" r="0.9" fill="#5cb07a"/>
<circle cx="273.82" cy="688.59" r="0.9" fill="#f0a050"/>
<circle cx="292.84" cy="744.24" r="0.9" fill="#5cb07a"/>
<circle cx="279.05" cy="690.92" r="0.9" fill="#f0a050"/>
<circle cx="292.90" cy="743.26" r="0.9" fill="#5cb07a"/>
<circle cx="272.79" cy="689.77" r="0.9" fill="#f0a050"/>
<circle cx="288.28" cy="740.42" r="0.9" fill="#5cb07a"/>
<path d="M273.52,686.70 h4 M275.52,686.70 v5" stroke="#f0a050" stroke-width="0.8"/>
<path d="M287.72,739.80 h4 M289.72,739.80 v4" stroke="#5cb07a" stroke-width="0.8"/>
<path d="M311.90,698.47 l1.3,-2.2 l1.3,2.2z" fill="#707070"/>
<path d="M313.98,699.46 l1.3,-2.2 l1.3,2.2z" fill="#707070"/>
<path d="M320.26,698.87 l1.3,-2.2 l1.3,2.2z" fill="#707070"/>
<path d="M320.08,700.17 l1.3,-2.2 l1.3,2.2z" fill="#707070"/>
<path d="M320.25,698.68 l1.3,-2.2 l1.3,2.2z" fill="#707070"/>
<circle cx="317.45" cy="698.00" r="1.6" fill="#707070"/>
<circle cx="314.93" cy="648.64" r="1" fill="#4f7fcf"/>
<circle cx="314.72" cy="648.59" r="1" fill="#4f7fcf"/>
<circle cx="318.57" cy="650.26" r="1" fill="#4f7fcf"/>
<circle cx="320.51" cy="649.25" r="1" fill="#4f7fcf"/>
<circle cx="318.83" cy="650.02" r="1" fill="#4f7fcf"/>
<circle cx="317.45" cy="649.30" r="1.6" fill="#4f7fcf"/>
<circle cx="306.10" cy="657.64" r="0.9" fill="#f0a050"/>
<circle cx="328.55" cy="722.43" r="0.9" fill="#5cb07a"/>
<circle cx="312.75" cy="656.91" r="0.9" fill="#f0a050"/>
<circle cx="321.24" cy="722.46" r="0.9" fill="#5cb07a"/>
<circle cx="308.58" cy="658.20" r="0.9" fill="#f0a050"/>
<circle cx="329.17" cy="720.88" r="0.9" fill="#5cb07a"/>
<circle cx="309.26" cy="658.79" r="0.9" fill="#f0a050"/>
<circle cx="326.70" cy="719.98" r="0.9" fill="#5cb07a"/>
<path d="M308.25,654.00 h4 M310.25,654.00 v5" stroke="#f0a050" stroke-width="0.8"/>
<path d="M322.45,718.80 h4 M324.45,718.80 v4" stroke="#5cb07a" stroke-width="0.8"/>
<path d="M347.52,677.76 l1.3,-2.2 l1.3,2.2z" fill="#707070"/>
<path d="M354.52,679.34 l1.3,-2.2 l1.3,2.2z" fill="#707070"/>
<path d="M347.70,679.38 l1.3,-2.2 l1.3,2.2z" fill="#707070"/>
<path d="M355.20,678.98 l1.3,-2.2 l1.3,2.2z" fill="#707070"/>
<path d="M349.53,678.72 l1.3,-2.2 l1.3,2.2z" fill="#707070"/>
<circle cx="352.18" cy="677.60" r="1.6" fill="#707070"/>
<circle cx="348.86" cy="641.83" r="1" fill="#4f7fcf"/>
<circle cx="356.42" cy="643.36" r="1" fill="#4f7fcf"/>
<circle cx="352.42" cy="644.04" r="1" fill="#4f7fcf"/>
<circle cx="351.58" cy="643.89" r="1" fill="#4f7fcf"/>
<circle cx="355.12" cy="642.31" r="1" fill="#4f7fcf"/>
<circle cx="352.18" cy="643.00" r="1.6" fill="#4f7fcf"/>
<circle cx="342.50" cy="639.87" r="0.9" fill="#f0a050"/>
<circle cx="356.59" cy="715.75" r="0.9" fill="#5cb07a"/>
<circle cx="342.57" cy="640.38" r="0.9" fill="#f0a050"/>
<circle cx="355.49" cy="717.04" r="0.9" fill="#5cb07a"/>
<circle cx="343.52" cy="640.53" r="0.9" fill="#f0a050"/>
<circle cx="360.01" cy="717.02" r="0.9" fill="#5cb07a"/>
<circle cx="344.19" cy="642.37" r="0.9" fill="#f0a050"/>
<circle cx="359.20" cy="715.53" r="0.9" fill="#5cb07a"/>
<path d="M342.98,637.70 h4 M344.98,637.70 v5" stroke="#f0a050" stroke-width="0.8"/>
<path d="M357.18,712.90 h4 M359.18,712.90 v4" stroke="#5cb07a" stroke-width="0.8"/>
<path d="M385.82,698.24 l1.3,-2.2 l1.3,2.2z" fill="#707070"/>
<path d="M385.07,698.64 l1.3,-2.2 l1.3,2.2z" fill="#707070"/>
<path d="M381.15,700.12 l1.3,-2.2 l1.3,2.2z" fill="#707070"/>
<path d="M382.66,699.34 l1.3,-2.2 l1.3,2.2z" fill="#707070"/>
<path d="M387.64,699.54 l1.3,-2.2 l1.3,2.2z" fill="#707070"/>
<circle cx="386.91" cy="698.40" r="1.6" fill="#707070"/>
<circle cx="385.34" cy="648.24" r="1" fill="#4f7fcf"/>
<circle cx="387.41" cy="648.88" r="1" fill="#4f7fcf"/>
<circle cx="383.36" cy="648.34" r="1" fill="#4f7fcf"/>
<circle cx="384.65" cy="647.66" r="1" fill="#4f7fcf"/>
<circle cx="389.36" cy="648.22" r="1" fill="#4f7fcf"/>
<circle cx="386.91" cy="648.20" r="1.6" fill="#4f7fcf"/>
<circle cx="380.33" cy="681.44" r="0.9" fill="#f0a050"/>
<circle cx="398.03" cy="710.07" r="0.9" fill="#5cb07a"/>
<circle cx="380.84" cy="680.42" r="0.9" fill="#f0a050"/>
<circle cx="394.03" cy="711.07" r="0.9" fill="#5cb07a"/>
<circle cx="379.23" cy="680.53" r="0.9" fill="#f0a050"/>
<circle cx="393.69" cy="712.07" r="0.9" fill="#5cb07a"/>
<circle cx="381.70" cy="681.91" r="0.9" fill="#f0a050"/>
<circle cx="398.33" cy="709.34" r="0.9" fill="#5cb07a"/>
<path d="M377.71,677.40 h4 M379.71,677.40 v5" stroke="#f0a050" stroke-width="0.8"/>
<path d="M391.91,707.80 h4 M393.91,707.80 v4" stroke="#5cb07a" stroke-width="0.8"/>
<path d="M420.88,679.36 l1.3,-2.2 l1.3,2.2z" fill="#707070"/>
<path d="M423.40,677.43 l1.3,-2.2 l1.3,2.2z" fill="#707070"/>
<path d="M416.93,678.16 l1.3,-2.2 l1.3,2.2z" fill="#707070"/>
<path d="M416.49,677.68 l1.3,-2.2 l1.3,2.2z" fill="#707070"/>
<path d="M416.50,678.71 l1.3,-2.2 l1.3,2.2z" fill="#707070"/>
<circle cx="421.64" cy="677.30" r="1.6" fill="#707070"/>
<circle cx="424.20" cy="643.75" r="1" fill="#4f7fcf"/>
<circle cx="418.53" cy="643.32" r="1" fill="#4f7fcf"/>
<circle cx="423.08" cy="641.94" r="1" fill="#4f7fcf"/>
<circle cx="425.09" cy="643.92" r="1" fill="#4f7fcf"/>
<circle cx="419.12" cy="643.89" r="1" fill="#4f7fcf"/>
<circle cx="421.64" cy="642.80" r="1.6" fill="#4f7fcf"/>
<circle cx="413.42" cy="641.25" r="0.9" fill="#f0a050"/>
<circle cx="433.54" cy="716.63" r="0.9" fill="#5cb07a"/>
<circle cx="411.05" cy="641.03" r="0.9" fill="#f0a050"/>
<circle cx="428.80" cy="714.66" r="0.9" fill="#5cb07a"/>
<circle cx="411.40" cy="640.57" r="0.9" fill="#f0a050"/>
<circle cx="430.86" cy="713.38" r="0.9" fill="#5cb07a"/>
<circle cx="414.98" cy="641.06" r="0.9" fill="#f0a050"/>
<circle cx="423.82" cy="714.63" r="0.9" fill="#5cb07a"/>
<path d="M412.44,638.30 h4 M414.44,638.30 v5" stroke="#f0a050" stroke-width="0.8"/>
<path d="M426.64,712.80 h4 M428.64,712.80 v4" stroke="#5cb07a" stroke-width="0.8"/>
<path d="M456.19,690.83 l1.3,-2.2 l1.3,2.2z" fill="#707070"/>
<path d="M451.15,691.96 l1.3,-2.2 l1.3,2.2z" fill="#707070"/>
<path d="M457.67,691.93 l1.3,-2.2 l1.3,2.2z" fill="#707070"/>
<path d="M451.51,690.24 l1.3,-2.2 l1.3,2.2z" fill="#707070"/>
<path d="M450.93,691.47 l1.3,-2.2 l1.3,2.2z" fill="#707070"/>
<circle cx="456.37" cy="689.80" r="1.6" fill="#707070"/>
<circle cx="454.30" cy="646.41" r="1" fill="#4f7fcf"/>
<circle cx="455.67" cy="648.29" r="1" fill="#4f7fcf"/>
<circle cx="459.24" cy="646.72" r="1" fill="#4f7fcf"/>
<circle cx="453.21" cy="648.31" r="1" fill="#4f7fcf"/>
<circle cx="457.01" cy="647.78" r="1" fill="#4f7fcf"/>
<circle cx="456.37" cy="647.30" r="1.6" fill="#4f7fcf"/>
<circle cx="445.06" cy="692.53" r="0.9" fill="#f0a050"/>
<circle cx="465.25" cy="702.40" r="0.9" fill="#5cb07a"/>
<circle cx="444.89" cy="696.05" r="0.9" fill="#f0a050"/>
<circle cx="464.71" cy="703.91" r="0.9" fill="#5cb07a"/>
<circle cx="445.01" cy="695.72" r="0.9" fill="#f0a050"/>
<circle cx="459.04" cy="704.15" r="0.9" fill="#5cb07a"/>
<circle cx="448.71" cy="693.66" r="0.9" fill="#f0a050"/>
<circle cx="463.90" cy="704.41" r="0.9" fill="#5cb07a"/>
<path d="M447.17,691.30 h4 M449.17,691.30 v5" stroke="#f0a050" stroke-width="0.8"/>
<path d="M461.37,700.20 h4 M463.37,700.20 v4" stroke="#5cb07a" stroke-width="0.8"/>
<path d="M487.71,711.51 l1.3,-2.2 l1.3,2.2z" fill="#707070"/>
<path d="M490.04,711.77 l1.3,-2.2 l1.3,2.2z" fill="#707070"/>
<path d="M486.29,711.59 l1.3,-2.2 l1.3,2.2z" fill="#707070"/>
<path d="M485.75,711.68 l1.3,-2.2 l1.3,2.2z" fill="#707070"/>
<path d="M488.11,711.93 l1.3,-2.2 l1.3,2.2z" fill="#707070"/>
<circle cx="491.10" cy="711.40" r="1.6" fill="#707070"/>
<circle cx="493.44" cy="657.00" r="1" fill="#4f7fcf"/>
<circle cx="491.10" cy="656.73" r="1" fill="#4f7fcf"/>
<circle cx="489.72" cy="656.34" r="1" fill="#4f7fcf"/>
<circle cx="488.85" cy="656.34" r="1" fill="#4f7fcf"/>
<circle cx="493.20" cy="657.62" r="1" fill="#4f7fcf"/>
<circle cx="491.10" cy="657.50" r="1.6" fill="#4f7fcf"/>
<circle cx="480.79" cy="728.00" r="0.9" fill="#f0a050"/>
<circle cx="502.45" cy="700.83" r="0.9" fill="#5cb07a"/>
<circle cx="487.09" cy="727.83" r="0.9" fill="#f0a050"/>
<circle cx="498.05" cy="703.74" r="0.9" fill="#5cb07a"/>
<circle cx="482.83" cy="728.13" r="0.9" fill="#f0a050"/>
<circle cx="499.98" cy="704.33" r="0.9" fill="#5cb07a"/>
<circle cx="482.33" cy="729.43" r="0.9" fill="#f0a050"/>
<circle cx="500.17" cy="702.94" r="0.9" fill="#5cb07a"/>
<path d="M481.90,725.10 h4 M483.90,725.10 v5" stroke="#f0a050" stroke-width="0.8"/>
<path d="M496.10,699.90 h4 M498.10,699.90 v4" stroke="#5cb07a" stroke-width="0.8"/>
<path d="M523.67,721.33 l1.3,-2.2 l1.3,2.2z" fill="#707070"/>
<path d="M520.52,720.81 l1.3,-2.2 l1.3,2.2z" fill="#707070"/>
<path d="M520.67,722.28 l1.3,-2.2 l1.3,2.2z" fill="#707070"/>
<path d="M522.33,720.89 l1.3,-2.2 l1.3,2.2z" fill="#707070"/>
<path d="M520.79,722.52 l1.3,-2.2 l1.3,2.2z" fill="#707070"/>
<circle cx="525.83" cy="720.70" r="1.6" fill="#707070"/>
<circle cx="529.16" cy="663.31" r="1" fill="#4f7fcf"/>
<circle cx="523.87" cy="662.28" r="1" fill="#4f7fcf"/>
<circle cx="523.97" cy="662.80" r="1" fill="#4f7fcf"/>
<circle cx="522.75" cy="662.77" r="1" fill="#4f7fcf"/>
<circle cx="523.70" cy="664.01" r="1" fill="#4f7fcf"/>
<circle cx="525.83" cy="662.90" r="1.6" fill="#4f7fcf"/>
<circle cx="523.36" cy="736.39" r="0.9" fill="#f0a050"/>
<circle cx="530.27" cy="692.56" r="0.9" fill="#5cb07a"/>
<circle cx="516.73" cy="735.63" r="0.9" fill="#f0a050"/>
<circle cx="527.84" cy="690.23" r="0.9" fill="#5cb07a"/>
<circle cx="518.38" cy="736.21" r="0.9" fill="#f0a050"/>
<circle cx="529.84" cy="690.72" r="0.9" fill="#5cb07a"/>
<circle cx="513.68" cy="735.26" r="0.9" fill="#f0a050"/>
<circle cx="528.73" cy="690.30" r="0.9" fill="#5cb07a"/>
<path d="M516.63,733.20 h4 M518.63,733.20 v5" stroke="#f0a050" stroke-width="0.8"/>
<path d="M530.83,688.20 h4 M532.83,688.20 v4" stroke="#5cb07a" stroke-width="0.8"/>
<path d="M555.14,724.95 l1.3,-2.2 l1.3,2.2z" fill="#707070"/>
<path d="M557.50,725.46 l1.3,-2.2 l1.3,2.2z" fill="#707070"/>
<path d="M560.03,726.17 l1.3,-2.2 l1.3,2.2z" fill="#707070"/>
<path d="M561.51,726.48 l1.3,-2.2 l1.3,2.2z" fill="#707070"/>
<path d="M561.20,727.01 l1.3,-2.2 l1.3,2.2z" fill="#707070"/>
<circle cx="560.56" cy="725.10" r="1.6" fill="#707070"/>
<circle cx="559.57" cy="666.98" r="1" fill="#4f7fcf"/>
<circle cx="564.92" cy="666.56" r="1" fill="#4f7fcf"/>
<circle cx="562.58" cy="667.74" r="1" fill="#4f7fcf"/>
<circle cx="556.45" cy="668.20" r="1" fill="#4f7fcf"/>
<circle cx="564.09" cy="667.71" r="1" fill="#4f7fcf"/>
<circle cx="560.56" cy="667.40" r="1.6" fill="#4f7fcf"/>
<circle cx="555.70" cy="741.95" r="0.9" fill="#f0a050"/>
<circle cx="563.95" cy="656.10" r="0.9" fill="#5cb07a"/>
<circle cx="553.40" cy="742.04" r="0.9" fill="#f0a050"/>
<circle cx="570.61" cy="657.31" r="0.9" fill="#5cb07a"/>
<circle cx="554.20" cy="742.27" r="0.9" fill="#f0a050"/>
<circle cx="569.39" cy="656.77" r="0.9" fill="#5cb07a"/>
<circle cx="550.66" cy="738.82" r="0.9" fill="#f0a050"/>
<circle cx="563.89" cy="655.44" r="0.9" fill="#5cb07a"/>
<path d="M551.36,737.70 h4 M553.36,737.70 v5" stroke="#f0a050" stroke-width="0.8"/>
<path d="M565.56,653.50 h4 M567.56,653.50 v4" stroke="#5cb07a" stroke-width="0.8"/>
<text x="0" y="0" font-size="11.5" text-anchor="end" fill="#111" transform="translate(150.9 760) rotate(-30)">IPA</text>
<text x="0" y="0" font-size="11.5" text-anchor="end" fill="#111" transform="translate(183.7 760) rotate(-30)">EtOH</text>
<text x="0" y="0" font-size="11.5" text-anchor="end" fill="#111" transform="translate(217.4 759.5) rotate(-30)">MeOH</text>
<text x="0" y="0" font-size="11.5" text-anchor="end" fill="#111" transform="translate(262.5 759) rotate(-30)">70% MeOH</text>
<text x="283.02" y="758.7" font-size="11.5" text-anchor="middle" fill="#111" >1:1</text>
<text x="317.75" y="758.7" font-size="11.5" text-anchor="middle" fill="#111" >1:2</text>
<text x="352.48" y="758.7" font-size="11.5" text-anchor="middle" fill="#111" >1:4</text>
<text x="387.21" y="758.7" font-size="11.5" text-anchor="middle" fill="#111" >1:6</text>
<text x="421.93999999999994" y="758.7" font-size="11.5" text-anchor="middle" fill="#111" >4.1</text>
<text x="456.66999999999996" y="758.7" font-size="11.5" text-anchor="middle" fill="#111" >4.6</text>
<text x="491.4" y="758.7" font-size="11.5" text-anchor="middle" fill="#111" >5.1</text>
<text x="526.13" y="758.7" font-size="11.5" text-anchor="middle" fill="#111" >6.3</text>
<text x="560.86" y="758.7" font-size="11.5" text-anchor="middle" fill="#111" >9.2</text>
<line x1="278.6" y1="761.9" x2="394" y2="761.9" stroke="#333" stroke-width="1.8" />
<line x1="418" y1="761.9" x2="569.3" y2="761.9" stroke="#333" stroke-width="1.8" />
<text x="337" y="778.5" font-size="11.5" text-anchor="middle" fill="#111" >PAM:PANa</text>
<text x="490.5" y="778.5" font-size="11.5" text-anchor="middle" fill="#111" >pH</text>
</svg></body></html>
